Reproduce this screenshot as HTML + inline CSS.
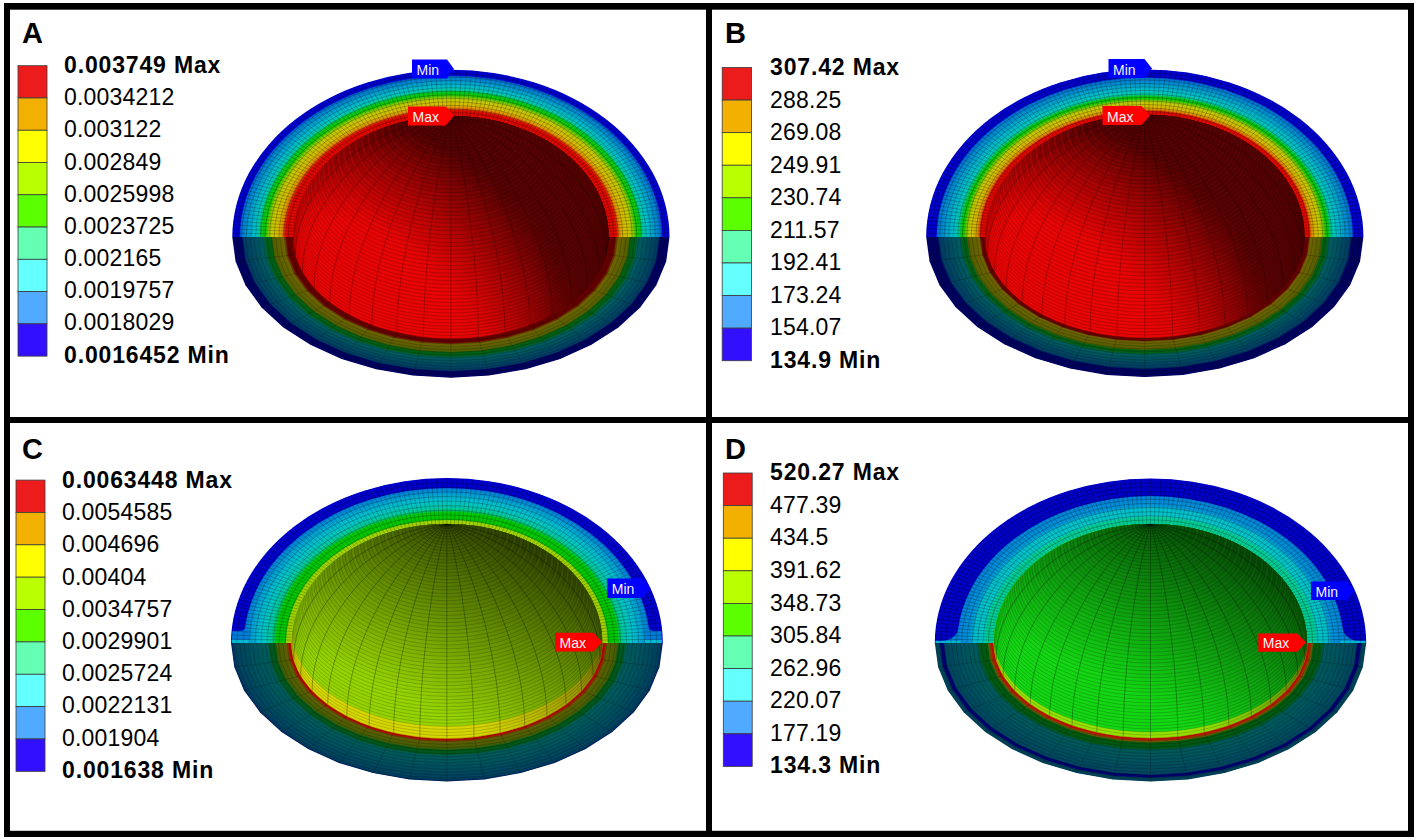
<!DOCTYPE html>
<html><head><meta charset="utf-8"><style>
html,body{margin:0;padding:0;background:#fff;}
svg{display:block;}
text{font-family:"Liberation Sans",sans-serif;fill:#000;}
.let{font-weight:bold;font-size:29px;}
.lb{font-weight:bold;font-size:23px;letter-spacing:0.85px;}
.lr{font-size:23px;letter-spacing:0.2px;}
.tg{font-size:14px;fill:#f4f4f4;}
</style></head><body><svg width="1417" height="840" viewBox="0 0 1417 840">
<rect width="1417" height="840" fill="#fff"/>
<g><path d="M232.30,237.10 A218.60,167.30 0 0 1 669.50,237.10 Z" fill="rgb(0,0,205)"/><path d="M232.97,237.10 A217.93,166.79 0 0 1 668.83,237.10 Z" fill="rgb(0,0,205)"/><path d="M233.65,237.10 A217.25,166.27 0 0 1 668.15,237.10 Z" fill="rgb(0,0,205)"/><path d="M234.32,237.10 A216.58,165.76 0 0 1 667.48,237.10 Z" fill="rgb(0,0,205)"/><path d="M234.99,237.10 A215.91,165.25 0 0 1 666.81,237.10 Z" fill="rgb(0,0,205)"/><path d="M235.67,237.10 A215.23,164.73 0 0 1 666.13,237.10 Z" fill="rgb(0,0,205)"/><path d="M236.34,237.10 A214.56,164.22 0 0 1 665.46,237.10 Z" fill="rgb(0,0,205)"/><path d="M237.01,237.10 A213.89,163.71 0 0 1 664.79,237.10 Z" fill="rgb(0,0,205)"/><path d="M237.69,237.10 A213.21,163.19 0 0 1 664.11,237.10 Z" fill="rgb(0,0,205)"/><path d="M238.36,237.10 A212.54,162.68 0 0 1 663.44,237.10 Z" fill="rgb(0,0,205)"/><path d="M239.03,237.10 A211.87,162.17 0 0 1 662.77,237.10 Z" fill="rgb(0,0,205)"/><path d="M239.71,237.10 A211.19,161.65 0 0 1 662.09,237.10 Z" fill="rgb(0,57,208)"/><path d="M240.38,237.10 A210.52,161.14 0 0 1 661.42,237.10 Z" fill="rgb(0,111,210)"/><path d="M241.05,237.10 A209.85,160.63 0 0 1 660.75,237.10 Z" fill="rgb(0,116,209)"/><path d="M241.73,237.10 A209.17,160.11 0 0 1 660.07,237.10 Z" fill="rgb(0,120,209)"/><path d="M242.40,237.10 A208.50,159.60 0 0 1 659.40,237.10 Z" fill="rgb(0,124,209)"/><path d="M243.07,237.10 A207.83,159.09 0 0 1 658.73,237.10 Z" fill="rgb(0,128,208)"/><path d="M243.75,237.10 A207.15,158.57 0 0 1 658.05,237.10 Z" fill="rgb(0,133,208)"/><path d="M244.42,237.10 A206.48,158.06 0 0 1 657.38,237.10 Z" fill="rgb(0,137,208)"/><path d="M245.09,237.10 A205.81,157.55 0 0 1 656.71,237.10 Z" fill="rgb(0,141,207)"/><path d="M245.77,237.10 A205.13,157.03 0 0 1 656.03,237.10 Z" fill="rgb(0,145,207)"/><path d="M246.44,237.10 A204.46,156.52 0 0 1 655.36,237.10 Z" fill="rgb(0,149,206)"/><path d="M247.11,237.10 A203.79,156.01 0 0 1 654.69,237.10 Z" fill="rgb(0,154,206)"/><path d="M247.79,237.10 A203.11,155.49 0 0 1 654.01,237.10 Z" fill="rgb(0,158,206)"/><path d="M248.46,237.10 A202.44,154.98 0 0 1 653.34,237.10 Z" fill="rgb(0,162,205)"/><path d="M249.13,237.10 A201.77,154.47 0 0 1 652.67,237.10 Z" fill="rgb(0,166,205)"/><path d="M249.81,237.10 A201.09,153.95 0 0 1 651.99,237.10 Z" fill="rgb(0,169,204)"/><path d="M250.48,237.10 A200.42,153.44 0 0 1 651.32,237.10 Z" fill="rgb(0,173,204)"/><path d="M251.15,237.10 A199.75,152.93 0 0 1 650.65,237.10 Z" fill="rgb(0,176,203)"/><path d="M251.83,237.10 A199.07,152.41 0 0 1 649.97,237.10 Z" fill="rgb(0,179,203)"/><path d="M252.50,237.10 A198.40,151.90 0 0 1 649.30,237.10 Z" fill="rgb(0,183,202)"/><path d="M253.17,237.10 A197.73,151.39 0 0 1 648.63,237.10 Z" fill="rgb(0,186,202)"/><path d="M253.85,237.10 A197.05,150.87 0 0 1 647.95,237.10 Z" fill="rgb(0,189,201)"/><path d="M254.52,237.10 A196.38,150.36 0 0 1 647.28,237.10 Z" fill="rgb(0,193,200)"/><path d="M255.19,237.10 A195.71,149.85 0 0 1 646.61,237.10 Z" fill="rgb(0,195,198)"/><path d="M255.87,237.10 A195.03,149.33 0 0 1 645.93,237.10 Z" fill="rgb(0,196,190)"/><path d="M256.54,237.10 A194.36,148.82 0 0 1 645.26,237.10 Z" fill="rgb(0,197,183)"/><path d="M257.21,237.10 A193.69,148.31 0 0 1 644.59,237.10 Z" fill="rgb(0,198,176)"/><path d="M257.89,237.10 A193.01,147.79 0 0 1 643.91,237.10 Z" fill="rgb(0,199,168)"/><path d="M258.56,237.10 A192.34,147.28 0 0 1 643.24,237.10 Z" fill="rgb(0,200,161)"/><path d="M259.23,237.10 A191.67,146.77 0 0 1 642.57,237.10 Z" fill="rgb(0,200,127)"/><path d="M259.91,237.10 A190.99,146.25 0 0 1 641.89,237.10 Z" fill="rgb(0,200,91)"/><path d="M260.58,237.10 A190.32,145.74 0 0 1 641.22,237.10 Z" fill="rgb(0,200,55)"/><path d="M261.25,237.10 A189.65,145.23 0 0 1 640.55,237.10 Z" fill="rgb(1,200,29)"/><path d="M261.93,237.10 A188.97,144.71 0 0 1 639.87,237.10 Z" fill="rgb(6,200,24)"/><path d="M262.60,237.10 A188.30,144.20 0 0 1 639.20,237.10 Z" fill="rgb(11,200,19)"/><path d="M263.27,237.10 A187.63,143.69 0 0 1 638.53,237.10 Z" fill="rgb(16,200,14)"/><path d="M263.95,237.10 A186.95,143.17 0 0 1 637.85,237.10 Z" fill="rgb(20,200,10)"/><path d="M264.62,237.10 A186.28,142.66 0 0 1 637.18,237.10 Z" fill="rgb(25,200,5)"/><path d="M265.29,237.10 A185.61,142.15 0 0 1 636.51,237.10 Z" fill="rgb(30,200,0)"/><path d="M265.97,237.10 A184.93,141.63 0 0 1 635.83,237.10 Z" fill="rgb(57,200,0)"/><path d="M266.64,237.10 A184.26,141.12 0 0 1 635.16,237.10 Z" fill="rgb(83,200,0)"/><path d="M267.31,237.10 A183.59,140.61 0 0 1 634.49,237.10 Z" fill="rgb(110,200,0)"/><path d="M267.99,237.10 A182.91,140.09 0 0 1 633.81,237.10 Z" fill="rgb(137,200,0)"/><path d="M268.66,237.10 A182.24,139.58 0 0 1 633.14,237.10 Z" fill="rgb(155,200,0)"/><path d="M269.33,237.10 A181.57,139.07 0 0 1 632.47,237.10 Z" fill="rgb(164,200,0)"/><path d="M270.01,237.10 A180.89,138.55 0 0 1 631.79,237.10 Z" fill="rgb(173,200,0)"/><path d="M270.68,237.10 A180.22,138.04 0 0 1 631.12,237.10 Z" fill="rgb(182,200,0)"/><path d="M271.35,237.10 A179.55,137.53 0 0 1 630.45,237.10 Z" fill="rgb(192,200,0)"/><path d="M272.03,237.10 A178.87,137.01 0 0 1 629.77,237.10 Z" fill="rgb(200,200,0)"/><path d="M272.70,237.10 A178.20,136.50 0 0 1 629.10,237.10 Z" fill="rgb(202,198,0)"/><path d="M273.37,237.10 A177.53,135.99 0 0 1 628.43,237.10 Z" fill="rgb(204,196,0)"/><path d="M274.05,237.10 A176.85,135.47 0 0 1 627.75,237.10 Z" fill="rgb(205,195,0)"/><path d="M274.72,237.10 A176.18,134.96 0 0 1 627.08,237.10 Z" fill="rgb(207,193,0)"/><path d="M275.39,237.10 A175.51,134.45 0 0 1 626.41,237.10 Z" fill="rgb(208,192,0)"/><path d="M276.07,237.10 A174.83,133.93 0 0 1 625.73,237.10 Z" fill="rgb(210,190,0)"/><path d="M276.74,237.10 A174.16,133.42 0 0 1 625.06,237.10 Z" fill="rgb(212,188,0)"/><path d="M277.41,237.10 A173.49,132.91 0 0 1 624.39,237.10 Z" fill="rgb(214,186,0)"/><path d="M278.09,237.10 A172.81,132.39 0 0 1 623.71,237.10 Z" fill="rgb(215,184,0)"/><path d="M278.76,237.10 A172.14,131.88 0 0 1 623.04,237.10 Z" fill="rgb(216,176,0)"/><path d="M279.43,237.10 A171.47,131.37 0 0 1 622.37,237.10 Z" fill="rgb(217,168,0)"/><path d="M280.11,237.10 A170.79,130.85 0 0 1 621.69,237.10 Z" fill="rgb(218,159,0)"/><path d="M280.78,237.10 A170.12,130.34 0 0 1 621.02,237.10 Z" fill="rgb(219,151,0)"/><path d="M281.45,237.10 A169.45,129.83 0 0 1 620.35,237.10 Z" fill="rgb(220,142,0)"/><path d="M282.13,237.10 A168.77,129.31 0 0 1 619.67,237.10 Z" fill="rgb(220,122,0)"/><path d="M282.80,237.10 A168.10,128.80 0 0 1 619.00,237.10 Z" fill="rgb(220,97,0)"/><path d="M283.47,237.10 A167.43,128.29 0 0 1 618.33,237.10 Z" fill="rgb(220,71,0)"/><path d="M284.15,237.10 A166.75,127.77 0 0 1 617.65,237.10 Z" fill="rgb(221,45,0)"/><path d="M284.82,237.10 A166.08,127.26 0 0 1 616.98,237.10 Z" fill="rgb(222,17,0)"/><path d="M285.49,237.10 A165.41,126.75 0 0 1 616.31,237.10 Z" fill="rgb(222,10,0)"/><path d="M286.17,237.10 A164.73,126.23 0 0 1 615.63,237.10 Z" fill="rgb(222,10,0)"/><path d="M286.84,237.10 A164.06,125.72 0 0 1 614.96,237.10 Z" fill="rgb(222,10,0)"/><path d="M287.51,237.10 A163.39,125.21 0 0 1 614.29,237.10 Z" fill="rgb(222,10,0)"/><path d="M288.19,237.10 A162.71,124.69 0 0 1 613.61,237.10 Z" fill="rgb(222,10,0)"/><path d="M288.86,237.10 A162.04,124.18 0 0 1 612.94,237.10 Z" fill="rgb(222,10,0)"/><path d="M289.53,237.10 A161.37,123.67 0 0 1 612.27,237.10 Z" fill="rgb(222,10,0)"/><path d="M290.21,237.10 A160.69,123.15 0 0 1 611.59,237.10 Z" fill="rgb(222,10,0)"/><path d="M290.88,237.10 A160.02,122.64 0 0 1 610.92,237.10 Z" fill="rgb(222,10,0)"/><path d="M291.55,237.10 A159.35,122.13 0 0 1 610.25,237.10 Z" fill="rgb(222,10,0)"/><path d="M292.23,237.10 A158.67,121.61 0 0 1 609.57,237.10 Z" fill="rgb(222,10,0)"/></g>
<path d="M236.96,237.10 A213.94,163.75 0 0 1 664.84,237.10 M241.62,237.10 A209.28,160.19 0 0 1 660.18,237.10 M246.28,237.10 A204.62,156.64 0 0 1 655.52,237.10 M250.95,237.10 A199.95,153.08 0 0 1 650.85,237.10 M255.61,237.10 A195.29,149.53 0 0 1 646.19,237.10 M260.27,237.10 A190.63,145.98 0 0 1 641.53,237.10 M264.93,237.10 A185.97,142.42 0 0 1 636.87,237.10 M269.59,237.10 A181.31,138.87 0 0 1 632.21,237.10 M274.25,237.10 A176.65,135.32 0 0 1 627.55,237.10 M278.92,237.10 A171.98,131.76 0 0 1 622.88,237.10 M283.58,237.10 A167.32,128.21 0 0 1 618.22,237.10 M288.24,237.10 A162.66,124.65 0 0 1 613.56,237.10 M232.4,233.1 L292.9,234.2 M232.6,229.0 L293.1,231.2 M232.9,225.0 L293.3,228.3 M233.3,221.0 L293.6,225.4 M233.9,216.9 L294.1,222.5 M234.6,212.9 L294.6,219.6 M235.4,208.9 L295.2,216.7 M236.4,205.0 L295.8,213.8 M237.4,201.0 L296.6,211.0 M238.7,197.1 L297.5,208.1 M240.0,193.1 L298.4,205.3 M241.4,189.3 L299.5,202.5 M243.0,185.4 L300.6,199.7 M244.7,181.6 L301.9,196.9 M246.5,177.8 L303.2,194.2 M248.4,174.0 L304.6,191.4 M250.5,170.3 L306.0,188.7 M252.7,166.6 L307.6,186.1 M254.9,163.0 L309.3,183.4 M257.3,159.4 L311.0,180.8 M259.9,155.8 L312.8,178.2 M262.5,152.3 L314.7,175.7 M265.2,148.8 L316.7,173.2 M268.0,145.4 L318.7,170.7 M271.0,142.1 L320.9,168.3 M274.0,138.8 L323.1,165.9 M277.2,135.5 L325.4,163.6 M280.5,132.3 L327.7,161.3 M283.8,129.2 L330.1,159.0 M287.3,126.2 L332.6,156.8 M290.8,123.2 L335.2,154.6 M294.5,120.2 L337.8,152.5 M298.2,117.4 L340.5,150.4 M302.0,114.6 L343.3,148.4 M305.9,111.9 L346.1,146.5 M309.9,109.2 L349.0,144.5 M314.0,106.7 L352.0,142.7 M318.2,104.2 L355.0,140.9 M322.4,101.8 L358.0,139.1 M326.7,99.4 L361.1,137.4 M331.1,97.2 L364.3,135.8 M335.6,95.0 L367.5,134.2 M340.1,92.9 L370.8,132.7 M344.7,90.9 L374.1,131.3 M349.3,89.0 L377.5,129.9 M354.0,87.1 L380.9,128.5 M358.8,85.4 L384.3,127.3 M363.6,83.7 L387.8,126.1 M368.5,82.2 L391.3,124.9 M373.4,80.7 L394.9,123.9 M378.3,79.3 L398.5,122.9 M383.3,78.0 L402.1,121.9 M388.4,76.8 L405.7,121.1 M393.5,75.7 L409.4,120.3 M398.6,74.7 L413.1,119.5 M403.7,73.7 L416.8,118.9 M408.9,72.9 L420.5,118.3 M414.1,72.2 L424.3,117.7 M419.3,71.6 L428.1,117.3 M424.6,71.0 L431.9,116.9 M429.8,70.6 L435.7,116.6 M435.1,70.2 L439.5,116.3 M440.3,70.0 L443.3,116.1 M445.6,69.8 L447.1,116.0 M450.9,69.8 L450.9,116.0 M456.2,69.8 L454.7,116.0 M461.5,70.0 L458.5,116.1 M466.7,70.2 L462.3,116.3 M472.0,70.6 L466.1,116.6 M477.2,71.0 L469.9,116.9 M482.5,71.6 L473.7,117.3 M487.7,72.2 L477.5,117.7 M492.9,72.9 L481.3,118.3 M498.1,73.7 L485.0,118.9 M503.2,74.7 L488.7,119.5 M508.3,75.7 L492.4,120.3 M513.4,76.8 L496.1,121.1 M518.5,78.0 L499.7,121.9 M523.5,79.3 L503.3,122.9 M528.4,80.7 L506.9,123.9 M533.3,82.2 L510.5,124.9 M538.2,83.7 L514.0,126.1 M543.0,85.4 L517.5,127.3 M547.8,87.1 L520.9,128.5 M552.5,89.0 L524.3,129.9 M557.1,90.9 L527.7,131.3 M561.7,92.9 L531.0,132.7 M566.2,95.0 L534.3,134.2 M570.7,97.2 L537.5,135.8 M575.1,99.4 L540.7,137.4 M579.4,101.8 L543.8,139.1 M583.6,104.2 L546.8,140.9 M587.8,106.7 L549.8,142.7 M591.9,109.2 L552.8,144.5 M595.9,111.9 L555.7,146.5 M599.8,114.6 L558.5,148.4 M603.6,117.4 L561.3,150.4 M607.3,120.2 L564.0,152.5 M611.0,123.2 L566.6,154.6 M614.5,126.2 L569.2,156.8 M618.0,129.2 L571.7,159.0 M621.3,132.3 L574.1,161.3 M624.6,135.5 L576.4,163.6 M627.8,138.8 L578.7,165.9 M630.8,142.1 L580.9,168.3 M633.8,145.4 L583.1,170.7 M636.6,148.8 L585.1,173.2 M639.3,152.3 L587.1,175.7 M641.9,155.8 L589.0,178.2 M644.5,159.4 L590.8,180.8 M646.9,163.0 L592.5,183.4 M649.1,166.6 L594.2,186.1 M651.3,170.3 L595.8,188.7 M653.4,174.0 L597.2,191.4 M655.3,177.8 L598.6,194.2 M657.1,181.6 L599.9,196.9 M658.8,185.4 L601.2,199.7 M660.4,189.3 L602.3,202.5 M661.8,193.1 L603.4,205.3 M663.1,197.1 L604.3,208.1 M664.4,201.0 L605.2,211.0 M665.4,205.0 L606.0,213.8 M666.4,208.9 L606.6,216.7 M667.2,212.9 L607.2,219.6 M667.9,216.9 L607.7,222.5 M668.5,221.0 L608.2,225.4 M668.9,225.0 L608.5,228.3 M669.2,229.0 L608.7,231.2 M669.4,233.1 L608.9,234.2" fill="none" stroke="#000" stroke-opacity="0.42" stroke-width="0.55"/>
<g><polygon points="232.3,237.1 235.6,261.5 245.5,285.2 261.6,307.4 283.4,327.5 310.4,344.8 341.6,358.9 376.1,369.2 412.9,375.6 450.9,377.7 488.9,375.6 525.7,369.2 560.2,358.9 591.4,344.8 618.4,327.5 640.2,307.4 656.3,285.2 666.2,261.5 669.5,237.1" fill="rgb(0,0,95)"/><polygon points="233.0,237.1 236.3,261.4 246.1,285.0 262.2,307.2 284.0,327.2 310.8,344.5 341.9,358.5 376.4,368.8 413.1,375.1 450.9,377.3 488.7,375.1 525.4,368.8 559.9,358.5 591.0,344.5 617.8,327.2 639.6,307.2 655.7,285.0 665.5,261.4 668.8,237.1" fill="rgb(0,0,95)"/><polygon points="233.6,237.1 236.9,261.4 246.7,284.9 262.8,307.0 284.5,326.9 311.3,344.1 342.3,358.1 376.6,368.4 413.2,374.7 450.9,376.8 488.6,374.7 525.2,368.4 559.5,358.1 590.5,344.1 617.3,326.9 639.0,307.0 655.1,284.9 664.9,261.4 668.2,237.1" fill="rgb(0,0,95)"/><polygon points="234.3,237.1 237.6,261.3 247.4,284.7 263.3,306.7 285.0,326.6 311.7,343.8 342.6,357.7 376.8,368.0 413.3,374.3 450.9,376.4 488.5,374.3 525.0,368.0 559.2,357.7 590.1,343.8 616.8,326.6 638.5,306.7 654.4,284.7 664.2,261.3 667.5,237.1" fill="rgb(0,0,95)"/><polygon points="235.0,237.1 238.3,261.2 248.0,284.6 263.9,306.5 285.5,326.4 312.1,343.5 342.9,357.4 377.1,367.6 413.4,373.9 450.9,376.0 488.4,373.9 524.7,367.6 558.9,357.4 589.7,343.5 616.3,326.4 637.9,306.5 653.8,284.6 663.5,261.2 666.8,237.1" fill="rgb(0,0,95)"/><polygon points="235.7,237.1 238.9,261.1 248.6,284.4 264.5,306.3 286.0,326.1 312.6,343.1 343.3,357.0 377.3,367.2 413.5,373.4 450.9,375.5 488.3,373.4 524.5,367.2 558.5,357.0 589.2,343.1 615.8,326.1 637.3,306.3 653.2,284.4 662.9,261.1 666.1,237.1" fill="rgb(0,0,95)"/><polygon points="236.3,237.1 239.6,261.1 249.3,284.3 265.1,306.1 286.5,325.8 313.0,342.8 343.6,356.6 377.5,366.8 413.6,373.0 450.9,375.1 488.2,373.0 524.3,366.8 558.2,356.6 588.8,342.8 615.3,325.8 636.7,306.1 652.5,284.3 662.2,261.1 665.5,237.1" fill="rgb(0,0,95)"/><polygon points="237.0,237.1 240.3,261.0 249.9,284.1 265.7,305.9 287.1,325.5 313.4,342.5 344.0,356.2 377.7,366.4 413.8,372.6 450.9,374.7 488.0,372.6 524.1,366.4 557.8,356.2 588.4,342.5 614.7,325.5 636.1,305.9 651.9,284.1 661.5,261.0 664.8,237.1" fill="rgb(0,0,95)"/><polygon points="237.7,237.1 240.9,260.9 250.5,284.0 266.3,305.7 287.6,325.2 313.8,342.1 344.3,355.9 378.0,366.0 413.9,372.1 450.9,374.2 487.9,372.1 523.8,366.0 557.5,355.9 588.0,342.1 614.2,325.2 635.5,305.7 651.3,284.0 660.9,260.9 664.1,237.1" fill="rgb(0,0,95)"/><polygon points="238.4,237.1 241.6,260.8 251.2,283.9 266.8,305.4 288.1,325.0 314.3,341.8 344.6,355.5 378.2,365.5 414.0,371.7 450.9,373.8 487.8,371.7 523.6,365.5 557.2,355.5 587.5,341.8 613.7,325.0 635.0,305.4 650.6,283.9 660.2,260.8 663.4,237.1" fill="rgb(0,0,95)"/><polygon points="239.0,237.1 242.3,260.8 251.8,283.7 267.4,305.2 288.6,324.7 314.7,341.5 345.0,355.1 378.4,365.1 414.1,371.3 450.9,373.4 487.7,371.3 523.4,365.1 556.8,355.1 587.1,341.5 613.2,324.7 634.4,305.2 650.0,283.7 659.5,260.8 662.8,237.1" fill="rgb(0,0,95)"/><polygon points="239.7,237.1 242.9,260.7 252.4,283.6 268.0,305.0 289.1,324.4 315.1,341.1 345.3,354.7 378.7,364.7 414.2,370.9 450.9,372.9 487.6,370.9 523.1,364.7 556.5,354.7 586.7,341.1 612.7,324.4 633.8,305.0 649.4,283.6 658.9,260.7 662.1,237.1" fill="rgb(0,0,95)"/><polygon points="240.4,237.1 243.6,260.6 253.1,283.4 268.6,304.8 289.6,324.1 315.6,340.8 345.6,354.3 378.9,364.3 414.3,370.4 450.9,372.5 487.5,370.4 522.9,364.3 556.2,354.3 586.2,340.8 612.2,324.1 633.2,304.8 648.7,283.4 658.2,260.6 661.4,237.1" fill="rgb(0,0,95)"/><polygon points="241.1,237.1 244.2,260.5 253.7,283.3 269.2,304.6 290.1,323.8 316.0,340.5 346.0,354.0 379.1,363.9 414.5,370.0 450.9,372.1 487.3,370.0 522.7,363.9 555.8,354.0 585.8,340.5 611.7,323.8 632.6,304.6 648.1,283.3 657.6,260.5 660.7,237.1" fill="rgb(0,0,95)"/><polygon points="241.7,237.1 244.9,260.5 254.3,283.1 269.8,304.4 290.7,323.6 316.4,340.1 346.3,353.6 379.4,363.5 414.6,369.6 450.9,371.6 487.2,369.6 522.4,363.5 555.5,353.6 585.4,340.1 611.1,323.6 632.0,304.4 647.5,283.1 656.9,260.5 660.1,237.1" fill="rgb(0,15,96)"/><polygon points="242.4,237.1 245.6,260.4 255.0,283.0 270.3,304.1 291.2,323.3 316.9,339.8 346.6,353.2 379.6,363.1 414.7,369.1 450.9,371.2 487.1,369.1 522.2,363.1 555.1,353.2 584.9,339.8 610.6,323.3 631.5,304.1 646.8,283.0 656.2,260.4 659.4,237.1" fill="rgb(0,41,98)"/><polygon points="243.1,237.1 246.2,260.3 255.6,282.8 270.9,303.9 291.7,323.0 317.3,339.5 347.0,352.8 379.8,362.7 414.8,368.7 450.9,370.7 487.0,368.7 522.0,362.7 554.8,352.8 584.5,339.5 610.1,323.0 630.9,303.9 646.2,282.8 655.6,260.3 658.7,237.1" fill="rgb(0,60,100)"/><polygon points="243.7,237.1 246.9,260.2 256.2,282.7 271.5,303.7 292.2,322.7 317.7,339.1 347.3,352.5 380.0,362.3 414.9,368.3 450.9,370.3 486.9,368.3 521.8,362.3 554.5,352.5 584.1,339.1 609.6,322.7 630.3,303.7 645.6,282.7 654.9,260.2 658.1,237.1" fill="rgb(0,62,100)"/><polygon points="244.4,237.1 247.6,260.2 256.9,282.5 272.1,303.5 292.7,322.4 318.2,338.8 347.7,352.1 380.3,361.9 415.0,367.9 450.9,369.9 486.8,367.9 521.5,361.9 554.1,352.1 583.6,338.8 609.1,322.4 629.7,303.5 644.9,282.5 654.2,260.2 657.4,237.1" fill="rgb(0,63,100)"/><polygon points="245.1,237.1 248.2,260.1 257.5,282.4 272.7,303.3 293.2,322.2 318.6,338.5 348.0,351.7 380.5,361.5 415.2,367.4 450.9,369.4 486.6,367.4 521.3,361.5 553.8,351.7 583.2,338.5 608.6,322.2 629.1,303.3 644.3,282.4 653.6,260.1 656.7,237.1" fill="rgb(0,64,99)"/><polygon points="245.8,237.1 248.9,260.0 258.1,282.2 273.2,303.1 293.8,321.9 319.0,338.1 348.3,351.3 380.7,361.1 415.3,367.0 450.9,369.0 486.5,367.0 521.1,361.1 553.5,351.3 582.8,338.1 608.0,321.9 628.6,303.1 643.7,282.2 652.9,260.0 656.0,237.1" fill="rgb(0,65,99)"/><polygon points="246.4,237.1 249.5,259.9 258.8,282.1 273.8,302.8 294.3,321.6 319.5,337.8 348.7,351.0 381.0,360.6 415.4,366.6 450.9,368.6 486.4,366.6 520.8,360.6 553.1,351.0 582.3,337.8 607.5,321.6 628.0,302.8 643.0,282.1 652.3,259.9 655.4,237.1" fill="rgb(0,66,99)"/><polygon points="247.1,237.1 250.2,259.9 259.4,281.9 274.4,302.6 294.8,321.3 319.9,337.5 349.0,350.6 381.2,360.2 415.5,366.2 450.9,368.1 486.3,366.2 520.6,360.2 552.8,350.6 581.9,337.5 607.0,321.3 627.4,302.6 642.4,281.9 651.6,259.9 654.7,237.1" fill="rgb(0,67,99)"/><polygon points="247.8,237.1 250.9,259.8 260.0,281.8 275.0,302.4 295.3,321.1 320.3,337.2 349.3,350.2 381.4,359.8 415.6,365.7 450.9,367.7 486.2,365.7 520.4,359.8 552.5,350.2 581.5,337.2 606.5,321.1 626.8,302.4 641.8,281.8 650.9,259.8 654.0,237.1" fill="rgb(0,69,99)"/><polygon points="248.5,237.1 251.5,259.7 260.7,281.6 275.6,302.2 295.8,320.8 320.8,336.8 349.7,349.8 381.7,359.4 415.7,365.3 450.9,367.3 486.1,365.3 520.1,359.4 552.1,349.8 581.0,336.8 606.0,320.8 626.2,302.2 641.1,281.6 650.3,259.7 653.3,237.1" fill="rgb(0,70,99)"/><polygon points="249.1,237.1 252.2,259.6 261.3,281.5 276.2,302.0 296.3,320.5 321.2,336.5 350.0,349.5 381.9,359.0 415.9,364.9 450.9,366.8 485.9,364.9 519.9,359.0 551.8,349.5 580.6,336.5 605.5,320.5 625.6,302.0 640.5,281.5 649.6,259.6 652.7,237.1" fill="rgb(0,71,98)"/><polygon points="249.8,237.1 252.9,259.6 261.9,281.3 276.7,301.8 296.9,320.2 321.6,336.2 350.4,349.1 382.1,358.6 416.0,364.4 450.9,366.4 485.8,364.4 519.7,358.6 551.4,349.1 580.2,336.2 604.9,320.2 625.1,301.8 639.9,281.3 648.9,259.6 652.0,237.1" fill="rgb(0,72,98)"/><polygon points="250.5,237.1 253.5,259.5 262.6,281.2 277.3,301.5 297.4,319.9 322.1,335.8 350.7,348.7 382.4,358.2 416.1,364.0 450.9,366.0 485.7,364.0 519.4,358.2 551.1,348.7 579.7,335.8 604.4,319.9 624.5,301.5 639.2,281.2 648.3,259.5 651.3,237.1" fill="rgb(0,73,98)"/><polygon points="251.2,237.1 254.2,259.4 263.2,281.0 277.9,301.3 297.9,319.7 322.5,335.5 351.0,348.3 382.6,357.8 416.2,363.6 450.9,365.5 485.6,363.6 519.2,357.8 550.8,348.3 579.3,335.5 603.9,319.7 623.9,301.3 638.6,281.0 647.6,259.4 650.6,237.1" fill="rgb(0,74,98)"/><polygon points="251.8,237.1 254.9,259.3 263.8,280.9 278.5,301.1 298.4,319.4 322.9,335.2 351.4,348.0 382.8,357.4 416.3,363.2 450.9,365.1 485.5,363.2 519.0,357.4 550.4,348.0 578.9,335.2 603.4,319.4 623.3,301.1 638.0,280.9 646.9,259.3 650.0,237.1" fill="rgb(0,76,98)"/><polygon points="252.5,237.1 255.5,259.3 264.5,280.7 279.1,300.9 298.9,319.1 323.4,334.8 351.7,347.6 383.0,357.0 416.4,362.7 450.9,364.7 485.4,362.7 518.8,357.0 550.1,347.6 578.4,334.8 602.9,319.1 622.7,300.9 637.3,280.7 646.3,259.3 649.3,237.1" fill="rgb(0,77,98)"/><polygon points="253.2,237.1 256.2,259.2 265.1,280.6 279.7,300.7 299.4,318.8 323.8,334.5 352.0,347.2 383.3,356.6 416.6,362.3 450.9,364.2 485.2,362.3 518.5,356.6 549.8,347.2 578.0,334.5 602.4,318.8 622.1,300.7 636.7,280.6 645.6,259.2 648.6,237.1" fill="rgb(0,78,97)"/><polygon points="253.8,237.1 256.8,259.1 265.7,280.4 280.2,300.4 299.9,318.5 324.2,334.2 352.4,346.8 383.5,356.2 416.7,361.9 450.9,363.8 485.1,361.9 518.3,356.2 549.4,346.8 577.6,334.2 601.9,318.5 621.6,300.4 636.1,280.4 645.0,259.1 648.0,237.1" fill="rgb(0,79,97)"/><polygon points="254.5,237.1 257.5,259.0 266.4,280.3 280.8,300.2 300.5,318.3 324.7,333.8 352.7,346.4 383.7,355.7 416.8,361.4 450.9,363.4 485.0,361.4 518.1,355.7 549.1,346.4 577.1,333.8 601.3,318.3 621.0,300.2 635.4,280.3 644.3,259.0 647.3,237.1" fill="rgb(0,80,97)"/><polygon points="255.2,237.1 258.2,258.9 267.0,280.1 281.4,300.0 301.0,318.0 325.1,333.5 353.0,346.1 384.0,355.3 416.9,361.0 450.9,362.9 484.9,361.0 517.8,355.3 548.8,346.1 576.7,333.5 600.8,318.0 620.4,300.0 634.8,280.1 643.6,258.9 646.6,237.1" fill="rgb(0,82,97)"/><polygon points="255.9,237.1 258.8,258.9 267.6,280.0 282.0,299.8 301.5,317.7 325.5,333.2 353.4,345.7 384.2,354.9 417.0,360.6 450.9,362.5 484.8,360.6 517.6,354.9 548.4,345.7 576.3,333.2 600.3,317.7 619.8,299.8 634.2,280.0 643.0,258.9 645.9,237.1" fill="rgb(0,83,97)"/><polygon points="256.5,237.1 259.5,258.8 268.3,279.8 282.6,299.6 302.0,317.4 326.0,332.8 353.7,345.3 384.4,354.5 417.1,360.2 450.9,362.1 484.7,360.2 517.4,354.5 548.1,345.3 575.8,332.8 599.8,317.4 619.2,299.6 633.5,279.8 642.3,258.8 645.3,237.1" fill="rgb(0,84,97)"/><polygon points="257.2,237.1 260.2,258.7 268.9,279.7 283.2,299.4 302.5,317.1 326.4,332.5 354.1,344.9 384.7,354.1 417.3,359.7 450.9,361.6 484.5,359.7 517.1,354.1 547.7,344.9 575.4,332.5 599.3,317.1 618.6,299.4 632.9,279.7 641.6,258.7 644.6,237.1" fill="rgb(0,85,96)"/><polygon points="257.9,237.1 260.8,258.6 269.5,279.5 283.7,299.1 303.0,316.9 326.8,332.2 354.4,344.6 384.9,353.7 417.4,359.3 450.9,361.2 484.4,359.3 516.9,353.7 547.4,344.6 575.0,332.2 598.8,316.9 618.1,299.1 632.3,279.5 641.0,258.6 643.9,237.1" fill="rgb(0,86,96)"/><polygon points="258.6,237.1 261.5,258.6 270.2,279.4 284.3,298.9 303.6,316.6 327.3,331.8 354.7,344.2 385.1,353.3 417.5,358.9 450.9,360.8 484.3,358.9 516.7,353.3 547.1,344.2 574.5,331.8 598.2,316.6 617.5,298.9 631.6,279.4 640.3,258.6 643.2,237.1" fill="rgb(0,87,96)"/><polygon points="259.2,237.1 262.1,258.5 270.8,279.2 284.9,298.7 304.1,316.3 327.7,331.5 355.1,343.8 385.3,352.9 417.6,358.5 450.9,360.3 484.2,358.5 516.5,352.9 546.7,343.8 574.1,331.5 597.7,316.3 616.9,298.7 631.0,279.2 639.7,258.5 642.6,237.1" fill="rgb(0,89,96)"/><polygon points="259.9,237.1 262.8,258.4 271.4,279.1 285.5,298.5 304.6,316.0 328.1,331.2 355.4,343.4 385.6,352.5 417.7,358.0 450.9,359.9 484.1,358.0 516.2,352.5 546.4,343.4 573.7,331.2 597.2,316.0 616.3,298.5 630.4,279.1 639.0,258.4 641.9,237.1" fill="rgb(0,90,96)"/><polygon points="260.6,237.1 263.5,258.3 272.1,278.9 286.1,298.3 305.1,315.7 328.6,330.8 355.7,343.1 385.8,352.1 417.9,357.6 450.9,359.5 483.9,357.6 516.0,352.1 546.1,343.1 573.2,330.8 596.7,315.7 615.7,298.3 629.7,278.9 638.3,258.3 641.2,237.1" fill="rgb(0,91,96)"/><polygon points="261.3,237.1 264.1,258.3 272.7,278.8 286.7,298.1 305.6,315.5 329.0,330.5 356.1,342.7 386.0,351.7 418.0,357.2 450.9,359.0 483.8,357.2 515.8,351.7 545.7,342.7 572.8,330.5 596.2,315.5 615.1,298.1 629.1,278.8 637.7,258.3 640.5,237.1" fill="rgb(0,92,95)"/><polygon points="261.9,237.1 264.8,258.2 273.3,278.7 287.2,297.8 306.1,315.2 329.4,330.2 356.4,342.3 386.3,351.3 418.1,356.7 450.9,358.6 483.7,356.7 515.5,351.3 545.4,342.3 572.4,330.2 595.7,315.2 614.6,297.8 628.5,278.7 637.0,258.2 639.9,237.1" fill="rgb(0,93,95)"/><polygon points="262.6,237.1 265.5,258.1 274.0,278.5 287.8,297.6 306.7,314.9 329.9,329.8 356.7,341.9 386.5,350.8 418.2,356.3 450.9,358.1 483.6,356.3 515.3,350.8 545.0,341.9 571.9,329.8 595.1,314.9 614.0,297.6 627.8,278.5 636.3,258.1 639.2,237.1" fill="rgb(0,95,95)"/><polygon points="263.3,237.1 266.1,258.0 274.6,278.4 288.4,297.4 307.2,314.6 330.3,329.5 357.1,341.6 386.7,350.4 418.3,355.9 450.9,357.7 483.5,355.9 515.1,350.4 544.7,341.6 571.5,329.5 594.6,314.6 613.4,297.4 627.2,278.4 635.7,258.0 638.5,237.1" fill="rgb(0,95,81)"/><polygon points="263.9,237.1 266.8,258.0 275.2,278.2 289.0,297.2 307.7,314.4 330.7,329.2 357.4,341.2 387.0,350.0 418.4,355.5 450.9,357.3 483.4,355.5 514.8,350.0 544.4,341.2 571.1,329.2 594.1,314.4 612.8,297.2 626.6,278.2 635.0,258.0 637.9,237.1" fill="rgb(0,95,56)"/><polygon points="264.6,237.1 267.5,257.9 275.9,278.1 289.6,297.0 308.2,314.1 331.2,328.8 357.8,340.8 387.2,349.6 418.6,355.0 450.9,356.8 483.2,355.0 514.6,349.6 544.0,340.8 570.6,328.8 593.6,314.1 612.2,297.0 625.9,278.1 634.3,257.9 637.2,237.1" fill="rgb(0,95,32)"/><polygon points="265.3,237.1 268.1,257.8 276.5,277.9 290.2,296.8 308.7,313.8 331.6,328.5 358.1,340.4 387.4,349.2 418.7,354.6 450.9,356.4 483.1,354.6 514.4,349.2 543.7,340.4 570.2,328.5 593.1,313.8 611.6,296.8 625.3,277.9 633.7,257.8 636.5,237.1" fill="rgb(0,95,29)"/><polygon points="266.0,237.1 268.8,257.7 277.1,277.8 290.7,296.5 309.2,313.5 332.0,328.2 358.4,340.1 387.6,348.8 418.8,354.2 450.9,356.0 483.0,354.2 514.2,348.8 543.4,340.1 569.8,328.2 592.6,313.5 611.1,296.5 624.7,277.8 633.0,257.7 635.8,237.1" fill="rgb(0,95,28)"/><polygon points="266.6,237.1 269.4,257.7 277.8,277.6 291.3,296.3 309.7,313.2 332.5,327.8 358.8,339.7 387.9,348.4 418.9,353.7 450.9,355.5 482.9,353.7 513.9,348.4 543.0,339.7 569.3,327.8 592.1,313.2 610.5,296.3 624.0,277.6 632.4,257.7 635.2,237.1" fill="rgb(0,95,26)"/><polygon points="267.3,237.1 270.1,257.6 278.4,277.5 291.9,296.1 310.3,313.0 332.9,327.5 359.1,339.3 388.1,348.0 419.0,353.3 450.9,355.1 482.8,353.3 513.7,348.0 542.7,339.3 568.9,327.5 591.5,313.0 609.9,296.1 623.4,277.5 631.7,257.6 634.5,237.1" fill="rgb(0,95,25)"/><polygon points="268.0,237.1 270.8,257.5 279.0,277.3 292.5,295.9 310.8,312.7 333.3,327.2 359.4,338.9 388.3,347.6 419.1,352.9 450.9,354.7 482.7,352.9 513.5,347.6 542.4,338.9 568.5,327.2 591.0,312.7 609.3,295.9 622.8,277.3 631.0,257.5 633.8,237.1" fill="rgb(0,95,24)"/><polygon points="268.7,237.1 271.4,257.4 279.7,277.2 293.1,295.7 311.3,312.4 333.8,326.8 359.8,338.5 388.6,347.2 419.3,352.5 450.9,354.2 482.5,352.5 513.2,347.2 542.0,338.5 568.0,326.8 590.5,312.4 608.7,295.7 622.1,277.2 630.4,257.4 633.1,237.1" fill="rgb(0,95,23)"/><polygon points="269.3,237.1 272.1,257.4 280.3,277.0 293.7,295.5 311.8,312.1 334.2,326.5 360.1,338.2 388.8,346.8 419.4,352.0 450.9,353.8 482.4,352.0 513.0,346.8 541.7,338.2 567.6,326.5 590.0,312.1 608.1,295.5 621.5,277.0 629.7,257.4 632.5,237.1" fill="rgb(0,95,21)"/><polygon points="270.0,237.1 272.8,257.3 280.9,276.9 294.2,295.2 312.3,311.8 334.6,326.2 360.5,337.8 389.0,346.4 419.5,351.6 450.9,353.4 482.3,351.6 512.8,346.4 541.3,337.8 567.2,326.2 589.5,311.8 607.6,295.2 620.9,276.9 629.0,257.3 631.8,237.1" fill="rgb(0,95,20)"/><polygon points="270.7,237.1 273.4,257.2 281.5,276.7 294.8,295.0 312.8,311.6 335.1,325.8 360.8,337.4 389.3,346.0 419.6,351.2 450.9,352.9 482.2,351.2 512.5,346.0 541.0,337.4 566.7,325.8 589.0,311.6 607.0,295.0 620.3,276.7 628.4,257.2 631.1,237.1" fill="rgb(19,95,16)"/><polygon points="271.4,237.1 274.1,257.1 282.2,276.6 295.4,294.8 313.4,311.3 335.5,325.5 361.1,337.0 389.5,345.5 419.7,350.7 450.9,352.5 482.1,350.7 512.3,345.5 540.7,337.0 566.3,325.5 588.4,311.3 606.4,294.8 619.6,276.6 627.7,257.1 630.4,237.1" fill="rgb(42,95,10)"/><polygon points="272.0,237.1 274.7,257.1 282.8,276.4 296.0,294.6 313.9,311.0 335.9,325.2 361.5,336.7 389.7,345.1 419.8,350.3 450.9,352.1 482.0,350.3 512.1,345.1 540.3,336.7 565.9,325.2 587.9,311.0 605.8,294.6 619.0,276.4 627.1,257.1 629.8,237.1" fill="rgb(66,95,4)"/><polygon points="272.7,237.1 275.4,257.0 283.4,276.3 296.6,294.4 314.4,310.7 336.4,324.8 361.8,336.3 390.0,344.7 420.0,349.9 450.9,351.6 481.8,349.9 511.8,344.7 540.0,336.3 565.4,324.8 587.4,310.7 605.2,294.4 618.4,276.3 626.4,257.0 629.1,237.1" fill="rgb(85,95,0)"/><polygon points="273.4,237.1 276.1,256.9 284.1,276.1 297.2,294.1 314.9,310.4 336.8,324.5 362.1,335.9 390.2,344.3 420.1,349.5 450.9,351.2 481.7,349.5 511.6,344.3 539.7,335.9 565.0,324.5 586.9,310.4 604.6,294.1 617.7,276.1 625.7,256.9 628.4,237.1" fill="rgb(87,95,0)"/><polygon points="274.0,237.1 276.7,256.8 284.7,276.0 297.7,293.9 315.4,310.2 337.2,324.2 362.5,335.5 390.4,343.9 420.2,349.0 450.9,350.8 481.6,349.0 511.4,343.9 539.3,335.5 564.6,324.2 586.4,310.2 604.1,293.9 617.1,276.0 625.1,256.8 627.8,237.1" fill="rgb(89,96,0)"/><polygon points="274.7,237.1 277.4,256.8 285.3,275.8 298.3,293.7 315.9,309.9 337.7,323.8 362.8,335.2 390.6,343.5 420.3,348.6 450.9,350.3 481.5,348.6 511.2,343.5 539.0,335.2 564.1,323.8 585.9,309.9 603.5,293.7 616.5,275.8 624.4,256.8 627.1,237.1" fill="rgb(90,96,0)"/><polygon points="275.4,237.1 278.1,256.7 286.0,275.7 298.9,293.5 316.5,309.6 338.1,323.5 363.1,334.8 390.9,343.1 420.4,348.2 450.9,349.9 481.4,348.2 510.9,343.1 538.7,334.8 563.7,323.5 585.3,309.6 602.9,293.5 615.8,275.7 623.7,256.7 626.4,237.1" fill="rgb(92,96,0)"/><polygon points="276.1,237.1 278.7,256.6 286.6,275.5 299.5,293.3 317.0,309.3 338.5,323.2 363.5,334.4 391.1,342.7 420.5,347.8 450.9,349.5 481.3,347.8 510.7,342.7 538.3,334.4 563.3,323.2 584.8,309.3 602.3,293.3 615.2,275.5 623.1,256.6 625.7,237.1" fill="rgb(94,97,0)"/><polygon points="276.7,237.1 279.4,256.5 287.2,275.4 300.1,293.1 317.5,309.0 339.0,322.8 363.8,334.0 391.3,342.3 420.7,347.3 450.9,349.0 481.1,347.3 510.5,342.3 538.0,334.0 562.8,322.8 584.3,309.0 601.7,293.1 614.6,275.4 622.4,256.5 625.1,237.1" fill="rgb(95,97,0)"/><polygon points="277.4,237.1 280.0,256.5 287.9,275.2 300.7,292.8 318.0,308.8 339.4,322.5 364.2,333.7 391.6,341.9 420.8,346.9 450.9,348.6 481.0,346.9 510.2,341.9 537.6,333.7 562.4,322.5 583.8,308.8 601.1,292.8 613.9,275.2 621.8,256.5 624.4,237.1" fill="rgb(97,97,0)"/><polygon points="278.1,237.1 280.7,256.4 288.5,275.1 301.2,292.6 318.5,308.5 339.8,322.2 364.5,333.3 391.8,341.5 420.9,346.5 450.9,348.2 480.9,346.5 510.0,341.5 537.3,333.3 562.0,322.2 583.3,308.5 600.6,292.6 613.3,275.1 621.1,256.4 623.7,237.1" fill="rgb(99,98,0)"/><polygon points="278.8,237.1 281.4,256.3 289.1,274.9 301.8,292.4 319.0,308.2 340.3,321.8 364.8,332.9 392.0,341.1 421.0,346.0 450.9,347.7 480.8,346.0 509.8,341.1 537.0,332.9 561.5,321.8 582.8,308.2 600.0,292.4 612.7,274.9 620.4,256.3 623.0,237.1" fill="rgb(100,98,0)"/><polygon points="279.4,237.1 282.0,256.2 289.8,274.8 302.4,292.2 319.5,307.9 340.7,321.5 365.2,332.5 392.3,340.6 421.1,345.6 450.9,347.3 480.7,345.6 509.5,340.6 536.6,332.5 561.1,321.5 582.3,307.9 599.4,292.2 612.0,274.8 619.8,256.2 622.4,237.1" fill="rgb(102,98,0)"/><polygon points="280.1,237.1 282.7,256.2 290.4,274.6 303.0,292.0 320.1,307.6 341.1,321.2 365.5,332.2 392.5,340.2 421.2,345.2 450.9,346.9 480.6,345.2 509.3,340.2 536.3,332.2 560.7,321.2 581.7,307.6 598.8,292.0 611.4,274.6 619.1,256.2 621.7,237.1" fill="rgb(104,98,0)"/><polygon points="280.8,237.1 283.4,256.1 291.0,274.5 303.6,291.8 320.6,307.4 341.5,320.8 365.8,331.8 392.7,339.8 421.4,344.8 450.9,346.4 480.4,344.8 509.1,339.8 536.0,331.8 560.3,320.8 581.2,307.4 598.2,291.8 610.8,274.5 618.4,256.1 621.0,237.1" fill="rgb(105,99,0)"/><polygon points="281.5,237.1 284.0,256.0 291.7,274.3 304.2,291.5 321.1,307.1 342.0,320.5 366.2,331.4 392.9,339.4 421.5,344.3 450.9,346.0 480.3,344.3 508.9,339.4 535.6,331.4 559.8,320.5 580.7,307.1 597.6,291.5 610.1,274.3 617.8,256.0 620.3,237.1" fill="rgb(107,99,0)"/><polygon points="282.1,237.1 284.7,255.9 292.3,274.2 304.7,291.3 321.6,306.8 342.4,320.2 366.5,331.0 393.2,339.0 421.6,343.9 450.9,345.6 480.2,343.9 508.6,339.0 535.3,331.0 559.4,320.2 580.2,306.8 597.1,291.3 609.5,274.2 617.1,255.9 619.7,237.1" fill="rgb(109,99,0)"/><polygon points="282.8,237.1 285.4,255.9 292.9,274.0 305.3,291.1 322.1,306.5 342.8,319.8 366.8,330.6 393.4,338.6 421.7,343.5 450.9,345.1 480.1,343.5 508.4,338.6 534.9,330.6 559.0,319.8 579.7,306.5 596.5,291.1 608.9,274.0 616.4,255.9 619.0,237.1" fill="rgb(110,100,0)"/><polygon points="283.5,237.1 286.0,255.8 293.6,273.9 305.9,290.9 322.6,306.3 343.3,319.5 367.2,330.3 393.6,338.2 421.8,343.0 450.9,344.7 480.0,343.0 508.2,338.2 534.6,330.3 558.5,319.5 579.2,306.3 595.9,290.9 608.2,273.9 615.8,255.8 618.3,237.1" fill="rgb(112,100,0)"/><polygon points="284.1,237.1 286.7,255.7 294.2,273.7 306.5,290.7 323.2,306.0 343.7,319.2 367.5,329.9 393.9,337.8 421.9,342.6 450.9,344.2 479.9,342.6 507.9,337.8 534.3,329.9 558.1,319.2 578.6,306.0 595.3,290.7 607.6,273.7 615.1,255.7 617.7,237.1" fill="rgb(111,73,0)"/><polygon points="284.8,237.1 287.3,255.6 294.8,273.6 307.1,290.5 323.7,305.7 344.1,318.8 367.9,329.5 394.1,337.4 422.1,342.2 450.9,343.8 479.7,342.2 507.7,337.4 533.9,329.5 557.7,318.8 578.1,305.7 594.7,290.5 607.0,273.6 614.5,255.6 617.0,237.1" fill="rgb(110,47,0)"/><polygon points="285.5,237.1 288.0,255.6 295.5,273.4 307.7,290.2 324.2,305.4 344.6,318.5 368.2,329.1 394.3,337.0 422.2,341.8 450.9,343.4 479.6,341.8 507.5,337.0 533.6,329.1 557.2,318.5 577.6,305.4 594.1,290.2 606.3,273.4 613.8,255.6 616.3,237.1" fill="rgb(104,18,0)"/><polygon points="286.2,237.1 288.7,255.5 296.1,273.3 308.2,290.0 324.7,305.1 345.0,318.2 368.5,328.8 394.6,336.6 422.3,341.3 450.9,342.9 479.5,341.3 507.2,336.6 533.3,328.8 556.8,318.2 577.1,305.1 593.6,290.0 605.7,273.3 613.1,255.5 615.6,237.1" fill="rgb(100,0,0)"/><polygon points="286.8,237.1 289.3,255.4 296.7,273.2 308.8,289.8 325.2,304.9 345.4,317.8 368.9,328.4 394.8,336.2 422.4,340.9 450.9,342.5 479.4,340.9 507.0,336.2 532.9,328.4 556.4,317.8 576.6,304.9 593.0,289.8 605.1,273.2 612.5,255.4 615.0,237.1" fill="rgb(100,0,0)"/><polygon points="287.5,237.1 290.0,255.3 297.4,273.0 309.4,289.6 325.7,304.6 345.9,317.5 369.2,328.0 395.0,335.7 422.5,340.5 450.9,342.1 479.3,340.5 506.8,335.7 532.6,328.0 555.9,317.5 576.1,304.6 592.4,289.6 604.4,273.0 611.8,255.3 614.3,237.1" fill="rgb(100,0,0)"/><polygon points="288.2,237.1 290.7,255.3 298.0,272.9 310.0,289.4 326.3,304.3 346.3,317.2 369.5,327.6 395.2,335.3 422.6,340.1 450.9,341.6 479.2,340.1 506.6,335.3 532.3,327.6 555.5,317.2 575.5,304.3 591.8,289.4 603.8,272.9 611.1,255.3 613.6,237.1" fill="rgb(100,0,0)"/><polygon points="288.9,237.1 291.3,255.2 298.6,272.7 310.6,289.2 326.8,304.0 346.7,316.9 369.9,327.3 395.5,334.9 422.8,339.6 450.9,341.2 479.0,339.6 506.3,334.9 531.9,327.3 555.1,316.9 575.0,304.0 591.2,289.2 603.2,272.7 610.5,255.2 612.9,237.1" fill="rgb(100,0,0)"/><polygon points="289.5,237.1 292.0,255.1 299.3,272.6 311.2,288.9 327.3,303.7 347.2,316.5 370.2,326.9 395.7,334.5 422.9,339.2 450.9,340.8 478.9,339.2 506.1,334.5 531.6,326.9 554.6,316.5 574.5,303.7 590.6,288.9 602.5,272.6 609.8,255.1 612.3,237.1" fill="rgb(100,0,0)"/><polygon points="290.2,237.1 292.6,255.0 299.9,272.4 311.7,288.7 327.8,303.5 347.6,316.2 370.6,326.5 395.9,334.1 423.0,338.8 450.9,340.3 478.8,338.8 505.9,334.1 531.2,326.5 554.2,316.2 574.0,303.5 590.1,288.7 601.9,272.4 609.2,255.0 611.6,237.1" fill="rgb(100,0,0)"/><polygon points="290.9,237.1 293.3,255.0 300.5,272.3 312.3,288.5 328.3,303.2 348.0,315.9 370.9,326.1 396.2,333.7 423.1,338.3 450.9,339.9 478.7,338.3 505.6,333.7 530.9,326.1 553.8,315.9 573.5,303.2 589.5,288.5 601.3,272.3 608.5,255.0 610.9,237.1" fill="rgb(100,0,0)"/><polygon points="291.6,237.1 294.0,254.9 301.2,272.1 312.9,288.3 328.8,302.9 348.5,315.5 371.2,325.8 396.4,333.3 423.2,337.9 450.9,339.5 478.6,337.9 505.4,333.3 530.6,325.8 553.3,315.5 573.0,302.9 588.9,288.3 600.6,272.1 607.8,254.9 610.2,237.1" fill="rgb(100,0,0)"/><polygon points="292.2,237.1 294.6,254.8 301.8,272.0 313.5,288.1 329.3,302.6 348.9,315.2 371.6,325.4 396.6,332.9 423.3,337.5 450.9,339.0 478.5,337.5 505.2,332.9 530.2,325.4 552.9,315.2 572.5,302.6 588.3,288.1 600.0,272.0 607.2,254.8 609.6,237.1" fill="rgb(100,0,0)"/></g>
<path d="M236.6,237.1 L239.9,261.0 L249.6,284.2 L265.3,306.0 L286.8,325.7 L313.2,342.7 L343.8,356.4 L377.6,366.6 L413.7,372.8 L450.9,374.9 L488.1,372.8 L524.2,366.6 L558.0,356.4 L588.6,342.7 L615.0,325.7 L636.5,306.0 L652.2,284.2 L661.9,261.0 L665.2,237.1 M241.0,237.1 L244.1,260.5 L253.6,283.3 L269.1,304.6 L290.1,323.9 L316.0,340.5 L345.9,354.0 L379.1,364.0 L414.4,370.1 L450.9,372.1 L487.4,370.1 L522.7,364.0 L555.9,354.0 L585.8,340.5 L611.7,323.9 L632.7,304.6 L648.2,283.3 L657.7,260.5 L660.8,237.1 M245.3,237.1 L248.4,260.1 L257.7,282.3 L272.8,303.2 L293.4,322.1 L318.7,338.4 L348.1,351.6 L380.6,361.3 L415.2,367.3 L450.9,369.3 L486.6,367.3 L521.2,361.3 L553.7,351.6 L583.1,338.4 L608.4,322.1 L629.0,303.2 L644.1,282.3 L653.4,260.1 L656.5,237.1 M249.6,237.1 L252.7,259.6 L261.8,281.4 L276.6,301.8 L296.7,320.3 L321.5,336.2 L350.3,349.2 L382.1,358.7 L415.9,364.6 L450.9,366.5 L485.9,364.6 L519.7,358.7 L551.5,349.2 L580.3,336.2 L605.1,320.3 L625.2,301.8 L640.0,281.4 L649.1,259.6 L652.2,237.1 M253.9,237.1 L256.9,259.1 L265.8,280.4 L280.3,300.4 L300.0,318.5 L324.3,334.1 L352.4,346.8 L383.5,356.1 L416.7,361.8 L450.9,363.7 L485.1,361.8 L518.3,356.1 L549.4,346.8 L577.5,334.1 L601.8,318.5 L621.5,300.4 L636.0,280.4 L644.9,259.1 L647.9,237.1 M258.3,237.1 L261.2,258.6 L269.9,279.5 L284.1,299.0 L303.3,316.7 L327.1,332.0 L354.6,344.4 L385.0,353.5 L417.5,359.1 L450.9,360.9 L484.3,359.1 L516.8,353.5 L547.2,344.4 L574.7,332.0 L598.5,316.7 L617.7,299.0 L631.9,279.5 L640.6,258.6 L643.5,237.1 M262.6,237.1 L265.5,258.1 L274.0,278.5 L287.8,297.6 L306.7,314.9 L329.9,329.8 L356.7,341.9 L386.5,350.8 L418.2,356.3 L450.9,358.1 L483.6,356.3 L515.3,350.8 L545.0,341.9 L571.9,329.8 L595.1,314.9 L614.0,297.6 L627.8,278.5 L636.3,258.1 L639.2,237.1 M266.9,237.1 L269.7,257.6 L278.0,277.5 L291.6,296.2 L310.0,313.1 L332.6,327.7 L358.9,339.5 L388.0,348.2 L419.0,353.6 L450.9,355.4 L482.8,353.6 L513.8,348.2 L542.9,339.5 L569.2,327.7 L591.8,313.1 L610.2,296.2 L623.8,277.5 L632.1,257.6 L634.9,237.1 M271.3,237.1 L274.0,257.2 L282.1,276.6 L295.3,294.8 L313.3,311.3 L335.4,325.6 L361.1,337.1 L389.5,345.6 L419.7,350.8 L450.9,352.6 L482.1,350.8 L512.3,345.6 L540.7,337.1 L566.4,325.6 L588.5,311.3 L606.5,294.8 L619.7,276.6 L627.8,257.2 L630.5,237.1 M275.6,237.1 L278.2,256.7 L286.2,275.6 L299.1,293.4 L316.6,309.5 L338.2,323.4 L363.2,334.7 L390.9,343.0 L420.5,348.1 L450.9,349.8 L481.3,348.1 L510.9,343.0 L538.6,334.7 L563.6,323.4 L585.2,309.5 L602.7,293.4 L615.6,275.6 L623.6,256.7 L626.2,237.1 M279.9,237.1 L282.5,256.2 L290.2,274.7 L302.8,292.0 L319.9,307.7 L341.0,321.3 L365.4,332.3 L392.4,340.4 L421.2,345.3 L450.9,347.0 L480.6,345.3 L509.4,340.4 L536.4,332.3 L560.8,321.3 L581.9,307.7 L599.0,292.0 L611.6,274.7 L619.3,256.2 L621.9,237.1 M284.2,237.1 L286.8,255.7 L294.3,273.7 L306.6,290.6 L323.2,305.9 L343.8,319.1 L367.6,329.8 L393.9,337.7 L422.0,342.6 L450.9,344.2 L479.8,342.6 L507.9,337.7 L534.2,329.8 L558.0,319.1 L578.6,305.9 L595.2,290.6 L607.5,273.7 L615.0,255.7 L617.6,237.1 M288.6,237.1 L291.0,255.2 L298.4,272.8 L310.3,289.2 L326.5,304.1 L346.6,317.0 L369.7,327.4 L395.4,335.1 L422.7,339.8 L450.9,341.4 L479.1,339.8 L506.4,335.1 L532.1,327.4 L555.2,317.0 L575.3,304.1 L591.5,289.2 L603.4,272.8 L610.8,255.2 L613.2,237.1 M235.6,261.5 L295.3,254.7 M245.5,285.2 L302.4,271.8 M261.6,307.4 L314.1,287.8 M283.4,327.5 L329.9,302.3 M310.4,344.8 L349.3,314.9 M341.6,358.9 L371.9,325.0 M376.1,369.2 L396.9,332.5 M412.9,375.6 L423.5,337.1 M450.9,377.7 L450.9,338.6 M488.9,375.6 L478.3,337.1 M525.7,369.2 L504.9,332.5 M560.2,358.9 L529.9,325.0 M591.4,344.8 L552.5,314.9 M618.4,327.5 L571.9,302.3 M640.2,307.4 L587.7,287.9 M656.3,285.2 L599.4,271.8 M666.2,261.5 L606.5,254.7" fill="none" stroke="#000" stroke-opacity="0.30" stroke-width="0.60"/>
<defs><linearGradient id="d1" gradientUnits="userSpaceOnUse" x1="292.9" y1="0" x2="608.9" y2="0"><stop offset="0.0002" stop-color="rgb(215,5,5)"/><stop offset="0.0098" stop-color="rgb(232,5,5)"/><stop offset="0.0382" stop-color="rgb(232,5,5)"/><stop offset="0.0844" stop-color="rgb(232,5,5)"/><stop offset="0.1466" stop-color="rgb(232,5,5)"/><stop offset="0.2223" stop-color="rgb(232,5,5)"/><stop offset="0.3087" stop-color="rgb(232,5,5)"/><stop offset="0.4025" stop-color="rgb(232,5,5)"/><stop offset="0.5000" stop-color="rgb(232,5,5)"/><stop offset="0.5975" stop-color="rgb(224,5,5)"/><stop offset="0.6913" stop-color="rgb(188,4,4)"/><stop offset="0.7777" stop-color="rgb(147,3,3)"/><stop offset="0.8534" stop-color="rgb(103,2,2)"/><stop offset="0.9156" stop-color="rgb(84,2,2)"/><stop offset="0.9618" stop-color="rgb(84,2,2)"/><stop offset="0.9902" stop-color="rgb(84,2,2)"/><stop offset="0.9998" stop-color="rgb(84,2,2)"/></linearGradient><linearGradient id="d2" gradientUnits="userSpaceOnUse" x1="292.9" y1="0" x2="608.9" y2="0"><stop offset="0.0014" stop-color="rgb(212,5,5)"/><stop offset="0.0109" stop-color="rgb(232,5,5)"/><stop offset="0.0393" stop-color="rgb(232,5,5)"/><stop offset="0.0854" stop-color="rgb(232,5,5)"/><stop offset="0.1474" stop-color="rgb(232,5,5)"/><stop offset="0.2230" stop-color="rgb(232,5,5)"/><stop offset="0.3092" stop-color="rgb(232,5,5)"/><stop offset="0.4027" stop-color="rgb(232,5,5)"/><stop offset="0.5000" stop-color="rgb(232,5,5)"/><stop offset="0.5973" stop-color="rgb(221,5,5)"/><stop offset="0.6908" stop-color="rgb(185,4,4)"/><stop offset="0.7770" stop-color="rgb(144,3,3)"/><stop offset="0.8526" stop-color="rgb(101,2,2)"/><stop offset="0.9146" stop-color="rgb(84,2,2)"/><stop offset="0.9607" stop-color="rgb(84,2,2)"/><stop offset="0.9891" stop-color="rgb(84,2,2)"/><stop offset="0.9986" stop-color="rgb(84,2,2)"/></linearGradient><linearGradient id="d3" gradientUnits="userSpaceOnUse" x1="292.9" y1="0" x2="608.9" y2="0"><stop offset="0.0038" stop-color="rgb(210,5,5)"/><stop offset="0.0133" stop-color="rgb(232,5,5)"/><stop offset="0.0415" stop-color="rgb(232,5,5)"/><stop offset="0.0874" stop-color="rgb(232,5,5)"/><stop offset="0.1491" stop-color="rgb(232,5,5)"/><stop offset="0.2243" stop-color="rgb(232,5,5)"/><stop offset="0.3101" stop-color="rgb(232,5,5)"/><stop offset="0.4032" stop-color="rgb(232,5,5)"/><stop offset="0.5000" stop-color="rgb(232,5,5)"/><stop offset="0.5968" stop-color="rgb(218,5,5)"/><stop offset="0.6899" stop-color="rgb(182,4,4)"/><stop offset="0.7757" stop-color="rgb(142,3,3)"/><stop offset="0.8509" stop-color="rgb(99,2,2)"/><stop offset="0.9126" stop-color="rgb(84,2,2)"/><stop offset="0.9585" stop-color="rgb(84,2,2)"/><stop offset="0.9867" stop-color="rgb(84,2,2)"/><stop offset="0.9962" stop-color="rgb(84,2,2)"/></linearGradient><linearGradient id="d4" gradientUnits="userSpaceOnUse" x1="292.9" y1="0" x2="608.9" y2="0"><stop offset="0.0074" stop-color="rgb(206,4,4)"/><stop offset="0.0168" stop-color="rgb(232,5,5)"/><stop offset="0.0449" stop-color="rgb(232,5,5)"/><stop offset="0.0904" stop-color="rgb(232,5,5)"/><stop offset="0.1517" stop-color="rgb(232,5,5)"/><stop offset="0.2263" stop-color="rgb(232,5,5)"/><stop offset="0.3115" stop-color="rgb(232,5,5)"/><stop offset="0.4039" stop-color="rgb(232,5,5)"/><stop offset="0.5000" stop-color="rgb(232,5,5)"/><stop offset="0.5961" stop-color="rgb(215,5,5)"/><stop offset="0.6885" stop-color="rgb(179,4,4)"/><stop offset="0.7737" stop-color="rgb(139,3,3)"/><stop offset="0.8483" stop-color="rgb(96,2,2)"/><stop offset="0.9096" stop-color="rgb(84,2,2)"/><stop offset="0.9551" stop-color="rgb(84,2,2)"/><stop offset="0.9832" stop-color="rgb(84,2,2)"/><stop offset="0.9926" stop-color="rgb(84,2,2)"/></linearGradient><linearGradient id="d5" gradientUnits="userSpaceOnUse" x1="292.9" y1="0" x2="608.9" y2="0"><stop offset="0.0121" stop-color="rgb(203,4,4)"/><stop offset="0.0215" stop-color="rgb(232,5,5)"/><stop offset="0.0493" stop-color="rgb(232,5,5)"/><stop offset="0.0944" stop-color="rgb(232,5,5)"/><stop offset="0.1550" stop-color="rgb(232,5,5)"/><stop offset="0.2290" stop-color="rgb(232,5,5)"/><stop offset="0.3133" stop-color="rgb(232,5,5)"/><stop offset="0.4048" stop-color="rgb(232,5,5)"/><stop offset="0.5000" stop-color="rgb(232,5,5)"/><stop offset="0.5952" stop-color="rgb(211,5,5)"/><stop offset="0.6867" stop-color="rgb(176,4,4)"/><stop offset="0.7710" stop-color="rgb(136,3,3)"/><stop offset="0.8450" stop-color="rgb(94,2,2)"/><stop offset="0.9056" stop-color="rgb(84,2,2)"/><stop offset="0.9507" stop-color="rgb(84,2,2)"/><stop offset="0.9785" stop-color="rgb(84,2,2)"/><stop offset="0.9879" stop-color="rgb(84,2,2)"/></linearGradient><linearGradient id="d6" gradientUnits="userSpaceOnUse" x1="292.9" y1="0" x2="608.9" y2="0"><stop offset="0.0181" stop-color="rgb(199,4,4)"/><stop offset="0.0274" stop-color="rgb(230,5,5)"/><stop offset="0.0548" stop-color="rgb(232,5,5)"/><stop offset="0.0993" stop-color="rgb(232,5,5)"/><stop offset="0.1593" stop-color="rgb(232,5,5)"/><stop offset="0.2323" stop-color="rgb(232,5,5)"/><stop offset="0.3156" stop-color="rgb(232,5,5)"/><stop offset="0.4060" stop-color="rgb(232,5,5)"/><stop offset="0.5000" stop-color="rgb(232,5,5)"/><stop offset="0.5940" stop-color="rgb(207,4,4)"/><stop offset="0.6844" stop-color="rgb(172,4,4)"/><stop offset="0.7677" stop-color="rgb(133,3,3)"/><stop offset="0.8407" stop-color="rgb(91,2,2)"/><stop offset="0.9007" stop-color="rgb(84,2,2)"/><stop offset="0.9452" stop-color="rgb(84,2,2)"/><stop offset="0.9726" stop-color="rgb(84,2,2)"/><stop offset="0.9819" stop-color="rgb(84,2,2)"/></linearGradient><linearGradient id="d7" gradientUnits="userSpaceOnUse" x1="292.9" y1="0" x2="608.9" y2="0"><stop offset="0.0252" stop-color="rgb(195,4,4)"/><stop offset="0.0344" stop-color="rgb(225,5,5)"/><stop offset="0.0614" stop-color="rgb(232,5,5)"/><stop offset="0.1052" stop-color="rgb(232,5,5)"/><stop offset="0.1643" stop-color="rgb(232,5,5)"/><stop offset="0.2362" stop-color="rgb(232,5,5)"/><stop offset="0.3183" stop-color="rgb(232,5,5)"/><stop offset="0.4074" stop-color="rgb(232,5,5)"/><stop offset="0.5000" stop-color="rgb(232,5,5)"/><stop offset="0.5926" stop-color="rgb(203,4,4)"/><stop offset="0.6817" stop-color="rgb(168,4,4)"/><stop offset="0.7638" stop-color="rgb(130,3,3)"/><stop offset="0.8357" stop-color="rgb(89,2,2)"/><stop offset="0.8948" stop-color="rgb(84,2,2)"/><stop offset="0.9386" stop-color="rgb(84,2,2)"/><stop offset="0.9656" stop-color="rgb(84,2,2)"/><stop offset="0.9748" stop-color="rgb(84,2,2)"/></linearGradient><linearGradient id="d8" gradientUnits="userSpaceOnUse" x1="292.9" y1="0" x2="608.9" y2="0"><stop offset="0.0335" stop-color="rgb(190,4,4)"/><stop offset="0.0425" stop-color="rgb(220,5,5)"/><stop offset="0.0690" stop-color="rgb(232,5,5)"/><stop offset="0.1121" stop-color="rgb(232,5,5)"/><stop offset="0.1701" stop-color="rgb(232,5,5)"/><stop offset="0.2408" stop-color="rgb(232,5,5)"/><stop offset="0.3215" stop-color="rgb(232,5,5)"/><stop offset="0.4090" stop-color="rgb(232,5,5)"/><stop offset="0.5000" stop-color="rgb(227,5,5)"/><stop offset="0.5910" stop-color="rgb(198,4,4)"/><stop offset="0.6785" stop-color="rgb(164,4,4)"/><stop offset="0.7592" stop-color="rgb(126,3,3)"/><stop offset="0.8299" stop-color="rgb(86,2,2)"/><stop offset="0.8879" stop-color="rgb(84,2,2)"/><stop offset="0.9310" stop-color="rgb(84,2,2)"/><stop offset="0.9575" stop-color="rgb(84,2,2)"/><stop offset="0.9665" stop-color="rgb(84,2,2)"/></linearGradient><linearGradient id="d9" gradientUnits="userSpaceOnUse" x1="292.9" y1="0" x2="608.9" y2="0"><stop offset="0.0429" stop-color="rgb(185,4,4)"/><stop offset="0.0517" stop-color="rgb(215,5,5)"/><stop offset="0.0777" stop-color="rgb(232,5,5)"/><stop offset="0.1199" stop-color="rgb(232,5,5)"/><stop offset="0.1768" stop-color="rgb(232,5,5)"/><stop offset="0.2460" stop-color="rgb(232,5,5)"/><stop offset="0.3251" stop-color="rgb(232,5,5)"/><stop offset="0.4108" stop-color="rgb(232,5,5)"/><stop offset="0.5000" stop-color="rgb(222,5,5)"/><stop offset="0.5892" stop-color="rgb(194,4,4)"/><stop offset="0.6749" stop-color="rgb(160,3,3)"/><stop offset="0.7540" stop-color="rgb(123,3,3)"/><stop offset="0.8232" stop-color="rgb(84,2,2)"/><stop offset="0.8801" stop-color="rgb(84,2,2)"/><stop offset="0.9223" stop-color="rgb(84,2,2)"/><stop offset="0.9483" stop-color="rgb(84,2,2)"/><stop offset="0.9571" stop-color="rgb(84,2,2)"/></linearGradient><linearGradient id="d10" gradientUnits="userSpaceOnUse" x1="292.9" y1="0" x2="608.9" y2="0"><stop offset="0.0534" stop-color="rgb(180,4,4)"/><stop offset="0.0620" stop-color="rgb(209,5,5)"/><stop offset="0.0874" stop-color="rgb(232,5,5)"/><stop offset="0.1287" stop-color="rgb(232,5,5)"/><stop offset="0.1842" stop-color="rgb(232,5,5)"/><stop offset="0.2519" stop-color="rgb(232,5,5)"/><stop offset="0.3291" stop-color="rgb(232,5,5)"/><stop offset="0.4129" stop-color="rgb(232,5,5)"/><stop offset="0.5000" stop-color="rgb(216,5,5)"/><stop offset="0.5871" stop-color="rgb(188,4,4)"/><stop offset="0.6709" stop-color="rgb(156,3,3)"/><stop offset="0.7481" stop-color="rgb(119,3,3)"/><stop offset="0.8158" stop-color="rgb(84,2,2)"/><stop offset="0.8713" stop-color="rgb(84,2,2)"/><stop offset="0.9126" stop-color="rgb(84,2,2)"/><stop offset="0.9380" stop-color="rgb(84,2,2)"/><stop offset="0.9466" stop-color="rgb(84,2,2)"/></linearGradient><linearGradient id="d11" gradientUnits="userSpaceOnUse" x1="292.9" y1="0" x2="608.9" y2="0"><stop offset="0.0650" stop-color="rgb(175,4,4)"/><stop offset="0.0733" stop-color="rgb(203,4,4)"/><stop offset="0.0981" stop-color="rgb(226,5,5)"/><stop offset="0.1383" stop-color="rgb(232,5,5)"/><stop offset="0.1924" stop-color="rgb(232,5,5)"/><stop offset="0.2583" stop-color="rgb(232,5,5)"/><stop offset="0.3335" stop-color="rgb(232,5,5)"/><stop offset="0.4151" stop-color="rgb(230,5,5)"/><stop offset="0.5000" stop-color="rgb(210,5,5)"/><stop offset="0.5849" stop-color="rgb(183,4,4)"/><stop offset="0.6665" stop-color="rgb(151,3,3)"/><stop offset="0.7417" stop-color="rgb(116,2,2)"/><stop offset="0.8076" stop-color="rgb(84,2,2)"/><stop offset="0.8617" stop-color="rgb(84,2,2)"/><stop offset="0.9019" stop-color="rgb(84,2,2)"/><stop offset="0.9267" stop-color="rgb(84,2,2)"/><stop offset="0.9350" stop-color="rgb(84,2,2)"/></linearGradient><linearGradient id="d12" gradientUnits="userSpaceOnUse" x1="292.9" y1="0" x2="608.9" y2="0"><stop offset="0.0776" stop-color="rgb(170,4,4)"/><stop offset="0.0857" stop-color="rgb(197,4,4)"/><stop offset="0.1097" stop-color="rgb(219,5,5)"/><stop offset="0.1488" stop-color="rgb(232,5,5)"/><stop offset="0.2013" stop-color="rgb(232,5,5)"/><stop offset="0.2653" stop-color="rgb(232,5,5)"/><stop offset="0.3383" stop-color="rgb(232,5,5)"/><stop offset="0.4176" stop-color="rgb(223,5,5)"/><stop offset="0.5000" stop-color="rgb(203,4,4)"/><stop offset="0.5824" stop-color="rgb(177,4,4)"/><stop offset="0.6617" stop-color="rgb(146,3,3)"/><stop offset="0.7347" stop-color="rgb(112,2,2)"/><stop offset="0.7987" stop-color="rgb(84,2,2)"/><stop offset="0.8512" stop-color="rgb(84,2,2)"/><stop offset="0.8903" stop-color="rgb(84,2,2)"/><stop offset="0.9143" stop-color="rgb(84,2,2)"/><stop offset="0.9224" stop-color="rgb(84,2,2)"/></linearGradient><linearGradient id="d13" gradientUnits="userSpaceOnUse" x1="292.9" y1="0" x2="608.9" y2="0"><stop offset="0.0912" stop-color="rgb(164,4,4)"/><stop offset="0.0991" stop-color="rgb(190,4,4)"/><stop offset="0.1223" stop-color="rgb(211,5,5)"/><stop offset="0.1601" stop-color="rgb(226,5,5)"/><stop offset="0.2109" stop-color="rgb(232,5,5)"/><stop offset="0.2729" stop-color="rgb(232,5,5)"/><stop offset="0.3436" stop-color="rgb(229,5,5)"/><stop offset="0.4202" stop-color="rgb(216,5,5)"/><stop offset="0.5000" stop-color="rgb(196,4,4)"/><stop offset="0.5798" stop-color="rgb(171,4,4)"/><stop offset="0.6564" stop-color="rgb(141,3,3)"/><stop offset="0.7271" stop-color="rgb(108,2,2)"/><stop offset="0.7891" stop-color="rgb(84,2,2)"/><stop offset="0.8399" stop-color="rgb(84,2,2)"/><stop offset="0.8777" stop-color="rgb(84,2,2)"/><stop offset="0.9009" stop-color="rgb(84,2,2)"/><stop offset="0.9088" stop-color="rgb(84,2,2)"/></linearGradient><linearGradient id="d14" gradientUnits="userSpaceOnUse" x1="292.9" y1="0" x2="608.9" y2="0"><stop offset="0.1058" stop-color="rgb(158,3,3)"/><stop offset="0.1134" stop-color="rgb(183,4,4)"/><stop offset="0.1358" stop-color="rgb(204,4,4)"/><stop offset="0.1723" stop-color="rgb(218,5,5)"/><stop offset="0.2213" stop-color="rgb(226,5,5)"/><stop offset="0.2810" stop-color="rgb(227,5,5)"/><stop offset="0.3492" stop-color="rgb(221,5,5)"/><stop offset="0.4231" stop-color="rgb(208,4,4)"/><stop offset="0.5000" stop-color="rgb(189,4,4)"/><stop offset="0.5769" stop-color="rgb(165,4,4)"/><stop offset="0.6508" stop-color="rgb(136,3,3)"/><stop offset="0.7190" stop-color="rgb(104,2,2)"/><stop offset="0.7787" stop-color="rgb(84,2,2)"/><stop offset="0.8277" stop-color="rgb(84,2,2)"/><stop offset="0.8642" stop-color="rgb(84,2,2)"/><stop offset="0.8866" stop-color="rgb(84,2,2)"/><stop offset="0.8942" stop-color="rgb(84,2,2)"/></linearGradient><linearGradient id="d15" gradientUnits="userSpaceOnUse" x1="292.9" y1="0" x2="608.9" y2="0"><stop offset="0.1214" stop-color="rgb(152,3,3)"/><stop offset="0.1287" stop-color="rgb(176,4,4)"/><stop offset="0.1502" stop-color="rgb(196,4,4)"/><stop offset="0.1852" stop-color="rgb(210,5,5)"/><stop offset="0.2323" stop-color="rgb(217,5,5)"/><stop offset="0.2897" stop-color="rgb(218,5,5)"/><stop offset="0.3551" stop-color="rgb(212,5,5)"/><stop offset="0.4261" stop-color="rgb(200,4,4)"/><stop offset="0.5000" stop-color="rgb(182,4,4)"/><stop offset="0.5739" stop-color="rgb(159,3,3)"/><stop offset="0.6449" stop-color="rgb(131,3,3)"/><stop offset="0.7103" stop-color="rgb(100,2,2)"/><stop offset="0.7677" stop-color="rgb(84,2,2)"/><stop offset="0.8148" stop-color="rgb(84,2,2)"/><stop offset="0.8498" stop-color="rgb(84,2,2)"/><stop offset="0.8713" stop-color="rgb(84,2,2)"/><stop offset="0.8786" stop-color="rgb(84,2,2)"/></linearGradient><linearGradient id="d16" gradientUnits="userSpaceOnUse" x1="292.9" y1="0" x2="608.9" y2="0"><stop offset="0.1379" stop-color="rgb(146,3,3)"/><stop offset="0.1448" stop-color="rgb(169,4,4)"/><stop offset="0.1654" stop-color="rgb(188,4,4)"/><stop offset="0.1989" stop-color="rgb(201,4,4)"/><stop offset="0.2439" stop-color="rgb(208,4,4)"/><stop offset="0.2988" stop-color="rgb(209,4,4)"/><stop offset="0.3614" stop-color="rgb(203,4,4)"/><stop offset="0.4294" stop-color="rgb(192,4,4)"/><stop offset="0.5000" stop-color="rgb(174,4,4)"/><stop offset="0.5706" stop-color="rgb(152,3,3)"/><stop offset="0.6386" stop-color="rgb(126,3,3)"/><stop offset="0.7012" stop-color="rgb(96,2,2)"/><stop offset="0.7561" stop-color="rgb(84,2,2)"/><stop offset="0.8011" stop-color="rgb(84,2,2)"/><stop offset="0.8346" stop-color="rgb(84,2,2)"/><stop offset="0.8552" stop-color="rgb(84,2,2)"/><stop offset="0.8621" stop-color="rgb(84,2,2)"/></linearGradient><linearGradient id="d17" gradientUnits="userSpaceOnUse" x1="292.9" y1="0" x2="608.9" y2="0"><stop offset="0.1552" stop-color="rgb(139,3,3)"/><stop offset="0.1619" stop-color="rgb(161,3,3)"/><stop offset="0.1815" stop-color="rgb(179,4,4)"/><stop offset="0.2133" stop-color="rgb(192,4,4)"/><stop offset="0.2562" stop-color="rgb(198,4,4)"/><stop offset="0.3085" stop-color="rgb(199,4,4)"/><stop offset="0.3681" stop-color="rgb(194,4,4)"/><stop offset="0.4327" stop-color="rgb(183,4,4)"/><stop offset="0.5000" stop-color="rgb(166,4,4)"/><stop offset="0.5673" stop-color="rgb(145,3,3)"/><stop offset="0.6319" stop-color="rgb(120,3,3)"/><stop offset="0.6915" stop-color="rgb(92,2,2)"/><stop offset="0.7438" stop-color="rgb(84,2,2)"/><stop offset="0.7867" stop-color="rgb(84,2,2)"/><stop offset="0.8185" stop-color="rgb(84,2,2)"/><stop offset="0.8381" stop-color="rgb(84,2,2)"/><stop offset="0.8448" stop-color="rgb(84,2,2)"/></linearGradient><linearGradient id="d18" gradientUnits="userSpaceOnUse" x1="292.9" y1="0" x2="608.9" y2="0"><stop offset="0.1734" stop-color="rgb(133,3,3)"/><stop offset="0.1797" stop-color="rgb(154,3,3)"/><stop offset="0.1983" stop-color="rgb(170,4,4)"/><stop offset="0.2285" stop-color="rgb(182,4,4)"/><stop offset="0.2691" stop-color="rgb(189,4,4)"/><stop offset="0.3186" stop-color="rgb(189,4,4)"/><stop offset="0.3750" stop-color="rgb(184,4,4)"/><stop offset="0.4363" stop-color="rgb(174,4,4)"/><stop offset="0.5000" stop-color="rgb(158,3,3)"/><stop offset="0.5637" stop-color="rgb(138,3,3)"/><stop offset="0.6250" stop-color="rgb(115,2,2)"/><stop offset="0.6814" stop-color="rgb(88,2,2)"/><stop offset="0.7309" stop-color="rgb(84,2,2)"/><stop offset="0.7715" stop-color="rgb(84,2,2)"/><stop offset="0.8017" stop-color="rgb(84,2,2)"/><stop offset="0.8203" stop-color="rgb(84,2,2)"/><stop offset="0.8266" stop-color="rgb(84,2,2)"/></linearGradient><linearGradient id="d19" gradientUnits="userSpaceOnUse" x1="292.9" y1="0" x2="608.9" y2="0"><stop offset="0.1924" stop-color="rgb(126,3,3)"/><stop offset="0.1983" stop-color="rgb(146,3,3)"/><stop offset="0.2158" stop-color="rgb(161,3,3)"/><stop offset="0.2442" stop-color="rgb(173,4,4)"/><stop offset="0.2825" stop-color="rgb(179,4,4)"/><stop offset="0.3291" stop-color="rgb(179,4,4)"/><stop offset="0.3823" stop-color="rgb(175,4,4)"/><stop offset="0.4400" stop-color="rgb(165,4,4)"/><stop offset="0.5000" stop-color="rgb(150,3,3)"/><stop offset="0.5600" stop-color="rgb(131,3,3)"/><stop offset="0.6177" stop-color="rgb(109,2,2)"/><stop offset="0.6709" stop-color="rgb(84,2,2)"/><stop offset="0.7175" stop-color="rgb(84,2,2)"/><stop offset="0.7558" stop-color="rgb(84,2,2)"/><stop offset="0.7842" stop-color="rgb(84,2,2)"/><stop offset="0.8017" stop-color="rgb(84,2,2)"/><stop offset="0.8076" stop-color="rgb(84,2,2)"/></linearGradient><linearGradient id="d20" gradientUnits="userSpaceOnUse" x1="292.9" y1="0" x2="608.9" y2="0"><stop offset="0.2121" stop-color="rgb(119,3,3)"/><stop offset="0.2176" stop-color="rgb(138,3,3)"/><stop offset="0.2340" stop-color="rgb(152,3,3)"/><stop offset="0.2606" stop-color="rgb(163,4,4)"/><stop offset="0.2964" stop-color="rgb(168,4,4)"/><stop offset="0.3400" stop-color="rgb(169,4,4)"/><stop offset="0.3898" stop-color="rgb(165,4,4)"/><stop offset="0.4438" stop-color="rgb(155,3,3)"/><stop offset="0.5000" stop-color="rgb(142,3,3)"/><stop offset="0.5562" stop-color="rgb(124,3,3)"/><stop offset="0.6102" stop-color="rgb(103,2,2)"/><stop offset="0.6600" stop-color="rgb(84,2,2)"/><stop offset="0.7036" stop-color="rgb(84,2,2)"/><stop offset="0.7394" stop-color="rgb(84,2,2)"/><stop offset="0.7660" stop-color="rgb(84,2,2)"/><stop offset="0.7824" stop-color="rgb(84,2,2)"/><stop offset="0.7879" stop-color="rgb(84,2,2)"/></linearGradient><linearGradient id="d21" gradientUnits="userSpaceOnUse" x1="292.9" y1="0" x2="608.9" y2="0"><stop offset="0.2325" stop-color="rgb(112,2,2)"/><stop offset="0.2376" stop-color="rgb(129,3,3)"/><stop offset="0.2529" stop-color="rgb(143,3,3)"/><stop offset="0.2776" stop-color="rgb(153,3,3)"/><stop offset="0.3108" stop-color="rgb(158,3,3)"/><stop offset="0.3514" stop-color="rgb(158,3,3)"/><stop offset="0.3976" stop-color="rgb(154,3,3)"/><stop offset="0.4478" stop-color="rgb(146,3,3)"/><stop offset="0.5000" stop-color="rgb(133,3,3)"/><stop offset="0.5522" stop-color="rgb(117,3,3)"/><stop offset="0.6024" stop-color="rgb(97,2,2)"/><stop offset="0.6486" stop-color="rgb(84,2,2)"/><stop offset="0.6892" stop-color="rgb(84,2,2)"/><stop offset="0.7224" stop-color="rgb(84,2,2)"/><stop offset="0.7471" stop-color="rgb(84,2,2)"/><stop offset="0.7624" stop-color="rgb(84,2,2)"/><stop offset="0.7675" stop-color="rgb(84,2,2)"/></linearGradient><linearGradient id="d22" gradientUnits="userSpaceOnUse" x1="292.9" y1="0" x2="608.9" y2="0"><stop offset="0.2536" stop-color="rgb(105,2,2)"/><stop offset="0.2583" stop-color="rgb(121,3,3)"/><stop offset="0.2723" stop-color="rgb(133,3,3)"/><stop offset="0.2951" stop-color="rgb(142,3,3)"/><stop offset="0.3257" stop-color="rgb(147,3,3)"/><stop offset="0.3631" stop-color="rgb(148,3,3)"/><stop offset="0.4057" stop-color="rgb(144,3,3)"/><stop offset="0.4519" stop-color="rgb(136,3,3)"/><stop offset="0.5000" stop-color="rgb(124,3,3)"/><stop offset="0.5481" stop-color="rgb(109,2,2)"/><stop offset="0.5943" stop-color="rgb(91,2,2)"/><stop offset="0.6369" stop-color="rgb(84,2,2)"/><stop offset="0.6743" stop-color="rgb(84,2,2)"/><stop offset="0.7049" stop-color="rgb(84,2,2)"/><stop offset="0.7277" stop-color="rgb(84,2,2)"/><stop offset="0.7417" stop-color="rgb(84,2,2)"/><stop offset="0.7464" stop-color="rgb(84,2,2)"/></linearGradient><linearGradient id="d23" gradientUnits="userSpaceOnUse" x1="292.9" y1="0" x2="608.9" y2="0"><stop offset="0.2752" stop-color="rgb(98,2,2)"/><stop offset="0.2795" stop-color="rgb(112,2,2)"/><stop offset="0.2923" stop-color="rgb(124,3,3)"/><stop offset="0.3131" stop-color="rgb(132,3,3)"/><stop offset="0.3410" stop-color="rgb(136,3,3)"/><stop offset="0.3751" stop-color="rgb(137,3,3)"/><stop offset="0.4140" stop-color="rgb(133,3,3)"/><stop offset="0.4561" stop-color="rgb(126,3,3)"/><stop offset="0.5000" stop-color="rgb(116,2,2)"/><stop offset="0.5439" stop-color="rgb(102,2,2)"/><stop offset="0.5860" stop-color="rgb(85,2,2)"/><stop offset="0.6249" stop-color="rgb(84,2,2)"/><stop offset="0.6590" stop-color="rgb(84,2,2)"/><stop offset="0.6869" stop-color="rgb(84,2,2)"/><stop offset="0.7077" stop-color="rgb(84,2,2)"/><stop offset="0.7205" stop-color="rgb(84,2,2)"/><stop offset="0.7248" stop-color="rgb(84,2,2)"/></linearGradient><linearGradient id="d24" gradientUnits="userSpaceOnUse" x1="292.9" y1="0" x2="608.9" y2="0"><stop offset="0.2974" stop-color="rgb(91,2,2)"/><stop offset="0.3013" stop-color="rgb(104,2,2)"/><stop offset="0.3128" stop-color="rgb(114,2,2)"/><stop offset="0.3315" stop-color="rgb(121,3,3)"/><stop offset="0.3567" stop-color="rgb(125,3,3)"/><stop offset="0.3874" stop-color="rgb(126,3,3)"/><stop offset="0.4225" stop-color="rgb(123,3,3)"/><stop offset="0.4605" stop-color="rgb(116,3,3)"/><stop offset="0.5000" stop-color="rgb(107,2,2)"/><stop offset="0.5395" stop-color="rgb(94,2,2)"/><stop offset="0.5775" stop-color="rgb(84,2,2)"/><stop offset="0.6126" stop-color="rgb(84,2,2)"/><stop offset="0.6433" stop-color="rgb(84,2,2)"/><stop offset="0.6685" stop-color="rgb(84,2,2)"/><stop offset="0.6872" stop-color="rgb(84,2,2)"/><stop offset="0.6987" stop-color="rgb(84,2,2)"/><stop offset="0.7026" stop-color="rgb(84,2,2)"/></linearGradient><linearGradient id="d25" gradientUnits="userSpaceOnUse" x1="292.9" y1="0" x2="608.9" y2="0"><stop offset="0.3201" stop-color="rgb(84,2,2)"/><stop offset="0.3235" stop-color="rgb(95,2,2)"/><stop offset="0.3338" stop-color="rgb(104,2,2)"/><stop offset="0.3504" stop-color="rgb(111,2,2)"/><stop offset="0.3728" stop-color="rgb(114,2,2)"/><stop offset="0.4000" stop-color="rgb(115,2,2)"/><stop offset="0.4311" stop-color="rgb(112,2,2)"/><stop offset="0.4649" stop-color="rgb(106,2,2)"/><stop offset="0.5000" stop-color="rgb(98,2,2)"/><stop offset="0.5351" stop-color="rgb(87,2,2)"/><stop offset="0.5689" stop-color="rgb(84,2,2)"/><stop offset="0.6000" stop-color="rgb(84,2,2)"/><stop offset="0.6272" stop-color="rgb(84,2,2)"/><stop offset="0.6496" stop-color="rgb(84,2,2)"/><stop offset="0.6662" stop-color="rgb(84,2,2)"/><stop offset="0.6765" stop-color="rgb(84,2,2)"/><stop offset="0.6799" stop-color="rgb(84,2,2)"/></linearGradient><linearGradient id="d26" gradientUnits="userSpaceOnUse" x1="292.9" y1="0" x2="608.9" y2="0"><stop offset="0.3432" stop-color="rgb(84,2,2)"/><stop offset="0.3462" stop-color="rgb(86,2,2)"/><stop offset="0.3551" stop-color="rgb(94,2,2)"/><stop offset="0.3696" stop-color="rgb(100,2,2)"/><stop offset="0.3891" stop-color="rgb(103,2,2)"/><stop offset="0.4129" stop-color="rgb(103,2,2)"/><stop offset="0.4400" stop-color="rgb(101,2,2)"/><stop offset="0.4694" stop-color="rgb(96,2,2)"/><stop offset="0.5000" stop-color="rgb(89,2,2)"/><stop offset="0.5306" stop-color="rgb(84,2,2)"/><stop offset="0.5600" stop-color="rgb(84,2,2)"/><stop offset="0.5871" stop-color="rgb(84,2,2)"/><stop offset="0.6109" stop-color="rgb(84,2,2)"/><stop offset="0.6304" stop-color="rgb(84,2,2)"/><stop offset="0.6449" stop-color="rgb(84,2,2)"/><stop offset="0.6538" stop-color="rgb(84,2,2)"/><stop offset="0.6568" stop-color="rgb(84,2,2)"/></linearGradient><linearGradient id="d27" gradientUnits="userSpaceOnUse" x1="292.9" y1="0" x2="608.9" y2="0"><stop offset="0.3666" stop-color="rgb(84,2,2)"/><stop offset="0.3692" stop-color="rgb(84,2,2)"/><stop offset="0.3768" stop-color="rgb(84,2,2)"/><stop offset="0.3891" stop-color="rgb(89,2,2)"/><stop offset="0.4057" stop-color="rgb(92,2,2)"/><stop offset="0.4259" stop-color="rgb(92,2,2)"/><stop offset="0.4490" stop-color="rgb(90,2,2)"/><stop offset="0.4740" stop-color="rgb(86,2,2)"/><stop offset="0.5000" stop-color="rgb(84,2,2)"/><stop offset="0.5260" stop-color="rgb(84,2,2)"/><stop offset="0.5510" stop-color="rgb(84,2,2)"/><stop offset="0.5741" stop-color="rgb(84,2,2)"/><stop offset="0.5943" stop-color="rgb(84,2,2)"/><stop offset="0.6109" stop-color="rgb(84,2,2)"/><stop offset="0.6232" stop-color="rgb(84,2,2)"/><stop offset="0.6308" stop-color="rgb(84,2,2)"/><stop offset="0.6334" stop-color="rgb(84,2,2)"/></linearGradient><linearGradient id="d28" gradientUnits="userSpaceOnUse" x1="292.9" y1="0" x2="608.9" y2="0"><stop offset="0.3904" stop-color="rgb(84,2,2)"/><stop offset="0.3926" stop-color="rgb(84,2,2)"/><stop offset="0.3988" stop-color="rgb(84,2,2)"/><stop offset="0.4089" stop-color="rgb(84,2,2)"/><stop offset="0.4225" stop-color="rgb(84,2,2)"/><stop offset="0.4391" stop-color="rgb(84,2,2)"/><stop offset="0.4581" stop-color="rgb(84,2,2)"/><stop offset="0.4786" stop-color="rgb(84,2,2)"/><stop offset="0.5000" stop-color="rgb(84,2,2)"/><stop offset="0.5214" stop-color="rgb(84,2,2)"/><stop offset="0.5419" stop-color="rgb(84,2,2)"/><stop offset="0.5609" stop-color="rgb(84,2,2)"/><stop offset="0.5775" stop-color="rgb(84,2,2)"/><stop offset="0.5911" stop-color="rgb(84,2,2)"/><stop offset="0.6012" stop-color="rgb(84,2,2)"/><stop offset="0.6074" stop-color="rgb(84,2,2)"/><stop offset="0.6096" stop-color="rgb(84,2,2)"/></linearGradient><linearGradient id="d29" gradientUnits="userSpaceOnUse" x1="292.9" y1="0" x2="608.9" y2="0"><stop offset="0.4145" stop-color="rgb(84,2,2)"/><stop offset="0.4162" stop-color="rgb(84,2,2)"/><stop offset="0.4210" stop-color="rgb(84,2,2)"/><stop offset="0.4289" stop-color="rgb(84,2,2)"/><stop offset="0.4396" stop-color="rgb(84,2,2)"/><stop offset="0.4525" stop-color="rgb(84,2,2)"/><stop offset="0.4673" stop-color="rgb(84,2,2)"/><stop offset="0.4833" stop-color="rgb(84,2,2)"/><stop offset="0.5000" stop-color="rgb(84,2,2)"/><stop offset="0.5167" stop-color="rgb(84,2,2)"/><stop offset="0.5327" stop-color="rgb(84,2,2)"/><stop offset="0.5475" stop-color="rgb(84,2,2)"/><stop offset="0.5604" stop-color="rgb(84,2,2)"/><stop offset="0.5711" stop-color="rgb(84,2,2)"/><stop offset="0.5790" stop-color="rgb(84,2,2)"/><stop offset="0.5838" stop-color="rgb(84,2,2)"/><stop offset="0.5855" stop-color="rgb(84,2,2)"/></linearGradient><linearGradient id="d30" gradientUnits="userSpaceOnUse" x1="292.9" y1="0" x2="608.9" y2="0"><stop offset="0.4388" stop-color="rgb(84,2,2)"/><stop offset="0.4400" stop-color="rgb(84,2,2)"/><stop offset="0.4435" stop-color="rgb(84,2,2)"/><stop offset="0.4491" stop-color="rgb(84,2,2)"/><stop offset="0.4567" stop-color="rgb(84,2,2)"/><stop offset="0.4660" stop-color="rgb(84,2,2)"/><stop offset="0.4766" stop-color="rgb(84,2,2)"/><stop offset="0.4881" stop-color="rgb(84,2,2)"/><stop offset="0.5000" stop-color="rgb(84,2,2)"/><stop offset="0.5119" stop-color="rgb(84,2,2)"/><stop offset="0.5234" stop-color="rgb(84,2,2)"/><stop offset="0.5340" stop-color="rgb(84,2,2)"/><stop offset="0.5433" stop-color="rgb(84,2,2)"/><stop offset="0.5509" stop-color="rgb(84,2,2)"/><stop offset="0.5565" stop-color="rgb(84,2,2)"/><stop offset="0.5600" stop-color="rgb(84,2,2)"/><stop offset="0.5612" stop-color="rgb(84,2,2)"/></linearGradient><linearGradient id="d31" gradientUnits="userSpaceOnUse" x1="292.9" y1="0" x2="608.9" y2="0"><stop offset="0.4632" stop-color="rgb(84,2,2)"/><stop offset="0.4639" stop-color="rgb(84,2,2)"/><stop offset="0.4660" stop-color="rgb(84,2,2)"/><stop offset="0.4694" stop-color="rgb(84,2,2)"/><stop offset="0.4740" stop-color="rgb(84,2,2)"/><stop offset="0.4796" stop-color="rgb(84,2,2)"/><stop offset="0.4859" stop-color="rgb(84,2,2)"/><stop offset="0.4928" stop-color="rgb(84,2,2)"/><stop offset="0.5000" stop-color="rgb(84,2,2)"/><stop offset="0.5072" stop-color="rgb(84,2,2)"/><stop offset="0.5141" stop-color="rgb(84,2,2)"/><stop offset="0.5204" stop-color="rgb(84,2,2)"/><stop offset="0.5260" stop-color="rgb(84,2,2)"/><stop offset="0.5306" stop-color="rgb(84,2,2)"/><stop offset="0.5340" stop-color="rgb(84,2,2)"/><stop offset="0.5361" stop-color="rgb(84,2,2)"/><stop offset="0.5368" stop-color="rgb(84,2,2)"/></linearGradient><linearGradient id="d32" gradientUnits="userSpaceOnUse" x1="292.9" y1="0" x2="608.9" y2="0"><stop offset="0.4877" stop-color="rgb(84,2,2)"/><stop offset="0.4880" stop-color="rgb(84,2,2)"/><stop offset="0.4887" stop-color="rgb(84,2,2)"/><stop offset="0.4898" stop-color="rgb(84,2,2)"/><stop offset="0.4913" stop-color="rgb(84,2,2)"/><stop offset="0.4932" stop-color="rgb(84,2,2)"/><stop offset="0.4953" stop-color="rgb(84,2,2)"/><stop offset="0.4976" stop-color="rgb(84,2,2)"/><stop offset="0.5000" stop-color="rgb(84,2,2)"/><stop offset="0.5024" stop-color="rgb(84,2,2)"/><stop offset="0.5047" stop-color="rgb(84,2,2)"/><stop offset="0.5068" stop-color="rgb(84,2,2)"/><stop offset="0.5087" stop-color="rgb(84,2,2)"/><stop offset="0.5102" stop-color="rgb(84,2,2)"/><stop offset="0.5113" stop-color="rgb(84,2,2)"/><stop offset="0.5120" stop-color="rgb(84,2,2)"/><stop offset="0.5123" stop-color="rgb(84,2,2)"/></linearGradient></defs>
<g><path d="M292.90,237.10 A158.00,121.10 0 0 1 608.90,237.10 A158.00,101.50 0 0 1 292.90,237.10 Z" fill="url(#d1)"/><path d="M293.09,231.16 A158.00,121.10 0 0 1 608.71,231.16 A157.81,101.38 0 0 1 293.09,231.16 Z" fill="url(#d2)"/><path d="M293.66,225.23 A158.00,121.10 0 0 1 608.14,225.23 A157.24,101.01 0 0 1 293.66,225.23 Z" fill="url(#d3)"/><path d="M294.61,219.33 A158.00,121.10 0 0 1 607.19,219.33 A156.29,100.40 0 0 1 294.61,219.33 Z" fill="url(#d4)"/><path d="M295.94,213.47 A158.00,121.10 0 0 1 605.86,213.47 A154.96,99.55 0 0 1 295.94,213.47 Z" fill="url(#d5)"/><path d="M297.64,207.68 A158.00,121.10 0 0 1 604.16,207.68 A153.26,98.46 0 0 1 297.64,207.68 Z" fill="url(#d6)"/><path d="M299.70,201.95 A158.00,121.10 0 0 1 602.10,201.95 A151.20,97.13 0 0 1 299.70,201.95 Z" fill="url(#d7)"/><path d="M302.14,196.30 A158.00,121.10 0 0 1 599.66,196.30 A148.76,95.57 0 0 1 302.14,196.30 Z" fill="url(#d8)"/><path d="M304.93,190.76 A158.00,121.10 0 0 1 596.87,190.76 A145.97,93.77 0 0 1 304.93,190.76 Z" fill="url(#d9)"/><path d="M308.07,185.32 A158.00,121.10 0 0 1 593.73,185.32 A142.83,91.75 0 0 1 308.07,185.32 Z" fill="url(#d10)"/><path d="M311.56,180.01 A158.00,121.10 0 0 1 590.24,180.01 A139.34,89.52 0 0 1 311.56,180.01 Z" fill="url(#d11)"/><path d="M315.38,174.84 A158.00,121.10 0 0 1 586.42,174.84 A135.52,87.06 0 0 1 315.38,174.84 Z" fill="url(#d12)"/><path d="M319.53,169.82 A158.00,121.10 0 0 1 582.27,169.82 A131.37,84.39 0 0 1 319.53,169.82 Z" fill="url(#d13)"/><path d="M323.99,164.96 A158.00,121.10 0 0 1 577.81,164.96 A126.91,81.53 0 0 1 323.99,164.96 Z" fill="url(#d14)"/><path d="M328.76,160.27 A158.00,121.10 0 0 1 573.04,160.27 A122.14,78.46 0 0 1 328.76,160.27 Z" fill="url(#d15)"/><path d="M333.83,155.77 A158.00,121.10 0 0 1 567.97,155.77 A117.07,75.21 0 0 1 333.83,155.77 Z" fill="url(#d16)"/><path d="M339.18,151.47 A158.00,121.10 0 0 1 562.62,151.47 A111.72,71.77 0 0 1 339.18,151.47 Z" fill="url(#d17)"/><path d="M344.79,147.37 A158.00,121.10 0 0 1 557.01,147.37 A106.11,68.16 0 0 1 344.79,147.37 Z" fill="url(#d18)"/><path d="M350.67,143.49 A158.00,121.10 0 0 1 551.13,143.49 A100.23,64.39 0 0 1 350.67,143.49 Z" fill="url(#d19)"/><path d="M356.78,139.83 A158.00,121.10 0 0 1 545.02,139.83 A94.12,60.46 0 0 1 356.78,139.83 Z" fill="url(#d20)"/><path d="M363.12,136.41 A158.00,121.10 0 0 1 538.68,136.41 A87.78,56.39 0 0 1 363.12,136.41 Z" fill="url(#d21)"/><path d="M369.67,133.23 A158.00,121.10 0 0 1 532.13,133.23 A81.23,52.18 0 0 1 369.67,133.23 Z" fill="url(#d22)"/><path d="M376.42,130.30 A158.00,121.10 0 0 1 525.38,130.30 A74.48,47.85 0 0 1 376.42,130.30 Z" fill="url(#d23)"/><path d="M383.35,127.63 A158.00,121.10 0 0 1 518.45,127.63 A67.55,43.40 0 0 1 383.35,127.63 Z" fill="url(#d24)"/><path d="M390.44,125.22 A158.00,121.10 0 0 1 511.36,125.22 A60.46,38.84 0 0 1 390.44,125.22 Z" fill="url(#d25)"/><path d="M397.67,123.08 A158.00,121.10 0 0 1 504.13,123.08 A53.23,34.19 0 0 1 397.67,123.08 Z" fill="url(#d26)"/><path d="M405.04,121.21 A158.00,121.10 0 0 1 496.76,121.21 A45.86,29.46 0 0 1 405.04,121.21 Z" fill="url(#d27)"/><path d="M412.51,119.63 A158.00,121.10 0 0 1 489.29,119.63 A38.39,24.66 0 0 1 412.51,119.63 Z" fill="url(#d28)"/><path d="M420.08,118.33 A158.00,121.10 0 0 1 481.72,118.33 A30.82,19.80 0 0 1 420.08,118.33 Z" fill="url(#d29)"/><path d="M427.72,117.31 A158.00,121.10 0 0 1 474.08,117.31 A23.18,14.89 0 0 1 427.72,117.31 Z" fill="url(#d30)"/><path d="M435.41,116.58 A158.00,121.10 0 0 1 466.39,116.58 A15.49,9.95 0 0 1 435.41,116.58 Z" fill="url(#d31)"/><path d="M443.15,116.15 A158.00,121.10 0 0 1 458.65,116.15 A7.75,4.98 0 0 1 443.15,116.15 Z" fill="url(#d32)"/></g>
<clipPath id="c33"><path d="M292.90,237.10 A158.00,121.10 0 0 1 608.90,237.10 A158.00,101.50 0 0 1 292.90,237.10 Z"/></clipPath>
<path clip-path="url(#c33)" d="M447.02,116.04 A3.88,2.49 0 0 0 454.78,116.04 M443.15,116.15 A7.75,4.98 0 0 0 458.65,116.15 M439.28,116.33 A11.62,7.47 0 0 0 462.52,116.33 M435.41,116.58 A15.49,9.95 0 0 0 466.39,116.58 M431.56,116.91 A19.34,12.42 0 0 0 470.24,116.91 M427.72,117.31 A23.18,14.89 0 0 0 474.08,117.31 M423.89,117.78 A27.01,17.35 0 0 0 477.91,117.78 M420.08,118.33 A30.82,19.80 0 0 0 481.72,118.33 M416.28,118.94 A34.62,22.24 0 0 0 485.52,118.94 M412.51,119.63 A38.39,24.66 0 0 0 489.29,119.63 M408.76,120.39 A42.14,27.07 0 0 0 493.04,120.39 M405.04,121.21 A45.86,29.46 0 0 0 496.76,121.21 M401.34,122.11 A49.56,31.84 0 0 0 500.46,122.11 M397.67,123.08 A53.23,34.19 0 0 0 504.13,123.08 M394.04,124.11 A56.86,36.53 0 0 0 507.76,124.11 M390.44,125.22 A60.46,38.84 0 0 0 511.36,125.22 M386.87,126.39 A64.03,41.13 0 0 0 514.93,126.39 M383.35,127.63 A67.55,43.40 0 0 0 518.45,127.63 M379.86,128.93 A71.04,45.64 0 0 0 521.94,128.93 M376.42,130.30 A74.48,47.85 0 0 0 525.38,130.30 M373.02,131.73 A77.88,50.03 0 0 0 528.78,131.73 M369.67,133.23 A81.23,52.18 0 0 0 532.13,133.23 M366.37,134.79 A84.53,54.30 0 0 0 535.43,134.79 M363.12,136.41 A87.78,56.39 0 0 0 538.68,136.41 M359.92,138.09 A90.98,58.44 0 0 0 541.88,138.09 M356.78,139.83 A94.12,60.46 0 0 0 545.02,139.83 M353.69,141.63 A97.21,62.45 0 0 0 548.11,141.63 M350.67,143.49 A100.23,64.39 0 0 0 551.13,143.49 M347.70,145.40 A103.20,66.30 0 0 0 554.10,145.40 M344.79,147.37 A106.11,68.16 0 0 0 557.01,147.37 M341.95,149.39 A108.95,69.99 0 0 0 559.85,149.39 M339.18,151.47 A111.72,71.77 0 0 0 562.62,151.47 M336.47,153.60 A114.43,73.51 0 0 0 565.33,153.60 M333.83,155.77 A117.07,75.21 0 0 0 567.97,155.77 M331.26,158.00 A119.64,76.86 0 0 0 570.54,158.00 M328.76,160.27 A122.14,78.46 0 0 0 573.04,160.27 M326.34,162.60 A124.56,80.02 0 0 0 575.46,162.60 M323.99,164.96 A126.91,81.53 0 0 0 577.81,164.96 M321.72,167.37 A129.18,82.98 0 0 0 580.08,167.37 M319.53,169.82 A131.37,84.39 0 0 0 582.27,169.82 M317.41,172.31 A133.49,85.75 0 0 0 584.39,172.31 M315.38,174.84 A135.52,87.06 0 0 0 586.42,174.84 M313.43,177.41 A137.47,88.31 0 0 0 588.37,177.41 M311.56,180.01 A139.34,89.52 0 0 0 590.24,180.01 M309.77,182.65 A141.13,90.66 0 0 0 592.03,182.65 M308.07,185.32 A142.83,91.75 0 0 0 593.73,185.32 M306.45,188.03 A144.45,92.79 0 0 0 595.35,188.03 M304.93,190.76 A145.97,93.77 0 0 0 596.87,190.76 M303.49,193.52 A147.41,94.70 0 0 0 598.31,193.52 M302.14,196.30 A148.76,95.57 0 0 0 599.66,196.30 M300.87,199.11 A150.03,96.38 0 0 0 600.93,199.11 M299.70,201.95 A151.20,97.13 0 0 0 602.10,201.95 M298.62,204.80 A152.28,97.82 0 0 0 603.18,204.80 M297.64,207.68 A153.26,98.46 0 0 0 604.16,207.68 M296.74,210.57 A154.16,99.03 0 0 0 605.06,210.57 M295.94,213.47 A154.96,99.55 0 0 0 605.86,213.47 M295.23,216.40 A155.67,100.01 0 0 0 606.57,216.40 M294.61,219.33 A156.29,100.40 0 0 0 607.19,219.33 M294.09,222.28 A156.81,100.74 0 0 0 607.71,222.28 M293.66,225.23 A157.24,101.01 0 0 0 608.14,225.23 M293.33,228.19 A157.57,101.22 0 0 0 608.47,228.19 M293.09,231.16 A157.81,101.38 0 0 0 608.71,231.16 M292.95,234.13 A157.95,101.47 0 0 0 608.85,234.13 M292.90,237.10 A158.00,101.50 0 0 0 608.90,237.10" fill="none" stroke="#000" stroke-opacity="0.35" stroke-width="0.50"/>
<path clip-path="url(#c33)" d="M450.9,116.0 L440.7,117.4 L430.6,119.3 L420.5,121.8 L410.6,124.7 L400.9,128.1 L391.4,132.0 L382.1,136.3 L373.1,141.0 L364.5,146.2 L356.2,151.8 L348.3,157.7 L340.9,163.9 L333.9,170.5 L327.5,177.4 L321.5,184.5 L316.1,191.8 L311.3,199.3 L307.1,207.0 L303.6,214.9 L300.6,222.8 L298.3,230.8 L296.6,238.8 L295.6,246.8 L295.3,254.7 M450.9,116.0 L441.2,118.5 L431.5,121.6 L421.9,125.1 L412.5,129.1 L403.2,133.6 L394.1,138.5 L385.2,143.8 L376.7,149.6 L368.4,155.7 L360.5,162.2 L353.0,168.9 L345.9,176.0 L339.3,183.4 L333.1,190.9 L327.5,198.7 L322.3,206.6 L317.7,214.7 L313.7,222.8 L310.3,231.0 L307.5,239.3 L305.3,247.5 L303.7,255.7 L302.7,263.8 L302.4,271.8 M450.9,116.0 L442.0,119.6 L433.0,123.7 L424.2,128.2 L415.5,133.3 L406.9,138.7 L398.5,144.6 L390.4,150.9 L382.5,157.6 L374.9,164.6 L367.6,171.9 L360.7,179.5 L354.1,187.4 L348.0,195.4 L342.3,203.6 L337.1,212.0 L332.4,220.5 L328.2,229.1 L324.5,237.6 L321.3,246.2 L318.7,254.8 L316.7,263.2 L315.2,271.6 L314.4,279.8 L314.1,287.8 M450.9,116.0 L443.0,120.5 L435.1,125.6 L427.3,131.1 L419.6,137.0 L412.0,143.4 L404.6,150.2 L397.4,157.3 L390.4,164.8 L383.7,172.7 L377.2,180.7 L371.1,189.1 L365.3,197.6 L359.9,206.3 L354.9,215.1 L350.3,224.1 L346.1,233.1 L342.3,242.1 L339.1,251.0 L336.3,260.0 L334.0,268.8 L332.2,277.5 L330.9,286.0 L330.1,294.3 L329.9,302.3 M450.9,116.0 L444.3,121.3 L437.6,127.2 L431.1,133.5 L424.6,140.3 L418.3,147.4 L412.0,155.0 L406.0,162.9 L400.1,171.1 L394.5,179.6 L389.1,188.4 L383.9,197.3 L379.1,206.4 L374.5,215.7 L370.3,225.1 L366.5,234.5 L362.9,243.9 L359.8,253.3 L357.1,262.6 L354.7,271.8 L352.8,280.9 L351.3,289.7 L350.2,298.4 L349.6,306.8 L349.3,314.9 M450.9,116.0 L445.7,122.0 L440.6,128.5 L435.5,135.5 L430.5,142.9 L425.5,150.7 L420.7,158.9 L416.0,167.4 L411.4,176.2 L407.0,185.2 L402.8,194.5 L398.8,204.0 L395.0,213.6 L391.5,223.3 L388.2,233.1 L385.2,242.9 L382.5,252.7 L380.0,262.4 L377.9,272.0 L376.1,281.4 L374.6,290.7 L373.4,299.7 L372.6,308.4 L372.1,316.9 L371.9,325.0 M450.9,116.0 L447.4,122.5 L443.8,129.5 L440.4,136.9 L436.9,144.8 L433.5,153.1 L430.2,161.7 L427.0,170.7 L423.9,179.9 L420.9,189.4 L418.0,199.1 L415.3,208.9 L412.7,218.9 L410.3,229.0 L408.0,239.0 L406.0,249.1 L404.1,259.2 L402.4,269.1 L401.0,278.9 L399.7,288.5 L398.7,297.9 L397.9,307.0 L397.3,315.9 L397.0,324.4 L396.9,332.5 M450.9,116.0 L449.1,122.8 L447.3,130.1 L445.5,137.8 L443.8,146.0 L442.1,154.6 L440.4,163.5 L438.8,172.7 L437.2,182.2 L435.7,191.9 L434.2,201.9 L432.8,212.0 L431.5,222.2 L430.3,232.4 L429.1,242.7 L428.1,252.9 L427.1,263.1 L426.3,273.2 L425.6,283.1 L424.9,292.8 L424.4,302.3 L424.0,311.5 L423.7,320.4 L423.5,328.9 L423.5,337.1 M450.9,116.0 L450.9,122.9 L450.9,130.3 L450.9,138.1 L450.9,146.4 L450.9,155.1 L450.9,164.1 L450.9,173.4 L450.9,183.0 L450.9,192.8 L450.9,202.8 L450.9,213.0 L450.9,223.2 L450.9,233.6 L450.9,243.9 L450.9,254.2 L450.9,264.5 L450.9,274.6 L450.9,284.5 L450.9,294.3 L450.9,303.8 L450.9,313.0 L450.9,321.9 L450.9,330.5 L450.9,338.6 M450.9,116.0 L452.7,122.8 L454.5,130.1 L456.3,137.8 L458.0,146.0 L459.7,154.6 L461.4,163.5 L463.0,172.7 L464.6,182.2 L466.1,191.9 L467.6,201.9 L469.0,212.0 L470.3,222.2 L471.5,232.4 L472.7,242.7 L473.7,252.9 L474.7,263.1 L475.5,273.2 L476.2,283.1 L476.9,292.8 L477.4,302.3 L477.8,311.5 L478.1,320.4 L478.3,328.9 L478.3,337.1 M450.9,116.0 L454.4,122.5 L458.0,129.5 L461.4,136.9 L464.9,144.8 L468.3,153.1 L471.6,161.7 L474.8,170.7 L477.9,179.9 L480.9,189.4 L483.8,199.1 L486.5,208.9 L489.1,218.9 L491.5,229.0 L493.8,239.0 L495.8,249.1 L497.7,259.2 L499.4,269.1 L500.8,278.9 L502.1,288.5 L503.1,297.9 L503.9,307.0 L504.5,315.9 L504.8,324.4 L504.9,332.5 M450.9,116.0 L456.1,122.0 L461.2,128.5 L466.3,135.5 L471.3,142.9 L476.3,150.7 L481.1,158.9 L485.8,167.4 L490.4,176.2 L494.8,185.2 L499.0,194.5 L503.0,204.0 L506.8,213.6 L510.3,223.3 L513.6,233.1 L516.6,242.9 L519.3,252.7 L521.8,262.4 L523.9,272.0 L525.7,281.4 L527.2,290.7 L528.4,299.7 L529.2,308.4 L529.7,316.9 L529.9,325.0 M450.9,116.0 L457.5,121.3 L464.2,127.2 L470.7,133.5 L477.2,140.3 L483.5,147.4 L489.8,155.0 L495.8,162.9 L501.7,171.1 L507.3,179.6 L512.7,188.4 L517.9,197.3 L522.7,206.4 L527.3,215.7 L531.5,225.1 L535.3,234.5 L538.9,243.9 L542.0,253.3 L544.7,262.6 L547.1,271.8 L549.0,280.9 L550.5,289.7 L551.6,298.4 L552.2,306.8 L552.5,314.9 M450.9,116.0 L458.8,120.5 L466.7,125.6 L474.5,131.1 L482.2,137.0 L489.8,143.4 L497.2,150.2 L504.4,157.3 L511.4,164.8 L518.1,172.7 L524.6,180.7 L530.7,189.1 L536.5,197.6 L541.9,206.3 L546.9,215.1 L551.5,224.1 L555.7,233.1 L559.5,242.1 L562.7,251.0 L565.5,260.0 L567.8,268.8 L569.6,277.5 L570.9,286.0 L571.7,294.3 L571.9,302.3 M450.9,116.0 L459.8,119.6 L468.8,123.7 L477.6,128.2 L486.3,133.3 L494.9,138.7 L503.3,144.6 L511.4,150.9 L519.3,157.6 L526.9,164.6 L534.2,171.9 L541.1,179.5 L547.7,187.4 L553.8,195.4 L559.5,203.6 L564.7,212.0 L569.4,220.5 L573.6,229.1 L577.3,237.6 L580.5,246.2 L583.1,254.8 L585.1,263.2 L586.6,271.6 L587.4,279.8 L587.7,287.9 M450.9,116.0 L460.6,118.5 L470.3,121.6 L479.9,125.1 L489.3,129.1 L498.6,133.6 L507.7,138.5 L516.6,143.8 L525.1,149.6 L533.4,155.7 L541.3,162.2 L548.8,168.9 L555.9,176.0 L562.5,183.4 L568.7,190.9 L574.3,198.7 L579.5,206.6 L584.1,214.7 L588.1,222.8 L591.5,231.0 L594.3,239.3 L596.5,247.5 L598.1,255.7 L599.1,263.8 L599.4,271.8 M450.9,116.0 L461.1,117.4 L471.2,119.3 L481.3,121.8 L491.2,124.7 L500.9,128.1 L510.4,132.0 L519.7,136.3 L528.7,141.0 L537.3,146.2 L545.6,151.8 L553.5,157.7 L560.9,163.9 L567.9,170.5 L574.3,177.4 L580.3,184.5 L585.7,191.8 L590.5,199.3 L594.7,207.0 L598.2,214.9 L601.2,222.8 L603.5,230.8 L605.2,238.8 L606.2,246.8 L606.5,254.7" fill="none" stroke="#000" stroke-opacity="0.42" stroke-width="0.60"/>
<g><path d="M926.20,237.00 A218.60,167.60 0 0 1 1363.40,237.00 Z" fill="rgb(0,0,205)"/><path d="M926.85,237.00 A217.95,167.10 0 0 1 1362.75,237.00 Z" fill="rgb(0,0,205)"/><path d="M927.50,237.00 A217.30,166.59 0 0 1 1362.10,237.00 Z" fill="rgb(0,0,205)"/><path d="M928.15,237.00 A216.65,166.09 0 0 1 1361.45,237.00 Z" fill="rgb(0,0,205)"/><path d="M928.80,237.00 A216.00,165.58 0 0 1 1360.80,237.00 Z" fill="rgb(0,0,205)"/><path d="M929.46,237.00 A215.34,165.08 0 0 1 1360.14,237.00 Z" fill="rgb(0,0,205)"/><path d="M930.11,237.00 A214.69,164.57 0 0 1 1359.49,237.00 Z" fill="rgb(0,0,205)"/><path d="M930.76,237.00 A214.04,164.07 0 0 1 1358.84,237.00 Z" fill="rgb(0,0,205)"/><path d="M931.41,237.00 A213.39,163.56 0 0 1 1358.19,237.00 Z" fill="rgb(0,0,205)"/><path d="M932.06,237.00 A212.74,163.06 0 0 1 1357.54,237.00 Z" fill="rgb(0,0,205)"/><path d="M932.71,237.00 A212.09,162.56 0 0 1 1356.89,237.00 Z" fill="rgb(0,0,205)"/><path d="M933.36,237.00 A211.44,162.05 0 0 1 1356.24,237.00 Z" fill="rgb(0,0,205)"/><path d="M934.01,237.00 A210.79,161.55 0 0 1 1355.59,237.00 Z" fill="rgb(0,0,205)"/><path d="M934.66,237.00 A210.14,161.04 0 0 1 1354.94,237.00 Z" fill="rgb(0,0,205)"/><path d="M935.32,237.00 A209.48,160.54 0 0 1 1354.28,237.00 Z" fill="rgb(0,0,205)"/><path d="M935.97,237.00 A208.83,160.03 0 0 1 1353.63,237.00 Z" fill="rgb(0,13,206)"/><path d="M936.62,237.00 A208.18,159.53 0 0 1 1352.98,237.00 Z" fill="rgb(0,77,208)"/><path d="M937.27,237.00 A207.53,159.02 0 0 1 1352.33,237.00 Z" fill="rgb(0,116,210)"/><path d="M937.92,237.00 A206.88,158.52 0 0 1 1351.68,237.00 Z" fill="rgb(0,120,210)"/><path d="M938.57,237.00 A206.23,158.02 0 0 1 1351.03,237.00 Z" fill="rgb(0,123,209)"/><path d="M939.22,237.00 A205.58,157.51 0 0 1 1350.38,237.00 Z" fill="rgb(0,126,209)"/><path d="M939.87,237.00 A204.93,157.01 0 0 1 1349.73,237.00 Z" fill="rgb(0,129,209)"/><path d="M940.52,237.00 A204.28,156.50 0 0 1 1349.08,237.00 Z" fill="rgb(0,133,208)"/><path d="M941.18,237.00 A203.62,156.00 0 0 1 1348.42,237.00 Z" fill="rgb(0,136,208)"/><path d="M941.83,237.00 A202.97,155.49 0 0 1 1347.77,237.00 Z" fill="rgb(0,139,208)"/><path d="M942.48,237.00 A202.32,154.99 0 0 1 1347.12,237.00 Z" fill="rgb(0,142,207)"/><path d="M943.13,237.00 A201.67,154.48 0 0 1 1346.47,237.00 Z" fill="rgb(0,146,207)"/><path d="M943.78,237.00 A201.02,153.98 0 0 1 1345.82,237.00 Z" fill="rgb(0,149,207)"/><path d="M944.43,237.00 A200.37,153.48 0 0 1 1345.17,237.00 Z" fill="rgb(0,152,206)"/><path d="M945.08,237.00 A199.72,152.97 0 0 1 1344.52,237.00 Z" fill="rgb(0,156,206)"/><path d="M945.73,237.00 A199.07,152.47 0 0 1 1343.87,237.00 Z" fill="rgb(0,159,206)"/><path d="M946.38,237.00 A198.42,151.96 0 0 1 1343.22,237.00 Z" fill="rgb(0,162,205)"/><path d="M947.04,237.00 A197.76,151.46 0 0 1 1342.56,237.00 Z" fill="rgb(0,165,205)"/><path d="M947.69,237.00 A197.11,150.95 0 0 1 1341.91,237.00 Z" fill="rgb(0,168,204)"/><path d="M948.34,237.00 A196.46,150.45 0 0 1 1341.26,237.00 Z" fill="rgb(0,171,204)"/><path d="M948.99,237.00 A195.81,149.94 0 0 1 1340.61,237.00 Z" fill="rgb(0,174,204)"/><path d="M949.64,237.00 A195.16,149.44 0 0 1 1339.96,237.00 Z" fill="rgb(0,176,203)"/><path d="M950.29,237.00 A194.51,148.94 0 0 1 1339.31,237.00 Z" fill="rgb(0,179,203)"/><path d="M950.94,237.00 A193.86,148.43 0 0 1 1338.66,237.00 Z" fill="rgb(0,182,202)"/><path d="M951.59,237.00 A193.21,147.93 0 0 1 1338.01,237.00 Z" fill="rgb(0,185,202)"/><path d="M952.24,237.00 A192.56,147.42 0 0 1 1337.36,237.00 Z" fill="rgb(0,188,201)"/><path d="M952.90,237.00 A191.90,146.92 0 0 1 1336.70,237.00 Z" fill="rgb(0,190,201)"/><path d="M953.55,237.00 A191.25,146.41 0 0 1 1336.05,237.00 Z" fill="rgb(0,193,200)"/><path d="M954.20,237.00 A190.60,145.91 0 0 1 1335.40,237.00 Z" fill="rgb(0,195,198)"/><path d="M954.85,237.00 A189.95,145.40 0 0 1 1334.75,237.00 Z" fill="rgb(0,196,192)"/><path d="M955.50,237.00 A189.30,144.90 0 0 1 1334.10,237.00 Z" fill="rgb(0,197,185)"/><path d="M956.15,237.00 A188.65,144.40 0 0 1 1333.45,237.00 Z" fill="rgb(0,198,179)"/><path d="M956.80,237.00 A188.00,143.89 0 0 1 1332.80,237.00 Z" fill="rgb(0,198,173)"/><path d="M957.45,237.00 A187.35,143.39 0 0 1 1332.15,237.00 Z" fill="rgb(0,199,166)"/><path d="M958.10,237.00 A186.70,142.88 0 0 1 1331.50,237.00 Z" fill="rgb(0,200,160)"/><path d="M958.76,237.00 A186.04,142.38 0 0 1 1330.84,237.00 Z" fill="rgb(0,200,116)"/><path d="M959.41,237.00 A185.39,141.87 0 0 1 1330.19,237.00 Z" fill="rgb(0,200,71)"/><path d="M960.06,237.00 A184.74,141.37 0 0 1 1329.54,237.00 Z" fill="rgb(1,200,38)"/><path d="M960.71,237.00 A184.09,140.86 0 0 1 1328.89,237.00 Z" fill="rgb(5,200,30)"/><path d="M961.36,237.00 A183.44,140.36 0 0 1 1328.24,237.00 Z" fill="rgb(9,200,23)"/><path d="M962.01,237.00 A182.79,139.86 0 0 1 1327.59,237.00 Z" fill="rgb(12,200,16)"/><path d="M962.66,237.00 A182.14,139.35 0 0 1 1326.94,237.00 Z" fill="rgb(16,200,8)"/><path d="M963.31,237.00 A181.49,138.85 0 0 1 1326.29,237.00 Z" fill="rgb(20,200,1)"/><path d="M963.96,237.00 A180.84,138.34 0 0 1 1325.64,237.00 Z" fill="rgb(46,200,0)"/><path d="M964.62,237.00 A180.18,137.84 0 0 1 1324.98,237.00 Z" fill="rgb(75,200,0)"/><path d="M965.27,237.00 A179.53,137.33 0 0 1 1324.33,237.00 Z" fill="rgb(104,200,0)"/><path d="M965.92,237.00 A178.88,136.83 0 0 1 1323.68,237.00 Z" fill="rgb(133,200,0)"/><path d="M966.57,237.00 A178.23,136.32 0 0 1 1323.03,237.00 Z" fill="rgb(154,200,0)"/><path d="M967.22,237.00 A177.58,135.82 0 0 1 1322.38,237.00 Z" fill="rgb(164,200,0)"/><path d="M967.87,237.00 A176.93,135.32 0 0 1 1321.73,237.00 Z" fill="rgb(174,200,0)"/><path d="M968.52,237.00 A176.28,134.81 0 0 1 1321.08,237.00 Z" fill="rgb(185,200,0)"/><path d="M969.17,237.00 A175.63,134.31 0 0 1 1320.43,237.00 Z" fill="rgb(195,200,0)"/><path d="M969.82,237.00 A174.98,133.80 0 0 1 1319.78,237.00 Z" fill="rgb(205,200,0)"/><path d="M970.48,237.00 A174.32,133.30 0 0 1 1319.12,237.00 Z" fill="rgb(206,197,0)"/><path d="M971.13,237.00 A173.67,132.79 0 0 1 1318.47,237.00 Z" fill="rgb(207,194,0)"/><path d="M971.78,237.00 A173.02,132.29 0 0 1 1317.82,237.00 Z" fill="rgb(209,191,0)"/><path d="M972.43,237.00 A172.37,131.78 0 0 1 1317.17,237.00 Z" fill="rgb(210,188,0)"/><path d="M973.08,237.00 A171.72,131.28 0 0 1 1316.52,237.00 Z" fill="rgb(211,185,0)"/><path d="M973.73,237.00 A171.07,130.78 0 0 1 1315.87,237.00 Z" fill="rgb(212,181,0)"/><path d="M974.38,237.00 A170.42,130.27 0 0 1 1315.22,237.00 Z" fill="rgb(214,178,0)"/><path d="M975.03,237.00 A169.77,129.77 0 0 1 1314.57,237.00 Z" fill="rgb(215,175,0)"/><path d="M975.68,237.00 A169.12,129.26 0 0 1 1313.92,237.00 Z" fill="rgb(216,164,0)"/><path d="M976.34,237.00 A168.46,128.76 0 0 1 1313.26,237.00 Z" fill="rgb(217,152,0)"/><path d="M976.99,237.00 A167.81,128.25 0 0 1 1312.61,237.00 Z" fill="rgb(218,140,0)"/><path d="M977.64,237.00 A167.16,127.75 0 0 1 1311.96,237.00 Z" fill="rgb(219,127,0)"/><path d="M978.29,237.00 A166.51,127.24 0 0 1 1311.31,237.00 Z" fill="rgb(220,104,0)"/><path d="M978.94,237.00 A165.86,126.74 0 0 1 1310.66,237.00 Z" fill="rgb(221,64,0)"/><path d="M979.59,237.00 A165.21,126.24 0 0 1 1310.01,237.00 Z" fill="rgb(222,28,0)"/><path d="M980.24,237.00 A164.56,125.73 0 0 1 1309.36,237.00 Z" fill="rgb(222,13,0)"/><path d="M980.89,237.00 A163.91,125.23 0 0 1 1308.71,237.00 Z" fill="rgb(222,10,0)"/><path d="M981.54,237.00 A163.26,124.72 0 0 1 1308.06,237.00 Z" fill="rgb(222,10,0)"/><path d="M982.20,237.00 A162.60,124.22 0 0 1 1307.40,237.00 Z" fill="rgb(222,10,0)"/><path d="M982.85,237.00 A161.95,123.71 0 0 1 1306.75,237.00 Z" fill="rgb(222,10,0)"/><path d="M983.50,237.00 A161.30,123.21 0 0 1 1306.10,237.00 Z" fill="rgb(222,10,0)"/><path d="M984.15,237.00 A160.65,122.70 0 0 1 1305.45,237.00 Z" fill="rgb(222,10,0)"/></g>
<path d="M930.71,237.00 A214.09,164.11 0 0 1 1358.89,237.00 M935.22,237.00 A209.58,160.62 0 0 1 1354.38,237.00 M939.72,237.00 A205.08,157.12 0 0 1 1349.88,237.00 M944.23,237.00 A200.57,153.63 0 0 1 1345.37,237.00 M948.74,237.00 A196.06,150.14 0 0 1 1340.86,237.00 M953.25,237.00 A191.55,146.65 0 0 1 1336.35,237.00 M957.75,237.00 A187.05,143.15 0 0 1 1331.85,237.00 M962.26,237.00 A182.54,139.66 0 0 1 1327.34,237.00 M966.77,237.00 A178.03,136.17 0 0 1 1322.83,237.00 M971.28,237.00 A173.52,132.68 0 0 1 1318.32,237.00 M975.78,237.00 A169.02,129.18 0 0 1 1313.82,237.00 M980.29,237.00 A164.51,125.69 0 0 1 1309.31,237.00 M926.3,233.0 L984.8,234.0 M926.5,228.9 L985.0,231.1 M926.8,224.9 L985.2,228.1 M927.2,220.8 L985.5,225.2 M927.8,216.8 L986.0,222.3 M928.5,212.8 L986.5,219.3 M929.3,208.8 L987.1,216.4 M930.3,204.8 L987.8,213.5 M931.3,200.8 L988.6,210.6 M932.6,196.9 L989.4,207.8 M933.9,193.0 L990.4,204.9 M935.3,189.1 L991.5,202.1 M936.9,185.2 L992.6,199.2 M938.6,181.4 L993.9,196.4 M940.4,177.6 L995.2,193.7 M942.3,173.8 L996.6,190.9 M944.4,170.1 L998.1,188.2 M946.6,166.4 L999.7,185.5 M948.8,162.7 L1001.4,182.8 M951.2,159.1 L1003.1,180.2 M953.8,155.5 L1005.0,177.6 M956.4,152.0 L1006.9,175.0 M959.1,148.6 L1008.9,172.5 M961.9,145.2 L1011.0,170.0 M964.9,141.8 L1013.1,167.6 M967.9,138.5 L1015.4,165.2 M971.1,135.2 L1017.7,162.8 M974.4,132.1 L1020.1,160.5 M977.7,128.9 L1022.5,158.2 M981.2,125.9 L1025.0,156.0 M984.7,122.9 L1027.6,153.8 M988.4,119.9 L1030.3,151.6 M992.1,117.1 L1033.0,149.6 M995.9,114.3 L1035.8,147.5 M999.8,111.5 L1038.7,145.5 M1003.8,108.9 L1041.6,143.6 M1007.9,106.3 L1044.6,141.7 M1012.1,103.8 L1047.7,139.9 M1016.3,101.4 L1050.8,138.1 M1020.6,99.1 L1053.9,136.4 M1025.0,96.8 L1057.1,134.8 M1029.5,94.6 L1060.4,133.2 M1034.0,92.5 L1063.7,131.7 M1038.6,90.5 L1067.0,130.2 M1043.2,88.6 L1070.4,128.8 M1047.9,86.8 L1073.9,127.5 M1052.7,85.0 L1077.4,126.2 M1057.5,83.3 L1080.9,125.0 M1062.4,81.8 L1084.5,123.8 M1067.3,80.3 L1088.1,122.7 M1072.2,78.9 L1091.7,121.7 M1077.2,77.6 L1095.4,120.8 M1082.3,76.4 L1099.0,119.9 M1087.4,75.3 L1102.8,119.1 M1092.5,74.3 L1106.5,118.4 M1097.6,73.3 L1110.3,117.7 M1102.8,72.5 L1114.1,117.1 M1108.0,71.8 L1117.9,116.5 M1113.2,71.2 L1121.7,116.1 M1118.5,70.6 L1125.5,115.7 M1123.7,70.2 L1129.4,115.4 M1129.0,69.8 L1133.2,115.1 M1134.2,69.6 L1137.1,114.9 M1139.5,69.4 L1140.9,114.8 M1144.8,69.4 L1144.8,114.8 M1150.1,69.4 L1148.7,114.8 M1155.4,69.6 L1152.5,114.9 M1160.6,69.8 L1156.4,115.1 M1165.9,70.2 L1160.2,115.4 M1171.1,70.6 L1164.1,115.7 M1176.4,71.2 L1167.9,116.1 M1181.6,71.8 L1171.7,116.5 M1186.8,72.5 L1175.5,117.1 M1192.0,73.3 L1179.3,117.7 M1197.1,74.3 L1183.1,118.4 M1202.2,75.3 L1186.8,119.1 M1207.3,76.4 L1190.6,119.9 M1212.4,77.6 L1194.2,120.8 M1217.4,78.9 L1197.9,121.7 M1222.3,80.3 L1201.5,122.7 M1227.2,81.8 L1205.1,123.8 M1232.1,83.3 L1208.7,125.0 M1236.9,85.0 L1212.2,126.2 M1241.7,86.8 L1215.7,127.5 M1246.4,88.6 L1219.2,128.8 M1251.0,90.5 L1222.6,130.2 M1255.6,92.5 L1225.9,131.7 M1260.1,94.6 L1229.2,133.2 M1264.6,96.8 L1232.5,134.8 M1269.0,99.1 L1235.7,136.4 M1273.3,101.4 L1238.8,138.1 M1277.5,103.8 L1241.9,139.9 M1281.7,106.3 L1245.0,141.7 M1285.8,108.9 L1248.0,143.6 M1289.8,111.5 L1250.9,145.5 M1293.7,114.3 L1253.8,147.5 M1297.5,117.1 L1256.6,149.6 M1301.2,119.9 L1259.3,151.6 M1304.9,122.9 L1262.0,153.8 M1308.4,125.9 L1264.6,156.0 M1311.9,128.9 L1267.1,158.2 M1315.2,132.1 L1269.5,160.5 M1318.5,135.2 L1271.9,162.8 M1321.7,138.5 L1274.2,165.2 M1324.7,141.8 L1276.5,167.6 M1327.7,145.2 L1278.6,170.0 M1330.5,148.6 L1280.7,172.5 M1333.2,152.0 L1282.7,175.0 M1335.8,155.5 L1284.6,177.6 M1338.4,159.1 L1286.5,180.2 M1340.8,162.7 L1288.2,182.8 M1343.0,166.4 L1289.9,185.5 M1345.2,170.1 L1291.5,188.2 M1347.3,173.8 L1293.0,190.9 M1349.2,177.6 L1294.4,193.7 M1351.0,181.4 L1295.7,196.4 M1352.7,185.2 L1297.0,199.2 M1354.3,189.1 L1298.1,202.1 M1355.7,193.0 L1299.2,204.9 M1357.0,196.9 L1300.2,207.8 M1358.3,200.8 L1301.0,210.6 M1359.3,204.8 L1301.8,213.5 M1360.3,208.8 L1302.5,216.4 M1361.1,212.8 L1303.1,219.3 M1361.8,216.8 L1303.6,222.3 M1362.4,220.8 L1304.1,225.2 M1362.8,224.9 L1304.4,228.1 M1363.1,228.9 L1304.6,231.1 M1363.3,233.0 L1304.8,234.0" fill="none" stroke="#000" stroke-opacity="0.42" stroke-width="0.55"/>
<g><polygon points="926.2,237.0 929.5,261.3 939.4,284.9 955.5,307.0 977.3,327.0 1004.3,344.2 1035.5,358.2 1070.0,368.6 1106.8,374.9 1144.8,377.0 1182.8,374.9 1219.6,368.6 1254.1,358.2 1285.3,344.2 1312.3,327.0 1334.1,307.0 1350.2,284.9 1360.1,261.3 1363.4,237.0" fill="rgb(0,0,95)"/><polygon points="926.9,237.0 930.2,261.2 940.0,284.7 956.1,306.8 977.8,326.7 1004.7,343.9 1035.8,357.9 1070.3,368.1 1107.0,374.4 1144.8,376.6 1182.6,374.4 1219.3,368.1 1253.8,357.9 1284.9,343.9 1311.8,326.7 1333.5,306.8 1349.6,284.7 1359.4,261.2 1362.7,237.0" fill="rgb(0,0,95)"/><polygon points="927.5,237.0 930.8,261.2 940.6,284.6 956.6,306.6 978.3,326.4 1005.1,343.6 1036.2,357.5 1070.5,367.7 1107.1,374.0 1144.8,376.1 1182.5,374.0 1219.1,367.7 1253.4,357.5 1284.5,343.6 1311.3,326.4 1333.0,306.6 1349.0,284.6 1358.8,261.2 1362.1,237.0" fill="rgb(0,0,95)"/><polygon points="928.2,237.0 931.4,261.1 941.2,284.4 957.2,306.3 978.8,326.2 1005.5,343.3 1036.5,357.1 1070.7,367.3 1107.2,373.6 1144.8,375.7 1182.4,373.6 1218.9,367.3 1253.1,357.1 1284.1,343.3 1310.8,326.2 1332.4,306.4 1348.4,284.4 1358.2,261.1 1361.4,237.0" fill="rgb(0,0,95)"/><polygon points="928.8,237.0 932.1,261.0 941.8,284.3 957.7,306.1 979.3,325.9 1006.0,342.9 1036.8,356.7 1070.9,366.9 1107.3,373.2 1144.8,375.3 1182.3,373.2 1218.7,366.9 1252.8,356.7 1283.6,342.9 1310.3,325.9 1331.9,306.1 1347.8,284.3 1357.5,261.0 1360.8,237.0" fill="rgb(0,0,95)"/><polygon points="929.5,237.0 932.7,260.9 942.4,284.1 958.3,305.9 979.8,325.6 1006.4,342.6 1037.1,356.4 1071.1,366.5 1107.4,372.7 1144.8,374.8 1182.2,372.7 1218.5,366.5 1252.5,356.4 1283.2,342.6 1309.8,325.6 1331.3,305.9 1347.2,284.1 1356.9,260.9 1360.1,237.0" fill="rgb(0,0,95)"/><polygon points="930.1,237.0 933.4,260.9 943.1,284.0 958.9,305.7 980.3,325.3 1006.8,342.3 1037.5,356.0 1071.4,366.1 1107.5,372.3 1144.8,374.4 1182.1,372.3 1218.2,366.1 1252.1,356.0 1282.8,342.3 1309.3,325.3 1330.7,305.7 1346.5,284.0 1356.2,260.9 1359.5,237.0" fill="rgb(0,0,95)"/><polygon points="930.8,237.0 934.0,260.8 943.7,283.8 959.4,305.5 980.8,325.0 1007.2,341.9 1037.8,355.6 1071.6,365.7 1107.6,371.9 1144.8,374.0 1182.0,371.9 1218.0,365.7 1251.8,355.6 1282.4,341.9 1308.8,325.0 1330.2,305.5 1345.9,283.8 1355.6,260.8 1358.8,237.0" fill="rgb(0,0,95)"/><polygon points="931.4,237.0 934.7,260.7 944.3,283.7 960.0,305.3 981.3,324.8 1007.6,341.6 1038.1,355.2 1071.8,365.3 1107.7,371.5 1144.8,373.5 1181.9,371.5 1217.8,365.3 1251.5,355.2 1282.0,341.6 1308.3,324.8 1329.6,305.3 1345.3,283.7 1354.9,260.7 1358.2,237.0" fill="rgb(0,0,95)"/><polygon points="932.1,237.0 935.3,260.6 944.9,283.5 960.6,305.0 981.8,324.5 1008.1,341.3 1038.4,354.9 1072.0,364.9 1107.9,371.0 1144.8,373.1 1181.7,371.0 1217.6,364.9 1251.2,354.9 1281.5,341.3 1307.8,324.5 1329.0,305.1 1344.7,283.5 1354.3,260.6 1357.5,237.0" fill="rgb(0,0,95)"/><polygon points="932.7,237.0 935.9,260.6 945.5,283.4 961.1,304.8 982.3,324.2 1008.5,340.9 1038.8,354.5 1072.3,364.5 1108.0,370.6 1144.8,372.7 1181.6,370.6 1217.3,364.5 1250.8,354.5 1281.1,340.9 1307.3,324.2 1328.5,304.8 1344.1,283.4 1353.7,260.6 1356.9,237.0" fill="rgb(0,0,95)"/><polygon points="933.4,237.0 936.6,260.5 946.1,283.3 961.7,304.6 982.8,323.9 1008.9,340.6 1039.1,354.1 1072.5,364.1 1108.1,370.2 1144.8,372.2 1181.5,370.2 1217.1,364.1 1250.5,354.1 1280.7,340.6 1306.8,323.9 1327.9,304.6 1343.5,283.3 1353.0,260.5 1356.2,237.0" fill="rgb(0,0,95)"/><polygon points="934.0,237.0 937.2,260.4 946.7,283.1 962.3,304.4 983.3,323.6 1009.3,340.3 1039.4,353.7 1072.7,363.7 1108.2,369.8 1144.8,371.8 1181.4,369.8 1216.9,363.7 1250.2,353.7 1280.3,340.3 1306.3,323.6 1327.3,304.4 1342.9,283.1 1352.4,260.4 1355.6,237.0" fill="rgb(0,0,95)"/><polygon points="934.7,237.0 937.9,260.3 947.3,283.0 962.8,304.2 983.8,323.4 1009.7,339.9 1039.7,353.4 1072.9,363.3 1108.3,369.3 1144.8,371.4 1181.3,369.3 1216.7,363.3 1249.9,353.4 1279.9,339.9 1305.8,323.4 1326.8,304.2 1342.3,283.0 1351.7,260.3 1354.9,237.0" fill="rgb(0,0,95)"/><polygon points="935.3,237.0 938.5,260.3 947.9,282.8 963.4,304.0 984.3,323.1 1010.1,339.6 1040.1,353.0 1073.2,362.9 1108.4,368.9 1144.8,370.9 1181.2,368.9 1216.4,362.9 1249.5,353.0 1279.5,339.6 1305.3,323.1 1326.2,304.0 1341.7,282.8 1351.1,260.3 1354.3,237.0" fill="rgb(0,0,95)"/><polygon points="936.0,237.0 939.1,260.2 948.6,282.7 963.9,303.8 984.8,322.8 1010.6,339.3 1040.4,352.6 1073.4,362.4 1108.5,368.5 1144.8,370.5 1181.1,368.5 1216.2,362.4 1249.2,352.6 1279.0,339.3 1304.8,322.8 1325.7,303.8 1341.0,282.7 1350.5,260.2 1353.6,237.0" fill="rgb(0,0,95)"/><polygon points="936.6,237.0 939.8,260.1 949.2,282.5 964.5,303.5 985.3,322.5 1011.0,338.9 1040.7,352.2 1073.6,362.0 1108.6,368.0 1144.8,370.1 1181.0,368.0 1216.0,362.0 1248.9,352.2 1278.6,338.9 1304.3,322.5 1325.1,303.5 1340.4,282.5 1349.8,260.1 1353.0,237.0" fill="rgb(0,0,95)"/><polygon points="937.3,237.0 940.4,260.0 949.8,282.4 965.1,303.3 985.8,322.3 1011.4,338.6 1041.0,351.9 1073.8,361.6 1108.8,367.6 1144.8,369.6 1180.8,367.6 1215.8,361.6 1248.6,351.9 1278.2,338.6 1303.8,322.3 1324.5,303.3 1339.8,282.4 1349.2,260.0 1352.3,237.0" fill="rgb(0,0,95)"/><polygon points="937.9,237.0 941.1,260.0 950.4,282.2 965.6,303.1 986.3,322.0 1011.8,338.3 1041.4,351.5 1074.0,361.2 1108.9,367.2 1144.8,369.2 1180.7,367.2 1215.6,361.2 1248.2,351.5 1277.8,338.3 1303.3,322.0 1324.0,303.1 1339.2,282.2 1348.5,260.0 1351.7,237.0" fill="rgb(0,32,98)"/><polygon points="938.6,237.0 941.7,259.9 951.0,282.1 966.2,302.9 986.8,321.7 1012.2,337.9 1041.7,351.1 1074.3,360.8 1109.0,366.8 1144.8,368.8 1180.6,366.8 1215.3,360.8 1247.9,351.1 1277.4,337.9 1302.8,321.7 1323.4,302.9 1338.6,282.1 1347.9,259.9 1351.0,237.0" fill="rgb(0,60,100)"/><polygon points="939.2,237.0 942.3,259.8 951.6,281.9 966.8,302.7 987.3,321.4 1012.7,337.6 1042.0,350.7 1074.5,360.4 1109.1,366.3 1144.8,368.3 1180.5,366.3 1215.1,360.4 1247.6,350.7 1276.9,337.6 1302.3,321.4 1322.8,302.7 1338.0,281.9 1347.3,259.8 1350.4,237.0" fill="rgb(0,61,100)"/><polygon points="939.9,237.0 943.0,259.7 952.2,281.8 967.3,302.4 987.8,321.1 1013.1,337.3 1042.3,350.4 1074.7,360.0 1109.2,365.9 1144.8,367.9 1180.4,365.9 1214.9,360.0 1247.3,350.4 1276.5,337.3 1301.8,321.1 1322.3,302.5 1337.4,281.8 1346.6,259.7 1349.7,237.0" fill="rgb(0,62,100)"/><polygon points="940.5,237.0 943.6,259.7 952.8,281.6 967.9,302.2 988.3,320.9 1013.5,336.9 1042.7,350.0 1074.9,359.6 1109.3,365.5 1144.8,367.5 1180.3,365.5 1214.7,359.6 1246.9,350.0 1276.1,336.9 1301.3,320.9 1321.7,302.2 1336.8,281.6 1346.0,259.7 1349.1,237.0" fill="rgb(0,63,100)"/><polygon points="941.2,237.0 944.3,259.6 953.5,281.5 968.5,302.0 988.8,320.6 1013.9,336.6 1043.0,349.6 1075.2,359.2 1109.4,365.1 1144.8,367.0 1180.2,365.1 1214.4,359.2 1246.6,349.6 1275.7,336.6 1300.8,320.6 1321.1,302.0 1336.1,281.5 1345.3,259.6 1348.4,237.0" fill="rgb(0,64,99)"/><polygon points="941.8,237.0 944.9,259.5 954.1,281.3 969.0,301.8 989.3,320.3 1014.3,336.3 1043.3,349.2 1075.4,358.8 1109.6,364.6 1144.8,366.6 1180.0,364.6 1214.2,358.8 1246.3,349.2 1275.3,336.3 1300.3,320.3 1320.6,301.8 1335.5,281.3 1344.7,259.5 1347.8,237.0" fill="rgb(0,66,99)"/><polygon points="942.5,237.0 945.6,259.4 954.7,281.2 969.6,301.6 989.8,320.0 1014.7,335.9 1043.6,348.9 1075.6,358.4 1109.7,364.2 1144.8,366.2 1179.9,364.2 1214.0,358.4 1246.0,348.9 1274.9,335.9 1299.8,320.0 1320.0,301.6 1334.9,281.2 1344.0,259.4 1347.1,237.0" fill="rgb(0,67,99)"/><polygon points="943.1,237.0 946.2,259.4 955.3,281.0 970.1,301.4 990.3,319.7 1015.2,335.6 1044.0,348.5 1075.8,358.0 1109.8,363.8 1144.8,365.7 1179.8,363.8 1213.8,358.0 1245.6,348.5 1274.4,335.6 1299.3,319.7 1319.5,301.4 1334.3,281.0 1343.4,259.4 1346.5,237.0" fill="rgb(0,68,99)"/><polygon points="943.8,237.0 946.8,259.3 955.9,280.9 970.7,301.1 990.8,319.5 1015.6,335.3 1044.3,348.1 1076.0,357.6 1109.9,363.4 1144.8,365.3 1179.7,363.4 1213.6,357.6 1245.3,348.1 1274.0,335.3 1298.8,319.5 1318.9,301.2 1333.7,280.9 1342.8,259.3 1345.8,237.0" fill="rgb(0,69,99)"/><polygon points="944.4,237.0 947.5,259.2 956.5,280.7 971.3,300.9 991.3,319.2 1016.0,335.0 1044.6,347.7 1076.3,357.2 1110.0,362.9 1144.8,364.9 1179.6,362.9 1213.3,357.2 1245.0,347.7 1273.6,335.0 1298.3,319.2 1318.3,300.9 1333.1,280.7 1342.1,259.2 1345.2,237.0" fill="rgb(0,70,99)"/><polygon points="945.1,237.0 948.1,259.1 957.1,280.6 971.8,300.7 991.8,318.9 1016.4,334.6 1044.9,347.4 1076.5,356.7 1110.1,362.5 1144.8,364.4 1179.5,362.5 1213.1,356.7 1244.7,347.4 1273.2,334.6 1297.8,318.9 1317.8,300.7 1332.5,280.6 1341.5,259.1 1344.5,237.0" fill="rgb(0,71,98)"/><polygon points="945.7,237.0 948.8,259.1 957.7,280.4 972.4,300.5 992.3,318.6 1016.8,334.3 1045.3,347.0 1076.7,356.3 1110.2,362.1 1144.8,364.0 1179.4,362.1 1212.9,356.3 1244.3,347.0 1272.8,334.3 1297.3,318.6 1317.2,300.5 1331.9,280.4 1340.8,259.1 1343.9,237.0" fill="rgb(0,72,98)"/><polygon points="946.4,237.0 949.4,259.0 958.4,280.3 973.0,300.3 992.8,318.4 1017.3,334.0 1045.6,346.6 1076.9,355.9 1110.3,361.6 1144.8,363.6 1179.3,361.6 1212.7,355.9 1244.0,346.6 1272.3,334.0 1296.8,318.4 1316.6,300.3 1331.2,280.3 1340.2,259.0 1343.2,237.0" fill="rgb(0,73,98)"/><polygon points="947.0,237.0 950.0,258.9 959.0,280.1 973.5,300.1 993.3,318.1 1017.7,333.6 1045.9,346.2 1077.2,355.5 1110.5,361.2 1144.8,363.1 1179.1,361.2 1212.4,355.5 1243.7,346.2 1271.9,333.6 1296.3,318.1 1316.1,300.1 1330.6,280.1 1339.6,258.9 1342.6,237.0" fill="rgb(0,74,98)"/><polygon points="947.7,237.0 950.7,258.8 959.6,280.0 974.1,299.9 993.8,317.8 1018.1,333.3 1046.2,345.9 1077.4,355.1 1110.6,360.8 1144.8,362.7 1179.0,360.8 1212.2,355.1 1243.4,345.9 1271.5,333.3 1295.8,317.8 1315.5,299.9 1330.0,280.0 1338.9,258.8 1341.9,237.0" fill="rgb(0,75,98)"/><polygon points="948.3,237.0 951.3,258.8 960.2,279.8 974.7,299.6 994.3,317.5 1018.5,333.0 1046.6,345.5 1077.6,354.7 1110.7,360.4 1144.8,362.3 1178.9,360.4 1212.0,354.7 1243.0,345.5 1271.1,333.0 1295.3,317.5 1314.9,299.6 1329.4,279.8 1338.3,258.8 1341.3,237.0" fill="rgb(0,76,98)"/><polygon points="949.0,237.0 952.0,258.7 960.8,279.7 975.2,299.4 994.8,317.2 1018.9,332.6 1046.9,345.1 1077.8,354.3 1110.8,359.9 1144.8,361.8 1178.8,359.9 1211.8,354.3 1242.7,345.1 1270.7,332.6 1294.8,317.2 1314.4,299.4 1328.8,279.7 1337.6,258.7 1340.6,237.0" fill="rgb(0,77,98)"/><polygon points="949.6,237.0 952.6,258.6 961.4,279.5 975.8,299.2 995.3,317.0 1019.4,332.3 1047.2,344.7 1078.1,353.9 1110.9,359.5 1144.8,361.4 1178.7,359.5 1211.5,353.9 1242.4,344.7 1270.2,332.3 1294.3,317.0 1313.8,299.2 1328.2,279.5 1337.0,258.6 1340.0,237.0" fill="rgb(0,79,97)"/><polygon points="950.3,237.0 953.2,258.5 962.0,279.4 976.4,299.0 995.8,316.7 1019.8,332.0 1047.5,344.4 1078.3,353.5 1111.0,359.1 1144.8,361.0 1178.6,359.1 1211.3,353.5 1242.1,344.4 1269.8,332.0 1293.8,316.7 1313.2,299.0 1327.6,279.4 1336.4,258.5 1339.3,237.0" fill="rgb(0,80,97)"/><polygon points="950.9,237.0 953.9,258.5 962.6,279.3 976.9,298.8 996.3,316.4 1020.2,331.6 1047.9,344.0 1078.5,353.1 1111.1,358.7 1144.8,360.5 1178.5,358.7 1211.1,353.1 1241.7,344.0 1269.4,331.6 1293.3,316.4 1312.7,298.8 1327.0,279.3 1335.7,258.5 1338.7,237.0" fill="rgb(0,81,97)"/><polygon points="951.6,237.0 954.5,258.4 963.2,279.1 977.5,298.6 996.8,316.1 1020.6,331.3 1048.2,343.6 1078.7,352.7 1111.3,358.2 1144.8,360.1 1178.3,358.2 1210.9,352.7 1241.4,343.6 1269.0,331.3 1292.8,316.1 1312.1,298.6 1326.4,279.1 1335.1,258.4 1338.0,237.0" fill="rgb(0,82,97)"/><polygon points="952.2,237.0 955.2,258.3 963.9,279.0 978.0,298.3 997.3,315.8 1021.0,331.0 1048.5,343.2 1078.9,352.3 1111.4,357.8 1144.8,359.7 1178.2,357.8 1210.7,352.3 1241.1,343.2 1268.6,331.0 1292.3,315.8 1311.6,298.3 1325.7,279.0 1334.4,258.3 1337.4,237.0" fill="rgb(0,83,97)"/><polygon points="952.9,237.0 955.8,258.2 964.5,278.8 978.6,298.1 997.8,315.6 1021.4,330.6 1048.8,342.9 1079.2,351.9 1111.5,357.4 1144.8,359.2 1178.1,357.4 1210.4,351.9 1240.8,342.9 1268.2,330.6 1291.8,315.6 1311.0,298.1 1325.1,278.8 1333.8,258.2 1336.7,237.0" fill="rgb(0,84,97)"/><polygon points="953.5,237.0 956.5,258.2 965.1,278.7 979.2,297.9 998.3,315.3 1021.9,330.3 1049.2,342.5 1079.4,351.5 1111.6,356.9 1144.8,358.8 1178.0,356.9 1210.2,351.5 1240.4,342.5 1267.7,330.3 1291.3,315.3 1310.4,297.9 1324.5,278.7 1333.1,258.2 1336.1,237.0" fill="rgb(0,85,96)"/><polygon points="954.2,237.0 957.1,258.1 965.7,278.5 979.7,297.7 998.8,315.0 1022.3,330.0 1049.5,342.1 1079.6,351.0 1111.7,356.5 1144.8,358.4 1177.9,356.5 1210.0,351.0 1240.1,342.1 1267.3,330.0 1290.8,315.0 1309.9,297.7 1323.9,278.5 1332.5,258.1 1335.4,237.0" fill="rgb(0,86,96)"/><polygon points="954.8,237.0 957.7,258.0 966.3,278.4 980.3,297.5 999.3,314.7 1022.7,329.6 1049.8,341.7 1079.8,350.6 1111.8,356.1 1144.8,357.9 1177.8,356.1 1209.8,350.6 1239.8,341.7 1266.9,329.6 1290.3,314.7 1309.3,297.5 1323.3,278.4 1331.9,258.0 1334.8,237.0" fill="rgb(0,87,96)"/><polygon points="955.5,237.0 958.4,257.9 966.9,278.2 980.9,297.2 999.8,314.5 1023.1,329.3 1050.1,341.4 1080.1,350.2 1111.9,355.7 1144.8,357.5 1177.7,355.7 1209.5,350.2 1239.4,341.4 1266.5,329.3 1289.8,314.5 1308.7,297.3 1322.7,278.2 1331.2,257.9 1334.1,237.0" fill="rgb(0,88,96)"/><polygon points="956.2,237.0 959.0,257.8 967.5,278.1 981.4,297.0 1000.3,314.2 1023.5,329.0 1050.5,341.0 1080.3,349.8 1112.0,355.2 1144.8,357.1 1177.6,355.2 1209.3,349.8 1239.1,341.0 1266.1,329.0 1289.3,314.2 1308.2,297.0 1322.1,278.1 1330.6,257.8 1333.4,237.0" fill="rgb(0,89,96)"/><polygon points="956.8,237.0 959.7,257.8 968.1,277.9 982.0,296.8 1000.8,313.9 1024.0,328.6 1050.8,340.6 1080.5,349.4 1112.2,354.8 1144.8,356.6 1177.4,354.8 1209.1,349.4 1238.8,340.6 1265.6,328.6 1288.8,313.9 1307.6,296.8 1321.5,277.9 1329.9,257.8 1332.8,237.0" fill="rgb(0,90,96)"/><polygon points="957.5,237.0 960.3,257.7 968.8,277.8 982.6,296.6 1001.3,313.6 1024.4,328.3 1051.1,340.2 1080.7,349.0 1112.3,354.4 1144.8,356.2 1177.3,354.4 1208.9,349.0 1238.5,340.2 1265.2,328.3 1288.3,313.6 1307.0,296.6 1320.8,277.8 1329.3,257.7 1332.1,237.0" fill="rgb(0,91,96)"/><polygon points="958.1,237.0 960.9,257.6 969.4,277.6 983.1,296.4 1001.8,313.3 1024.8,328.0 1051.5,339.9 1080.9,348.6 1112.4,354.0 1144.8,355.8 1177.2,354.0 1208.7,348.6 1238.1,339.9 1264.8,328.0 1287.8,313.3 1306.5,296.4 1320.2,277.6 1328.7,257.6 1331.5,237.0" fill="rgb(0,93,95)"/><polygon points="958.8,237.0 961.6,257.5 970.0,277.5 983.7,296.2 1002.3,313.1 1025.2,327.6 1051.8,339.5 1081.2,348.2 1112.5,353.5 1144.8,355.3 1177.1,353.5 1208.4,348.2 1237.8,339.5 1264.4,327.6 1287.3,313.1 1305.9,296.2 1319.6,277.5 1328.0,257.5 1330.8,237.0" fill="rgb(0,94,95)"/><polygon points="959.4,237.0 962.2,257.5 970.6,277.3 984.2,295.9 1002.8,312.8 1025.6,327.3 1052.1,339.1 1081.4,347.8 1112.6,353.1 1144.8,354.9 1177.0,353.1 1208.2,347.8 1237.5,339.1 1264.0,327.3 1286.8,312.8 1305.4,296.0 1319.0,277.3 1327.4,257.5 1330.2,237.0" fill="rgb(0,95,95)"/><polygon points="960.1,237.0 962.9,257.4 971.2,277.2 984.8,295.7 1003.3,312.5 1026.0,327.0 1052.4,338.7 1081.6,347.4 1112.7,352.7 1144.8,354.5 1176.9,352.7 1208.0,347.4 1237.2,338.7 1263.6,327.0 1286.3,312.5 1304.8,295.7 1318.4,277.2 1326.7,257.4 1329.5,237.0" fill="rgb(0,95,68)"/><polygon points="960.7,237.0 963.5,257.3 971.8,277.0 985.4,295.5 1003.8,312.2 1026.5,326.7 1052.8,338.4 1081.8,347.0 1112.8,352.3 1144.8,354.0 1176.8,352.3 1207.8,347.0 1236.8,338.4 1263.1,326.7 1285.8,312.2 1304.2,295.5 1317.8,277.0 1326.1,257.3 1328.9,237.0" fill="rgb(0,95,32)"/><polygon points="961.4,237.0 964.1,257.2 972.4,276.9 985.9,295.3 1004.3,311.9 1026.9,326.3 1053.1,338.0 1082.1,346.6 1112.9,351.8 1144.8,353.6 1176.7,351.8 1207.5,346.6 1236.5,338.0 1262.7,326.3 1285.3,311.9 1303.7,295.3 1317.2,276.9 1325.5,257.2 1328.2,237.0" fill="rgb(0,95,29)"/><polygon points="962.0,237.0 964.8,257.2 973.0,276.7 986.5,295.1 1004.8,311.7 1027.3,326.0 1053.4,337.6 1082.3,346.2 1113.1,351.4 1144.8,353.2 1176.5,351.4 1207.3,346.2 1236.2,337.6 1262.3,326.0 1284.8,311.7 1303.1,295.1 1316.6,276.7 1324.8,257.2 1327.6,237.0" fill="rgb(0,95,28)"/><polygon points="962.7,237.0 965.4,257.1 973.6,276.6 987.1,294.9 1005.3,311.4 1027.7,325.7 1053.7,337.2 1082.5,345.8 1113.2,351.0 1144.8,352.7 1176.4,351.0 1207.1,345.8 1235.9,337.2 1261.9,325.7 1284.3,311.4 1302.5,294.9 1316.0,276.6 1324.2,257.1 1326.9,237.0" fill="rgb(0,95,26)"/><polygon points="963.3,237.0 966.1,257.0 974.3,276.4 987.6,294.6 1005.8,311.1 1028.1,325.3 1054.1,336.9 1082.7,345.3 1113.3,350.5 1144.8,352.3 1176.3,350.5 1206.9,345.3 1235.5,336.9 1261.5,325.3 1283.8,311.1 1302.0,294.7 1315.3,276.4 1323.5,257.0 1326.3,237.0" fill="rgb(0,95,25)"/><polygon points="964.0,237.0 966.7,256.9 974.9,276.3 988.2,294.4 1006.3,310.8 1028.6,325.0 1054.4,336.5 1083.0,344.9 1113.4,350.1 1144.8,351.9 1176.2,350.1 1206.6,344.9 1235.2,336.5 1261.0,325.0 1283.3,310.8 1301.4,294.4 1314.7,276.3 1322.9,256.9 1325.6,237.0" fill="rgb(0,95,24)"/><polygon points="964.6,237.0 967.4,256.9 975.5,276.1 988.8,294.2 1006.8,310.6 1029.0,324.7 1054.7,336.1 1083.2,344.5 1113.5,349.7 1144.8,351.4 1176.1,349.7 1206.4,344.5 1234.9,336.1 1260.6,324.7 1282.8,310.6 1300.8,294.2 1314.1,276.1 1322.2,256.9 1325.0,237.0" fill="rgb(0,95,23)"/><polygon points="965.3,237.0 968.0,256.8 976.1,276.0 989.3,294.0 1007.3,310.3 1029.4,324.3 1055.0,335.7 1083.4,344.1 1113.6,349.3 1144.8,351.0 1176.0,349.3 1206.2,344.1 1234.6,335.7 1260.2,324.3 1282.3,310.3 1300.3,294.0 1313.5,276.0 1321.6,256.8 1324.3,237.0" fill="rgb(0,95,21)"/><polygon points="965.9,237.0 968.6,256.7 976.7,275.8 989.9,293.8 1007.8,310.0 1029.8,324.0 1055.4,335.4 1083.6,343.7 1113.7,348.8 1144.8,350.6 1175.9,348.8 1206.0,343.7 1234.2,335.4 1259.8,324.0 1281.8,310.0 1299.7,293.8 1312.9,275.8 1321.0,256.7 1323.7,237.0" fill="rgb(0,95,20)"/><polygon points="966.6,237.0 969.3,256.6 977.3,275.7 990.4,293.6 1008.3,309.7 1030.2,323.7 1055.7,335.0 1083.8,343.3 1113.9,348.4 1144.8,350.1 1175.7,348.4 1205.8,343.3 1233.9,335.0 1259.4,323.7 1281.3,309.7 1299.2,293.6 1312.3,275.7 1320.3,256.6 1323.0,237.0" fill="rgb(40,95,11)"/><polygon points="967.2,237.0 969.9,256.6 977.9,275.5 991.0,293.4 1008.8,309.4 1030.7,323.3 1056.0,334.6 1084.1,342.9 1114.0,348.0 1144.8,349.7 1175.6,348.0 1205.5,342.9 1233.6,334.6 1258.9,323.3 1280.8,309.4 1298.6,293.4 1311.7,275.5 1319.7,256.6 1322.4,237.0" fill="rgb(85,95,0)"/><polygon points="967.9,237.0 970.6,256.5 978.5,275.4 991.6,293.1 1009.3,309.2 1031.1,323.0 1056.3,334.2 1084.3,342.5 1114.1,347.6 1144.8,349.3 1175.5,347.6 1205.3,342.5 1233.3,334.2 1258.5,323.0 1280.3,309.2 1298.0,293.1 1311.1,275.4 1319.0,256.5 1321.7,237.0" fill="rgb(87,95,0)"/><polygon points="968.5,237.0 971.2,256.4 979.2,275.2 992.1,292.9 1009.8,308.9 1031.5,322.7 1056.7,333.9 1084.5,342.1 1114.2,347.1 1144.8,348.8 1175.4,347.1 1205.1,342.1 1232.9,333.9 1258.1,322.7 1279.8,308.9 1297.5,292.9 1310.4,275.2 1318.4,256.4 1321.1,237.0" fill="rgb(88,96,0)"/><polygon points="969.2,237.0 971.8,256.3 979.8,275.1 992.7,292.7 1010.3,308.6 1031.9,322.3 1057.0,333.5 1084.7,341.7 1114.3,346.7 1144.8,348.4 1175.3,346.7 1204.9,341.7 1232.6,333.5 1257.7,322.3 1279.3,308.6 1296.9,292.7 1309.8,275.1 1317.8,256.3 1320.4,237.0" fill="rgb(90,96,0)"/><polygon points="969.8,237.0 972.5,256.3 980.4,275.0 993.3,292.5 1010.8,308.3 1032.3,322.0 1057.3,333.1 1085.0,341.3 1114.4,346.3 1144.8,348.0 1175.2,346.3 1204.6,341.3 1232.3,333.1 1257.3,322.0 1278.8,308.3 1296.3,292.5 1309.2,275.0 1317.1,256.3 1319.8,237.0" fill="rgb(91,96,0)"/><polygon points="970.5,237.0 973.1,256.2 981.0,274.8 993.8,292.3 1011.3,308.0 1032.7,321.7 1057.6,332.7 1085.2,340.9 1114.5,345.9 1144.8,347.5 1175.1,345.9 1204.4,340.9 1232.0,332.7 1256.9,321.7 1278.3,308.0 1295.8,292.3 1308.6,274.8 1316.5,256.2 1319.1,237.0" fill="rgb(93,96,0)"/><polygon points="971.1,237.0 973.8,256.1 981.6,274.7 994.4,292.1 1011.8,307.8 1033.2,321.3 1058.0,332.3 1085.4,340.5 1114.6,345.4 1144.8,347.1 1175.0,345.4 1204.2,340.5 1231.6,332.3 1256.4,321.3 1277.8,307.8 1295.2,292.1 1308.0,274.7 1315.8,256.1 1318.5,237.0" fill="rgb(94,97,0)"/><polygon points="971.8,237.0 974.4,256.0 982.2,274.5 995.0,291.8 1012.3,307.5 1033.6,321.0 1058.3,332.0 1085.6,340.1 1114.8,345.0 1144.8,346.7 1174.8,345.0 1204.0,340.1 1231.3,332.0 1256.0,321.0 1277.3,307.5 1294.6,291.8 1307.4,274.5 1315.2,256.0 1317.8,237.0" fill="rgb(96,97,0)"/><polygon points="972.4,237.0 975.0,256.0 982.8,274.4 995.5,291.6 1012.8,307.2 1034.0,320.7 1058.6,331.6 1085.8,339.6 1114.9,344.6 1144.8,346.2 1174.7,344.6 1203.8,339.6 1231.0,331.6 1255.6,320.7 1276.8,307.2 1294.1,291.6 1306.8,274.4 1314.6,256.0 1317.2,237.0" fill="rgb(97,97,0)"/><polygon points="973.1,237.0 975.7,255.9 983.4,274.2 996.1,291.4 1013.3,306.9 1034.4,320.3 1058.9,331.2 1086.1,339.2 1115.0,344.1 1144.8,345.8 1174.6,344.1 1203.5,339.2 1230.7,331.2 1255.2,320.3 1276.3,306.9 1293.5,291.4 1306.2,274.2 1313.9,255.9 1316.5,237.0" fill="rgb(99,98,0)"/><polygon points="973.7,237.0 976.3,255.8 984.0,274.1 996.6,291.2 1013.8,306.7 1034.8,320.0 1059.3,330.8 1086.3,338.8 1115.1,343.7 1144.8,345.4 1174.5,343.7 1203.3,338.8 1230.3,330.8 1254.8,320.0 1275.8,306.7 1293.0,291.2 1305.6,274.1 1313.3,255.8 1315.9,237.0" fill="rgb(100,98,0)"/><polygon points="974.4,237.0 977.0,255.7 984.7,273.9 997.2,291.0 1014.3,306.4 1035.3,319.7 1059.6,330.5 1086.5,338.4 1115.2,343.3 1144.8,344.9 1174.4,343.3 1203.1,338.4 1230.0,330.5 1254.3,319.7 1275.3,306.4 1292.4,291.0 1304.9,273.9 1312.6,255.7 1315.2,237.0" fill="rgb(102,98,0)"/><polygon points="975.0,237.0 977.6,255.7 985.3,273.8 997.8,290.8 1014.8,306.1 1035.7,319.3 1059.9,330.1 1086.7,338.0 1115.3,342.9 1144.8,344.5 1174.3,342.9 1202.9,338.0 1229.7,330.1 1253.9,319.3 1274.8,306.1 1291.8,290.8 1304.3,273.8 1312.0,255.7 1314.6,237.0" fill="rgb(104,98,0)"/><polygon points="975.7,237.0 978.3,255.6 985.9,273.6 998.3,290.5 1015.2,305.8 1036.1,319.0 1060.2,329.7 1087.0,337.6 1115.4,342.4 1144.8,344.1 1174.2,342.4 1202.6,337.6 1229.4,329.7 1253.5,319.0 1274.4,305.8 1291.3,290.5 1303.7,273.6 1311.3,255.6 1313.9,237.0" fill="rgb(105,99,0)"/><polygon points="976.3,237.0 978.9,255.5 986.5,273.5 998.9,290.3 1015.7,305.5 1036.5,318.7 1060.6,329.3 1087.2,337.2 1115.5,342.0 1144.8,343.6 1174.1,342.0 1202.4,337.2 1229.0,329.3 1253.1,318.7 1273.9,305.5 1290.7,290.3 1303.1,273.5 1310.7,255.5 1313.3,237.0" fill="rgb(107,99,0)"/><polygon points="977.0,237.0 979.5,255.4 987.1,273.3 999.5,290.1 1016.2,305.3 1036.9,318.4 1060.9,329.0 1087.4,336.8 1115.7,341.6 1144.8,343.2 1173.9,341.6 1202.2,336.8 1228.7,329.0 1252.7,318.4 1273.4,305.3 1290.1,290.1 1302.5,273.3 1310.1,255.4 1312.6,237.0" fill="rgb(108,99,0)"/><polygon points="977.6,237.0 980.2,255.4 987.7,273.2 1000.0,289.9 1016.7,305.0 1037.4,318.0 1061.2,328.6 1087.6,336.4 1115.8,341.2 1144.8,342.8 1173.8,341.2 1202.0,336.4 1228.4,328.6 1252.2,318.0 1272.9,305.0 1289.6,289.9 1301.9,273.2 1309.4,255.4 1312.0,237.0" fill="rgb(110,100,0)"/><polygon points="978.3,237.0 980.8,255.3 988.3,273.0 1000.6,289.7 1017.2,304.7 1037.8,317.7 1061.5,328.2 1087.8,336.0 1115.9,340.7 1144.8,342.3 1173.7,340.7 1201.8,336.0 1228.1,328.2 1251.8,317.7 1272.4,304.7 1289.0,289.7 1301.3,273.0 1308.8,255.3 1311.3,237.0" fill="rgb(111,100,0)"/><polygon points="978.9,237.0 981.5,255.2 988.9,272.9 1001.2,289.4 1017.7,304.4 1038.2,317.4 1061.9,327.8 1088.1,335.6 1116.0,340.3 1144.8,341.9 1173.6,340.3 1201.5,335.6 1227.7,327.8 1251.4,317.4 1271.9,304.4 1288.4,289.5 1300.7,272.9 1308.1,255.2 1310.7,237.0" fill="rgb(112,87,0)"/><polygon points="979.6,237.0 982.1,255.1 989.6,272.7 1001.7,289.2 1018.2,304.1 1038.6,317.0 1062.2,327.5 1088.3,335.2 1116.1,339.9 1144.8,341.5 1173.5,339.9 1201.3,335.2 1227.4,327.5 1251.0,317.0 1271.4,304.1 1287.9,289.2 1300.0,272.7 1307.5,255.1 1310.0,237.0" fill="rgb(111,60,0)"/><polygon points="980.2,237.0 982.7,255.1 990.2,272.6 1002.3,289.0 1018.7,303.9 1039.0,316.7 1062.5,327.1 1088.5,334.8 1116.2,339.5 1144.8,341.0 1173.4,339.5 1201.1,334.8 1227.1,327.1 1250.6,316.7 1270.9,303.9 1287.3,289.0 1299.4,272.6 1306.9,255.1 1309.4,237.0" fill="rgb(107,29,0)"/><polygon points="980.9,237.0 983.4,255.0 990.8,272.4 1002.9,288.8 1019.2,303.6 1039.4,316.4 1062.8,326.7 1088.7,334.4 1116.3,339.0 1144.8,340.6 1173.3,339.0 1200.9,334.4 1226.8,326.7 1250.2,316.4 1270.4,303.6 1286.7,288.8 1298.8,272.4 1306.2,255.0 1308.7,237.0" fill="rgb(100,0,0)"/><polygon points="981.5,237.0 984.0,254.9 991.4,272.3 1003.4,288.6 1019.7,303.3 1039.9,316.0 1063.2,326.3 1089.0,333.9 1116.5,338.6 1144.8,340.2 1173.1,338.6 1200.6,333.9 1226.4,326.3 1249.7,316.0 1269.9,303.3 1286.2,288.6 1298.2,272.3 1305.6,254.9 1308.1,237.0" fill="rgb(100,0,0)"/><polygon points="982.2,237.0 984.7,254.8 992.0,272.1 1004.0,288.4 1020.2,303.0 1040.3,315.7 1063.5,326.0 1089.2,333.5 1116.6,338.2 1144.8,339.7 1173.0,338.2 1200.4,333.5 1226.1,326.0 1249.3,315.7 1269.4,303.0 1285.6,288.4 1297.6,272.1 1304.9,254.8 1307.4,237.0" fill="rgb(100,0,0)"/><polygon points="982.8,237.0 985.3,254.8 992.6,272.0 1004.5,288.1 1020.7,302.8 1040.7,315.4 1063.8,325.6 1089.4,333.1 1116.7,337.7 1144.8,339.3 1172.9,337.7 1200.2,333.1 1225.8,325.6 1248.9,315.4 1268.9,302.8 1285.1,288.2 1297.0,272.0 1304.3,254.8 1306.8,237.0" fill="rgb(100,0,0)"/><polygon points="983.5,237.0 985.9,254.7 993.2,271.8 1005.1,287.9 1021.2,302.5 1041.1,315.0 1064.1,325.2 1089.6,332.7 1116.8,337.3 1144.8,338.9 1172.8,337.3 1200.0,332.7 1225.5,325.2 1248.5,315.0 1268.4,302.5 1284.5,287.9 1296.4,271.8 1303.7,254.7 1306.1,237.0" fill="rgb(100,0,0)"/><polygon points="984.1,237.0 986.6,254.6 993.8,271.7 1005.7,287.7 1021.7,302.2 1041.5,314.7 1064.5,324.8 1089.9,332.3 1116.9,336.9 1144.8,338.4 1172.7,336.9 1199.7,332.3 1225.1,324.8 1248.1,314.7 1267.9,302.2 1283.9,287.7 1295.8,271.7 1303.0,254.6 1305.5,237.0" fill="rgb(100,0,0)"/></g>
<path d="M930.4,237.0 L933.6,260.8 L943.3,283.9 L959.1,305.6 L980.5,325.2 L1007.0,342.1 L1037.6,355.8 L1071.5,365.9 L1107.6,372.1 L1144.8,374.2 L1182.0,372.1 L1218.1,365.9 L1252.0,355.8 L1282.6,342.1 L1309.1,325.2 L1330.5,305.6 L1346.3,283.9 L1356.0,260.8 L1359.2,237.0 M934.6,237.0 L937.8,260.3 L947.2,283.0 L962.7,304.2 L983.8,323.4 L1009.7,340.0 L1039.7,353.4 L1072.9,363.3 L1108.3,369.4 L1144.8,371.4 L1181.3,369.4 L1216.7,363.3 L1249.9,353.4 L1279.9,340.0 L1305.8,323.4 L1326.9,304.2 L1342.4,283.0 L1351.8,260.3 L1355.0,237.0 M938.8,237.0 L941.9,259.9 L951.2,282.0 L966.4,302.8 L987.0,321.6 L1012.4,337.8 L1041.8,351.0 L1074.3,360.7 L1109.0,366.6 L1144.8,368.6 L1180.6,366.6 L1215.3,360.7 L1247.8,351.0 L1277.2,337.8 L1302.6,321.6 L1323.2,302.8 L1338.4,282.0 L1347.7,259.9 L1350.8,237.0 M942.9,237.0 L946.0,259.4 L955.1,281.1 L970.0,301.4 L990.2,319.8 L1015.0,335.7 L1043.9,348.6 L1075.8,358.1 L1109.7,363.9 L1144.8,365.9 L1179.9,363.9 L1213.8,358.1 L1245.7,348.6 L1274.6,335.7 L1299.4,319.8 L1319.6,301.4 L1334.5,281.1 L1343.6,259.4 L1346.7,237.0 M947.1,237.0 L950.1,258.9 L959.0,280.1 L973.6,300.0 L993.4,318.0 L1017.7,333.6 L1046.0,346.2 L1077.2,355.5 L1110.5,361.2 L1144.8,363.1 L1179.1,361.2 L1212.4,355.5 L1243.6,346.2 L1271.9,333.6 L1296.2,318.0 L1316.0,300.0 L1330.6,280.1 L1339.5,258.9 L1342.5,237.0 M951.3,237.0 L954.3,258.4 L963.0,279.2 L977.2,298.6 L996.6,316.2 L1020.4,331.4 L1048.1,343.8 L1078.6,352.9 L1111.2,358.4 L1144.8,360.3 L1178.4,358.4 L1211.0,352.9 L1241.5,343.8 L1269.2,331.4 L1293.0,316.2 L1312.4,298.6 L1326.6,279.2 L1335.3,258.4 L1338.3,237.0 M955.5,237.0 L958.4,257.9 L966.9,278.2 L980.9,297.2 L999.8,314.5 L1023.1,329.3 L1050.1,341.4 L1080.1,350.2 L1111.9,355.7 L1144.8,357.5 L1177.7,355.7 L1209.5,350.2 L1239.4,341.4 L1266.5,329.3 L1289.8,314.5 L1308.7,297.3 L1322.7,278.2 L1331.2,257.9 L1334.1,237.0 M959.7,237.0 L962.5,257.4 L970.8,277.3 L984.5,295.9 L1003.0,312.7 L1025.8,327.2 L1052.2,338.9 L1081.5,347.6 L1112.7,352.9 L1144.8,354.7 L1176.9,352.9 L1208.1,347.6 L1237.4,338.9 L1263.8,327.2 L1286.6,312.7 L1305.1,295.9 L1318.8,277.3 L1327.1,257.4 L1329.9,237.0 M963.9,237.0 L966.6,257.0 L974.8,276.3 L988.1,294.5 L1006.2,310.9 L1028.5,325.0 L1054.3,336.5 L1082.9,345.0 L1113.4,350.2 L1144.8,351.9 L1176.2,350.2 L1206.7,345.0 L1235.3,336.5 L1261.1,325.0 L1283.4,310.9 L1301.5,294.5 L1314.8,276.3 L1323.0,257.0 L1325.7,237.0 M968.1,237.0 L970.7,256.5 L978.7,275.4 L991.7,293.1 L1009.4,309.1 L1031.2,322.9 L1056.4,334.1 L1084.4,342.4 L1114.1,347.4 L1144.8,349.1 L1175.5,347.4 L1205.2,342.4 L1233.2,334.1 L1258.4,322.9 L1280.2,309.1 L1297.9,293.1 L1310.9,275.4 L1318.9,256.5 L1321.5,237.0 M972.2,237.0 L974.9,256.0 L982.6,274.4 L995.4,291.7 L1012.6,307.3 L1033.9,320.8 L1058.5,331.7 L1085.8,339.8 L1114.8,344.7 L1144.8,346.4 L1174.8,344.7 L1203.8,339.8 L1231.1,331.7 L1255.7,320.8 L1277.0,307.3 L1294.2,291.7 L1307.0,274.4 L1314.7,256.0 L1317.4,237.0 M976.4,237.0 L979.0,255.5 L986.6,273.4 L999.0,290.3 L1015.8,305.5 L1036.6,318.6 L1060.6,329.3 L1087.2,337.1 L1115.6,342.0 L1144.8,343.6 L1174.0,342.0 L1202.4,337.1 L1229.0,329.3 L1253.0,318.6 L1273.8,305.5 L1290.6,290.3 L1303.0,273.4 L1310.6,255.5 L1313.2,237.0 M980.6,237.0 L983.1,255.0 L990.5,272.5 L1002.6,288.9 L1019.0,303.7 L1039.3,316.5 L1062.7,326.9 L1088.6,334.5 L1116.3,339.2 L1144.8,340.8 L1173.3,339.2 L1201.0,334.5 L1226.9,326.9 L1250.3,316.5 L1270.6,303.7 L1287.0,288.9 L1299.1,272.5 L1306.5,255.0 L1309.0,237.0 M929.5,261.3 L987.2,254.5 M939.4,284.9 L994.4,271.5 M955.5,307.0 L1006.2,287.5 M977.3,327.0 L1022.2,301.9 M1004.3,344.2 L1042.0,314.4 M1035.5,358.2 L1064.8,324.5 M1070.0,368.6 L1090.1,331.9 M1106.8,374.9 L1117.0,336.5 M1144.8,377.0 L1144.8,338.0 M1182.8,374.9 L1172.6,336.5 M1219.6,368.6 L1199.5,331.9 M1254.1,358.2 L1224.8,324.5 M1285.3,344.2 L1247.6,314.4 M1312.3,327.0 L1267.4,301.9 M1334.1,307.0 L1283.4,287.5 M1350.2,284.9 L1295.2,271.5 M1360.1,261.3 L1302.4,254.5" fill="none" stroke="#000" stroke-opacity="0.30" stroke-width="0.60"/>
<defs><linearGradient id="d34" gradientUnits="userSpaceOnUse" x1="984.8" y1="0" x2="1304.8" y2="0"><stop offset="0.0002" stop-color="rgb(215,5,5)"/><stop offset="0.0098" stop-color="rgb(232,5,5)"/><stop offset="0.0382" stop-color="rgb(232,5,5)"/><stop offset="0.0844" stop-color="rgb(232,5,5)"/><stop offset="0.1466" stop-color="rgb(232,5,5)"/><stop offset="0.2223" stop-color="rgb(232,5,5)"/><stop offset="0.3087" stop-color="rgb(232,5,5)"/><stop offset="0.4025" stop-color="rgb(232,5,5)"/><stop offset="0.5000" stop-color="rgb(232,5,5)"/><stop offset="0.5975" stop-color="rgb(224,5,5)"/><stop offset="0.6913" stop-color="rgb(188,4,4)"/><stop offset="0.7777" stop-color="rgb(147,3,3)"/><stop offset="0.8534" stop-color="rgb(103,2,2)"/><stop offset="0.9156" stop-color="rgb(84,2,2)"/><stop offset="0.9618" stop-color="rgb(84,2,2)"/><stop offset="0.9902" stop-color="rgb(84,2,2)"/><stop offset="0.9998" stop-color="rgb(84,2,2)"/></linearGradient><linearGradient id="d35" gradientUnits="userSpaceOnUse" x1="984.8" y1="0" x2="1304.8" y2="0"><stop offset="0.0014" stop-color="rgb(212,5,5)"/><stop offset="0.0109" stop-color="rgb(232,5,5)"/><stop offset="0.0393" stop-color="rgb(232,5,5)"/><stop offset="0.0854" stop-color="rgb(232,5,5)"/><stop offset="0.1474" stop-color="rgb(232,5,5)"/><stop offset="0.2230" stop-color="rgb(232,5,5)"/><stop offset="0.3092" stop-color="rgb(232,5,5)"/><stop offset="0.4027" stop-color="rgb(232,5,5)"/><stop offset="0.5000" stop-color="rgb(232,5,5)"/><stop offset="0.5973" stop-color="rgb(221,5,5)"/><stop offset="0.6908" stop-color="rgb(185,4,4)"/><stop offset="0.7770" stop-color="rgb(144,3,3)"/><stop offset="0.8526" stop-color="rgb(101,2,2)"/><stop offset="0.9146" stop-color="rgb(84,2,2)"/><stop offset="0.9607" stop-color="rgb(84,2,2)"/><stop offset="0.9891" stop-color="rgb(84,2,2)"/><stop offset="0.9986" stop-color="rgb(84,2,2)"/></linearGradient><linearGradient id="d36" gradientUnits="userSpaceOnUse" x1="984.8" y1="0" x2="1304.8" y2="0"><stop offset="0.0038" stop-color="rgb(210,5,5)"/><stop offset="0.0133" stop-color="rgb(232,5,5)"/><stop offset="0.0415" stop-color="rgb(232,5,5)"/><stop offset="0.0874" stop-color="rgb(232,5,5)"/><stop offset="0.1491" stop-color="rgb(232,5,5)"/><stop offset="0.2243" stop-color="rgb(232,5,5)"/><stop offset="0.3101" stop-color="rgb(232,5,5)"/><stop offset="0.4032" stop-color="rgb(232,5,5)"/><stop offset="0.5000" stop-color="rgb(232,5,5)"/><stop offset="0.5968" stop-color="rgb(218,5,5)"/><stop offset="0.6899" stop-color="rgb(182,4,4)"/><stop offset="0.7757" stop-color="rgb(142,3,3)"/><stop offset="0.8509" stop-color="rgb(99,2,2)"/><stop offset="0.9126" stop-color="rgb(84,2,2)"/><stop offset="0.9585" stop-color="rgb(84,2,2)"/><stop offset="0.9867" stop-color="rgb(84,2,2)"/><stop offset="0.9962" stop-color="rgb(84,2,2)"/></linearGradient><linearGradient id="d37" gradientUnits="userSpaceOnUse" x1="984.8" y1="0" x2="1304.8" y2="0"><stop offset="0.0074" stop-color="rgb(206,4,4)"/><stop offset="0.0168" stop-color="rgb(232,5,5)"/><stop offset="0.0449" stop-color="rgb(232,5,5)"/><stop offset="0.0904" stop-color="rgb(232,5,5)"/><stop offset="0.1517" stop-color="rgb(232,5,5)"/><stop offset="0.2263" stop-color="rgb(232,5,5)"/><stop offset="0.3115" stop-color="rgb(232,5,5)"/><stop offset="0.4039" stop-color="rgb(232,5,5)"/><stop offset="0.5000" stop-color="rgb(232,5,5)"/><stop offset="0.5961" stop-color="rgb(215,5,5)"/><stop offset="0.6885" stop-color="rgb(179,4,4)"/><stop offset="0.7737" stop-color="rgb(139,3,3)"/><stop offset="0.8483" stop-color="rgb(96,2,2)"/><stop offset="0.9096" stop-color="rgb(84,2,2)"/><stop offset="0.9551" stop-color="rgb(84,2,2)"/><stop offset="0.9832" stop-color="rgb(84,2,2)"/><stop offset="0.9926" stop-color="rgb(84,2,2)"/></linearGradient><linearGradient id="d38" gradientUnits="userSpaceOnUse" x1="984.8" y1="0" x2="1304.8" y2="0"><stop offset="0.0121" stop-color="rgb(203,4,4)"/><stop offset="0.0215" stop-color="rgb(232,5,5)"/><stop offset="0.0493" stop-color="rgb(232,5,5)"/><stop offset="0.0944" stop-color="rgb(232,5,5)"/><stop offset="0.1550" stop-color="rgb(232,5,5)"/><stop offset="0.2290" stop-color="rgb(232,5,5)"/><stop offset="0.3133" stop-color="rgb(232,5,5)"/><stop offset="0.4048" stop-color="rgb(232,5,5)"/><stop offset="0.5000" stop-color="rgb(232,5,5)"/><stop offset="0.5952" stop-color="rgb(211,5,5)"/><stop offset="0.6867" stop-color="rgb(176,4,4)"/><stop offset="0.7710" stop-color="rgb(136,3,3)"/><stop offset="0.8450" stop-color="rgb(94,2,2)"/><stop offset="0.9056" stop-color="rgb(84,2,2)"/><stop offset="0.9507" stop-color="rgb(84,2,2)"/><stop offset="0.9785" stop-color="rgb(84,2,2)"/><stop offset="0.9879" stop-color="rgb(84,2,2)"/></linearGradient><linearGradient id="d39" gradientUnits="userSpaceOnUse" x1="984.8" y1="0" x2="1304.8" y2="0"><stop offset="0.0181" stop-color="rgb(199,4,4)"/><stop offset="0.0274" stop-color="rgb(230,5,5)"/><stop offset="0.0548" stop-color="rgb(232,5,5)"/><stop offset="0.0993" stop-color="rgb(232,5,5)"/><stop offset="0.1593" stop-color="rgb(232,5,5)"/><stop offset="0.2323" stop-color="rgb(232,5,5)"/><stop offset="0.3156" stop-color="rgb(232,5,5)"/><stop offset="0.4060" stop-color="rgb(232,5,5)"/><stop offset="0.5000" stop-color="rgb(232,5,5)"/><stop offset="0.5940" stop-color="rgb(207,4,4)"/><stop offset="0.6844" stop-color="rgb(172,4,4)"/><stop offset="0.7677" stop-color="rgb(133,3,3)"/><stop offset="0.8407" stop-color="rgb(91,2,2)"/><stop offset="0.9007" stop-color="rgb(84,2,2)"/><stop offset="0.9452" stop-color="rgb(84,2,2)"/><stop offset="0.9726" stop-color="rgb(84,2,2)"/><stop offset="0.9819" stop-color="rgb(84,2,2)"/></linearGradient><linearGradient id="d40" gradientUnits="userSpaceOnUse" x1="984.8" y1="0" x2="1304.8" y2="0"><stop offset="0.0252" stop-color="rgb(195,4,4)"/><stop offset="0.0344" stop-color="rgb(225,5,5)"/><stop offset="0.0614" stop-color="rgb(232,5,5)"/><stop offset="0.1052" stop-color="rgb(232,5,5)"/><stop offset="0.1643" stop-color="rgb(232,5,5)"/><stop offset="0.2362" stop-color="rgb(232,5,5)"/><stop offset="0.3183" stop-color="rgb(232,5,5)"/><stop offset="0.4074" stop-color="rgb(232,5,5)"/><stop offset="0.5000" stop-color="rgb(232,5,5)"/><stop offset="0.5926" stop-color="rgb(203,4,4)"/><stop offset="0.6817" stop-color="rgb(168,4,4)"/><stop offset="0.7638" stop-color="rgb(130,3,3)"/><stop offset="0.8357" stop-color="rgb(89,2,2)"/><stop offset="0.8948" stop-color="rgb(84,2,2)"/><stop offset="0.9386" stop-color="rgb(84,2,2)"/><stop offset="0.9656" stop-color="rgb(84,2,2)"/><stop offset="0.9748" stop-color="rgb(84,2,2)"/></linearGradient><linearGradient id="d41" gradientUnits="userSpaceOnUse" x1="984.8" y1="0" x2="1304.8" y2="0"><stop offset="0.0335" stop-color="rgb(190,4,4)"/><stop offset="0.0425" stop-color="rgb(220,5,5)"/><stop offset="0.0690" stop-color="rgb(232,5,5)"/><stop offset="0.1121" stop-color="rgb(232,5,5)"/><stop offset="0.1701" stop-color="rgb(232,5,5)"/><stop offset="0.2408" stop-color="rgb(232,5,5)"/><stop offset="0.3215" stop-color="rgb(232,5,5)"/><stop offset="0.4090" stop-color="rgb(232,5,5)"/><stop offset="0.5000" stop-color="rgb(227,5,5)"/><stop offset="0.5910" stop-color="rgb(198,4,4)"/><stop offset="0.6785" stop-color="rgb(164,4,4)"/><stop offset="0.7592" stop-color="rgb(126,3,3)"/><stop offset="0.8299" stop-color="rgb(86,2,2)"/><stop offset="0.8879" stop-color="rgb(84,2,2)"/><stop offset="0.9310" stop-color="rgb(84,2,2)"/><stop offset="0.9575" stop-color="rgb(84,2,2)"/><stop offset="0.9665" stop-color="rgb(84,2,2)"/></linearGradient><linearGradient id="d42" gradientUnits="userSpaceOnUse" x1="984.8" y1="0" x2="1304.8" y2="0"><stop offset="0.0429" stop-color="rgb(185,4,4)"/><stop offset="0.0517" stop-color="rgb(215,5,5)"/><stop offset="0.0777" stop-color="rgb(232,5,5)"/><stop offset="0.1199" stop-color="rgb(232,5,5)"/><stop offset="0.1768" stop-color="rgb(232,5,5)"/><stop offset="0.2460" stop-color="rgb(232,5,5)"/><stop offset="0.3251" stop-color="rgb(232,5,5)"/><stop offset="0.4108" stop-color="rgb(232,5,5)"/><stop offset="0.5000" stop-color="rgb(222,5,5)"/><stop offset="0.5892" stop-color="rgb(194,4,4)"/><stop offset="0.6749" stop-color="rgb(160,3,3)"/><stop offset="0.7540" stop-color="rgb(123,3,3)"/><stop offset="0.8232" stop-color="rgb(84,2,2)"/><stop offset="0.8801" stop-color="rgb(84,2,2)"/><stop offset="0.9223" stop-color="rgb(84,2,2)"/><stop offset="0.9483" stop-color="rgb(84,2,2)"/><stop offset="0.9571" stop-color="rgb(84,2,2)"/></linearGradient><linearGradient id="d43" gradientUnits="userSpaceOnUse" x1="984.8" y1="0" x2="1304.8" y2="0"><stop offset="0.0534" stop-color="rgb(180,4,4)"/><stop offset="0.0620" stop-color="rgb(209,5,5)"/><stop offset="0.0874" stop-color="rgb(232,5,5)"/><stop offset="0.1287" stop-color="rgb(232,5,5)"/><stop offset="0.1842" stop-color="rgb(232,5,5)"/><stop offset="0.2519" stop-color="rgb(232,5,5)"/><stop offset="0.3291" stop-color="rgb(232,5,5)"/><stop offset="0.4129" stop-color="rgb(232,5,5)"/><stop offset="0.5000" stop-color="rgb(216,5,5)"/><stop offset="0.5871" stop-color="rgb(188,4,4)"/><stop offset="0.6709" stop-color="rgb(156,3,3)"/><stop offset="0.7481" stop-color="rgb(119,3,3)"/><stop offset="0.8158" stop-color="rgb(84,2,2)"/><stop offset="0.8713" stop-color="rgb(84,2,2)"/><stop offset="0.9126" stop-color="rgb(84,2,2)"/><stop offset="0.9380" stop-color="rgb(84,2,2)"/><stop offset="0.9466" stop-color="rgb(84,2,2)"/></linearGradient><linearGradient id="d44" gradientUnits="userSpaceOnUse" x1="984.8" y1="0" x2="1304.8" y2="0"><stop offset="0.0650" stop-color="rgb(175,4,4)"/><stop offset="0.0733" stop-color="rgb(203,4,4)"/><stop offset="0.0981" stop-color="rgb(226,5,5)"/><stop offset="0.1383" stop-color="rgb(232,5,5)"/><stop offset="0.1924" stop-color="rgb(232,5,5)"/><stop offset="0.2583" stop-color="rgb(232,5,5)"/><stop offset="0.3335" stop-color="rgb(232,5,5)"/><stop offset="0.4151" stop-color="rgb(230,5,5)"/><stop offset="0.5000" stop-color="rgb(210,5,5)"/><stop offset="0.5849" stop-color="rgb(183,4,4)"/><stop offset="0.6665" stop-color="rgb(151,3,3)"/><stop offset="0.7417" stop-color="rgb(116,2,2)"/><stop offset="0.8076" stop-color="rgb(84,2,2)"/><stop offset="0.8617" stop-color="rgb(84,2,2)"/><stop offset="0.9019" stop-color="rgb(84,2,2)"/><stop offset="0.9267" stop-color="rgb(84,2,2)"/><stop offset="0.9350" stop-color="rgb(84,2,2)"/></linearGradient><linearGradient id="d45" gradientUnits="userSpaceOnUse" x1="984.8" y1="0" x2="1304.8" y2="0"><stop offset="0.0776" stop-color="rgb(170,4,4)"/><stop offset="0.0857" stop-color="rgb(197,4,4)"/><stop offset="0.1097" stop-color="rgb(219,5,5)"/><stop offset="0.1488" stop-color="rgb(232,5,5)"/><stop offset="0.2013" stop-color="rgb(232,5,5)"/><stop offset="0.2653" stop-color="rgb(232,5,5)"/><stop offset="0.3383" stop-color="rgb(232,5,5)"/><stop offset="0.4176" stop-color="rgb(223,5,5)"/><stop offset="0.5000" stop-color="rgb(203,4,4)"/><stop offset="0.5824" stop-color="rgb(177,4,4)"/><stop offset="0.6617" stop-color="rgb(146,3,3)"/><stop offset="0.7347" stop-color="rgb(112,2,2)"/><stop offset="0.7987" stop-color="rgb(84,2,2)"/><stop offset="0.8512" stop-color="rgb(84,2,2)"/><stop offset="0.8903" stop-color="rgb(84,2,2)"/><stop offset="0.9143" stop-color="rgb(84,2,2)"/><stop offset="0.9224" stop-color="rgb(84,2,2)"/></linearGradient><linearGradient id="d46" gradientUnits="userSpaceOnUse" x1="984.8" y1="0" x2="1304.8" y2="0"><stop offset="0.0912" stop-color="rgb(164,4,4)"/><stop offset="0.0991" stop-color="rgb(190,4,4)"/><stop offset="0.1223" stop-color="rgb(211,5,5)"/><stop offset="0.1601" stop-color="rgb(226,5,5)"/><stop offset="0.2109" stop-color="rgb(232,5,5)"/><stop offset="0.2729" stop-color="rgb(232,5,5)"/><stop offset="0.3436" stop-color="rgb(229,5,5)"/><stop offset="0.4202" stop-color="rgb(216,5,5)"/><stop offset="0.5000" stop-color="rgb(196,4,4)"/><stop offset="0.5798" stop-color="rgb(171,4,4)"/><stop offset="0.6564" stop-color="rgb(141,3,3)"/><stop offset="0.7271" stop-color="rgb(108,2,2)"/><stop offset="0.7891" stop-color="rgb(84,2,2)"/><stop offset="0.8399" stop-color="rgb(84,2,2)"/><stop offset="0.8777" stop-color="rgb(84,2,2)"/><stop offset="0.9009" stop-color="rgb(84,2,2)"/><stop offset="0.9088" stop-color="rgb(84,2,2)"/></linearGradient><linearGradient id="d47" gradientUnits="userSpaceOnUse" x1="984.8" y1="0" x2="1304.8" y2="0"><stop offset="0.1058" stop-color="rgb(158,3,3)"/><stop offset="0.1134" stop-color="rgb(183,4,4)"/><stop offset="0.1358" stop-color="rgb(204,4,4)"/><stop offset="0.1723" stop-color="rgb(218,5,5)"/><stop offset="0.2213" stop-color="rgb(226,5,5)"/><stop offset="0.2810" stop-color="rgb(227,5,5)"/><stop offset="0.3492" stop-color="rgb(221,5,5)"/><stop offset="0.4231" stop-color="rgb(208,4,4)"/><stop offset="0.5000" stop-color="rgb(189,4,4)"/><stop offset="0.5769" stop-color="rgb(165,4,4)"/><stop offset="0.6508" stop-color="rgb(136,3,3)"/><stop offset="0.7190" stop-color="rgb(104,2,2)"/><stop offset="0.7787" stop-color="rgb(84,2,2)"/><stop offset="0.8277" stop-color="rgb(84,2,2)"/><stop offset="0.8642" stop-color="rgb(84,2,2)"/><stop offset="0.8866" stop-color="rgb(84,2,2)"/><stop offset="0.8942" stop-color="rgb(84,2,2)"/></linearGradient><linearGradient id="d48" gradientUnits="userSpaceOnUse" x1="984.8" y1="0" x2="1304.8" y2="0"><stop offset="0.1214" stop-color="rgb(152,3,3)"/><stop offset="0.1287" stop-color="rgb(176,4,4)"/><stop offset="0.1502" stop-color="rgb(196,4,4)"/><stop offset="0.1852" stop-color="rgb(210,5,5)"/><stop offset="0.2323" stop-color="rgb(217,5,5)"/><stop offset="0.2897" stop-color="rgb(218,5,5)"/><stop offset="0.3551" stop-color="rgb(212,5,5)"/><stop offset="0.4261" stop-color="rgb(200,4,4)"/><stop offset="0.5000" stop-color="rgb(182,4,4)"/><stop offset="0.5739" stop-color="rgb(159,3,3)"/><stop offset="0.6449" stop-color="rgb(131,3,3)"/><stop offset="0.7103" stop-color="rgb(100,2,2)"/><stop offset="0.7677" stop-color="rgb(84,2,2)"/><stop offset="0.8148" stop-color="rgb(84,2,2)"/><stop offset="0.8498" stop-color="rgb(84,2,2)"/><stop offset="0.8713" stop-color="rgb(84,2,2)"/><stop offset="0.8786" stop-color="rgb(84,2,2)"/></linearGradient><linearGradient id="d49" gradientUnits="userSpaceOnUse" x1="984.8" y1="0" x2="1304.8" y2="0"><stop offset="0.1379" stop-color="rgb(146,3,3)"/><stop offset="0.1448" stop-color="rgb(169,4,4)"/><stop offset="0.1654" stop-color="rgb(188,4,4)"/><stop offset="0.1989" stop-color="rgb(201,4,4)"/><stop offset="0.2439" stop-color="rgb(208,4,4)"/><stop offset="0.2988" stop-color="rgb(209,4,4)"/><stop offset="0.3614" stop-color="rgb(203,4,4)"/><stop offset="0.4294" stop-color="rgb(192,4,4)"/><stop offset="0.5000" stop-color="rgb(174,4,4)"/><stop offset="0.5706" stop-color="rgb(152,3,3)"/><stop offset="0.6386" stop-color="rgb(126,3,3)"/><stop offset="0.7012" stop-color="rgb(96,2,2)"/><stop offset="0.7561" stop-color="rgb(84,2,2)"/><stop offset="0.8011" stop-color="rgb(84,2,2)"/><stop offset="0.8346" stop-color="rgb(84,2,2)"/><stop offset="0.8552" stop-color="rgb(84,2,2)"/><stop offset="0.8621" stop-color="rgb(84,2,2)"/></linearGradient><linearGradient id="d50" gradientUnits="userSpaceOnUse" x1="984.8" y1="0" x2="1304.8" y2="0"><stop offset="0.1552" stop-color="rgb(139,3,3)"/><stop offset="0.1619" stop-color="rgb(161,3,3)"/><stop offset="0.1815" stop-color="rgb(179,4,4)"/><stop offset="0.2133" stop-color="rgb(192,4,4)"/><stop offset="0.2562" stop-color="rgb(198,4,4)"/><stop offset="0.3085" stop-color="rgb(199,4,4)"/><stop offset="0.3681" stop-color="rgb(194,4,4)"/><stop offset="0.4327" stop-color="rgb(183,4,4)"/><stop offset="0.5000" stop-color="rgb(166,4,4)"/><stop offset="0.5673" stop-color="rgb(145,3,3)"/><stop offset="0.6319" stop-color="rgb(120,3,3)"/><stop offset="0.6915" stop-color="rgb(92,2,2)"/><stop offset="0.7438" stop-color="rgb(84,2,2)"/><stop offset="0.7867" stop-color="rgb(84,2,2)"/><stop offset="0.8185" stop-color="rgb(84,2,2)"/><stop offset="0.8381" stop-color="rgb(84,2,2)"/><stop offset="0.8448" stop-color="rgb(84,2,2)"/></linearGradient><linearGradient id="d51" gradientUnits="userSpaceOnUse" x1="984.8" y1="0" x2="1304.8" y2="0"><stop offset="0.1734" stop-color="rgb(133,3,3)"/><stop offset="0.1797" stop-color="rgb(154,3,3)"/><stop offset="0.1983" stop-color="rgb(170,4,4)"/><stop offset="0.2285" stop-color="rgb(182,4,4)"/><stop offset="0.2691" stop-color="rgb(189,4,4)"/><stop offset="0.3186" stop-color="rgb(189,4,4)"/><stop offset="0.3750" stop-color="rgb(184,4,4)"/><stop offset="0.4363" stop-color="rgb(174,4,4)"/><stop offset="0.5000" stop-color="rgb(158,3,3)"/><stop offset="0.5637" stop-color="rgb(138,3,3)"/><stop offset="0.6250" stop-color="rgb(115,2,2)"/><stop offset="0.6814" stop-color="rgb(88,2,2)"/><stop offset="0.7309" stop-color="rgb(84,2,2)"/><stop offset="0.7715" stop-color="rgb(84,2,2)"/><stop offset="0.8017" stop-color="rgb(84,2,2)"/><stop offset="0.8203" stop-color="rgb(84,2,2)"/><stop offset="0.8266" stop-color="rgb(84,2,2)"/></linearGradient><linearGradient id="d52" gradientUnits="userSpaceOnUse" x1="984.8" y1="0" x2="1304.8" y2="0"><stop offset="0.1924" stop-color="rgb(126,3,3)"/><stop offset="0.1983" stop-color="rgb(146,3,3)"/><stop offset="0.2158" stop-color="rgb(161,3,3)"/><stop offset="0.2442" stop-color="rgb(173,4,4)"/><stop offset="0.2825" stop-color="rgb(179,4,4)"/><stop offset="0.3291" stop-color="rgb(179,4,4)"/><stop offset="0.3823" stop-color="rgb(175,4,4)"/><stop offset="0.4400" stop-color="rgb(165,4,4)"/><stop offset="0.5000" stop-color="rgb(150,3,3)"/><stop offset="0.5600" stop-color="rgb(131,3,3)"/><stop offset="0.6177" stop-color="rgb(109,2,2)"/><stop offset="0.6709" stop-color="rgb(84,2,2)"/><stop offset="0.7175" stop-color="rgb(84,2,2)"/><stop offset="0.7558" stop-color="rgb(84,2,2)"/><stop offset="0.7842" stop-color="rgb(84,2,2)"/><stop offset="0.8017" stop-color="rgb(84,2,2)"/><stop offset="0.8076" stop-color="rgb(84,2,2)"/></linearGradient><linearGradient id="d53" gradientUnits="userSpaceOnUse" x1="984.8" y1="0" x2="1304.8" y2="0"><stop offset="0.2121" stop-color="rgb(119,3,3)"/><stop offset="0.2176" stop-color="rgb(138,3,3)"/><stop offset="0.2340" stop-color="rgb(152,3,3)"/><stop offset="0.2606" stop-color="rgb(163,4,4)"/><stop offset="0.2964" stop-color="rgb(168,4,4)"/><stop offset="0.3400" stop-color="rgb(169,4,4)"/><stop offset="0.3898" stop-color="rgb(165,4,4)"/><stop offset="0.4438" stop-color="rgb(155,3,3)"/><stop offset="0.5000" stop-color="rgb(142,3,3)"/><stop offset="0.5562" stop-color="rgb(124,3,3)"/><stop offset="0.6102" stop-color="rgb(103,2,2)"/><stop offset="0.6600" stop-color="rgb(84,2,2)"/><stop offset="0.7036" stop-color="rgb(84,2,2)"/><stop offset="0.7394" stop-color="rgb(84,2,2)"/><stop offset="0.7660" stop-color="rgb(84,2,2)"/><stop offset="0.7824" stop-color="rgb(84,2,2)"/><stop offset="0.7879" stop-color="rgb(84,2,2)"/></linearGradient><linearGradient id="d54" gradientUnits="userSpaceOnUse" x1="984.8" y1="0" x2="1304.8" y2="0"><stop offset="0.2325" stop-color="rgb(112,2,2)"/><stop offset="0.2376" stop-color="rgb(129,3,3)"/><stop offset="0.2529" stop-color="rgb(143,3,3)"/><stop offset="0.2776" stop-color="rgb(153,3,3)"/><stop offset="0.3108" stop-color="rgb(158,3,3)"/><stop offset="0.3514" stop-color="rgb(158,3,3)"/><stop offset="0.3976" stop-color="rgb(154,3,3)"/><stop offset="0.4478" stop-color="rgb(146,3,3)"/><stop offset="0.5000" stop-color="rgb(133,3,3)"/><stop offset="0.5522" stop-color="rgb(117,3,3)"/><stop offset="0.6024" stop-color="rgb(97,2,2)"/><stop offset="0.6486" stop-color="rgb(84,2,2)"/><stop offset="0.6892" stop-color="rgb(84,2,2)"/><stop offset="0.7224" stop-color="rgb(84,2,2)"/><stop offset="0.7471" stop-color="rgb(84,2,2)"/><stop offset="0.7624" stop-color="rgb(84,2,2)"/><stop offset="0.7675" stop-color="rgb(84,2,2)"/></linearGradient><linearGradient id="d55" gradientUnits="userSpaceOnUse" x1="984.8" y1="0" x2="1304.8" y2="0"><stop offset="0.2536" stop-color="rgb(105,2,2)"/><stop offset="0.2583" stop-color="rgb(121,3,3)"/><stop offset="0.2723" stop-color="rgb(133,3,3)"/><stop offset="0.2951" stop-color="rgb(142,3,3)"/><stop offset="0.3257" stop-color="rgb(147,3,3)"/><stop offset="0.3631" stop-color="rgb(148,3,3)"/><stop offset="0.4057" stop-color="rgb(144,3,3)"/><stop offset="0.4519" stop-color="rgb(136,3,3)"/><stop offset="0.5000" stop-color="rgb(124,3,3)"/><stop offset="0.5481" stop-color="rgb(109,2,2)"/><stop offset="0.5943" stop-color="rgb(91,2,2)"/><stop offset="0.6369" stop-color="rgb(84,2,2)"/><stop offset="0.6743" stop-color="rgb(84,2,2)"/><stop offset="0.7049" stop-color="rgb(84,2,2)"/><stop offset="0.7277" stop-color="rgb(84,2,2)"/><stop offset="0.7417" stop-color="rgb(84,2,2)"/><stop offset="0.7464" stop-color="rgb(84,2,2)"/></linearGradient><linearGradient id="d56" gradientUnits="userSpaceOnUse" x1="984.8" y1="0" x2="1304.8" y2="0"><stop offset="0.2752" stop-color="rgb(98,2,2)"/><stop offset="0.2795" stop-color="rgb(112,2,2)"/><stop offset="0.2923" stop-color="rgb(124,3,3)"/><stop offset="0.3131" stop-color="rgb(132,3,3)"/><stop offset="0.3410" stop-color="rgb(136,3,3)"/><stop offset="0.3751" stop-color="rgb(137,3,3)"/><stop offset="0.4140" stop-color="rgb(133,3,3)"/><stop offset="0.4561" stop-color="rgb(126,3,3)"/><stop offset="0.5000" stop-color="rgb(116,2,2)"/><stop offset="0.5439" stop-color="rgb(102,2,2)"/><stop offset="0.5860" stop-color="rgb(85,2,2)"/><stop offset="0.6249" stop-color="rgb(84,2,2)"/><stop offset="0.6590" stop-color="rgb(84,2,2)"/><stop offset="0.6869" stop-color="rgb(84,2,2)"/><stop offset="0.7077" stop-color="rgb(84,2,2)"/><stop offset="0.7205" stop-color="rgb(84,2,2)"/><stop offset="0.7248" stop-color="rgb(84,2,2)"/></linearGradient><linearGradient id="d57" gradientUnits="userSpaceOnUse" x1="984.8" y1="0" x2="1304.8" y2="0"><stop offset="0.2974" stop-color="rgb(91,2,2)"/><stop offset="0.3013" stop-color="rgb(104,2,2)"/><stop offset="0.3128" stop-color="rgb(114,2,2)"/><stop offset="0.3315" stop-color="rgb(121,3,3)"/><stop offset="0.3567" stop-color="rgb(125,3,3)"/><stop offset="0.3874" stop-color="rgb(126,3,3)"/><stop offset="0.4225" stop-color="rgb(123,3,3)"/><stop offset="0.4605" stop-color="rgb(116,3,3)"/><stop offset="0.5000" stop-color="rgb(107,2,2)"/><stop offset="0.5395" stop-color="rgb(94,2,2)"/><stop offset="0.5775" stop-color="rgb(84,2,2)"/><stop offset="0.6126" stop-color="rgb(84,2,2)"/><stop offset="0.6433" stop-color="rgb(84,2,2)"/><stop offset="0.6685" stop-color="rgb(84,2,2)"/><stop offset="0.6872" stop-color="rgb(84,2,2)"/><stop offset="0.6987" stop-color="rgb(84,2,2)"/><stop offset="0.7026" stop-color="rgb(84,2,2)"/></linearGradient><linearGradient id="d58" gradientUnits="userSpaceOnUse" x1="984.8" y1="0" x2="1304.8" y2="0"><stop offset="0.3201" stop-color="rgb(84,2,2)"/><stop offset="0.3235" stop-color="rgb(95,2,2)"/><stop offset="0.3338" stop-color="rgb(104,2,2)"/><stop offset="0.3504" stop-color="rgb(111,2,2)"/><stop offset="0.3728" stop-color="rgb(114,2,2)"/><stop offset="0.4000" stop-color="rgb(115,2,2)"/><stop offset="0.4311" stop-color="rgb(112,2,2)"/><stop offset="0.4649" stop-color="rgb(106,2,2)"/><stop offset="0.5000" stop-color="rgb(98,2,2)"/><stop offset="0.5351" stop-color="rgb(87,2,2)"/><stop offset="0.5689" stop-color="rgb(84,2,2)"/><stop offset="0.6000" stop-color="rgb(84,2,2)"/><stop offset="0.6272" stop-color="rgb(84,2,2)"/><stop offset="0.6496" stop-color="rgb(84,2,2)"/><stop offset="0.6662" stop-color="rgb(84,2,2)"/><stop offset="0.6765" stop-color="rgb(84,2,2)"/><stop offset="0.6799" stop-color="rgb(84,2,2)"/></linearGradient><linearGradient id="d59" gradientUnits="userSpaceOnUse" x1="984.8" y1="0" x2="1304.8" y2="0"><stop offset="0.3432" stop-color="rgb(84,2,2)"/><stop offset="0.3462" stop-color="rgb(86,2,2)"/><stop offset="0.3551" stop-color="rgb(94,2,2)"/><stop offset="0.3696" stop-color="rgb(100,2,2)"/><stop offset="0.3891" stop-color="rgb(103,2,2)"/><stop offset="0.4129" stop-color="rgb(103,2,2)"/><stop offset="0.4400" stop-color="rgb(101,2,2)"/><stop offset="0.4694" stop-color="rgb(96,2,2)"/><stop offset="0.5000" stop-color="rgb(89,2,2)"/><stop offset="0.5306" stop-color="rgb(84,2,2)"/><stop offset="0.5600" stop-color="rgb(84,2,2)"/><stop offset="0.5871" stop-color="rgb(84,2,2)"/><stop offset="0.6109" stop-color="rgb(84,2,2)"/><stop offset="0.6304" stop-color="rgb(84,2,2)"/><stop offset="0.6449" stop-color="rgb(84,2,2)"/><stop offset="0.6538" stop-color="rgb(84,2,2)"/><stop offset="0.6568" stop-color="rgb(84,2,2)"/></linearGradient><linearGradient id="d60" gradientUnits="userSpaceOnUse" x1="984.8" y1="0" x2="1304.8" y2="0"><stop offset="0.3666" stop-color="rgb(84,2,2)"/><stop offset="0.3692" stop-color="rgb(84,2,2)"/><stop offset="0.3768" stop-color="rgb(84,2,2)"/><stop offset="0.3891" stop-color="rgb(89,2,2)"/><stop offset="0.4057" stop-color="rgb(92,2,2)"/><stop offset="0.4259" stop-color="rgb(92,2,2)"/><stop offset="0.4490" stop-color="rgb(90,2,2)"/><stop offset="0.4740" stop-color="rgb(86,2,2)"/><stop offset="0.5000" stop-color="rgb(84,2,2)"/><stop offset="0.5260" stop-color="rgb(84,2,2)"/><stop offset="0.5510" stop-color="rgb(84,2,2)"/><stop offset="0.5741" stop-color="rgb(84,2,2)"/><stop offset="0.5943" stop-color="rgb(84,2,2)"/><stop offset="0.6109" stop-color="rgb(84,2,2)"/><stop offset="0.6232" stop-color="rgb(84,2,2)"/><stop offset="0.6308" stop-color="rgb(84,2,2)"/><stop offset="0.6334" stop-color="rgb(84,2,2)"/></linearGradient><linearGradient id="d61" gradientUnits="userSpaceOnUse" x1="984.8" y1="0" x2="1304.8" y2="0"><stop offset="0.3904" stop-color="rgb(84,2,2)"/><stop offset="0.3926" stop-color="rgb(84,2,2)"/><stop offset="0.3988" stop-color="rgb(84,2,2)"/><stop offset="0.4089" stop-color="rgb(84,2,2)"/><stop offset="0.4225" stop-color="rgb(84,2,2)"/><stop offset="0.4391" stop-color="rgb(84,2,2)"/><stop offset="0.4581" stop-color="rgb(84,2,2)"/><stop offset="0.4786" stop-color="rgb(84,2,2)"/><stop offset="0.5000" stop-color="rgb(84,2,2)"/><stop offset="0.5214" stop-color="rgb(84,2,2)"/><stop offset="0.5419" stop-color="rgb(84,2,2)"/><stop offset="0.5609" stop-color="rgb(84,2,2)"/><stop offset="0.5775" stop-color="rgb(84,2,2)"/><stop offset="0.5911" stop-color="rgb(84,2,2)"/><stop offset="0.6012" stop-color="rgb(84,2,2)"/><stop offset="0.6074" stop-color="rgb(84,2,2)"/><stop offset="0.6096" stop-color="rgb(84,2,2)"/></linearGradient><linearGradient id="d62" gradientUnits="userSpaceOnUse" x1="984.8" y1="0" x2="1304.8" y2="0"><stop offset="0.4145" stop-color="rgb(84,2,2)"/><stop offset="0.4162" stop-color="rgb(84,2,2)"/><stop offset="0.4210" stop-color="rgb(84,2,2)"/><stop offset="0.4289" stop-color="rgb(84,2,2)"/><stop offset="0.4396" stop-color="rgb(84,2,2)"/><stop offset="0.4525" stop-color="rgb(84,2,2)"/><stop offset="0.4673" stop-color="rgb(84,2,2)"/><stop offset="0.4833" stop-color="rgb(84,2,2)"/><stop offset="0.5000" stop-color="rgb(84,2,2)"/><stop offset="0.5167" stop-color="rgb(84,2,2)"/><stop offset="0.5327" stop-color="rgb(84,2,2)"/><stop offset="0.5475" stop-color="rgb(84,2,2)"/><stop offset="0.5604" stop-color="rgb(84,2,2)"/><stop offset="0.5711" stop-color="rgb(84,2,2)"/><stop offset="0.5790" stop-color="rgb(84,2,2)"/><stop offset="0.5838" stop-color="rgb(84,2,2)"/><stop offset="0.5855" stop-color="rgb(84,2,2)"/></linearGradient><linearGradient id="d63" gradientUnits="userSpaceOnUse" x1="984.8" y1="0" x2="1304.8" y2="0"><stop offset="0.4388" stop-color="rgb(84,2,2)"/><stop offset="0.4400" stop-color="rgb(84,2,2)"/><stop offset="0.4435" stop-color="rgb(84,2,2)"/><stop offset="0.4491" stop-color="rgb(84,2,2)"/><stop offset="0.4567" stop-color="rgb(84,2,2)"/><stop offset="0.4660" stop-color="rgb(84,2,2)"/><stop offset="0.4766" stop-color="rgb(84,2,2)"/><stop offset="0.4881" stop-color="rgb(84,2,2)"/><stop offset="0.5000" stop-color="rgb(84,2,2)"/><stop offset="0.5119" stop-color="rgb(84,2,2)"/><stop offset="0.5234" stop-color="rgb(84,2,2)"/><stop offset="0.5340" stop-color="rgb(84,2,2)"/><stop offset="0.5433" stop-color="rgb(84,2,2)"/><stop offset="0.5509" stop-color="rgb(84,2,2)"/><stop offset="0.5565" stop-color="rgb(84,2,2)"/><stop offset="0.5600" stop-color="rgb(84,2,2)"/><stop offset="0.5612" stop-color="rgb(84,2,2)"/></linearGradient><linearGradient id="d64" gradientUnits="userSpaceOnUse" x1="984.8" y1="0" x2="1304.8" y2="0"><stop offset="0.4632" stop-color="rgb(84,2,2)"/><stop offset="0.4639" stop-color="rgb(84,2,2)"/><stop offset="0.4660" stop-color="rgb(84,2,2)"/><stop offset="0.4694" stop-color="rgb(84,2,2)"/><stop offset="0.4740" stop-color="rgb(84,2,2)"/><stop offset="0.4796" stop-color="rgb(84,2,2)"/><stop offset="0.4859" stop-color="rgb(84,2,2)"/><stop offset="0.4928" stop-color="rgb(84,2,2)"/><stop offset="0.5000" stop-color="rgb(84,2,2)"/><stop offset="0.5072" stop-color="rgb(84,2,2)"/><stop offset="0.5141" stop-color="rgb(84,2,2)"/><stop offset="0.5204" stop-color="rgb(84,2,2)"/><stop offset="0.5260" stop-color="rgb(84,2,2)"/><stop offset="0.5306" stop-color="rgb(84,2,2)"/><stop offset="0.5340" stop-color="rgb(84,2,2)"/><stop offset="0.5361" stop-color="rgb(84,2,2)"/><stop offset="0.5368" stop-color="rgb(84,2,2)"/></linearGradient><linearGradient id="d65" gradientUnits="userSpaceOnUse" x1="984.8" y1="0" x2="1304.8" y2="0"><stop offset="0.4877" stop-color="rgb(84,2,2)"/><stop offset="0.4880" stop-color="rgb(84,2,2)"/><stop offset="0.4887" stop-color="rgb(84,2,2)"/><stop offset="0.4898" stop-color="rgb(84,2,2)"/><stop offset="0.4913" stop-color="rgb(84,2,2)"/><stop offset="0.4932" stop-color="rgb(84,2,2)"/><stop offset="0.4953" stop-color="rgb(84,2,2)"/><stop offset="0.4976" stop-color="rgb(84,2,2)"/><stop offset="0.5000" stop-color="rgb(84,2,2)"/><stop offset="0.5024" stop-color="rgb(84,2,2)"/><stop offset="0.5047" stop-color="rgb(84,2,2)"/><stop offset="0.5068" stop-color="rgb(84,2,2)"/><stop offset="0.5087" stop-color="rgb(84,2,2)"/><stop offset="0.5102" stop-color="rgb(84,2,2)"/><stop offset="0.5113" stop-color="rgb(84,2,2)"/><stop offset="0.5120" stop-color="rgb(84,2,2)"/><stop offset="0.5123" stop-color="rgb(84,2,2)"/></linearGradient></defs>
<g><path d="M984.80,237.00 A160.00,122.20 0 0 1 1304.80,237.00 A160.00,101.00 0 0 1 984.80,237.00 Z" fill="url(#d34)"/><path d="M984.99,231.00 A160.00,122.20 0 0 1 1304.61,231.00 A159.81,100.88 0 0 1 984.99,231.00 Z" fill="url(#d35)"/><path d="M985.57,225.02 A160.00,122.20 0 0 1 1304.03,225.02 A159.23,100.51 0 0 1 985.57,225.02 Z" fill="url(#d36)"/><path d="M986.53,219.07 A160.00,122.20 0 0 1 1303.07,219.07 A158.27,99.91 0 0 1 986.53,219.07 Z" fill="url(#d37)"/><path d="M987.87,213.16 A160.00,122.20 0 0 1 1301.73,213.16 A156.93,99.06 0 0 1 987.87,213.16 Z" fill="url(#d38)"/><path d="M989.59,207.31 A160.00,122.20 0 0 1 1300.01,207.31 A155.21,97.97 0 0 1 989.59,207.31 Z" fill="url(#d39)"/><path d="M991.69,201.53 A160.00,122.20 0 0 1 1297.91,201.53 A153.11,96.65 0 0 1 991.69,201.53 Z" fill="url(#d40)"/><path d="M994.15,195.83 A160.00,122.20 0 0 1 1295.45,195.83 A150.65,95.10 0 0 1 994.15,195.83 Z" fill="url(#d41)"/><path d="M996.98,190.24 A160.00,122.20 0 0 1 1292.62,190.24 A147.82,93.31 0 0 1 996.98,190.24 Z" fill="url(#d42)"/><path d="M1000.16,184.75 A160.00,122.20 0 0 1 1289.44,184.75 A144.64,91.30 0 0 1 1000.16,184.75 Z" fill="url(#d43)"/><path d="M1003.69,179.40 A160.00,122.20 0 0 1 1285.91,179.40 A141.11,89.07 0 0 1 1003.69,179.40 Z" fill="url(#d44)"/><path d="M1007.56,174.18 A160.00,122.20 0 0 1 1282.04,174.18 A137.24,86.63 0 0 1 1007.56,174.18 Z" fill="url(#d45)"/><path d="M1011.76,169.11 A160.00,122.20 0 0 1 1277.84,169.11 A133.04,83.98 0 0 1 1011.76,169.11 Z" fill="url(#d46)"/><path d="M1016.29,164.21 A160.00,122.20 0 0 1 1273.31,164.21 A128.51,81.12 0 0 1 1016.29,164.21 Z" fill="url(#d47)"/><path d="M1021.12,159.48 A160.00,122.20 0 0 1 1268.48,159.48 A123.68,78.07 0 0 1 1021.12,159.48 Z" fill="url(#d48)"/><path d="M1026.25,154.94 A160.00,122.20 0 0 1 1263.35,154.94 A118.55,74.84 0 0 1 1026.25,154.94 Z" fill="url(#d49)"/><path d="M1031.66,150.59 A160.00,122.20 0 0 1 1257.94,150.59 A113.14,71.42 0 0 1 1031.66,150.59 Z" fill="url(#d50)"/><path d="M1037.35,146.46 A160.00,122.20 0 0 1 1252.25,146.46 A107.45,67.83 0 0 1 1037.35,146.46 Z" fill="url(#d51)"/><path d="M1043.30,142.54 A160.00,122.20 0 0 1 1246.30,142.54 A101.50,64.07 0 0 1 1043.30,142.54 Z" fill="url(#d52)"/><path d="M1049.49,138.85 A160.00,122.20 0 0 1 1240.11,138.85 A95.31,60.17 0 0 1 1049.49,138.85 Z" fill="url(#d53)"/><path d="M1055.91,135.39 A160.00,122.20 0 0 1 1233.69,135.39 A88.89,56.11 0 0 1 1055.91,135.39 Z" fill="url(#d54)"/><path d="M1062.54,132.19 A160.00,122.20 0 0 1 1227.06,132.19 A82.26,51.92 0 0 1 1062.54,132.19 Z" fill="url(#d55)"/><path d="M1069.38,129.23 A160.00,122.20 0 0 1 1220.22,129.23 A75.42,47.61 0 0 1 1069.38,129.23 Z" fill="url(#d56)"/><path d="M1076.39,126.53 A160.00,122.20 0 0 1 1213.21,126.53 A68.41,43.18 0 0 1 1076.39,126.53 Z" fill="url(#d57)"/><path d="M1083.57,124.10 A160.00,122.20 0 0 1 1206.03,124.10 A61.23,38.65 0 0 1 1083.57,124.10 Z" fill="url(#d58)"/><path d="M1090.90,121.94 A160.00,122.20 0 0 1 1198.70,121.94 A53.90,34.03 0 0 1 1090.90,121.94 Z" fill="url(#d59)"/><path d="M1098.35,120.06 A160.00,122.20 0 0 1 1191.25,120.06 A46.45,29.32 0 0 1 1098.35,120.06 Z" fill="url(#d60)"/><path d="M1105.92,118.46 A160.00,122.20 0 0 1 1183.68,118.46 A38.88,24.54 0 0 1 1105.92,118.46 Z" fill="url(#d61)"/><path d="M1113.59,117.15 A160.00,122.20 0 0 1 1176.01,117.15 A31.21,19.70 0 0 1 1113.59,117.15 Z" fill="url(#d62)"/><path d="M1121.32,116.12 A160.00,122.20 0 0 1 1168.28,116.12 A23.48,14.82 0 0 1 1121.32,116.12 Z" fill="url(#d63)"/><path d="M1129.12,115.39 A160.00,122.20 0 0 1 1160.48,115.39 A15.68,9.90 0 0 1 1129.12,115.39 Z" fill="url(#d64)"/><path d="M1136.95,114.95 A160.00,122.20 0 0 1 1152.65,114.95 A7.85,4.96 0 0 1 1136.95,114.95 Z" fill="url(#d65)"/></g>
<clipPath id="c66"><path d="M984.80,237.00 A160.00,122.20 0 0 1 1304.80,237.00 A160.00,101.00 0 0 1 984.80,237.00 Z"/></clipPath>
<path clip-path="url(#c66)" d="M1140.87,114.84 A3.93,2.48 0 0 0 1148.73,114.84 M1136.95,114.95 A7.85,4.96 0 0 0 1152.65,114.95 M1133.03,115.13 A11.77,7.43 0 0 0 1156.57,115.13 M1129.12,115.39 A15.68,9.90 0 0 0 1160.48,115.39 M1125.21,115.72 A19.59,12.36 0 0 0 1164.39,115.72 M1121.32,116.12 A23.48,14.82 0 0 0 1168.28,116.12 M1117.45,116.60 A27.35,17.27 0 0 0 1172.15,116.60 M1113.59,117.15 A31.21,19.70 0 0 0 1176.01,117.15 M1109.74,117.77 A35.06,22.13 0 0 0 1179.86,117.77 M1105.92,118.46 A38.88,24.54 0 0 0 1183.68,118.46 M1102.13,119.23 A42.67,26.94 0 0 0 1187.47,119.23 M1098.35,120.06 A46.45,29.32 0 0 0 1191.25,120.06 M1094.61,120.97 A50.19,31.68 0 0 0 1194.99,120.97 M1090.90,121.94 A53.90,34.03 0 0 0 1198.70,121.94 M1087.22,122.99 A57.58,36.35 0 0 0 1202.38,122.99 M1083.57,124.10 A61.23,38.65 0 0 0 1206.03,124.10 M1079.96,125.28 A64.84,40.93 0 0 0 1209.64,125.28 M1076.39,126.53 A68.41,43.18 0 0 0 1213.21,126.53 M1072.86,127.85 A71.94,45.41 0 0 0 1216.74,127.85 M1069.38,129.23 A75.42,47.61 0 0 0 1220.22,129.23 M1065.94,130.68 A78.86,49.78 0 0 0 1223.66,130.68 M1062.54,132.19 A82.26,51.92 0 0 0 1227.06,132.19 M1059.20,133.76 A85.60,54.03 0 0 0 1230.40,133.76 M1055.91,135.39 A88.89,56.11 0 0 0 1233.69,135.39 M1052.67,137.09 A92.13,58.16 0 0 0 1236.93,137.09 M1049.49,138.85 A95.31,60.17 0 0 0 1240.11,138.85 M1046.36,140.66 A98.44,62.14 0 0 0 1243.24,140.66 M1043.30,142.54 A101.50,64.07 0 0 0 1246.30,142.54 M1040.29,144.47 A104.51,65.97 0 0 0 1249.31,144.47 M1037.35,146.46 A107.45,67.83 0 0 0 1252.25,146.46 M1034.47,148.50 A110.33,69.64 0 0 0 1255.13,148.50 M1031.66,150.59 A113.14,71.42 0 0 0 1257.94,150.59 M1028.92,152.74 A115.88,73.15 0 0 0 1260.68,152.74 M1026.25,154.94 A118.55,74.84 0 0 0 1263.35,154.94 M1023.65,157.18 A121.15,76.48 0 0 0 1265.95,157.18 M1021.12,159.48 A123.68,78.07 0 0 0 1268.48,159.48 M1018.66,161.82 A126.14,79.62 0 0 0 1270.94,161.82 M1016.29,164.21 A128.51,81.12 0 0 0 1273.31,164.21 M1013.99,166.64 A130.81,82.58 0 0 0 1275.61,166.64 M1011.76,169.11 A133.04,83.98 0 0 0 1277.84,169.11 M1009.62,171.62 A135.18,85.33 0 0 0 1279.98,171.62 M1007.56,174.18 A137.24,86.63 0 0 0 1282.04,174.18 M1005.59,176.77 A139.21,87.88 0 0 0 1284.01,176.77 M1003.69,179.40 A141.11,89.07 0 0 0 1285.91,179.40 M1001.88,182.06 A142.92,90.22 0 0 0 1287.72,182.06 M1000.16,184.75 A144.64,91.30 0 0 0 1289.44,184.75 M998.53,187.48 A146.27,92.34 0 0 0 1291.07,187.48 M996.98,190.24 A147.82,93.31 0 0 0 1292.62,190.24 M995.52,193.02 A149.28,94.23 0 0 0 1294.08,193.02 M994.15,195.83 A150.65,95.10 0 0 0 1295.45,195.83 M992.88,198.67 A151.92,95.90 0 0 0 1296.72,198.67 M991.69,201.53 A153.11,96.65 0 0 0 1297.91,201.53 M990.60,204.41 A154.20,97.34 0 0 0 1299.00,204.41 M989.59,207.31 A155.21,97.97 0 0 0 1300.01,207.31 M988.69,210.23 A156.11,98.55 0 0 0 1300.91,210.23 M987.87,213.16 A156.93,99.06 0 0 0 1301.73,213.16 M987.16,216.11 A157.64,99.51 0 0 0 1302.44,216.11 M986.53,219.07 A158.27,99.91 0 0 0 1303.07,219.07 M986.00,222.04 A158.80,100.24 0 0 0 1303.60,222.04 M985.57,225.02 A159.23,100.51 0 0 0 1304.03,225.02 M985.23,228.01 A159.57,100.73 0 0 0 1304.37,228.01 M984.99,231.00 A159.81,100.88 0 0 0 1304.61,231.00 M984.85,234.00 A159.95,100.97 0 0 0 1304.75,234.00 M984.80,237.00 A160.00,101.00 0 0 0 1304.80,237.00" fill="none" stroke="#000" stroke-opacity="0.35" stroke-width="0.50"/>
<path clip-path="url(#c66)" d="M1144.8,114.8 L1134.5,116.2 L1124.2,118.1 L1114.1,120.6 L1104.0,123.5 L1094.2,126.9 L1084.5,130.8 L1075.1,135.2 L1066.0,139.9 L1057.3,145.1 L1048.9,150.7 L1040.9,156.7 L1033.4,163.0 L1026.3,169.6 L1019.8,176.5 L1013.8,183.7 L1008.3,191.1 L1003.5,198.7 L999.2,206.4 L995.6,214.3 L992.6,222.3 L990.3,230.4 L988.6,238.4 L987.6,246.5 L987.2,254.5 M1144.8,114.8 L1135.0,117.3 L1125.2,120.4 L1115.5,123.9 L1105.9,127.9 L1096.5,132.4 L1087.3,137.3 L1078.3,142.7 L1069.6,148.4 L1061.3,154.6 L1053.3,161.1 L1045.7,167.9 L1038.5,175.0 L1031.8,182.4 L1025.5,190.0 L1019.8,197.8 L1014.6,205.8 L1010.0,213.9 L1005.9,222.2 L1002.4,230.4 L999.6,238.7 L997.3,247.0 L995.7,255.3 L994.8,263.5 L994.4,271.5 M1144.8,114.8 L1135.7,118.4 L1126.7,122.4 L1117.8,127.0 L1108.9,132.0 L1100.3,137.5 L1091.8,143.4 L1083.5,149.7 L1075.5,156.4 L1067.8,163.5 L1060.4,170.8 L1053.4,178.4 L1046.8,186.3 L1040.6,194.4 L1034.9,202.7 L1029.6,211.1 L1024.8,219.6 L1020.5,228.2 L1016.8,236.9 L1013.6,245.5 L1011.0,254.2 L1008.9,262.7 L1007.4,271.1 L1006.5,279.4 L1006.2,287.5 M1144.8,114.8 L1136.8,119.3 L1128.8,124.3 L1120.9,129.8 L1113.1,135.8 L1105.4,142.2 L1097.9,148.9 L1090.6,156.1 L1083.5,163.6 L1076.7,171.5 L1070.2,179.6 L1064.0,187.9 L1058.1,196.5 L1052.6,205.2 L1047.6,214.1 L1042.9,223.1 L1038.7,232.1 L1034.9,241.2 L1031.6,250.2 L1028.7,259.2 L1026.4,268.1 L1024.6,276.8 L1023.3,285.4 L1022.5,293.8 L1022.2,301.9 M1144.8,114.8 L1138.1,120.1 L1131.4,125.9 L1124.7,132.2 L1118.2,139.0 L1111.7,146.2 L1105.4,153.7 L1099.3,161.6 L1093.4,169.9 L1087.7,178.4 L1082.2,187.2 L1077.0,196.1 L1072.1,205.3 L1067.5,214.6 L1063.2,224.0 L1059.3,233.4 L1055.7,242.9 L1052.6,252.3 L1049.8,261.7 L1047.4,271.0 L1045.5,280.1 L1043.9,289.0 L1042.8,297.8 L1042.2,306.2 L1042.0,314.4 M1144.8,114.8 L1139.6,120.8 L1134.4,127.3 L1129.2,134.2 L1124.1,141.6 L1119.1,149.4 L1114.2,157.6 L1109.4,166.1 L1104.8,174.9 L1100.4,184.0 L1096.1,193.3 L1092.1,202.8 L1088.2,212.4 L1084.7,222.2 L1081.3,232.0 L1078.3,241.8 L1075.5,251.6 L1073.1,261.4 L1070.9,271.0 L1069.0,280.5 L1067.5,289.9 L1066.3,298.9 L1065.5,307.8 L1065.0,316.3 L1064.8,324.5 M1144.8,114.8 L1141.2,121.3 L1137.7,128.2 L1134.1,135.7 L1130.6,143.5 L1127.2,151.8 L1123.9,160.4 L1120.6,169.4 L1117.4,178.6 L1114.4,188.1 L1111.5,197.8 L1108.7,207.7 L1106.1,217.7 L1103.7,227.8 L1101.4,237.9 L1099.3,248.0 L1097.4,258.1 L1095.7,268.1 L1094.2,277.9 L1093.0,287.6 L1091.9,297.0 L1091.1,306.2 L1090.5,315.1 L1090.2,323.7 L1090.1,331.9 M1144.8,114.8 L1143.0,121.6 L1141.2,128.8 L1139.4,136.6 L1137.6,144.7 L1135.9,153.3 L1134.2,162.2 L1132.5,171.4 L1130.9,180.9 L1129.4,190.7 L1127.9,200.6 L1126.5,210.7 L1125.2,220.9 L1123.9,231.2 L1122.8,241.5 L1121.7,251.8 L1120.7,262.0 L1119.9,272.2 L1119.1,282.1 L1118.5,291.9 L1118.0,301.4 L1117.6,310.7 L1117.3,319.7 L1117.1,328.3 L1117.0,336.5 M1144.8,114.8 L1144.8,121.7 L1144.8,129.0 L1144.8,136.9 L1144.8,145.1 L1144.8,153.8 L1144.8,162.8 L1144.8,172.1 L1144.8,181.7 L1144.8,191.5 L1144.8,201.5 L1144.8,211.7 L1144.8,222.0 L1144.8,232.4 L1144.8,242.7 L1144.8,253.1 L1144.8,263.4 L1144.8,273.5 L1144.8,283.5 L1144.8,293.4 L1144.8,302.9 L1144.8,312.2 L1144.8,321.2 L1144.8,329.8 L1144.8,338.0 M1144.8,114.8 L1146.6,121.6 L1148.4,128.8 L1150.2,136.6 L1152.0,144.7 L1153.7,153.3 L1155.4,162.2 L1157.1,171.4 L1158.7,180.9 L1160.2,190.7 L1161.7,200.6 L1163.1,210.7 L1164.4,220.9 L1165.7,231.2 L1166.8,241.5 L1167.9,251.8 L1168.9,262.0 L1169.7,272.2 L1170.5,282.1 L1171.1,291.9 L1171.6,301.4 L1172.0,310.7 L1172.3,319.7 L1172.5,328.3 L1172.6,336.5 M1144.8,114.8 L1148.4,121.3 L1151.9,128.2 L1155.5,135.7 L1159.0,143.5 L1162.4,151.8 L1165.7,160.4 L1169.0,169.4 L1172.2,178.6 L1175.2,188.1 L1178.1,197.8 L1180.9,207.7 L1183.5,217.7 L1185.9,227.8 L1188.2,237.9 L1190.3,248.0 L1192.2,258.1 L1193.9,268.1 L1195.4,277.9 L1196.6,287.6 L1197.7,297.0 L1198.5,306.2 L1199.1,315.1 L1199.4,323.7 L1199.5,331.9 M1144.8,114.8 L1150.0,120.8 L1155.2,127.3 L1160.4,134.2 L1165.5,141.6 L1170.5,149.4 L1175.4,157.6 L1180.2,166.1 L1184.8,174.9 L1189.2,184.0 L1193.5,193.3 L1197.5,202.8 L1201.4,212.4 L1204.9,222.2 L1208.3,232.0 L1211.3,241.8 L1214.1,251.6 L1216.5,261.4 L1218.7,271.0 L1220.6,280.5 L1222.1,289.9 L1223.3,298.9 L1224.1,307.8 L1224.6,316.3 L1224.8,324.5 M1144.8,114.8 L1151.5,120.1 L1158.2,125.9 L1164.9,132.2 L1171.4,139.0 L1177.9,146.2 L1184.2,153.7 L1190.3,161.6 L1196.2,169.9 L1201.9,178.4 L1207.4,187.2 L1212.6,196.1 L1217.5,205.3 L1222.1,214.6 L1226.4,224.0 L1230.3,233.4 L1233.9,242.9 L1237.0,252.3 L1239.8,261.7 L1242.2,271.0 L1244.1,280.1 L1245.7,289.0 L1246.8,297.8 L1247.4,306.2 L1247.6,314.4 M1144.8,114.8 L1152.8,119.3 L1160.8,124.3 L1168.7,129.8 L1176.5,135.8 L1184.2,142.2 L1191.7,148.9 L1199.0,156.1 L1206.1,163.6 L1212.9,171.5 L1219.4,179.6 L1225.6,187.9 L1231.5,196.5 L1237.0,205.2 L1242.0,214.1 L1246.7,223.1 L1250.9,232.1 L1254.7,241.2 L1258.0,250.2 L1260.9,259.2 L1263.2,268.1 L1265.0,276.8 L1266.3,285.4 L1267.1,293.8 L1267.4,301.9 M1144.8,114.8 L1153.9,118.4 L1162.9,122.4 L1171.8,127.0 L1180.7,132.0 L1189.3,137.5 L1197.8,143.4 L1206.1,149.7 L1214.1,156.4 L1221.8,163.5 L1229.2,170.8 L1236.2,178.4 L1242.8,186.3 L1249.0,194.4 L1254.7,202.7 L1260.0,211.1 L1264.8,219.6 L1269.1,228.2 L1272.8,236.9 L1276.0,245.5 L1278.6,254.2 L1280.7,262.7 L1282.2,271.1 L1283.1,279.4 L1283.4,287.5 M1144.8,114.8 L1154.6,117.3 L1164.4,120.4 L1174.1,123.9 L1183.7,127.9 L1193.1,132.4 L1202.3,137.3 L1211.3,142.7 L1220.0,148.4 L1228.3,154.6 L1236.3,161.1 L1243.9,167.9 L1251.1,175.0 L1257.8,182.4 L1264.1,190.0 L1269.8,197.8 L1275.0,205.8 L1279.6,213.9 L1283.7,222.2 L1287.2,230.4 L1290.0,238.7 L1292.3,247.0 L1293.9,255.3 L1294.8,263.5 L1295.2,271.5 M1144.8,114.8 L1155.1,116.2 L1165.4,118.1 L1175.5,120.6 L1185.6,123.5 L1195.4,126.9 L1205.1,130.8 L1214.5,135.2 L1223.6,139.9 L1232.3,145.1 L1240.7,150.7 L1248.7,156.7 L1256.2,163.0 L1263.3,169.6 L1269.8,176.5 L1275.8,183.7 L1281.3,191.1 L1286.1,198.7 L1290.4,206.4 L1294.0,214.3 L1297.0,222.3 L1299.3,230.4 L1301.0,238.4 L1302.0,246.5 L1302.4,254.5" fill="none" stroke="#000" stroke-opacity="0.42" stroke-width="0.60"/>
<g><path d="M231.00,643.00 A215.90,164.90 0 0 1 662.80,643.00 Z" fill="rgb(0,0,205)"/><path d="M231.67,643.00 A215.23,164.39 0 0 1 662.13,643.00 Z" fill="rgb(0,0,205)"/><path d="M232.34,643.00 A214.56,163.88 0 0 1 661.46,643.00 Z" fill="rgb(0,0,205)"/><path d="M233.01,643.00 A213.89,163.37 0 0 1 660.79,643.00 Z" fill="rgb(0,0,205)"/><path d="M233.68,643.00 A213.22,162.86 0 0 1 660.12,643.00 Z" fill="rgb(0,0,205)"/><path d="M234.35,643.00 A212.55,162.35 0 0 1 659.45,643.00 Z" fill="rgb(0,0,205)"/><path d="M235.02,643.00 A211.88,161.84 0 0 1 658.78,643.00 Z" fill="rgb(0,0,205)"/><path d="M235.69,643.00 A211.21,161.33 0 0 1 658.11,643.00 Z" fill="rgb(0,0,205)"/><path d="M236.36,643.00 A210.54,160.82 0 0 1 657.44,643.00 Z" fill="rgb(0,0,205)"/><path d="M237.03,643.00 A209.87,160.31 0 0 1 656.77,643.00 Z" fill="rgb(0,0,205)"/><path d="M237.70,643.00 A209.20,159.80 0 0 1 656.10,643.00 Z" fill="rgb(0,0,205)"/><path d="M238.37,643.00 A208.53,159.29 0 0 1 655.43,643.00 Z" fill="rgb(0,0,205)"/><path d="M239.04,643.00 A207.86,158.78 0 0 1 654.76,643.00 Z" fill="rgb(0,0,205)"/><path d="M239.71,643.00 A207.19,158.27 0 0 1 654.09,643.00 Z" fill="rgb(0,0,205)"/><path d="M240.38,643.00 A206.52,157.76 0 0 1 653.42,643.00 Z" fill="rgb(0,0,205)"/><path d="M241.05,643.00 A205.85,157.25 0 0 1 652.75,643.00 Z" fill="rgb(0,0,205)"/><path d="M241.72,643.00 A205.18,156.74 0 0 1 652.08,643.00 Z" fill="rgb(0,0,205)"/><path d="M242.39,643.00 A204.51,156.23 0 0 1 651.41,643.00 Z" fill="rgb(0,0,205)"/><path d="M243.06,643.00 A203.84,155.72 0 0 1 650.74,643.00 Z" fill="rgb(0,3,205)"/><path d="M243.73,643.00 A203.17,155.21 0 0 1 650.07,643.00 Z" fill="rgb(0,73,211)"/><path d="M244.40,643.00 A202.50,154.70 0 0 1 649.40,643.00 Z" fill="rgb(0,126,215)"/><path d="M245.07,643.00 A201.83,154.19 0 0 1 648.73,643.00 Z" fill="rgb(0,129,214)"/><path d="M245.74,643.00 A201.16,153.68 0 0 1 648.06,643.00 Z" fill="rgb(0,132,214)"/><path d="M246.41,643.00 A200.49,153.17 0 0 1 647.39,643.00 Z" fill="rgb(0,136,214)"/><path d="M247.08,643.00 A199.82,152.66 0 0 1 646.72,643.00 Z" fill="rgb(0,139,213)"/><path d="M247.75,643.00 A199.15,152.15 0 0 1 646.05,643.00 Z" fill="rgb(0,142,213)"/><path d="M248.42,643.00 A198.48,151.64 0 0 1 645.38,643.00 Z" fill="rgb(0,146,212)"/><path d="M249.09,643.00 A197.81,151.13 0 0 1 644.71,643.00 Z" fill="rgb(0,149,212)"/><path d="M249.76,643.00 A197.14,150.62 0 0 1 644.04,643.00 Z" fill="rgb(0,152,212)"/><path d="M250.43,643.00 A196.47,150.11 0 0 1 643.37,643.00 Z" fill="rgb(0,155,211)"/><path d="M251.10,643.00 A195.80,149.60 0 0 1 642.70,643.00 Z" fill="rgb(0,159,211)"/><path d="M251.77,643.00 A195.13,149.09 0 0 1 642.03,643.00 Z" fill="rgb(0,162,210)"/><path d="M252.44,643.00 A194.46,148.58 0 0 1 641.36,643.00 Z" fill="rgb(0,165,210)"/><path d="M253.11,643.00 A193.79,148.07 0 0 1 640.69,643.00 Z" fill="rgb(0,168,210)"/><path d="M253.78,643.00 A193.12,147.56 0 0 1 640.02,643.00 Z" fill="rgb(0,170,209)"/><path d="M254.45,643.00 A192.45,147.05 0 0 1 639.35,643.00 Z" fill="rgb(0,172,209)"/><path d="M255.12,643.00 A191.78,146.54 0 0 1 638.68,643.00 Z" fill="rgb(0,175,208)"/><path d="M255.79,643.00 A191.11,146.03 0 0 1 638.01,643.00 Z" fill="rgb(0,177,208)"/><path d="M256.46,643.00 A190.44,145.52 0 0 1 637.34,643.00 Z" fill="rgb(0,180,208)"/><path d="M257.13,643.00 A189.77,145.01 0 0 1 636.67,643.00 Z" fill="rgb(0,182,207)"/><path d="M257.80,643.00 A189.10,144.50 0 0 1 636.00,643.00 Z" fill="rgb(0,184,207)"/><path d="M258.47,643.00 A188.43,143.99 0 0 1 635.33,643.00 Z" fill="rgb(0,187,206)"/><path d="M259.14,643.00 A187.76,143.48 0 0 1 634.66,643.00 Z" fill="rgb(0,189,206)"/><path d="M259.81,643.00 A187.09,142.97 0 0 1 633.99,643.00 Z" fill="rgb(0,191,206)"/><path d="M260.48,643.00 A186.42,142.46 0 0 1 633.32,643.00 Z" fill="rgb(0,194,205)"/><path d="M261.15,643.00 A185.75,141.95 0 0 1 632.65,643.00 Z" fill="rgb(0,195,204)"/><path d="M261.82,643.00 A185.08,141.44 0 0 1 631.98,643.00 Z" fill="rgb(0,196,201)"/><path d="M262.49,643.00 A184.41,140.93 0 0 1 631.31,643.00 Z" fill="rgb(0,196,198)"/><path d="M263.16,643.00 A183.74,140.42 0 0 1 630.64,643.00 Z" fill="rgb(0,196,195)"/><path d="M263.83,643.00 A183.07,139.91 0 0 1 629.97,643.00 Z" fill="rgb(0,197,192)"/><path d="M264.50,643.00 A182.40,139.40 0 0 1 629.30,643.00 Z" fill="rgb(0,197,190)"/><path d="M265.17,643.00 A181.73,138.89 0 0 1 628.63,643.00 Z" fill="rgb(0,198,187)"/><path d="M265.84,643.00 A181.06,138.38 0 0 1 627.96,643.00 Z" fill="rgb(0,198,184)"/><path d="M266.51,643.00 A180.39,137.87 0 0 1 627.29,643.00 Z" fill="rgb(0,198,181)"/><path d="M267.18,643.00 A179.72,137.36 0 0 1 626.62,643.00 Z" fill="rgb(0,199,179)"/><path d="M267.85,643.00 A179.05,136.85 0 0 1 625.95,643.00 Z" fill="rgb(0,199,176)"/><path d="M268.52,643.00 A178.38,136.34 0 0 1 625.28,643.00 Z" fill="rgb(0,200,173)"/><path d="M269.19,643.00 A177.71,135.83 0 0 1 624.61,643.00 Z" fill="rgb(0,200,170)"/><path d="M269.86,643.00 A177.04,135.32 0 0 1 623.94,643.00 Z" fill="rgb(0,200,161)"/><path d="M270.53,643.00 A176.37,134.81 0 0 1 623.27,643.00 Z" fill="rgb(0,200,152)"/><path d="M271.20,643.00 A175.70,134.30 0 0 1 622.60,643.00 Z" fill="rgb(0,200,142)"/><path d="M271.87,643.00 A175.03,133.79 0 0 1 621.93,643.00 Z" fill="rgb(0,200,133)"/><path d="M272.54,643.00 A174.36,133.28 0 0 1 621.26,643.00 Z" fill="rgb(0,200,123)"/><path d="M273.21,643.00 A173.69,132.77 0 0 1 620.59,643.00 Z" fill="rgb(0,200,114)"/><path d="M273.88,643.00 A173.02,132.26 0 0 1 619.92,643.00 Z" fill="rgb(0,200,88)"/><path d="M274.55,643.00 A172.35,131.75 0 0 1 619.25,643.00 Z" fill="rgb(0,200,51)"/><path d="M275.22,643.00 A171.68,131.24 0 0 1 618.58,643.00 Z" fill="rgb(0,200,14)"/><path d="M275.89,643.00 A171.01,130.73 0 0 1 617.91,643.00 Z" fill="rgb(0,200,9)"/><path d="M276.56,643.00 A170.34,130.22 0 0 1 617.24,643.00 Z" fill="rgb(0,200,9)"/><path d="M277.23,643.00 A169.67,129.71 0 0 1 616.57,643.00 Z" fill="rgb(0,200,8)"/><path d="M277.90,643.00 A169.00,129.20 0 0 1 615.90,643.00 Z" fill="rgb(0,200,7)"/><path d="M278.57,643.00 A168.33,128.69 0 0 1 615.23,643.00 Z" fill="rgb(0,200,7)"/><path d="M279.24,643.00 A167.66,128.18 0 0 1 614.56,643.00 Z" fill="rgb(0,200,6)"/><path d="M279.91,643.00 A166.99,127.67 0 0 1 613.89,643.00 Z" fill="rgb(0,200,5)"/><path d="M280.58,643.00 A166.32,127.16 0 0 1 613.22,643.00 Z" fill="rgb(0,200,5)"/><path d="M281.25,643.00 A165.65,126.65 0 0 1 612.55,643.00 Z" fill="rgb(0,200,4)"/><path d="M281.92,643.00 A164.98,126.14 0 0 1 611.88,643.00 Z" fill="rgb(0,200,3)"/><path d="M282.59,643.00 A164.31,125.63 0 0 1 611.21,643.00 Z" fill="rgb(0,200,2)"/><path d="M283.26,643.00 A163.64,125.12 0 0 1 610.54,643.00 Z" fill="rgb(0,200,2)"/><path d="M283.93,643.00 A162.97,124.61 0 0 1 609.87,643.00 Z" fill="rgb(0,200,1)"/><path d="M284.60,643.00 A162.30,124.10 0 0 1 609.20,643.00 Z" fill="rgb(0,200,0)"/><path d="M285.27,643.00 A161.63,123.59 0 0 1 608.53,643.00 Z" fill="rgb(44,203,0)"/><path d="M285.94,643.00 A160.96,123.08 0 0 1 607.86,643.00 Z" fill="rgb(133,208,0)"/><path d="M286.61,643.00 A160.29,122.57 0 0 1 607.19,643.00 Z" fill="rgb(160,210,0)"/><path d="M287.28,643.00 A159.62,122.06 0 0 1 606.52,643.00 Z" fill="rgb(160,210,0)"/><path d="M287.95,643.00 A158.95,121.55 0 0 1 605.85,643.00 Z" fill="rgb(160,210,0)"/><path d="M288.62,643.00 A158.28,121.04 0 0 1 605.18,643.00 Z" fill="rgb(160,210,0)"/><path d="M289.29,643.00 A157.61,120.53 0 0 1 604.51,643.00 Z" fill="rgb(160,210,0)"/><path d="M289.96,643.00 A156.94,120.02 0 0 1 603.84,643.00 Z" fill="rgb(160,210,0)"/><path d="M290.63,643.00 A156.27,119.51 0 0 1 603.17,643.00 Z" fill="rgb(160,210,0)"/></g>
<path d="M247.3,619.0 C247.3,628.2 243.7,631.0 239.3,631.0 L232.4,631.0 L231.8,643.0 L249.3,643.0 Z" fill="rgb(0,125,215)"/>
<path d="M231.8,640.0 L249.3,640.0 L249.3,643.0 L231.8,643.0 Z" fill="rgb(0,185,210)"/>
<path d="M646.5,619.0 C646.5,628.2 650.1,631.0 654.5,631.0 L661.4,631.0 L662.0,643.0 L644.5,643.0 Z" fill="rgb(0,125,215)"/>
<path d="M662.0,640.0 L644.5,640.0 L644.5,643.0 L662.0,643.0 Z" fill="rgb(0,185,210)"/>
<path d="M237.03,643.00 A209.87,160.31 0 0 1 656.77,643.00 M243.06,643.00 A203.84,155.72 0 0 1 650.74,643.00 M249.09,643.00 A197.81,151.13 0 0 1 644.71,643.00 M255.12,643.00 A191.78,146.54 0 0 1 638.68,643.00 M261.15,643.00 A185.75,141.95 0 0 1 632.65,643.00 M267.18,643.00 A179.72,137.36 0 0 1 626.62,643.00 M273.21,643.00 A173.69,132.77 0 0 1 620.59,643.00 M279.24,643.00 A167.66,128.18 0 0 1 614.56,643.00 M285.27,643.00 A161.63,123.59 0 0 1 608.53,643.00 M231.1,639.0 L291.3,640.1 M231.3,635.0 L291.5,637.3 M231.6,631.1 L291.7,634.4 M232.0,627.1 L292.0,631.5 M232.6,623.1 L292.4,628.7 M233.3,619.2 L292.9,625.8 M234.1,615.2 L293.5,623.0 M235.0,611.3 L294.2,620.1 M236.1,607.4 L295.0,617.3 M237.3,603.5 L295.8,614.5 M238.6,599.7 L296.8,611.7 M240.0,595.8 L297.8,609.0 M241.6,592.0 L298.9,606.2 M243.2,588.3 L300.1,603.5 M245.0,584.5 L301.4,600.8 M246.9,580.8 L302.8,598.1 M249.0,577.1 L304.2,595.5 M251.1,573.5 L305.8,592.9 M253.4,569.9 L307.4,590.3 M255.7,566.4 L309.1,587.7 M258.2,562.9 L310.9,585.2 M260.8,559.4 L312.8,582.7 M263.5,556.0 L314.7,580.2 M266.3,552.6 L316.7,577.8 M269.2,549.3 L318.8,575.4 M272.2,546.1 L321.0,573.1 M275.4,542.9 L323.3,570.7 M278.6,539.7 L325.6,568.5 M281.9,536.7 L328.0,566.3 M285.3,533.7 L330.4,564.1 M288.8,530.7 L333.0,562.0 M292.4,527.8 L335.6,559.9 M296.1,525.0 L338.2,557.8 M299.9,522.2 L340.9,555.9 M303.7,519.6 L343.7,553.9 M307.7,517.0 L346.6,552.0 M311.7,514.4 L349.5,550.2 M315.8,512.0 L352.4,548.4 M320.0,509.6 L355.4,546.7 M324.3,507.3 L358.5,545.1 M328.6,505.1 L361.6,543.5 M333.0,502.9 L364.8,541.9 M337.4,500.9 L368.0,540.4 M342.0,498.9 L371.3,539.0 M346.6,497.0 L374.6,537.6 M351.2,495.2 L377.9,536.3 M355.9,493.5 L381.3,535.1 M360.7,491.8 L384.8,533.9 M365.5,490.3 L388.2,532.8 M370.3,488.8 L391.7,531.7 M375.2,487.4 L395.3,530.7 M380.2,486.2 L398.8,529.8 M385.2,485.0 L402.4,529.0 M390.2,483.9 L406.0,528.2 M395.2,482.9 L409.7,527.5 M400.3,482.0 L413.3,526.8 M405.4,481.2 L417.0,526.2 M410.6,480.5 L420.7,525.7 M415.7,479.8 L424.4,525.2 M420.9,479.3 L428.1,524.9 M426.1,478.9 L431.9,524.6 M431.3,478.5 L435.6,524.3 M436.5,478.3 L439.4,524.1 M441.7,478.1 L443.1,524.0 M446.9,478.1 L446.9,524.0 M452.1,478.1 L450.7,524.0 M457.3,478.3 L454.4,524.1 M462.5,478.5 L458.2,524.3 M467.7,478.9 L461.9,524.6 M472.9,479.3 L465.7,524.9 M478.1,479.8 L469.4,525.2 M483.2,480.5 L473.1,525.7 M488.4,481.2 L476.8,526.2 M493.5,482.0 L480.5,526.8 M498.6,482.9 L484.1,527.5 M503.6,483.9 L487.8,528.2 M508.6,485.0 L491.4,529.0 M513.6,486.2 L495.0,529.8 M518.6,487.4 L498.5,530.7 M523.5,488.8 L502.1,531.7 M528.3,490.3 L505.6,532.8 M533.1,491.8 L509.0,533.9 M537.9,493.5 L512.5,535.1 M542.6,495.2 L515.9,536.3 M547.2,497.0 L519.2,537.6 M551.8,498.9 L522.5,539.0 M556.4,500.9 L525.8,540.4 M560.8,502.9 L529.0,541.9 M565.2,505.1 L532.2,543.5 M569.5,507.3 L535.3,545.1 M573.8,509.6 L538.4,546.7 M578.0,512.0 L541.4,548.4 M582.1,514.4 L544.3,550.2 M586.1,517.0 L547.2,552.0 M590.1,519.6 L550.1,553.9 M593.9,522.2 L552.9,555.9 M597.7,525.0 L555.6,557.8 M601.4,527.8 L558.2,559.9 M605.0,530.7 L560.8,562.0 M608.5,533.7 L563.4,564.1 M611.9,536.7 L565.8,566.3 M615.2,539.7 L568.2,568.5 M618.4,542.9 L570.5,570.7 M621.6,546.1 L572.8,573.1 M624.6,549.3 L575.0,575.4 M627.5,552.6 L577.1,577.8 M630.3,556.0 L579.1,580.2 M633.0,559.4 L581.0,582.7 M635.6,562.9 L582.9,585.2 M638.1,566.4 L584.7,587.7 M640.4,569.9 L586.4,590.3 M642.7,573.5 L588.0,592.9 M644.8,577.1 L589.6,595.5 M646.9,580.8 L591.0,598.1 M648.8,584.5 L592.4,600.8 M650.6,588.3 L593.7,603.5 M652.2,592.0 L594.9,606.2 M653.8,595.8 L596.0,609.0 M655.2,599.7 L597.0,611.7 M656.5,603.5 L598.0,614.5 M657.7,607.4 L598.8,617.3 M658.8,611.3 L599.6,620.1 M659.7,615.2 L600.3,623.0 M660.5,619.2 L600.9,625.8 M661.2,623.1 L601.4,628.7 M661.8,627.1 L601.8,631.5 M662.2,631.1 L602.1,634.4 M662.5,635.0 L602.3,637.3 M662.7,639.0 L602.5,640.1" fill="none" stroke="#000" stroke-opacity="0.42" stroke-width="0.55"/>
<g><polygon points="231.0,643.0 234.3,667.1 244.0,690.4 259.9,712.2 281.5,732.0 308.1,749.1 338.9,762.9 373.1,773.1 409.4,779.4 446.9,781.5 484.4,779.4 520.7,773.1 554.8,762.9 585.7,749.1 612.3,732.0 633.9,712.2 649.8,690.4 659.5,667.1 662.8,643.0" fill="rgb(0,34,91)"/><polygon points="231.7,643.0 234.9,667.0 244.6,690.2 260.5,712.0 282.0,731.7 308.6,748.7 339.3,762.5 373.3,772.7 409.5,778.9 446.9,781.0 484.3,778.9 520.5,772.7 554.5,762.5 585.2,748.7 611.8,731.7 633.3,712.0 649.2,690.2 658.9,667.0 662.1,643.0" fill="rgb(0,42,92)"/><polygon points="232.3,643.0 235.6,666.9 245.3,690.0 261.1,711.8 282.5,731.4 309.0,748.4 339.6,762.1 373.5,772.2 409.6,778.5 446.9,780.5 484.2,778.5 520.3,772.2 554.2,762.1 584.8,748.4 611.3,731.4 632.7,711.8 648.5,690.0 658.2,666.9 661.5,643.0" fill="rgb(0,49,93)"/><polygon points="233.0,643.0 236.3,666.8 245.9,689.9 261.7,711.5 283.1,731.1 309.4,748.0 340.0,761.7 373.7,771.8 409.8,778.0 446.9,780.1 484.0,778.0 520.1,771.8 553.8,761.7 584.4,748.0 610.7,731.1 632.1,711.5 647.9,689.9 657.5,666.8 660.8,643.0" fill="rgb(0,57,94)"/><polygon points="233.7,643.0 236.9,666.7 246.5,689.7 262.2,711.3 283.6,730.8 309.8,747.6 340.3,761.3 374.0,771.4 409.9,777.5 446.9,779.6 483.9,777.5 519.8,771.4 553.5,761.3 584.0,747.6 610.2,730.8 631.6,711.3 647.3,689.7 656.9,666.7 660.1,643.0" fill="rgb(0,65,95)"/><polygon points="234.3,643.0 237.6,666.6 247.2,689.6 262.8,711.1 284.1,730.5 310.3,747.3 340.6,760.9 374.2,770.9 410.0,777.0 446.9,779.1 483.8,777.0 519.6,770.9 553.2,760.9 583.5,747.3 609.7,730.5 631.0,711.1 646.6,689.6 656.2,666.6 659.5,643.0" fill="rgb(0,66,95)"/><polygon points="235.0,643.0 238.2,666.6 247.8,689.4 263.4,710.8 284.6,730.2 310.7,746.9 341.0,760.5 374.4,770.5 410.1,776.6 446.9,778.6 483.7,776.6 519.4,770.5 552.8,760.5 583.1,746.9 609.2,730.2 630.4,710.8 646.0,689.4 655.6,666.6 658.8,643.0" fill="rgb(0,66,95)"/><polygon points="235.7,643.0 238.9,666.5 248.4,689.2 264.0,710.6 285.1,729.9 311.1,746.5 341.3,760.0 374.7,770.0 410.2,776.1 446.9,778.2 483.6,776.1 519.1,770.0 552.5,760.0 582.7,746.5 608.7,729.9 629.8,710.6 645.4,689.2 654.9,666.5 658.1,643.0" fill="rgb(0,67,95)"/><polygon points="236.4,643.0 239.6,666.4 249.1,689.1 264.6,710.3 285.6,729.6 311.6,746.2 341.6,759.6 374.9,769.6 410.3,775.6 446.9,777.7 483.5,775.6 518.9,769.6 552.2,759.6 582.2,746.2 608.2,729.6 629.2,710.3 644.7,689.1 654.2,666.4 657.4,643.0" fill="rgb(0,68,95)"/><polygon points="237.0,643.0 240.2,666.3 249.7,688.9 265.1,710.1 286.1,729.3 312.0,745.8 342.0,759.2 375.1,769.1 410.5,775.2 446.9,777.2 483.3,775.2 518.7,769.1 551.8,759.2 581.8,745.8 607.7,729.3 628.7,710.1 644.1,688.9 653.6,666.3 656.8,643.0" fill="rgb(0,68,95)"/><polygon points="237.7,643.0 240.9,666.2 250.3,688.7 265.7,709.9 286.6,729.0 312.4,745.4 342.3,758.8 375.3,768.7 410.6,774.7 446.9,776.7 483.2,774.7 518.5,768.7 551.5,758.8 581.4,745.4 607.2,729.0 628.1,709.9 643.5,688.7 652.9,666.2 656.1,643.0" fill="rgb(0,69,95)"/><polygon points="238.4,643.0 241.5,666.1 250.9,688.6 266.3,709.6 287.2,728.6 312.9,745.1 342.6,758.4 375.6,768.2 410.7,774.2 446.9,776.2 483.1,774.2 518.2,768.2 551.2,758.4 580.9,745.1 606.6,728.6 627.5,709.6 642.9,688.6 652.3,666.1 655.4,643.0" fill="rgb(0,69,95)"/><polygon points="239.0,643.0 242.2,666.1 251.6,688.4 266.9,709.4 287.7,728.3 313.3,744.7 343.0,758.0 375.8,767.8 410.8,773.7 446.9,775.8 483.0,773.7 518.0,767.8 550.8,758.0 580.5,744.7 606.1,728.3 626.9,709.4 642.2,688.4 651.6,666.1 654.8,643.0" fill="rgb(0,70,95)"/><polygon points="239.7,643.0 242.9,666.0 252.2,688.2 267.5,709.1 288.2,728.0 313.7,744.3 343.3,757.6 376.0,767.3 410.9,773.3 446.9,775.3 482.9,773.3 517.8,767.3 550.5,757.6 580.1,744.3 605.6,728.0 626.3,709.1 641.6,688.2 650.9,666.0 654.1,643.0" fill="rgb(0,71,95)"/><polygon points="240.4,643.0 243.5,665.9 252.8,688.1 268.0,708.9 288.7,727.7 314.2,744.0 343.6,757.2 376.3,766.9 411.0,772.8 446.9,774.8 482.8,772.8 517.5,766.9 550.2,757.2 579.6,744.0 605.1,727.7 625.8,708.9 641.0,688.1 650.3,665.9 653.4,643.0" fill="rgb(0,71,95)"/><polygon points="241.0,643.0 244.2,665.8 253.5,687.9 268.6,708.7 289.2,727.4 314.6,743.6 344.0,756.7 376.5,766.4 411.2,772.3 446.9,774.3 482.6,772.3 517.3,766.4 549.8,756.7 579.2,743.6 604.6,727.4 625.2,708.7 640.3,687.9 649.6,665.8 652.8,643.0" fill="rgb(0,72,95)"/><polygon points="241.7,643.0 244.8,665.7 254.1,687.8 269.2,708.4 289.7,727.1 315.0,743.2 344.3,756.3 376.7,766.0 411.3,771.9 446.9,773.9 482.5,771.9 517.1,766.0 549.5,756.3 578.8,743.2 604.1,727.1 624.6,708.4 639.7,687.8 649.0,665.7 652.1,643.0" fill="rgb(0,73,95)"/><polygon points="242.4,643.0 245.5,665.6 254.7,687.6 269.8,708.2 290.2,726.8 315.4,742.9 344.6,755.9 377.0,765.5 411.4,771.4 446.9,773.4 482.4,771.4 516.8,765.5 549.2,755.9 578.4,742.9 603.6,726.8 624.0,708.2 639.1,687.6 648.3,665.6 651.4,643.0" fill="rgb(0,73,95)"/><polygon points="243.1,643.0 246.2,665.6 255.4,687.4 270.4,708.0 290.7,726.5 315.9,742.5 345.0,755.5 377.2,765.1 411.5,770.9 446.9,772.9 482.3,770.9 516.6,765.1 548.8,755.5 577.9,742.5 603.1,726.5 623.4,708.0 638.4,687.4 647.6,665.6 650.7,643.0" fill="rgb(0,74,95)"/><polygon points="243.7,643.0 246.8,665.5 256.0,687.3 270.9,707.7 291.3,726.2 316.3,742.1 345.3,755.1 377.4,764.6 411.6,770.5 446.9,772.4 482.2,770.5 516.4,764.6 548.5,755.1 577.5,742.1 602.5,726.2 622.9,707.7 637.8,687.3 647.0,665.5 650.1,643.0" fill="rgb(0,75,95)"/><polygon points="244.4,643.0 247.5,665.4 256.6,687.1 271.5,707.5 291.8,725.9 316.7,741.8 345.6,754.7 377.6,764.2 411.7,770.0 446.9,771.9 482.1,770.0 516.2,764.2 548.1,754.7 577.1,741.8 602.0,725.9 622.3,707.5 637.2,687.1 646.3,665.4 649.4,643.0" fill="rgb(0,75,95)"/><polygon points="245.1,643.0 248.1,665.3 257.2,686.9 272.1,707.2 292.3,725.6 317.2,741.4 346.0,754.3 377.9,763.7 411.9,769.5 446.9,771.5 481.9,769.5 515.9,763.7 547.8,754.3 576.6,741.4 601.5,725.6 621.7,707.2 636.6,686.9 645.7,665.3 648.7,643.0" fill="rgb(0,76,95)"/><polygon points="245.7,643.0 248.8,665.2 257.9,686.8 272.7,707.0 292.8,725.3 317.6,741.0 346.3,753.8 378.1,763.3 412.0,769.0 446.9,771.0 481.8,769.0 515.7,763.3 547.5,753.8 576.2,741.0 601.0,725.3 621.1,707.0 635.9,686.8 645.0,665.2 648.1,643.0" fill="rgb(0,76,95)"/><polygon points="246.4,643.0 249.5,665.1 258.5,686.6 273.3,706.8 293.3,725.0 318.0,740.7 346.7,753.4 378.3,762.8 412.1,768.6 446.9,770.5 481.7,768.6 515.5,762.8 547.1,753.4 575.8,740.7 600.5,725.0 620.5,706.8 635.3,686.6 644.3,665.1 647.4,643.0" fill="rgb(0,77,95)"/><polygon points="247.1,643.0 250.1,665.1 259.1,686.4 273.9,706.5 293.8,724.7 318.5,740.3 347.0,753.0 378.6,762.4 412.2,768.1 446.9,770.0 481.6,768.1 515.2,762.4 546.8,753.0 575.3,740.3 600.0,724.7 619.9,706.5 634.7,686.4 643.7,665.1 646.7,643.0" fill="rgb(0,78,95)"/><polygon points="247.7,643.0 250.8,665.0 259.8,686.3 274.4,706.3 294.3,724.3 318.9,739.9 347.3,752.6 378.8,761.9 412.3,767.6 446.9,769.6 481.5,767.6 515.0,761.9 546.5,752.6 574.9,739.9 599.5,724.3 619.4,706.3 634.0,686.3 643.0,665.0 646.0,643.0" fill="rgb(0,78,95)"/><polygon points="248.4,643.0 251.4,664.9 260.4,686.1 275.0,706.0 294.9,724.0 319.3,739.6 347.7,752.2 379.0,761.5 412.4,767.2 446.9,769.1 481.4,767.2 514.8,761.5 546.1,752.2 574.5,739.6 598.9,724.0 618.8,706.0 633.4,686.1 642.4,664.9 645.4,643.0" fill="rgb(0,79,95)"/><polygon points="249.1,643.0 252.1,664.8 261.0,686.0 275.6,705.8 295.4,723.7 319.8,739.2 348.0,751.8 379.2,761.0 412.6,766.7 446.9,768.6 481.2,766.7 514.6,761.0 545.8,751.8 574.0,739.2 598.4,723.7 618.2,705.8 632.8,686.0 641.7,664.8 644.7,643.0" fill="rgb(0,80,95)"/><polygon points="249.8,643.0 252.8,664.7 261.6,685.8 276.2,705.6 295.9,723.4 320.2,738.8 348.3,751.4 379.5,760.6 412.7,766.2 446.9,768.1 481.1,766.2 514.3,760.6 545.5,751.4 573.6,738.8 597.9,723.4 617.6,705.6 632.2,685.8 641.0,664.7 644.0,643.0" fill="rgb(0,80,95)"/><polygon points="250.4,643.0 253.4,664.6 262.3,685.6 276.8,705.3 296.4,723.1 320.6,738.5 348.7,750.9 379.7,760.1 412.8,765.8 446.9,767.6 481.0,765.8 514.1,760.1 545.1,750.9 573.2,738.5 597.4,723.1 617.0,705.3 631.5,685.6 640.4,664.6 643.4,643.0" fill="rgb(0,81,95)"/><polygon points="251.1,643.0 254.1,664.6 262.9,685.5 277.3,705.1 296.9,722.8 321.0,738.1 349.0,750.5 379.9,759.7 412.9,765.3 446.9,767.2 480.9,765.3 513.9,759.7 544.8,750.5 572.8,738.1 596.9,722.8 616.5,705.1 630.9,685.5 639.7,664.6 642.7,643.0" fill="rgb(0,82,95)"/><polygon points="251.8,643.0 254.7,664.5 263.5,685.3 277.9,704.8 297.4,722.5 321.5,737.8 349.3,750.1 380.2,759.2 413.0,764.8 446.9,766.7 480.8,764.8 513.6,759.2 544.5,750.1 572.3,737.8 596.4,722.5 615.9,704.8 630.3,685.3 639.1,664.5 642.0,643.0" fill="rgb(0,82,95)"/><polygon points="252.4,643.0 255.4,664.4 264.2,685.1 278.5,704.6 297.9,722.2 321.9,737.4 349.7,749.7 380.4,758.8 413.1,764.3 446.9,766.2 480.7,764.3 513.4,758.8 544.1,749.7 571.9,737.4 595.9,722.2 615.3,704.6 629.6,685.1 638.4,664.4 641.4,643.0" fill="rgb(0,83,95)"/><polygon points="253.1,643.0 256.1,664.3 264.8,685.0 279.1,704.4 298.4,721.9 322.3,737.0 350.0,749.3 380.6,758.3 413.2,763.9 446.9,765.7 480.6,763.9 513.2,758.3 543.8,749.3 571.5,737.0 595.4,721.9 614.7,704.4 629.0,685.0 637.7,664.3 640.7,643.0" fill="rgb(0,83,95)"/><polygon points="253.8,643.0 256.7,664.2 265.4,684.8 279.7,704.1 299.0,721.6 322.8,736.7 350.3,748.9 380.8,757.9 413.4,763.4 446.9,765.3 480.4,763.4 513.0,757.9 543.5,748.9 571.0,736.7 594.8,721.6 614.1,704.1 628.4,684.8 637.1,664.2 640.0,643.0" fill="rgb(0,84,95)"/><polygon points="254.4,643.0 257.4,664.1 266.1,684.7 280.2,703.9 299.5,721.3 323.2,736.3 350.7,748.5 381.1,757.4 413.5,762.9 446.9,764.8 480.3,762.9 512.7,757.4 543.1,748.5 570.6,736.3 594.3,721.3 613.6,703.9 627.7,684.7 636.4,664.1 639.3,643.0" fill="rgb(0,85,95)"/><polygon points="255.1,643.0 258.0,664.1 266.7,684.5 280.8,703.6 300.0,721.0 323.6,735.9 351.0,748.0 381.3,757.0 413.6,762.5 446.9,764.3 480.2,762.5 512.5,757.0 542.8,748.0 570.2,735.9 593.8,721.0 613.0,703.7 627.1,684.5 635.8,664.1 638.7,643.0" fill="rgb(0,85,95)"/><polygon points="255.8,643.0 258.7,664.0 267.3,684.3 281.4,703.4 300.5,720.7 324.1,735.6 351.3,747.6 381.5,756.5 413.7,762.0 446.9,763.8 480.1,762.0 512.3,756.5 542.5,747.6 569.7,735.6 593.3,720.7 612.4,703.4 626.5,684.3 635.1,664.0 638.0,643.0" fill="rgb(0,86,95)"/><polygon points="256.5,643.0 259.4,663.9 267.9,684.2 282.0,703.2 301.0,720.4 324.5,735.2 351.7,747.2 381.8,756.1 413.8,761.5 446.9,763.3 480.0,761.5 512.0,756.1 542.1,747.2 569.3,735.2 592.8,720.4 611.8,703.2 625.9,684.2 634.4,663.9 637.3,643.0" fill="rgb(0,86,94)"/><polygon points="257.1,643.0 260.0,663.8 268.6,684.0 282.6,702.9 301.5,720.0 324.9,734.8 352.0,746.8 382.0,755.6 413.9,761.0 446.9,762.9 479.9,761.0 511.8,755.6 541.8,746.8 568.9,734.8 592.3,720.0 611.2,702.9 625.2,684.0 633.8,663.8 636.7,643.0" fill="rgb(0,86,94)"/><polygon points="257.8,643.0 260.7,663.7 269.2,683.8 283.1,702.7 302.0,719.7 325.3,734.5 352.3,746.4 382.2,755.2 414.1,760.6 446.9,762.4 479.7,760.6 511.6,755.2 541.4,746.4 568.5,734.5 591.8,719.7 610.7,702.7 624.6,683.8 633.1,663.7 636.0,643.0" fill="rgb(0,87,94)"/><polygon points="258.5,643.0 261.3,663.6 269.8,683.7 283.7,702.5 302.6,719.4 325.8,734.1 352.7,746.0 382.5,754.7 414.2,760.1 446.9,761.9 479.6,760.1 511.3,754.7 541.1,746.0 568.0,734.1 591.2,719.4 610.1,702.5 624.0,683.7 632.5,663.6 635.3,643.0" fill="rgb(0,87,93)"/><polygon points="259.1,643.0 262.0,663.6 270.5,683.5 284.3,702.2 303.1,719.1 326.2,733.7 353.0,745.6 382.7,754.3 414.3,759.6 446.9,761.4 479.5,759.6 511.1,754.3 540.8,745.6 567.6,733.7 590.7,719.1 609.5,702.2 623.3,683.5 631.8,663.6 634.7,643.0" fill="rgb(0,88,93)"/><polygon points="259.8,643.0 262.7,663.5 271.1,683.3 284.9,702.0 303.6,718.8 326.6,733.4 353.4,745.2 382.9,753.8 414.4,759.2 446.9,761.0 479.4,759.2 510.9,753.8 540.4,745.2 567.2,733.4 590.2,718.8 608.9,702.0 622.7,683.3 631.1,663.5 634.0,643.0" fill="rgb(0,88,93)"/><polygon points="260.5,643.0 263.3,663.4 271.7,683.2 285.5,701.7 304.1,718.5 327.1,733.0 353.7,744.7 383.1,753.4 414.5,758.7 446.9,760.5 479.3,758.7 510.7,753.4 540.1,744.7 566.7,733.0 589.7,718.5 608.3,701.7 622.1,683.2 630.5,663.4 633.3,643.0" fill="rgb(0,88,93)"/><polygon points="261.1,643.0 264.0,663.3 272.4,683.0 286.0,701.5 304.6,718.2 327.5,732.6 354.0,744.3 383.4,752.9 414.6,758.2 446.9,760.0 479.2,758.2 510.4,752.9 539.8,744.3 566.3,732.6 589.2,718.2 607.8,701.5 621.4,683.0 629.8,663.3 632.6,643.0" fill="rgb(0,89,92)"/><polygon points="261.8,643.0 264.6,663.2 273.0,682.9 286.6,701.3 305.1,717.9 327.9,732.3 354.4,743.9 383.6,752.5 414.8,757.8 446.9,759.5 479.0,757.8 510.2,752.5 539.4,743.9 565.9,732.3 588.7,717.9 607.2,701.3 620.8,682.9 629.2,663.2 632.0,643.0" fill="rgb(0,89,92)"/><polygon points="262.5,643.0 265.3,663.2 273.6,682.7 287.2,701.0 305.6,717.6 328.4,731.9 354.7,743.5 383.8,752.0 414.9,757.3 446.9,759.0 478.9,757.3 510.0,752.0 539.1,743.5 565.4,731.9 588.2,717.6 606.6,701.0 620.2,682.7 628.5,663.2 631.3,643.0" fill="rgb(0,89,92)"/><polygon points="263.2,643.0 266.0,663.1 274.2,682.5 287.8,700.8 306.1,717.3 328.8,731.5 355.0,743.1 384.1,751.6 415.0,756.8 446.9,758.6 478.8,756.8 509.7,751.6 538.8,743.1 565.0,731.5 587.7,717.3 606.0,700.8 619.6,682.5 627.8,663.1 630.6,643.0" fill="rgb(0,90,92)"/><polygon points="263.8,643.0 266.6,663.0 274.9,682.4 288.4,700.5 306.7,717.0 329.2,731.2 355.4,742.7 384.3,751.1 415.1,756.3 446.9,758.1 478.7,756.3 509.5,751.1 538.4,742.7 564.6,731.2 587.1,717.0 605.4,700.5 618.9,682.4 627.2,663.0 630.0,643.0" fill="rgb(0,90,91)"/><polygon points="264.5,643.0 267.3,662.9 275.5,682.2 288.9,700.3 307.2,716.7 329.7,730.8 355.7,742.3 384.5,750.7 415.2,755.9 446.9,757.6 478.6,755.9 509.3,750.7 538.1,742.3 564.1,730.8 586.6,716.7 604.9,700.3 618.3,682.2 626.5,662.9 629.3,643.0" fill="rgb(0,91,91)"/><polygon points="265.2,643.0 267.9,662.8 276.1,682.0 289.5,700.1 307.7,716.4 330.1,730.4 356.0,741.8 384.7,750.3 415.3,755.4 446.9,757.1 478.5,755.4 509.1,750.3 537.8,741.8 563.7,730.4 586.1,716.4 604.3,700.1 617.7,682.0 625.9,662.8 628.6,643.0" fill="rgb(0,91,91)"/><polygon points="265.8,643.0 268.6,662.7 276.8,681.9 290.1,699.8 308.2,716.1 330.5,730.1 356.4,741.4 385.0,749.8 415.5,754.9 446.9,756.7 478.3,754.9 508.8,749.8 537.4,741.4 563.3,730.1 585.6,716.1 603.7,699.8 617.0,681.9 625.2,662.7 628.0,643.0" fill="rgb(0,91,90)"/><polygon points="266.5,643.0 269.3,662.7 277.4,681.7 290.7,699.6 308.7,715.7 330.9,729.7 356.7,741.0 385.2,749.4 415.6,754.5 446.9,756.2 478.2,754.5 508.6,749.4 537.1,741.0 562.9,729.7 585.1,715.7 603.1,699.6 616.4,681.7 624.5,662.7 627.3,643.0" fill="rgb(0,92,90)"/><polygon points="267.2,643.0 269.9,662.6 278.0,681.5 291.3,699.4 309.2,715.4 331.4,729.3 357.0,740.6 385.4,748.9 415.7,754.0 446.9,755.7 478.1,754.0 508.4,748.9 536.8,740.6 562.4,729.3 584.6,715.4 602.5,699.4 615.8,681.5 623.9,662.6 626.6,643.0" fill="rgb(0,91,80)"/><polygon points="267.8,643.0 270.6,662.5 278.6,681.4 291.8,699.1 309.7,715.1 331.8,729.0 357.4,740.2 385.7,748.5 415.8,753.5 446.9,755.2 478.0,753.5 508.1,748.5 536.4,740.2 562.0,729.0 584.1,715.1 602.0,699.1 615.2,681.4 623.2,662.5 626.0,643.0" fill="rgb(0,90,59)"/><polygon points="268.5,643.0 271.2,662.4 279.3,681.2 292.4,698.9 310.3,714.8 332.2,728.6 357.7,739.8 385.9,748.0 415.9,753.0 446.9,754.7 477.9,753.0 507.9,748.0 536.1,739.8 561.6,728.6 583.5,714.8 601.4,698.9 614.5,681.2 622.6,662.4 625.3,643.0" fill="rgb(0,88,39)"/><polygon points="269.2,643.0 271.9,662.3 279.9,681.1 293.0,698.6 310.8,714.5 332.7,728.2 358.0,739.4 386.1,747.6 416.0,752.6 446.9,754.3 477.8,752.6 507.7,747.6 535.8,739.4 561.1,728.2 583.0,714.5 600.8,698.6 613.9,681.1 621.9,662.3 624.6,643.0" fill="rgb(0,88,34)"/><polygon points="269.9,643.0 272.5,662.2 280.5,680.9 293.6,698.4 311.3,714.2 333.1,727.9 358.4,738.9 386.3,747.1 416.2,752.1 446.9,753.8 477.6,752.1 507.5,747.1 535.4,738.9 560.7,727.9 582.5,714.2 600.2,698.4 613.3,680.9 621.3,662.2 623.9,643.0" fill="rgb(0,88,33)"/><polygon points="270.5,643.0 273.2,662.2 281.2,680.7 294.2,698.2 311.8,713.9 333.5,727.5 358.7,738.5 386.6,746.7 416.3,751.6 446.9,753.3 477.5,751.6 507.2,746.7 535.1,738.5 560.3,727.5 582.0,713.9 599.6,698.2 612.6,680.7 620.6,662.2 623.3,643.0" fill="rgb(0,88,32)"/><polygon points="271.2,643.0 273.9,662.1 281.8,680.6 294.7,697.9 312.3,713.6 334.0,727.1 359.0,738.1 386.8,746.2 416.4,751.2 446.9,752.8 477.4,751.2 507.0,746.2 534.7,738.1 559.8,727.1 581.5,713.6 599.1,697.9 612.0,680.6 619.9,662.1 622.6,643.0" fill="rgb(0,88,30)"/><polygon points="271.9,643.0 274.5,662.0 282.4,680.4 295.3,697.7 312.8,713.3 334.4,726.8 359.4,737.7 387.0,745.8 416.5,750.7 446.9,752.4 477.3,750.7 506.8,745.8 534.4,737.7 559.4,726.8 581.0,713.3 598.5,697.7 611.4,680.4 619.3,662.0 621.9,643.0" fill="rgb(0,88,29)"/><polygon points="272.5,643.0 275.2,661.9 283.1,680.2 295.9,697.4 313.3,713.0 334.8,726.4 359.7,737.3 387.3,745.3 416.6,750.2 446.9,751.9 477.2,750.2 506.5,745.3 534.1,737.3 559.0,726.4 580.5,713.0 597.9,697.4 610.7,680.2 618.6,661.9 621.3,643.0" fill="rgb(0,88,28)"/><polygon points="273.2,643.0 275.8,661.8 283.7,680.1 296.5,697.2 313.8,712.7 335.3,726.0 360.1,736.9 387.5,744.9 416.7,749.8 446.9,751.4 477.1,749.8 506.3,744.9 533.7,736.9 558.5,726.0 580.0,712.7 597.3,697.2 610.1,680.1 618.0,661.8 620.6,643.0" fill="rgb(0,88,27)"/><polygon points="273.9,643.0 276.5,661.7 284.3,679.9 297.1,697.0 314.4,712.4 335.7,725.7 360.4,736.5 387.7,744.4 416.9,749.3 446.9,750.9 476.9,749.3 506.1,744.4 533.4,736.5 558.1,725.7 579.4,712.4 596.7,697.0 609.5,679.9 617.3,661.7 619.9,643.0" fill="rgb(0,88,25)"/><polygon points="274.5,643.0 277.2,661.7 284.9,679.7 297.6,696.7 314.9,712.1 336.1,725.3 360.7,736.0 388.0,744.0 417.0,748.8 446.9,750.4 476.8,748.8 505.8,744.0 533.1,736.0 557.7,725.3 578.9,712.1 596.2,696.7 608.9,679.7 616.6,661.7 619.2,643.0" fill="rgb(14,89,21)"/><polygon points="275.2,643.0 277.8,661.6 285.6,679.6 298.2,696.5 315.4,711.8 336.5,724.9 361.1,735.6 388.2,743.5 417.1,748.3 446.9,750.0 476.7,748.3 505.6,743.5 532.7,735.6 557.3,724.9 578.4,711.8 595.6,696.5 608.2,679.6 616.0,661.6 618.6,643.0" fill="rgb(33,91,16)"/><polygon points="275.9,643.0 278.5,661.5 286.2,679.4 298.8,696.2 315.9,711.4 337.0,724.6 361.4,735.2 388.4,743.1 417.2,747.9 446.9,749.5 476.6,747.9 505.4,743.1 532.4,735.2 556.8,724.6 577.9,711.4 595.0,696.2 607.6,679.4 615.3,661.5 617.9,643.0" fill="rgb(52,93,10)"/><polygon points="276.6,643.0 279.1,661.4 286.8,679.3 299.4,696.0 316.4,711.1 337.4,724.2 361.7,734.8 388.6,742.6 417.3,747.4 446.9,749.0 476.5,747.4 505.2,742.6 532.1,734.8 556.4,724.2 577.4,711.1 594.4,696.0 607.0,679.3 614.7,661.4 617.2,643.0" fill="rgb(70,95,5)"/><polygon points="277.2,643.0 279.8,661.3 287.5,679.1 300.0,695.8 316.9,710.8 337.8,723.8 362.1,734.4 388.9,742.2 417.4,746.9 446.9,748.5 476.4,746.9 504.9,742.2 531.7,734.4 556.0,723.8 576.9,710.8 593.8,695.8 606.3,679.1 614.0,661.3 616.6,643.0" fill="rgb(72,95,5)"/><polygon points="277.9,643.0 280.5,661.2 288.1,678.9 300.5,695.5 317.4,710.5 338.3,723.5 362.4,734.0 389.1,741.7 417.6,746.5 446.9,748.1 476.2,746.5 504.7,741.7 531.4,734.0 555.5,723.5 576.4,710.5 593.3,695.5 605.7,678.9 613.3,661.2 615.9,643.0" fill="rgb(74,95,4)"/><polygon points="278.6,643.0 281.1,661.2 288.7,678.8 301.1,695.3 318.0,710.2 338.7,723.1 362.7,733.6 389.3,741.3 417.7,746.0 446.9,747.6 476.1,746.0 504.5,741.3 531.1,733.6 555.1,723.1 575.8,710.2 592.7,695.3 605.1,678.8 612.7,661.2 615.2,643.0" fill="rgb(75,95,4)"/><polygon points="279.2,643.0 281.8,661.1 289.4,678.6 301.7,695.0 318.5,709.9 339.1,722.7 363.1,733.2 389.6,740.8 417.8,745.5 446.9,747.1 476.0,745.5 504.2,740.8 530.7,733.2 554.7,722.7 575.3,709.9 592.1,695.1 604.4,678.6 612.0,661.1 614.6,643.0" fill="rgb(77,95,4)"/><polygon points="279.9,643.0 282.4,661.0 290.0,678.4 302.3,694.8 319.0,709.6 339.6,722.4 363.4,732.7 389.8,740.4 417.9,745.0 446.9,746.6 475.9,745.0 504.0,740.4 530.4,732.7 554.2,722.4 574.8,709.6 591.5,694.8 603.8,678.4 611.4,661.0 613.9,643.0" fill="rgb(79,95,3)"/><polygon points="280.6,643.0 283.1,660.9 290.6,678.3 302.9,694.6 319.5,709.3 340.0,722.0 363.7,732.3 390.0,739.9 418.0,744.6 446.9,746.1 475.8,744.6 503.8,739.9 530.1,732.3 553.8,722.0 574.3,709.3 590.9,694.6 603.2,678.3 610.7,660.9 613.2,643.0" fill="rgb(81,95,3)"/><polygon points="281.2,643.0 283.8,660.8 291.2,678.1 303.4,694.3 320.0,709.0 340.4,721.6 364.1,731.9 390.2,739.5 418.1,744.1 446.9,745.7 475.7,744.1 503.6,739.5 529.7,731.9 553.4,721.6 573.8,709.0 590.4,694.3 602.6,678.1 610.0,660.8 612.5,643.0" fill="rgb(82,95,3)"/><polygon points="281.9,643.0 284.4,660.7 291.9,678.0 304.0,694.1 320.5,708.7 340.9,721.3 364.4,731.5 390.5,739.0 418.3,743.6 446.9,745.2 475.5,743.6 503.3,739.0 529.4,731.5 552.9,721.3 573.3,708.7 589.8,694.1 601.9,678.0 609.4,660.7 611.9,643.0" fill="rgb(84,95,2)"/><polygon points="282.6,643.0 285.1,660.7 292.5,677.8 304.6,693.9 321.0,708.4 341.3,720.9 364.7,731.1 390.7,738.6 418.4,743.2 446.9,744.7 475.4,743.2 503.1,738.6 529.1,731.1 552.5,720.9 572.8,708.4 589.2,693.9 601.3,677.8 608.7,660.7 611.2,643.0" fill="rgb(86,95,2)"/><polygon points="283.3,643.0 285.7,660.6 293.1,677.6 305.2,693.6 321.5,708.1 341.7,720.5 365.1,730.7 390.9,738.1 418.5,742.7 446.9,744.2 475.3,742.7 502.9,738.1 528.7,730.7 552.1,720.5 572.3,708.1 588.6,693.6 600.7,677.6 608.1,660.6 610.5,643.0" fill="rgb(88,95,1)"/><polygon points="283.9,643.0 286.4,660.5 293.8,677.5 305.8,693.4 322.1,707.8 342.1,720.2 365.4,730.3 391.2,737.7 418.6,742.2 446.9,743.8 475.2,742.2 502.6,737.7 528.4,730.3 551.7,720.2 571.7,707.8 588.0,693.4 600.0,677.5 607.4,660.5 609.9,643.0" fill="rgb(89,95,1)"/><polygon points="284.6,643.0 287.1,660.4 294.4,677.3 306.3,693.1 322.6,707.5 342.6,719.8 365.7,729.8 391.4,737.2 418.7,741.8 446.9,743.3 475.1,741.8 502.4,737.2 528.0,729.8 551.2,719.8 571.2,707.5 587.5,693.1 599.4,677.3 606.7,660.4 609.2,643.0" fill="rgb(91,95,1)"/><polygon points="285.3,643.0 287.7,660.3 295.0,677.1 306.9,692.9 323.1,707.2 343.0,719.5 366.1,729.4 391.6,736.8 418.8,741.3 446.9,742.8 475.0,741.3 502.2,736.8 527.7,729.4 550.8,719.5 570.7,707.2 586.9,692.9 598.8,677.1 606.1,660.3 608.5,643.0" fill="rgb(93,95,0)"/><polygon points="285.9,643.0 288.4,660.2 295.6,677.0 307.5,692.7 323.6,706.8 343.4,719.1 366.4,729.0 391.8,736.3 418.9,740.8 446.9,742.3 474.9,740.8 502.0,736.3 527.4,729.0 550.4,719.1 570.2,706.8 586.3,692.7 598.2,677.0 605.4,660.2 607.9,643.0" fill="rgb(94,95,0)"/><polygon points="286.6,643.0 289.0,660.2 296.3,676.8 308.1,692.4 324.1,706.5 343.9,718.7 366.8,728.6 392.1,735.9 419.1,740.3 446.9,741.8 474.7,740.3 501.7,735.9 527.0,728.6 549.9,718.7 569.7,706.5 585.7,692.4 597.5,676.8 604.8,660.2 607.2,643.0" fill="rgb(113,81,0)"/><polygon points="287.3,643.0 289.7,660.1 296.9,676.6 308.7,692.2 324.6,706.2 344.3,718.4 367.1,728.2 392.3,735.4 419.2,739.9 446.9,741.4 474.6,739.9 501.5,735.4 526.7,728.2 549.5,718.4 569.2,706.2 585.1,692.2 596.9,676.6 604.1,660.1 606.5,643.0" fill="rgb(138,62,0)"/><polygon points="287.9,643.0 290.4,660.0 297.5,676.5 309.2,691.9 325.1,705.9 344.7,718.0 367.4,727.8 392.5,735.0 419.3,739.4 446.9,740.9 474.5,739.4 501.3,735.0 526.4,727.8 549.1,718.0 568.7,705.9 584.6,691.9 596.3,676.5 603.4,660.0 605.8,643.0" fill="rgb(157,27,0)"/><polygon points="288.6,643.0 291.0,659.9 298.2,676.3 309.8,691.7 325.7,705.6 345.2,717.6 367.8,727.4 392.8,734.5 419.4,738.9 446.9,740.4 474.4,738.9 501.0,734.5 526.0,727.4 548.6,717.6 568.1,705.6 584.0,691.7 595.6,676.3 602.8,659.9 605.2,643.0" fill="rgb(165,10,0)"/><polygon points="289.3,643.0 291.7,659.8 298.8,676.2 310.4,691.5 326.2,705.3 345.6,717.3 368.1,726.9 393.0,734.1 419.5,738.5 446.9,739.9 474.3,738.5 500.8,734.1 525.7,726.9 548.2,717.3 567.6,705.3 583.4,691.5 595.0,676.2 602.1,659.8 604.5,643.0" fill="rgb(165,10,0)"/><polygon points="290.0,643.0 292.3,659.7 299.4,676.0 311.0,691.2 326.7,705.0 346.0,716.9 368.4,726.5 393.2,733.6 419.6,738.0 446.9,739.5 474.2,738.0 500.6,733.6 525.4,726.5 547.8,716.9 567.1,705.0 582.8,691.2 594.4,676.0 601.5,659.7 603.8,643.0" fill="rgb(165,10,0)"/><polygon points="290.6,643.0 293.0,659.7 300.1,675.8 311.6,691.0 327.2,704.7 346.5,716.5 368.8,726.1 393.5,733.2 419.8,737.5 446.9,739.0 474.0,737.5 500.3,733.2 525.0,726.1 547.3,716.5 566.6,704.7 582.2,691.0 593.7,675.8 600.8,659.7 603.2,643.0" fill="rgb(187,79,0)"/></g>
<path d="M235.3,643.0 L238.5,666.5 L248.1,689.3 L263.7,710.7 L284.8,730.1 L310.9,746.7 L341.1,760.3 L374.5,770.3 L410.2,776.4 L446.9,778.4 L483.6,776.4 L519.3,770.3 L552.7,760.3 L582.9,746.7 L609.0,730.1 L630.1,710.7 L645.7,689.3 L655.3,666.5 L658.5,643.0 M239.6,643.0 L242.8,666.0 L252.1,688.3 L267.4,709.2 L288.1,728.1 L313.7,744.4 L343.3,757.6 L376.0,767.4 L410.9,773.3 L446.9,775.4 L482.9,773.3 L517.8,767.4 L550.5,757.6 L580.1,744.4 L605.7,728.1 L626.4,709.2 L641.7,688.3 L651.0,666.0 L654.2,643.0 M243.9,643.0 L247.0,665.5 L256.2,687.2 L271.1,707.6 L291.4,726.1 L316.4,742.0 L345.4,755.0 L377.5,764.5 L411.7,770.3 L446.9,772.3 L482.1,770.3 L516.3,764.5 L548.4,755.0 L577.4,742.0 L602.4,726.1 L622.7,707.6 L637.6,687.2 L646.8,665.5 L649.9,643.0 M248.2,643.0 L251.2,664.9 L260.2,686.2 L274.8,706.1 L294.7,724.1 L319.2,739.7 L347.6,752.3 L379.0,761.6 L412.4,767.3 L446.9,769.2 L481.4,767.3 L514.8,761.6 L546.2,752.3 L574.6,739.7 L599.1,724.1 L619.0,706.1 L633.6,686.2 L642.6,664.9 L645.6,643.0 M252.5,643.0 L255.5,664.4 L264.3,685.1 L278.6,704.6 L298.0,722.2 L322.0,737.3 L349.7,749.6 L380.4,758.7 L413.1,764.3 L446.9,766.1 L480.7,764.3 L513.4,758.7 L544.1,749.6 L571.8,737.3 L595.8,722.2 L615.2,704.6 L629.5,685.1 L638.3,664.4 L641.3,643.0 M256.8,643.0 L259.7,663.9 L268.3,684.1 L282.3,703.0 L301.3,720.2 L324.7,735.0 L351.9,747.0 L381.9,755.8 L413.9,761.2 L446.9,763.1 L479.9,761.2 L511.9,755.8 L541.9,747.0 L569.1,735.0 L592.5,720.2 L611.5,703.0 L625.5,684.1 L634.1,663.9 L637.0,643.0 M261.1,643.0 L264.0,663.3 L272.4,683.0 L286.0,701.5 L304.6,718.2 L327.5,732.6 L354.0,744.3 L383.4,752.9 L414.6,758.2 L446.9,760.0 L479.2,758.2 L510.4,752.9 L539.8,744.3 L566.3,732.6 L589.2,718.2 L607.8,701.5 L621.4,683.0 L629.8,663.3 L632.6,643.0 M265.5,643.0 L268.2,662.8 L276.4,682.0 L289.8,700.0 L307.9,716.2 L330.3,730.3 L356.2,741.7 L384.8,750.1 L415.4,755.2 L446.9,756.9 L478.4,755.2 L509.0,750.1 L537.6,741.7 L563.5,730.3 L585.9,716.2 L604.0,700.0 L617.4,682.0 L625.6,662.8 L628.3,643.0 M269.8,643.0 L272.5,662.3 L280.4,680.9 L293.5,698.4 L311.2,714.3 L333.0,727.9 L358.3,739.0 L386.3,747.2 L416.1,752.2 L446.9,753.9 L477.7,752.2 L507.5,747.2 L535.5,739.0 L560.8,727.9 L582.6,714.3 L600.3,698.4 L613.4,680.9 L621.3,662.3 L624.0,643.0 M274.1,643.0 L276.7,661.7 L284.5,679.9 L297.2,696.9 L314.5,712.3 L335.8,725.6 L360.5,736.3 L387.8,744.3 L416.9,749.1 L446.9,750.8 L476.9,749.1 L506.0,744.3 L533.3,736.3 L558.0,725.6 L579.3,712.3 L596.6,696.9 L609.3,679.9 L617.1,661.7 L619.7,643.0 M278.4,643.0 L280.9,661.2 L288.5,678.8 L301.0,695.4 L317.8,710.3 L338.6,723.2 L362.6,733.7 L389.3,741.4 L417.6,746.1 L446.9,747.7 L476.2,746.1 L504.5,741.4 L531.2,733.7 L555.2,723.2 L576.0,710.3 L592.8,695.4 L605.3,678.8 L612.9,661.2 L615.4,643.0 M282.7,643.0 L285.2,660.7 L292.6,677.8 L304.7,693.8 L321.1,708.3 L341.3,720.9 L364.8,731.0 L390.7,738.5 L418.4,743.1 L446.9,744.6 L475.4,743.1 L503.1,738.5 L529.0,731.0 L552.5,720.9 L572.7,708.3 L589.1,693.8 L601.2,677.8 L608.6,660.7 L611.1,643.0 M287.0,643.0 L289.4,660.1 L296.6,676.7 L308.4,692.3 L324.4,706.4 L344.1,718.5 L366.9,728.4 L392.2,735.6 L419.1,740.1 L446.9,741.6 L474.7,740.1 L501.6,735.6 L526.9,728.4 L549.7,718.5 L569.4,706.4 L585.4,692.3 L597.2,676.7 L604.4,660.1 L606.8,643.0 M234.3,667.1 L293.7,659.6 M244.0,690.4 L300.7,675.7 M259.9,712.2 L312.1,690.8 M281.5,732.0 L327.7,704.4 M308.1,749.1 L346.9,716.2 M338.9,762.9 L369.1,725.7 M373.1,773.1 L393.7,732.7 M409.4,779.4 L419.9,737.0 M446.9,781.5 L446.9,738.5 M484.4,779.4 L473.9,737.0 M520.7,773.1 L500.1,732.7 M554.8,762.9 L524.7,725.7 M585.7,749.1 L546.9,716.2 M612.3,732.0 L566.1,704.4 M633.9,712.2 L581.7,690.8 M649.8,690.4 L593.1,675.7 M659.5,667.1 L600.1,659.6" fill="none" stroke="#000" stroke-opacity="0.30" stroke-width="0.60"/>
<defs><linearGradient id="d67" gradientUnits="userSpaceOnUse" x1="291.3" y1="0" x2="602.5" y2="0"><stop offset="0.0002" stop-color="rgb(206,206,0)"/><stop offset="0.0098" stop-color="rgb(215,215,0)"/><stop offset="0.0382" stop-color="rgb(215,215,0)"/><stop offset="0.0844" stop-color="rgb(215,215,0)"/><stop offset="0.1466" stop-color="rgb(215,215,0)"/><stop offset="0.2223" stop-color="rgb(215,215,0)"/><stop offset="0.3087" stop-color="rgb(215,215,0)"/><stop offset="0.4025" stop-color="rgb(215,215,0)"/><stop offset="0.5000" stop-color="rgb(215,215,0)"/><stop offset="0.5975" stop-color="rgb(215,215,0)"/><stop offset="0.6913" stop-color="rgb(203,203,0)"/><stop offset="0.7777" stop-color="rgb(188,188,0)"/><stop offset="0.8534" stop-color="rgb(171,171,0)"/><stop offset="0.9156" stop-color="rgb(153,153,0)"/><stop offset="0.9618" stop-color="rgb(136,136,0)"/><stop offset="0.9902" stop-color="rgb(120,120,0)"/><stop offset="0.9998" stop-color="rgb(104,104,0)"/></linearGradient><linearGradient id="d68" gradientUnits="userSpaceOnUse" x1="291.3" y1="0" x2="602.5" y2="0"><stop offset="0.0014" stop-color="rgb(202,202,0)"/><stop offset="0.0109" stop-color="rgb(215,215,0)"/><stop offset="0.0393" stop-color="rgb(215,215,0)"/><stop offset="0.0854" stop-color="rgb(215,215,0)"/><stop offset="0.1474" stop-color="rgb(215,215,0)"/><stop offset="0.2230" stop-color="rgb(215,215,0)"/><stop offset="0.3092" stop-color="rgb(215,215,0)"/><stop offset="0.4027" stop-color="rgb(215,215,0)"/><stop offset="0.5000" stop-color="rgb(215,215,0)"/><stop offset="0.5973" stop-color="rgb(213,213,0)"/><stop offset="0.6908" stop-color="rgb(199,199,0)"/><stop offset="0.7770" stop-color="rgb(184,184,0)"/><stop offset="0.8526" stop-color="rgb(167,167,0)"/><stop offset="0.9146" stop-color="rgb(150,150,0)"/><stop offset="0.9607" stop-color="rgb(132,132,0)"/><stop offset="0.9891" stop-color="rgb(116,116,0)"/><stop offset="0.9986" stop-color="rgb(101,101,0)"/></linearGradient><linearGradient id="d69" gradientUnits="userSpaceOnUse" x1="291.3" y1="0" x2="602.5" y2="0"><stop offset="0.0038" stop-color="rgb(138,195,0)"/><stop offset="0.0133" stop-color="rgb(147,208,0)"/><stop offset="0.0415" stop-color="rgb(150,212,0)"/><stop offset="0.0874" stop-color="rgb(150,212,0)"/><stop offset="0.1491" stop-color="rgb(150,212,0)"/><stop offset="0.2243" stop-color="rgb(150,212,0)"/><stop offset="0.3101" stop-color="rgb(150,212,0)"/><stop offset="0.4032" stop-color="rgb(150,212,0)"/><stop offset="0.5000" stop-color="rgb(150,212,0)"/><stop offset="0.5968" stop-color="rgb(146,206,0)"/><stop offset="0.6899" stop-color="rgb(136,192,0)"/><stop offset="0.7757" stop-color="rgb(125,177,0)"/><stop offset="0.8509" stop-color="rgb(114,161,0)"/><stop offset="0.9126" stop-color="rgb(102,144,0)"/><stop offset="0.9585" stop-color="rgb(90,127,0)"/><stop offset="0.9867" stop-color="rgb(78,111,0)"/><stop offset="0.9962" stop-color="rgb(68,96,0)"/></linearGradient><linearGradient id="d70" gradientUnits="userSpaceOnUse" x1="291.3" y1="0" x2="602.5" y2="0"><stop offset="0.0074" stop-color="rgb(135,191,0)"/><stop offset="0.0168" stop-color="rgb(144,204,0)"/><stop offset="0.0449" stop-color="rgb(150,212,0)"/><stop offset="0.0904" stop-color="rgb(150,212,0)"/><stop offset="0.1517" stop-color="rgb(150,212,0)"/><stop offset="0.2263" stop-color="rgb(150,212,0)"/><stop offset="0.3115" stop-color="rgb(150,212,0)"/><stop offset="0.4039" stop-color="rgb(150,212,0)"/><stop offset="0.5000" stop-color="rgb(150,212,0)"/><stop offset="0.5961" stop-color="rgb(143,202,0)"/><stop offset="0.6885" stop-color="rgb(133,188,0)"/><stop offset="0.7737" stop-color="rgb(123,173,0)"/><stop offset="0.8483" stop-color="rgb(111,157,0)"/><stop offset="0.9096" stop-color="rgb(99,140,0)"/><stop offset="0.9551" stop-color="rgb(87,123,0)"/><stop offset="0.9832" stop-color="rgb(76,107,0)"/><stop offset="0.9926" stop-color="rgb(65,92,0)"/></linearGradient><linearGradient id="d71" gradientUnits="userSpaceOnUse" x1="291.3" y1="0" x2="602.5" y2="0"><stop offset="0.0121" stop-color="rgb(132,187,0)"/><stop offset="0.0215" stop-color="rgb(141,200,0)"/><stop offset="0.0493" stop-color="rgb(149,210,0)"/><stop offset="0.0944" stop-color="rgb(150,212,0)"/><stop offset="0.1550" stop-color="rgb(150,212,0)"/><stop offset="0.2290" stop-color="rgb(150,212,0)"/><stop offset="0.3133" stop-color="rgb(150,212,0)"/><stop offset="0.4048" stop-color="rgb(150,212,0)"/><stop offset="0.5000" stop-color="rgb(147,208,0)"/><stop offset="0.5952" stop-color="rgb(140,197,0)"/><stop offset="0.6867" stop-color="rgb(130,184,0)"/><stop offset="0.7710" stop-color="rgb(120,169,0)"/><stop offset="0.8450" stop-color="rgb(108,153,0)"/><stop offset="0.9056" stop-color="rgb(97,136,0)"/><stop offset="0.9507" stop-color="rgb(85,120,0)"/><stop offset="0.9785" stop-color="rgb(73,104,0)"/><stop offset="0.9879" stop-color="rgb(63,89,0)"/></linearGradient><linearGradient id="d72" gradientUnits="userSpaceOnUse" x1="291.3" y1="0" x2="602.5" y2="0"><stop offset="0.0181" stop-color="rgb(129,182,0)"/><stop offset="0.0274" stop-color="rgb(138,195,0)"/><stop offset="0.0548" stop-color="rgb(145,205,0)"/><stop offset="0.0993" stop-color="rgb(150,212,0)"/><stop offset="0.1593" stop-color="rgb(150,212,0)"/><stop offset="0.2323" stop-color="rgb(150,212,0)"/><stop offset="0.3156" stop-color="rgb(150,212,0)"/><stop offset="0.4060" stop-color="rgb(150,212,0)"/><stop offset="0.5000" stop-color="rgb(144,204,0)"/><stop offset="0.5940" stop-color="rgb(137,193,0)"/><stop offset="0.6844" stop-color="rgb(127,180,0)"/><stop offset="0.7677" stop-color="rgb(117,165,0)"/><stop offset="0.8407" stop-color="rgb(106,149,0)"/><stop offset="0.9007" stop-color="rgb(94,133,0)"/><stop offset="0.9452" stop-color="rgb(82,116,0)"/><stop offset="0.9726" stop-color="rgb(71,101,0)"/><stop offset="0.9819" stop-color="rgb(61,86,0)"/></linearGradient><linearGradient id="d73" gradientUnits="userSpaceOnUse" x1="291.3" y1="0" x2="602.5" y2="0"><stop offset="0.0252" stop-color="rgb(126,178,0)"/><stop offset="0.0344" stop-color="rgb(135,191,0)"/><stop offset="0.0614" stop-color="rgb(142,201,0)"/><stop offset="0.1052" stop-color="rgb(147,208,0)"/><stop offset="0.1643" stop-color="rgb(150,212,0)"/><stop offset="0.2362" stop-color="rgb(150,212,0)"/><stop offset="0.3183" stop-color="rgb(150,212,0)"/><stop offset="0.4074" stop-color="rgb(147,207,0)"/><stop offset="0.5000" stop-color="rgb(141,199,0)"/><stop offset="0.5926" stop-color="rgb(133,189,0)"/><stop offset="0.6817" stop-color="rgb(124,176,0)"/><stop offset="0.7638" stop-color="rgb(114,161,0)"/><stop offset="0.8357" stop-color="rgb(103,146,0)"/><stop offset="0.8948" stop-color="rgb(91,129,0)"/><stop offset="0.9386" stop-color="rgb(80,113,0)"/><stop offset="0.9656" stop-color="rgb(69,97,0)"/><stop offset="0.9748" stop-color="rgb(59,83,0)"/></linearGradient><linearGradient id="d74" gradientUnits="userSpaceOnUse" x1="291.3" y1="0" x2="602.5" y2="0"><stop offset="0.0335" stop-color="rgb(123,174,0)"/><stop offset="0.0425" stop-color="rgb(132,186,0)"/><stop offset="0.0690" stop-color="rgb(139,196,0)"/><stop offset="0.1121" stop-color="rgb(144,203,0)"/><stop offset="0.1701" stop-color="rgb(147,208,0)"/><stop offset="0.2408" stop-color="rgb(148,209,0)"/><stop offset="0.3215" stop-color="rgb(147,207,0)"/><stop offset="0.4090" stop-color="rgb(143,202,0)"/><stop offset="0.5000" stop-color="rgb(138,194,0)"/><stop offset="0.5910" stop-color="rgb(130,184,0)"/><stop offset="0.6785" stop-color="rgb(121,171,0)"/><stop offset="0.7592" stop-color="rgb(111,157,0)"/><stop offset="0.8299" stop-color="rgb(100,142,0)"/><stop offset="0.8879" stop-color="rgb(89,126,0)"/><stop offset="0.9310" stop-color="rgb(78,110,0)"/><stop offset="0.9575" stop-color="rgb(67,94,0)"/><stop offset="0.9665" stop-color="rgb(57,80,0)"/></linearGradient><linearGradient id="d75" gradientUnits="userSpaceOnUse" x1="291.3" y1="0" x2="602.5" y2="0"><stop offset="0.0429" stop-color="rgb(120,169,0)"/><stop offset="0.0517" stop-color="rgb(128,181,0)"/><stop offset="0.0777" stop-color="rgb(135,191,0)"/><stop offset="0.1199" stop-color="rgb(140,198,0)"/><stop offset="0.1768" stop-color="rgb(143,203,0)"/><stop offset="0.2460" stop-color="rgb(144,204,0)"/><stop offset="0.3251" stop-color="rgb(143,202,0)"/><stop offset="0.4108" stop-color="rgb(140,197,0)"/><stop offset="0.5000" stop-color="rgb(134,190,0)"/><stop offset="0.5892" stop-color="rgb(127,179,0)"/><stop offset="0.6749" stop-color="rgb(118,167,0)"/><stop offset="0.7540" stop-color="rgb(108,153,0)"/><stop offset="0.8232" stop-color="rgb(98,138,0)"/><stop offset="0.8801" stop-color="rgb(87,122,0)"/><stop offset="0.9223" stop-color="rgb(75,107,0)"/><stop offset="0.9483" stop-color="rgb(65,92,0)"/><stop offset="0.9571" stop-color="rgb(55,78,0)"/></linearGradient><linearGradient id="d76" gradientUnits="userSpaceOnUse" x1="291.3" y1="0" x2="602.5" y2="0"><stop offset="0.0534" stop-color="rgb(117,165,0)"/><stop offset="0.0620" stop-color="rgb(125,177,0)"/><stop offset="0.0874" stop-color="rgb(132,186,0)"/><stop offset="0.1287" stop-color="rgb(137,193,0)"/><stop offset="0.1842" stop-color="rgb(140,197,0)"/><stop offset="0.2519" stop-color="rgb(141,199,0)"/><stop offset="0.3291" stop-color="rgb(139,197,0)"/><stop offset="0.4129" stop-color="rgb(136,192,0)"/><stop offset="0.5000" stop-color="rgb(131,185,0)"/><stop offset="0.5871" stop-color="rgb(124,175,0)"/><stop offset="0.6709" stop-color="rgb(115,163,0)"/><stop offset="0.7481" stop-color="rgb(105,149,0)"/><stop offset="0.8158" stop-color="rgb(95,134,0)"/><stop offset="0.8713" stop-color="rgb(84,119,0)"/><stop offset="0.9126" stop-color="rgb(73,104,0)"/><stop offset="0.9380" stop-color="rgb(63,89,0)"/><stop offset="0.9466" stop-color="rgb(53,76,0)"/></linearGradient><linearGradient id="d77" gradientUnits="userSpaceOnUse" x1="291.3" y1="0" x2="602.5" y2="0"><stop offset="0.0650" stop-color="rgb(114,160,0)"/><stop offset="0.0733" stop-color="rgb(122,172,0)"/><stop offset="0.0981" stop-color="rgb(128,181,0)"/><stop offset="0.1383" stop-color="rgb(133,188,0)"/><stop offset="0.1924" stop-color="rgb(136,192,0)"/><stop offset="0.2583" stop-color="rgb(137,193,0)"/><stop offset="0.3335" stop-color="rgb(136,192,0)"/><stop offset="0.4151" stop-color="rgb(132,187,0)"/><stop offset="0.5000" stop-color="rgb(127,180,0)"/><stop offset="0.5849" stop-color="rgb(120,170,0)"/><stop offset="0.6665" stop-color="rgb(112,158,0)"/><stop offset="0.7417" stop-color="rgb(103,145,0)"/><stop offset="0.8076" stop-color="rgb(92,131,0)"/><stop offset="0.8617" stop-color="rgb(82,116,0)"/><stop offset="0.9019" stop-color="rgb(71,101,0)"/><stop offset="0.9267" stop-color="rgb(61,86,0)"/><stop offset="0.9350" stop-color="rgb(52,73,0)"/></linearGradient><linearGradient id="d78" gradientUnits="userSpaceOnUse" x1="291.3" y1="0" x2="602.5" y2="0"><stop offset="0.0776" stop-color="rgb(110,156,0)"/><stop offset="0.0857" stop-color="rgb(118,167,0)"/><stop offset="0.1097" stop-color="rgb(125,176,0)"/><stop offset="0.1488" stop-color="rgb(129,183,0)"/><stop offset="0.2013" stop-color="rgb(132,187,0)"/><stop offset="0.2653" stop-color="rgb(133,188,0)"/><stop offset="0.3383" stop-color="rgb(132,186,0)"/><stop offset="0.4176" stop-color="rgb(129,182,0)"/><stop offset="0.5000" stop-color="rgb(124,175,0)"/><stop offset="0.5824" stop-color="rgb(117,165,0)"/><stop offset="0.6617" stop-color="rgb(109,154,0)"/><stop offset="0.7347" stop-color="rgb(100,141,0)"/><stop offset="0.7987" stop-color="rgb(90,127,0)"/><stop offset="0.8512" stop-color="rgb(80,112,0)"/><stop offset="0.8903" stop-color="rgb(69,98,0)"/><stop offset="0.9143" stop-color="rgb(60,84,0)"/><stop offset="0.9224" stop-color="rgb(51,71,0)"/></linearGradient><linearGradient id="d79" gradientUnits="userSpaceOnUse" x1="291.3" y1="0" x2="602.5" y2="0"><stop offset="0.0912" stop-color="rgb(107,151,0)"/><stop offset="0.0991" stop-color="rgb(115,162,0)"/><stop offset="0.1223" stop-color="rgb(121,171,0)"/><stop offset="0.1601" stop-color="rgb(125,177,0)"/><stop offset="0.2109" stop-color="rgb(128,181,0)"/><stop offset="0.2729" stop-color="rgb(129,182,0)"/><stop offset="0.3436" stop-color="rgb(128,181,0)"/><stop offset="0.4202" stop-color="rgb(125,176,0)"/><stop offset="0.5000" stop-color="rgb(120,170,0)"/><stop offset="0.5798" stop-color="rgb(113,160,0)"/><stop offset="0.6564" stop-color="rgb(106,149,0)"/><stop offset="0.7271" stop-color="rgb(97,137,0)"/><stop offset="0.7891" stop-color="rgb(87,123,0)"/><stop offset="0.8399" stop-color="rgb(77,109,0)"/><stop offset="0.8777" stop-color="rgb(67,95,0)"/><stop offset="0.9009" stop-color="rgb(58,82,0)"/><stop offset="0.9088" stop-color="rgb(49,70,0)"/></linearGradient><linearGradient id="d80" gradientUnits="userSpaceOnUse" x1="291.3" y1="0" x2="602.5" y2="0"><stop offset="0.1058" stop-color="rgb(104,147,0)"/><stop offset="0.1134" stop-color="rgb(111,157,0)"/><stop offset="0.1358" stop-color="rgb(117,166,0)"/><stop offset="0.1723" stop-color="rgb(122,172,0)"/><stop offset="0.2213" stop-color="rgb(124,176,0)"/><stop offset="0.2810" stop-color="rgb(125,177,0)"/><stop offset="0.3492" stop-color="rgb(124,175,0)"/><stop offset="0.4231" stop-color="rgb(121,171,0)"/><stop offset="0.5000" stop-color="rgb(116,164,0)"/><stop offset="0.5769" stop-color="rgb(110,156,0)"/><stop offset="0.6508" stop-color="rgb(103,145,0)"/><stop offset="0.7190" stop-color="rgb(94,133,0)"/><stop offset="0.7787" stop-color="rgb(85,120,0)"/><stop offset="0.8277" stop-color="rgb(75,106,0)"/><stop offset="0.8642" stop-color="rgb(66,93,0)"/><stop offset="0.8866" stop-color="rgb(57,80,0)"/><stop offset="0.8942" stop-color="rgb(48,68,0)"/></linearGradient><linearGradient id="d81" gradientUnits="userSpaceOnUse" x1="291.3" y1="0" x2="602.5" y2="0"><stop offset="0.1214" stop-color="rgb(101,142,0)"/><stop offset="0.1287" stop-color="rgb(108,152,0)"/><stop offset="0.1502" stop-color="rgb(114,161,0)"/><stop offset="0.1852" stop-color="rgb(118,166,0)"/><stop offset="0.2323" stop-color="rgb(120,170,0)"/><stop offset="0.2897" stop-color="rgb(121,171,0)"/><stop offset="0.3551" stop-color="rgb(120,170,0)"/><stop offset="0.4261" stop-color="rgb(117,166,0)"/><stop offset="0.5000" stop-color="rgb(113,159,0)"/><stop offset="0.5739" stop-color="rgb(107,151,0)"/><stop offset="0.6449" stop-color="rgb(99,141,0)"/><stop offset="0.7103" stop-color="rgb(91,129,0)"/><stop offset="0.7677" stop-color="rgb(82,116,0)"/><stop offset="0.8148" stop-color="rgb(73,103,0)"/><stop offset="0.8498" stop-color="rgb(64,91,0)"/><stop offset="0.8713" stop-color="rgb(55,78,0)"/><stop offset="0.8786" stop-color="rgb(47,67,0)"/></linearGradient><linearGradient id="d82" gradientUnits="userSpaceOnUse" x1="291.3" y1="0" x2="602.5" y2="0"><stop offset="0.1379" stop-color="rgb(98,138,0)"/><stop offset="0.1448" stop-color="rgb(104,148,0)"/><stop offset="0.1654" stop-color="rgb(110,155,0)"/><stop offset="0.1989" stop-color="rgb(114,161,0)"/><stop offset="0.2439" stop-color="rgb(116,164,0)"/><stop offset="0.2988" stop-color="rgb(117,165,0)"/><stop offset="0.3614" stop-color="rgb(116,164,0)"/><stop offset="0.4294" stop-color="rgb(113,160,0)"/><stop offset="0.5000" stop-color="rgb(109,154,0)"/><stop offset="0.5706" stop-color="rgb(103,146,0)"/><stop offset="0.6386" stop-color="rgb(96,136,0)"/><stop offset="0.7012" stop-color="rgb(89,125,0)"/><stop offset="0.7561" stop-color="rgb(80,113,0)"/><stop offset="0.8011" stop-color="rgb(71,101,0)"/><stop offset="0.8346" stop-color="rgb(63,88,0)"/><stop offset="0.8552" stop-color="rgb(54,76,0)"/><stop offset="0.8621" stop-color="rgb(46,66,0)"/></linearGradient><linearGradient id="d83" gradientUnits="userSpaceOnUse" x1="291.3" y1="0" x2="602.5" y2="0"><stop offset="0.1552" stop-color="rgb(95,134,0)"/><stop offset="0.1619" stop-color="rgb(101,143,0)"/><stop offset="0.1815" stop-color="rgb(106,150,0)"/><stop offset="0.2133" stop-color="rgb(110,155,0)"/><stop offset="0.2562" stop-color="rgb(112,159,0)"/><stop offset="0.3085" stop-color="rgb(113,160,0)"/><stop offset="0.3681" stop-color="rgb(112,158,0)"/><stop offset="0.4327" stop-color="rgb(109,155,0)"/><stop offset="0.5000" stop-color="rgb(105,149,0)"/><stop offset="0.5673" stop-color="rgb(100,141,0)"/><stop offset="0.6319" stop-color="rgb(93,132,0)"/><stop offset="0.6915" stop-color="rgb(86,121,0)"/><stop offset="0.7438" stop-color="rgb(78,110,0)"/><stop offset="0.7867" stop-color="rgb(69,98,0)"/><stop offset="0.8185" stop-color="rgb(61,86,0)"/><stop offset="0.8381" stop-color="rgb(53,75,0)"/><stop offset="0.8448" stop-color="rgb(46,65,0)"/></linearGradient><linearGradient id="d84" gradientUnits="userSpaceOnUse" x1="291.3" y1="0" x2="602.5" y2="0"><stop offset="0.1734" stop-color="rgb(91,129,0)"/><stop offset="0.1797" stop-color="rgb(98,138,0)"/><stop offset="0.1983" stop-color="rgb(102,145,0)"/><stop offset="0.2285" stop-color="rgb(106,150,0)"/><stop offset="0.2691" stop-color="rgb(108,153,0)"/><stop offset="0.3186" stop-color="rgb(109,154,0)"/><stop offset="0.3750" stop-color="rgb(108,153,0)"/><stop offset="0.4363" stop-color="rgb(106,149,0)"/><stop offset="0.5000" stop-color="rgb(102,144,0)"/><stop offset="0.5637" stop-color="rgb(97,136,0)"/><stop offset="0.6250" stop-color="rgb(90,128,0)"/><stop offset="0.6814" stop-color="rgb(83,118,0)"/><stop offset="0.7309" stop-color="rgb(76,107,0)"/><stop offset="0.7715" stop-color="rgb(68,96,0)"/><stop offset="0.8017" stop-color="rgb(60,84,0)"/><stop offset="0.8203" stop-color="rgb(52,74,0)"/><stop offset="0.8266" stop-color="rgb(45,64,0)"/></linearGradient><linearGradient id="d85" gradientUnits="userSpaceOnUse" x1="291.3" y1="0" x2="602.5" y2="0"><stop offset="0.1924" stop-color="rgb(88,125,0)"/><stop offset="0.1983" stop-color="rgb(94,133,0)"/><stop offset="0.2158" stop-color="rgb(99,140,0)"/><stop offset="0.2442" stop-color="rgb(102,144,0)"/><stop offset="0.2825" stop-color="rgb(104,147,0)"/><stop offset="0.3291" stop-color="rgb(105,148,0)"/><stop offset="0.3823" stop-color="rgb(104,147,0)"/><stop offset="0.4400" stop-color="rgb(102,144,0)"/><stop offset="0.5000" stop-color="rgb(98,139,0)"/><stop offset="0.5600" stop-color="rgb(93,132,0)"/><stop offset="0.6177" stop-color="rgb(87,123,0)"/><stop offset="0.6709" stop-color="rgb(81,114,0)"/><stop offset="0.7175" stop-color="rgb(73,104,0)"/><stop offset="0.7558" stop-color="rgb(66,93,0)"/><stop offset="0.7842" stop-color="rgb(59,83,0)"/><stop offset="0.8017" stop-color="rgb(51,73,0)"/><stop offset="0.8076" stop-color="rgb(45,64,0)"/></linearGradient><linearGradient id="d86" gradientUnits="userSpaceOnUse" x1="291.3" y1="0" x2="602.5" y2="0"><stop offset="0.2121" stop-color="rgb(85,121,0)"/><stop offset="0.2176" stop-color="rgb(91,128,0)"/><stop offset="0.2340" stop-color="rgb(95,134,0)"/><stop offset="0.2606" stop-color="rgb(98,139,0)"/><stop offset="0.2964" stop-color="rgb(100,142,0)"/><stop offset="0.3400" stop-color="rgb(101,143,0)"/><stop offset="0.3898" stop-color="rgb(100,141,0)"/><stop offset="0.4438" stop-color="rgb(98,138,0)"/><stop offset="0.5000" stop-color="rgb(94,134,0)"/><stop offset="0.5562" stop-color="rgb(90,127,0)"/><stop offset="0.6102" stop-color="rgb(84,119,0)"/><stop offset="0.6600" stop-color="rgb(78,111,0)"/><stop offset="0.7036" stop-color="rgb(71,101,0)"/><stop offset="0.7394" stop-color="rgb(64,91,0)"/><stop offset="0.7660" stop-color="rgb(58,81,0)"/><stop offset="0.7824" stop-color="rgb(51,72,0)"/><stop offset="0.7879" stop-color="rgb(45,64,0)"/></linearGradient><linearGradient id="d87" gradientUnits="userSpaceOnUse" x1="291.3" y1="0" x2="602.5" y2="0"><stop offset="0.2325" stop-color="rgb(83,117,0)"/><stop offset="0.2376" stop-color="rgb(88,124,0)"/><stop offset="0.2529" stop-color="rgb(92,129,0)"/><stop offset="0.2776" stop-color="rgb(95,134,0)"/><stop offset="0.3108" stop-color="rgb(96,136,0)"/><stop offset="0.3514" stop-color="rgb(97,137,0)"/><stop offset="0.3976" stop-color="rgb(96,136,0)"/><stop offset="0.4478" stop-color="rgb(94,133,0)"/><stop offset="0.5000" stop-color="rgb(91,128,0)"/><stop offset="0.5522" stop-color="rgb(87,123,0)"/><stop offset="0.6024" stop-color="rgb(82,115,0)"/><stop offset="0.6486" stop-color="rgb(76,107,0)"/><stop offset="0.6892" stop-color="rgb(70,98,0)"/><stop offset="0.7224" stop-color="rgb(63,89,0)"/><stop offset="0.7471" stop-color="rgb(57,80,0)"/><stop offset="0.7624" stop-color="rgb(50,71,0)"/><stop offset="0.7675" stop-color="rgb(45,64,0)"/></linearGradient><linearGradient id="d88" gradientUnits="userSpaceOnUse" x1="291.3" y1="0" x2="602.5" y2="0"><stop offset="0.2536" stop-color="rgb(80,113,0)"/><stop offset="0.2583" stop-color="rgb(84,119,0)"/><stop offset="0.2723" stop-color="rgb(88,124,0)"/><stop offset="0.2951" stop-color="rgb(91,128,0)"/><stop offset="0.3257" stop-color="rgb(92,131,0)"/><stop offset="0.3631" stop-color="rgb(93,131,0)"/><stop offset="0.4057" stop-color="rgb(92,130,0)"/><stop offset="0.4519" stop-color="rgb(90,128,0)"/><stop offset="0.5000" stop-color="rgb(87,124,0)"/><stop offset="0.5481" stop-color="rgb(84,118,0)"/><stop offset="0.5943" stop-color="rgb(79,111,0)"/><stop offset="0.6369" stop-color="rgb(73,104,0)"/><stop offset="0.6743" stop-color="rgb(68,96,0)"/><stop offset="0.7049" stop-color="rgb(62,87,0)"/><stop offset="0.7277" stop-color="rgb(56,79,0)"/><stop offset="0.7417" stop-color="rgb(50,71,0)"/><stop offset="0.7464" stop-color="rgb(45,64,0)"/></linearGradient><linearGradient id="d89" gradientUnits="userSpaceOnUse" x1="291.3" y1="0" x2="602.5" y2="0"><stop offset="0.2752" stop-color="rgb(77,109,0)"/><stop offset="0.2795" stop-color="rgb(81,115,0)"/><stop offset="0.2923" stop-color="rgb(84,119,0)"/><stop offset="0.3131" stop-color="rgb(87,123,0)"/><stop offset="0.3410" stop-color="rgb(88,125,0)"/><stop offset="0.3751" stop-color="rgb(89,126,0)"/><stop offset="0.4140" stop-color="rgb(88,125,0)"/><stop offset="0.4561" stop-color="rgb(87,122,0)"/><stop offset="0.5000" stop-color="rgb(84,119,0)"/><stop offset="0.5439" stop-color="rgb(80,114,0)"/><stop offset="0.5860" stop-color="rgb(76,108,0)"/><stop offset="0.6249" stop-color="rgb(71,101,0)"/><stop offset="0.6590" stop-color="rgb(66,93,0)"/><stop offset="0.6869" stop-color="rgb(60,86,0)"/><stop offset="0.7077" stop-color="rgb(55,78,0)"/><stop offset="0.7205" stop-color="rgb(50,70,0)"/><stop offset="0.7248" stop-color="rgb(45,64,0)"/></linearGradient><linearGradient id="d90" gradientUnits="userSpaceOnUse" x1="291.3" y1="0" x2="602.5" y2="0"><stop offset="0.2974" stop-color="rgb(74,105,0)"/><stop offset="0.3013" stop-color="rgb(78,110,0)"/><stop offset="0.3128" stop-color="rgb(81,114,0)"/><stop offset="0.3315" stop-color="rgb(83,118,0)"/><stop offset="0.3567" stop-color="rgb(85,120,0)"/><stop offset="0.3874" stop-color="rgb(85,120,0)"/><stop offset="0.4225" stop-color="rgb(84,119,0)"/><stop offset="0.4605" stop-color="rgb(83,117,0)"/><stop offset="0.5000" stop-color="rgb(81,114,0)"/><stop offset="0.5395" stop-color="rgb(77,109,0)"/><stop offset="0.5775" stop-color="rgb(73,104,0)"/><stop offset="0.6126" stop-color="rgb(69,98,0)"/><stop offset="0.6433" stop-color="rgb(64,91,0)"/><stop offset="0.6685" stop-color="rgb(59,84,0)"/><stop offset="0.6872" stop-color="rgb(55,77,0)"/><stop offset="0.6987" stop-color="rgb(50,70,0)"/><stop offset="0.7026" stop-color="rgb(46,64,0)"/></linearGradient><linearGradient id="d91" gradientUnits="userSpaceOnUse" x1="291.3" y1="0" x2="602.5" y2="0"><stop offset="0.3201" stop-color="rgb(72,101,0)"/><stop offset="0.3235" stop-color="rgb(75,106,0)"/><stop offset="0.3338" stop-color="rgb(78,110,0)"/><stop offset="0.3504" stop-color="rgb(80,113,0)"/><stop offset="0.3728" stop-color="rgb(81,114,0)"/><stop offset="0.4000" stop-color="rgb(81,115,0)"/><stop offset="0.4311" stop-color="rgb(81,114,0)"/><stop offset="0.4649" stop-color="rgb(79,112,0)"/><stop offset="0.5000" stop-color="rgb(77,109,0)"/><stop offset="0.5351" stop-color="rgb(74,105,0)"/><stop offset="0.5689" stop-color="rgb(71,100,0)"/><stop offset="0.6000" stop-color="rgb(67,95,0)"/><stop offset="0.6272" stop-color="rgb(63,89,0)"/><stop offset="0.6496" stop-color="rgb(58,83,0)"/><stop offset="0.6662" stop-color="rgb(54,76,0)"/><stop offset="0.6765" stop-color="rgb(50,71,0)"/><stop offset="0.6799" stop-color="rgb(46,65,0)"/></linearGradient><linearGradient id="d92" gradientUnits="userSpaceOnUse" x1="291.3" y1="0" x2="602.5" y2="0"><stop offset="0.3432" stop-color="rgb(69,98,0)"/><stop offset="0.3462" stop-color="rgb(72,102,0)"/><stop offset="0.3551" stop-color="rgb(74,105,0)"/><stop offset="0.3696" stop-color="rgb(76,107,0)"/><stop offset="0.3891" stop-color="rgb(77,109,0)"/><stop offset="0.4129" stop-color="rgb(77,109,0)"/><stop offset="0.4400" stop-color="rgb(77,109,0)"/><stop offset="0.4694" stop-color="rgb(76,107,0)"/><stop offset="0.5000" stop-color="rgb(74,104,0)"/><stop offset="0.5306" stop-color="rgb(71,101,0)"/><stop offset="0.5600" stop-color="rgb(68,97,0)"/><stop offset="0.5871" stop-color="rgb(65,92,0)"/><stop offset="0.6109" stop-color="rgb(61,87,0)"/><stop offset="0.6304" stop-color="rgb(58,81,0)"/><stop offset="0.6449" stop-color="rgb(54,76,0)"/><stop offset="0.6538" stop-color="rgb(50,71,0)"/><stop offset="0.6568" stop-color="rgb(47,66,0)"/></linearGradient><linearGradient id="d93" gradientUnits="userSpaceOnUse" x1="291.3" y1="0" x2="602.5" y2="0"><stop offset="0.3666" stop-color="rgb(67,94,0)"/><stop offset="0.3692" stop-color="rgb(69,98,0)"/><stop offset="0.3768" stop-color="rgb(71,100,0)"/><stop offset="0.3891" stop-color="rgb(73,103,0)"/><stop offset="0.4057" stop-color="rgb(73,104,0)"/><stop offset="0.4259" stop-color="rgb(74,104,0)"/><stop offset="0.4490" stop-color="rgb(73,104,0)"/><stop offset="0.4740" stop-color="rgb(72,102,0)"/><stop offset="0.5000" stop-color="rgb(71,100,0)"/><stop offset="0.5260" stop-color="rgb(69,97,0)"/><stop offset="0.5510" stop-color="rgb(66,93,0)"/><stop offset="0.5741" stop-color="rgb(63,89,0)"/><stop offset="0.5943" stop-color="rgb(60,85,0)"/><stop offset="0.6109" stop-color="rgb(57,80,0)"/><stop offset="0.6232" stop-color="rgb(54,76,0)"/><stop offset="0.6308" stop-color="rgb(51,71,0)"/><stop offset="0.6334" stop-color="rgb(48,67,0)"/></linearGradient><linearGradient id="d94" gradientUnits="userSpaceOnUse" x1="291.3" y1="0" x2="602.5" y2="0"><stop offset="0.3904" stop-color="rgb(64,91,0)"/><stop offset="0.3926" stop-color="rgb(66,94,0)"/><stop offset="0.3988" stop-color="rgb(68,96,0)"/><stop offset="0.4089" stop-color="rgb(69,98,0)"/><stop offset="0.4225" stop-color="rgb(70,99,0)"/><stop offset="0.4391" stop-color="rgb(70,99,0)"/><stop offset="0.4581" stop-color="rgb(70,99,0)"/><stop offset="0.4786" stop-color="rgb(69,97,0)"/><stop offset="0.5000" stop-color="rgb(68,96,0)"/><stop offset="0.5214" stop-color="rgb(66,93,0)"/><stop offset="0.5419" stop-color="rgb(64,90,0)"/><stop offset="0.5609" stop-color="rgb(61,87,0)"/><stop offset="0.5775" stop-color="rgb(59,83,0)"/><stop offset="0.5911" stop-color="rgb(56,80,0)"/><stop offset="0.6012" stop-color="rgb(54,76,0)"/><stop offset="0.6074" stop-color="rgb(51,72,0)"/><stop offset="0.6096" stop-color="rgb(49,69,0)"/></linearGradient><linearGradient id="d95" gradientUnits="userSpaceOnUse" x1="291.3" y1="0" x2="602.5" y2="0"><stop offset="0.4145" stop-color="rgb(62,88,0)"/><stop offset="0.4162" stop-color="rgb(64,90,0)"/><stop offset="0.4210" stop-color="rgb(65,92,0)"/><stop offset="0.4289" stop-color="rgb(66,93,0)"/><stop offset="0.4396" stop-color="rgb(66,94,0)"/><stop offset="0.4525" stop-color="rgb(67,94,0)"/><stop offset="0.4673" stop-color="rgb(66,94,0)"/><stop offset="0.4833" stop-color="rgb(66,93,0)"/><stop offset="0.5000" stop-color="rgb(65,91,0)"/><stop offset="0.5167" stop-color="rgb(63,90,0)"/><stop offset="0.5327" stop-color="rgb(62,87,0)"/><stop offset="0.5475" stop-color="rgb(60,85,0)"/><stop offset="0.5604" stop-color="rgb(58,82,0)"/><stop offset="0.5711" stop-color="rgb(56,79,0)"/><stop offset="0.5790" stop-color="rgb(54,76,0)"/><stop offset="0.5838" stop-color="rgb(52,73,0)"/><stop offset="0.5855" stop-color="rgb(50,71,0)"/></linearGradient><linearGradient id="d96" gradientUnits="userSpaceOnUse" x1="291.3" y1="0" x2="602.5" y2="0"><stop offset="0.4388" stop-color="rgb(60,85,0)"/><stop offset="0.4400" stop-color="rgb(61,86,0)"/><stop offset="0.4435" stop-color="rgb(62,88,0)"/><stop offset="0.4491" stop-color="rgb(63,89,0)"/><stop offset="0.4567" stop-color="rgb(63,89,0)"/><stop offset="0.4660" stop-color="rgb(63,89,0)"/><stop offset="0.4766" stop-color="rgb(63,89,0)"/><stop offset="0.4881" stop-color="rgb(63,88,0)"/><stop offset="0.5000" stop-color="rgb(62,87,0)"/><stop offset="0.5119" stop-color="rgb(61,86,0)"/><stop offset="0.5234" stop-color="rgb(60,84,0)"/><stop offset="0.5340" stop-color="rgb(58,83,0)"/><stop offset="0.5433" stop-color="rgb(57,80,0)"/><stop offset="0.5509" stop-color="rgb(55,78,0)"/><stop offset="0.5565" stop-color="rgb(54,76,0)"/><stop offset="0.5600" stop-color="rgb(53,74,0)"/><stop offset="0.5612" stop-color="rgb(51,72,0)"/></linearGradient><linearGradient id="d97" gradientUnits="userSpaceOnUse" x1="291.3" y1="0" x2="602.5" y2="0"><stop offset="0.4632" stop-color="rgb(58,82,0)"/><stop offset="0.4639" stop-color="rgb(59,83,0)"/><stop offset="0.4660" stop-color="rgb(59,84,0)"/><stop offset="0.4694" stop-color="rgb(60,84,0)"/><stop offset="0.4740" stop-color="rgb(60,85,0)"/><stop offset="0.4796" stop-color="rgb(60,85,0)"/><stop offset="0.4859" stop-color="rgb(60,85,0)"/><stop offset="0.4928" stop-color="rgb(60,84,0)"/><stop offset="0.5000" stop-color="rgb(59,84,0)"/><stop offset="0.5072" stop-color="rgb(59,83,0)"/><stop offset="0.5141" stop-color="rgb(58,82,0)"/><stop offset="0.5204" stop-color="rgb(57,81,0)"/><stop offset="0.5260" stop-color="rgb(56,79,0)"/><stop offset="0.5306" stop-color="rgb(55,78,0)"/><stop offset="0.5340" stop-color="rgb(54,77,0)"/><stop offset="0.5361" stop-color="rgb(54,76,0)"/><stop offset="0.5368" stop-color="rgb(53,75,0)"/></linearGradient><linearGradient id="d98" gradientUnits="userSpaceOnUse" x1="291.3" y1="0" x2="602.5" y2="0"><stop offset="0.4877" stop-color="rgb(56,79,0)"/><stop offset="0.4880" stop-color="rgb(56,80,0)"/><stop offset="0.4887" stop-color="rgb(56,80,0)"/><stop offset="0.4898" stop-color="rgb(57,80,0)"/><stop offset="0.4913" stop-color="rgb(57,80,0)"/><stop offset="0.4932" stop-color="rgb(57,80,0)"/><stop offset="0.4953" stop-color="rgb(57,80,0)"/><stop offset="0.4976" stop-color="rgb(57,80,0)"/><stop offset="0.5000" stop-color="rgb(56,80,0)"/><stop offset="0.5024" stop-color="rgb(56,80,0)"/><stop offset="0.5047" stop-color="rgb(56,79,0)"/><stop offset="0.5068" stop-color="rgb(56,79,0)"/><stop offset="0.5087" stop-color="rgb(55,78,0)"/><stop offset="0.5102" stop-color="rgb(55,78,0)"/><stop offset="0.5113" stop-color="rgb(55,78,0)"/><stop offset="0.5120" stop-color="rgb(55,77,0)"/><stop offset="0.5123" stop-color="rgb(54,77,0)"/></linearGradient></defs>
<g><path d="M291.30,643.00 A155.60,119.00 0 0 1 602.50,643.00 A155.60,95.50 0 0 1 291.30,643.00 Z" fill="url(#d67)"/><path d="M291.49,637.16 A155.60,119.00 0 0 1 602.31,637.16 A155.41,95.38 0 0 1 291.49,637.16 Z" fill="url(#d68)"/><path d="M292.05,631.34 A155.60,119.00 0 0 1 601.75,631.34 A154.85,95.04 0 0 1 292.05,631.34 Z" fill="url(#d69)"/><path d="M292.98,625.54 A155.60,119.00 0 0 1 600.82,625.54 A153.92,94.47 0 0 1 292.98,625.54 Z" fill="url(#d70)"/><path d="M294.29,619.78 A155.60,119.00 0 0 1 599.51,619.78 A152.61,93.66 0 0 1 294.29,619.78 Z" fill="url(#d71)"/><path d="M295.96,614.09 A155.60,119.00 0 0 1 597.84,614.09 A150.94,92.64 0 0 1 295.96,614.09 Z" fill="url(#d72)"/><path d="M298.00,608.46 A155.60,119.00 0 0 1 595.80,608.46 A148.90,91.39 0 0 1 298.00,608.46 Z" fill="url(#d73)"/><path d="M300.40,602.91 A155.60,119.00 0 0 1 593.40,602.91 A146.50,89.92 0 0 1 300.40,602.91 Z" fill="url(#d74)"/><path d="M303.14,597.46 A155.60,119.00 0 0 1 590.66,597.46 A143.76,88.23 0 0 1 303.14,597.46 Z" fill="url(#d75)"/><path d="M306.24,592.12 A155.60,119.00 0 0 1 587.56,592.12 A140.66,86.33 0 0 1 306.24,592.12 Z" fill="url(#d76)"/><path d="M309.67,586.90 A155.60,119.00 0 0 1 584.13,586.90 A137.23,84.22 0 0 1 309.67,586.90 Z" fill="url(#d77)"/><path d="M313.44,581.82 A155.60,119.00 0 0 1 580.36,581.82 A133.46,81.91 0 0 1 313.44,581.82 Z" fill="url(#d78)"/><path d="M317.52,576.89 A155.60,119.00 0 0 1 576.28,576.89 A129.38,79.41 0 0 1 317.52,576.89 Z" fill="url(#d79)"/><path d="M321.92,572.11 A155.60,119.00 0 0 1 571.88,572.11 A124.98,76.71 0 0 1 321.92,572.11 Z" fill="url(#d80)"/><path d="M326.62,567.51 A155.60,119.00 0 0 1 567.18,567.51 A120.28,73.82 0 0 1 326.62,567.51 Z" fill="url(#d81)"/><path d="M331.61,563.08 A155.60,119.00 0 0 1 562.19,563.08 A115.29,70.76 0 0 1 331.61,563.08 Z" fill="url(#d82)"/><path d="M336.87,558.85 A155.60,119.00 0 0 1 556.93,558.85 A110.03,67.53 0 0 1 336.87,558.85 Z" fill="url(#d83)"/><path d="M342.41,554.83 A155.60,119.00 0 0 1 551.39,554.83 A104.49,64.13 0 0 1 342.41,554.83 Z" fill="url(#d84)"/><path d="M348.19,551.01 A155.60,119.00 0 0 1 545.61,551.01 A98.71,60.58 0 0 1 348.19,551.01 Z" fill="url(#d85)"/><path d="M354.21,547.42 A155.60,119.00 0 0 1 539.59,547.42 A92.69,56.89 0 0 1 354.21,547.42 Z" fill="url(#d86)"/><path d="M360.45,544.06 A155.60,119.00 0 0 1 533.35,544.06 A86.45,53.06 0 0 1 360.45,544.06 Z" fill="url(#d87)"/><path d="M366.91,540.93 A155.60,119.00 0 0 1 526.89,540.93 A79.99,49.10 0 0 1 366.91,540.93 Z" fill="url(#d88)"/><path d="M373.55,538.05 A155.60,119.00 0 0 1 520.25,538.05 A73.35,45.02 0 0 1 373.55,538.05 Z" fill="url(#d89)"/><path d="M380.37,535.43 A155.60,119.00 0 0 1 513.43,535.43 A66.53,40.83 0 0 1 380.37,535.43 Z" fill="url(#d90)"/><path d="M387.35,533.06 A155.60,119.00 0 0 1 506.45,533.06 A59.55,36.55 0 0 1 387.35,533.06 Z" fill="url(#d91)"/><path d="M394.48,530.96 A155.60,119.00 0 0 1 499.32,530.96 A52.42,32.17 0 0 1 394.48,530.96 Z" fill="url(#d92)"/><path d="M401.73,529.12 A155.60,119.00 0 0 1 492.07,529.12 A45.17,27.72 0 0 1 401.73,529.12 Z" fill="url(#d93)"/><path d="M409.09,527.57 A155.60,119.00 0 0 1 484.71,527.57 A37.81,23.20 0 0 1 409.09,527.57 Z" fill="url(#d94)"/><path d="M416.54,526.29 A155.60,119.00 0 0 1 477.26,526.29 A30.36,18.63 0 0 1 416.54,526.29 Z" fill="url(#d95)"/><path d="M424.07,525.29 A155.60,119.00 0 0 1 469.73,525.29 A22.83,14.01 0 0 1 424.07,525.29 Z" fill="url(#d96)"/><path d="M431.65,524.57 A155.60,119.00 0 0 1 462.15,524.57 A15.25,9.36 0 0 1 431.65,524.57 Z" fill="url(#d97)"/><path d="M439.27,524.14 A155.60,119.00 0 0 1 454.53,524.14 A7.63,4.69 0 0 1 439.27,524.14 Z" fill="url(#d98)"/></g>
<clipPath id="c99"><path d="M291.30,643.00 A155.60,119.00 0 0 1 602.50,643.00 A155.60,95.50 0 0 1 291.30,643.00 Z"/></clipPath>
<path clip-path="url(#c99)" d="M443.08,524.04 A3.82,2.34 0 0 0 450.72,524.04 M439.27,524.14 A7.63,4.69 0 0 0 454.53,524.14 M435.45,524.32 A11.45,7.03 0 0 0 458.35,524.32 M431.65,524.57 A15.25,9.36 0 0 0 462.15,524.57 M427.85,524.89 A19.05,11.69 0 0 0 465.95,524.89 M424.07,525.29 A22.83,14.01 0 0 0 469.73,525.29 M420.30,525.75 A26.60,16.33 0 0 0 473.50,525.75 M416.54,526.29 A30.36,18.63 0 0 0 477.26,526.29 M412.81,526.89 A34.09,20.92 0 0 0 480.99,526.89 M409.09,527.57 A37.81,23.20 0 0 0 484.71,527.57 M405.40,528.31 A41.50,25.47 0 0 0 488.40,528.31 M401.73,529.12 A45.17,27.72 0 0 0 492.07,529.12 M398.09,530.01 A48.81,29.96 0 0 0 495.71,530.01 M394.48,530.96 A52.42,32.17 0 0 0 499.32,530.96 M390.90,531.97 A56.00,34.37 0 0 0 502.90,531.97 M387.35,533.06 A59.55,36.55 0 0 0 506.45,533.06 M383.84,534.21 A63.06,38.70 0 0 0 509.96,534.21 M380.37,535.43 A66.53,40.83 0 0 0 513.43,535.43 M376.94,536.71 A69.96,42.94 0 0 0 516.86,536.71 M373.55,538.05 A73.35,45.02 0 0 0 520.25,538.05 M370.21,539.46 A76.69,47.07 0 0 0 523.59,539.46 M366.91,540.93 A79.99,49.10 0 0 0 526.89,540.93 M363.65,542.46 A83.25,51.09 0 0 0 530.15,542.46 M360.45,544.06 A86.45,53.06 0 0 0 533.35,544.06 M357.30,545.71 A89.60,54.99 0 0 0 536.50,545.71 M354.21,547.42 A92.69,56.89 0 0 0 539.59,547.42 M351.17,549.19 A95.73,58.75 0 0 0 542.63,549.19 M348.19,551.01 A98.71,60.58 0 0 0 545.61,551.01 M345.27,552.89 A101.63,62.38 0 0 0 548.53,552.89 M342.41,554.83 A104.49,64.13 0 0 0 551.39,554.83 M339.61,556.81 A107.29,65.85 0 0 0 554.19,556.81 M336.87,558.85 A110.03,67.53 0 0 0 556.93,558.85 M334.21,560.94 A112.69,69.17 0 0 0 559.59,560.94 M331.61,563.08 A115.29,70.76 0 0 0 562.19,563.08 M329.08,565.27 A117.82,72.31 0 0 0 564.72,565.27 M326.62,567.51 A120.28,73.82 0 0 0 567.18,567.51 M324.23,569.79 A122.67,75.29 0 0 0 569.57,569.79 M321.92,572.11 A124.98,76.71 0 0 0 571.88,572.11 M319.68,574.48 A127.22,78.08 0 0 0 574.12,574.48 M317.52,576.89 A129.38,79.41 0 0 0 576.28,576.89 M315.44,579.34 A131.46,80.68 0 0 0 578.36,579.34 M313.44,581.82 A133.46,81.91 0 0 0 580.36,581.82 M311.51,584.35 A135.39,83.09 0 0 0 582.29,584.35 M309.67,586.90 A137.23,84.22 0 0 0 584.13,586.90 M307.91,589.50 A138.99,85.30 0 0 0 585.89,589.50 M306.24,592.12 A140.66,86.33 0 0 0 587.56,592.12 M304.65,594.78 A142.25,87.31 0 0 0 589.15,594.78 M303.14,597.46 A143.76,88.23 0 0 0 590.66,597.46 M301.73,600.17 A145.17,89.10 0 0 0 592.07,600.17 M300.40,602.91 A146.50,89.92 0 0 0 593.40,602.91 M299.15,605.67 A147.75,90.68 0 0 0 594.65,605.67 M298.00,608.46 A148.90,91.39 0 0 0 595.80,608.46 M296.94,611.26 A149.96,92.04 0 0 0 596.86,611.26 M295.96,614.09 A150.94,92.64 0 0 0 597.84,614.09 M295.08,616.93 A151.82,93.18 0 0 0 598.72,616.93 M294.29,619.78 A152.61,93.66 0 0 0 599.51,619.78 M293.59,622.66 A153.31,94.09 0 0 0 600.21,622.66 M292.98,625.54 A153.92,94.47 0 0 0 600.82,625.54 M292.47,628.43 A154.43,94.78 0 0 0 601.33,628.43 M292.05,631.34 A154.85,95.04 0 0 0 601.75,631.34 M291.72,634.25 A155.18,95.24 0 0 0 602.08,634.25 M291.49,637.16 A155.41,95.38 0 0 0 602.31,637.16 M291.35,640.08 A155.55,95.47 0 0 0 602.45,640.08 M291.30,643.00 A155.60,95.50 0 0 0 602.50,643.00" fill="none" stroke="#000" stroke-opacity="0.35" stroke-width="0.50"/>
<path clip-path="url(#c99)" d="M446.9,524.0 L436.9,525.3 L426.9,527.2 L417.0,529.5 L407.2,532.3 L397.6,535.6 L388.3,539.4 L379.1,543.6 L370.3,548.2 L361.8,553.3 L353.6,558.7 L345.9,564.5 L338.5,570.6 L331.7,577.0 L325.3,583.7 L319.5,590.7 L314.2,597.9 L309.5,605.2 L305.3,612.8 L301.8,620.5 L298.9,628.2 L296.6,636.0 L295.0,643.9 L294.0,651.8 L293.7,659.6 M446.9,524.0 L437.3,526.4 L427.8,529.3 L418.4,532.7 L409.1,536.5 L399.9,540.8 L390.9,545.6 L382.2,550.7 L373.8,556.3 L365.7,562.2 L357.9,568.5 L350.5,575.1 L343.5,582.0 L337.0,589.1 L330.9,596.5 L325.3,604.0 L320.3,611.8 L315.8,619.7 L311.8,627.6 L308.4,635.7 L305.7,643.8 L303.5,651.8 L301.9,659.9 L301.0,667.8 L300.7,675.7 M446.9,524.0 L438.1,527.4 L429.3,531.3 L420.6,535.6 L412.0,540.4 L403.6,545.7 L395.3,551.3 L387.3,557.4 L379.5,563.8 L372.0,570.6 L364.9,577.7 L358.1,585.0 L351.6,592.6 L345.6,600.4 L340.0,608.4 L334.9,616.6 L330.2,624.9 L326.0,633.2 L322.4,641.6 L319.3,650.0 L316.7,658.3 L314.7,666.6 L313.3,674.8 L312.4,682.9 L312.1,690.8 M446.9,524.0 L439.1,528.3 L431.3,533.0 L423.6,538.3 L416.0,543.9 L408.6,550.0 L401.3,556.5 L394.2,563.4 L387.3,570.6 L380.7,578.2 L374.3,586.0 L368.3,594.0 L362.6,602.3 L357.3,610.7 L352.3,619.3 L347.8,627.9 L343.7,636.7 L340.0,645.4 L336.8,654.2 L334.0,662.9 L331.8,671.5 L330.0,680.0 L328.7,688.3 L328.0,696.5 L327.7,704.4 M446.9,524.0 L440.4,529.0 L433.8,534.6 L427.4,540.6 L421.0,547.0 L414.8,553.8 L408.6,561.1 L402.7,568.6 L396.9,576.5 L391.3,584.7 L386.0,593.1 L381.0,601.8 L376.2,610.6 L371.7,619.5 L367.6,628.6 L363.7,637.7 L360.3,646.9 L357.2,656.0 L354.5,665.0 L352.2,674.0 L350.3,682.9 L348.8,691.5 L347.7,700.0 L347.1,708.2 L346.9,716.2 M446.9,524.0 L441.8,529.7 L436.7,535.8 L431.7,542.4 L426.8,549.5 L421.9,556.9 L417.1,564.7 L412.5,572.9 L408.0,581.3 L403.7,590.0 L399.5,598.9 L395.6,608.1 L391.9,617.3 L388.4,626.7 L385.2,636.2 L382.2,645.7 L379.5,655.1 L377.1,664.5 L375.0,673.9 L373.2,683.1 L371.8,692.1 L370.6,700.9 L369.8,709.5 L369.3,717.7 L369.1,725.7 M446.9,524.0 L443.4,530.1 L440.0,536.7 L436.5,543.8 L433.1,551.3 L429.8,559.2 L426.5,567.4 L423.4,576.0 L420.3,584.8 L417.3,593.9 L414.5,603.2 L411.8,612.7 L409.3,622.3 L406.9,632.0 L404.7,641.8 L402.7,651.5 L400.8,661.2 L399.2,670.9 L397.7,680.4 L396.5,689.7 L395.5,698.9 L394.7,707.8 L394.1,716.4 L393.8,724.8 L393.7,732.7 M446.9,524.0 L445.1,530.4 L443.4,537.3 L441.6,544.6 L439.9,552.4 L438.2,560.5 L436.6,569.0 L434.9,577.9 L433.4,587.0 L431.9,596.3 L430.5,605.8 L429.1,615.5 L427.8,625.4 L426.6,635.2 L425.5,645.2 L424.4,655.1 L423.5,664.9 L422.7,674.7 L421.9,684.4 L421.3,693.8 L420.8,703.0 L420.4,712.0 L420.1,720.7 L419.9,729.1 L419.9,737.0 M446.9,524.0 L446.9,530.5 L446.9,537.5 L446.9,544.9 L446.9,552.8 L446.9,561.0 L446.9,569.6 L446.9,578.5 L446.9,587.7 L446.9,597.1 L446.9,606.7 L446.9,616.5 L446.9,626.4 L446.9,636.3 L446.9,646.3 L446.9,656.3 L446.9,666.2 L446.9,676.0 L446.9,685.7 L446.9,695.2 L446.9,704.4 L446.9,713.4 L446.9,722.2 L446.9,730.5 L446.9,738.5 M446.9,524.0 L448.7,530.4 L450.4,537.3 L452.2,544.6 L453.9,552.4 L455.6,560.5 L457.2,569.0 L458.9,577.9 L460.4,587.0 L461.9,596.3 L463.3,605.8 L464.7,615.5 L466.0,625.4 L467.2,635.2 L468.3,645.2 L469.4,655.1 L470.3,664.9 L471.1,674.7 L471.9,684.4 L472.5,693.8 L473.0,703.0 L473.4,712.0 L473.7,720.7 L473.9,729.1 L473.9,737.0 M446.9,524.0 L450.4,530.1 L453.8,536.7 L457.3,543.8 L460.7,551.3 L464.0,559.2 L467.3,567.4 L470.4,576.0 L473.5,584.8 L476.5,593.9 L479.3,603.2 L482.0,612.7 L484.5,622.3 L486.9,632.0 L489.1,641.8 L491.1,651.5 L493.0,661.2 L494.6,670.9 L496.1,680.4 L497.3,689.7 L498.3,698.9 L499.1,707.8 L499.7,716.4 L500.0,724.8 L500.1,732.7 M446.9,524.0 L452.0,529.7 L457.1,535.8 L462.1,542.4 L467.0,549.5 L471.9,556.9 L476.7,564.7 L481.3,572.9 L485.8,581.3 L490.1,590.0 L494.3,598.9 L498.2,608.1 L501.9,617.3 L505.4,626.7 L508.6,636.2 L511.6,645.7 L514.3,655.1 L516.7,664.5 L518.8,673.9 L520.6,683.1 L522.0,692.1 L523.2,700.9 L524.0,709.5 L524.5,717.7 L524.7,725.7 M446.9,524.0 L453.4,529.0 L460.0,534.6 L466.4,540.6 L472.8,547.0 L479.0,553.8 L485.2,561.1 L491.1,568.6 L496.9,576.5 L502.5,584.7 L507.8,593.1 L512.8,601.8 L517.6,610.6 L522.1,619.5 L526.2,628.6 L530.1,637.7 L533.5,646.9 L536.6,656.0 L539.3,665.0 L541.6,674.0 L543.5,682.9 L545.0,691.5 L546.1,700.0 L546.7,708.2 L546.9,716.2 M446.9,524.0 L454.7,528.3 L462.5,533.0 L470.2,538.3 L477.8,543.9 L485.2,550.0 L492.5,556.5 L499.6,563.4 L506.5,570.6 L513.1,578.2 L519.5,586.0 L525.5,594.0 L531.2,602.3 L536.5,610.7 L541.5,619.3 L546.0,627.9 L550.1,636.7 L553.8,645.4 L557.0,654.2 L559.8,662.9 L562.0,671.5 L563.8,680.0 L565.1,688.3 L565.8,696.5 L566.1,704.4 M446.9,524.0 L455.7,527.4 L464.5,531.3 L473.2,535.6 L481.8,540.4 L490.2,545.7 L498.5,551.3 L506.5,557.4 L514.3,563.8 L521.8,570.6 L528.9,577.7 L535.7,585.0 L542.2,592.6 L548.2,600.4 L553.8,608.4 L558.9,616.6 L563.6,624.9 L567.8,633.2 L571.4,641.6 L574.5,650.0 L577.1,658.3 L579.1,666.6 L580.5,674.8 L581.4,682.9 L581.7,690.8 M446.9,524.0 L456.5,526.4 L466.0,529.3 L475.4,532.7 L484.7,536.5 L493.9,540.8 L502.9,545.6 L511.6,550.7 L520.0,556.3 L528.1,562.2 L535.9,568.5 L543.3,575.1 L550.3,582.0 L556.8,589.1 L562.9,596.5 L568.5,604.0 L573.5,611.8 L578.0,619.7 L582.0,627.6 L585.4,635.7 L588.1,643.8 L590.3,651.8 L591.9,659.9 L592.8,667.8 L593.1,675.7 M446.9,524.0 L456.9,525.3 L466.9,527.2 L476.8,529.5 L486.6,532.3 L496.2,535.6 L505.5,539.4 L514.7,543.6 L523.5,548.2 L532.0,553.3 L540.2,558.7 L547.9,564.5 L555.3,570.6 L562.1,577.0 L568.5,583.7 L574.3,590.7 L579.6,597.9 L584.3,605.2 L588.5,612.8 L592.0,620.5 L594.9,628.2 L597.2,636.0 L598.8,643.9 L599.8,651.8 L600.1,659.6" fill="none" stroke="#000" stroke-opacity="0.50" stroke-width="0.60"/>
<g><path d="M934.80,643.00 A215.70,164.40 0 0 1 1366.20,643.00 Z" fill="rgb(0,0,200)"/><path d="M935.45,643.00 A215.05,163.90 0 0 1 1365.55,643.00 Z" fill="rgb(0,0,200)"/><path d="M936.11,643.00 A214.39,163.39 0 0 1 1364.89,643.00 Z" fill="rgb(0,0,200)"/><path d="M936.76,643.00 A213.74,162.89 0 0 1 1364.24,643.00 Z" fill="rgb(0,0,200)"/><path d="M937.42,643.00 A213.08,162.38 0 0 1 1363.58,643.00 Z" fill="rgb(0,0,200)"/><path d="M938.07,643.00 A212.43,161.88 0 0 1 1362.93,643.00 Z" fill="rgb(0,0,200)"/><path d="M938.73,643.00 A211.77,161.37 0 0 1 1362.27,643.00 Z" fill="rgb(0,0,200)"/><path d="M939.38,643.00 A211.12,160.87 0 0 1 1361.62,643.00 Z" fill="rgb(0,0,200)"/><path d="M940.04,643.00 A210.46,160.36 0 0 1 1360.96,643.00 Z" fill="rgb(0,0,200)"/><path d="M940.69,643.00 A209.81,159.86 0 0 1 1360.31,643.00 Z" fill="rgb(0,0,200)"/><path d="M941.34,643.00 A209.16,159.36 0 0 1 1359.66,643.00 Z" fill="rgb(0,0,200)"/><path d="M942.00,643.00 A208.50,158.85 0 0 1 1359.00,643.00 Z" fill="rgb(0,0,200)"/><path d="M942.65,643.00 A207.85,158.35 0 0 1 1358.35,643.00 Z" fill="rgb(0,0,200)"/><path d="M943.31,643.00 A207.19,157.84 0 0 1 1357.69,643.00 Z" fill="rgb(0,0,200)"/><path d="M943.96,643.00 A206.54,157.34 0 0 1 1357.04,643.00 Z" fill="rgb(0,0,200)"/><path d="M944.62,643.00 A205.88,156.83 0 0 1 1356.38,643.00 Z" fill="rgb(0,0,200)"/><path d="M945.27,643.00 A205.23,156.33 0 0 1 1355.73,643.00 Z" fill="rgb(0,0,200)"/><path d="M945.93,643.00 A204.57,155.82 0 0 1 1355.07,643.00 Z" fill="rgb(0,0,200)"/><path d="M946.58,643.00 A203.92,155.32 0 0 1 1354.42,643.00 Z" fill="rgb(0,0,200)"/><path d="M947.23,643.00 A203.27,154.82 0 0 1 1353.77,643.00 Z" fill="rgb(0,0,200)"/><path d="M947.89,643.00 A202.61,154.31 0 0 1 1353.11,643.00 Z" fill="rgb(0,0,200)"/><path d="M948.54,643.00 A201.96,153.81 0 0 1 1352.46,643.00 Z" fill="rgb(0,0,200)"/><path d="M949.20,643.00 A201.30,153.30 0 0 1 1351.80,643.00 Z" fill="rgb(0,0,200)"/><path d="M949.85,643.00 A200.65,152.80 0 0 1 1351.15,643.00 Z" fill="rgb(0,0,200)"/><path d="M950.51,643.00 A199.99,152.29 0 0 1 1350.49,643.00 Z" fill="rgb(0,0,200)"/><path d="M951.16,643.00 A199.34,151.79 0 0 1 1349.84,643.00 Z" fill="rgb(0,0,200)"/><path d="M951.82,643.00 A198.68,151.28 0 0 1 1349.18,643.00 Z" fill="rgb(0,0,200)"/><path d="M952.47,643.00 A198.03,150.78 0 0 1 1348.53,643.00 Z" fill="rgb(0,0,200)"/><path d="M953.12,643.00 A197.38,150.28 0 0 1 1347.88,643.00 Z" fill="rgb(0,0,200)"/><path d="M953.78,643.00 A196.72,149.77 0 0 1 1347.22,643.00 Z" fill="rgb(0,0,200)"/><path d="M954.43,643.00 A196.07,149.27 0 0 1 1346.57,643.00 Z" fill="rgb(0,0,200)"/><path d="M955.09,643.00 A195.41,148.76 0 0 1 1345.91,643.00 Z" fill="rgb(0,0,200)"/><path d="M955.74,643.00 A194.76,148.26 0 0 1 1345.26,643.00 Z" fill="rgb(0,0,200)"/><path d="M956.40,643.00 A194.10,147.75 0 0 1 1344.60,643.00 Z" fill="rgb(0,0,200)"/><path d="M957.05,643.00 A193.45,147.25 0 0 1 1343.95,643.00 Z" fill="rgb(0,72,208)"/><path d="M957.71,643.00 A192.79,146.74 0 0 1 1343.29,643.00 Z" fill="rgb(0,130,215)"/><path d="M958.36,643.00 A192.14,146.24 0 0 1 1342.64,643.00 Z" fill="rgb(0,131,215)"/><path d="M959.01,643.00 A191.49,145.74 0 0 1 1341.99,643.00 Z" fill="rgb(0,133,215)"/><path d="M959.67,643.00 A190.83,145.23 0 0 1 1341.33,643.00 Z" fill="rgb(0,134,215)"/><path d="M960.32,643.00 A190.18,144.73 0 0 1 1340.68,643.00 Z" fill="rgb(0,135,215)"/><path d="M960.98,643.00 A189.52,144.22 0 0 1 1340.02,643.00 Z" fill="rgb(0,136,215)"/><path d="M961.63,643.00 A188.87,143.72 0 0 1 1339.37,643.00 Z" fill="rgb(0,137,215)"/><path d="M962.29,643.00 A188.21,143.21 0 0 1 1338.71,643.00 Z" fill="rgb(0,138,215)"/><path d="M962.94,643.00 A187.56,142.71 0 0 1 1338.06,643.00 Z" fill="rgb(0,139,215)"/><path d="M963.60,643.00 A186.90,142.20 0 0 1 1337.40,643.00 Z" fill="rgb(0,140,215)"/><path d="M964.25,643.00 A186.25,141.70 0 0 1 1336.75,643.00 Z" fill="rgb(0,141,215)"/><path d="M964.90,643.00 A185.60,141.20 0 0 1 1336.10,643.00 Z" fill="rgb(0,142,215)"/><path d="M965.56,643.00 A184.94,140.69 0 0 1 1335.44,643.00 Z" fill="rgb(0,143,215)"/><path d="M966.21,643.00 A184.29,140.19 0 0 1 1334.79,643.00 Z" fill="rgb(0,144,215)"/><path d="M966.87,643.00 A183.63,139.68 0 0 1 1334.13,643.00 Z" fill="rgb(0,145,215)"/><path d="M967.52,643.00 A182.98,139.18 0 0 1 1333.48,643.00 Z" fill="rgb(0,146,215)"/><path d="M968.18,643.00 A182.32,138.67 0 0 1 1332.82,643.00 Z" fill="rgb(0,147,215)"/><path d="M968.83,643.00 A181.67,138.17 0 0 1 1332.17,643.00 Z" fill="rgb(0,148,215)"/><path d="M969.49,643.00 A181.01,137.66 0 0 1 1331.51,643.00 Z" fill="rgb(0,149,215)"/><path d="M970.14,643.00 A180.36,137.16 0 0 1 1330.86,643.00 Z" fill="rgb(0,154,214)"/><path d="M970.79,643.00 A179.71,136.66 0 0 1 1330.21,643.00 Z" fill="rgb(0,161,212)"/><path d="M971.45,643.00 A179.05,136.15 0 0 1 1329.55,643.00 Z" fill="rgb(0,169,210)"/><path d="M972.10,643.00 A178.40,135.65 0 0 1 1328.90,643.00 Z" fill="rgb(0,176,209)"/><path d="M972.76,643.00 A177.74,135.14 0 0 1 1328.24,643.00 Z" fill="rgb(0,183,207)"/><path d="M973.41,643.00 A177.09,134.64 0 0 1 1327.59,643.00 Z" fill="rgb(0,190,205)"/><path d="M974.07,643.00 A176.43,134.13 0 0 1 1326.93,643.00 Z" fill="rgb(0,191,205)"/><path d="M974.72,643.00 A175.78,133.63 0 0 1 1326.28,643.00 Z" fill="rgb(0,191,204)"/><path d="M975.38,643.00 A175.12,133.12 0 0 1 1325.62,643.00 Z" fill="rgb(0,192,204)"/><path d="M976.03,643.00 A174.47,132.62 0 0 1 1324.97,643.00 Z" fill="rgb(0,193,204)"/><path d="M976.68,643.00 A173.82,132.12 0 0 1 1324.32,643.00 Z" fill="rgb(0,194,203)"/><path d="M977.34,643.00 A173.16,131.61 0 0 1 1323.66,643.00 Z" fill="rgb(0,194,203)"/><path d="M977.99,643.00 A172.51,131.11 0 0 1 1323.01,643.00 Z" fill="rgb(0,195,203)"/><path d="M978.65,643.00 A171.85,130.60 0 0 1 1322.35,643.00 Z" fill="rgb(0,196,202)"/><path d="M979.30,643.00 A171.20,130.10 0 0 1 1321.70,643.00 Z" fill="rgb(0,196,202)"/><path d="M979.96,643.00 A170.54,129.59 0 0 1 1321.04,643.00 Z" fill="rgb(0,197,201)"/><path d="M980.61,643.00 A169.89,129.09 0 0 1 1320.39,643.00 Z" fill="rgb(0,198,201)"/><path d="M981.27,643.00 A169.23,128.58 0 0 1 1319.73,643.00 Z" fill="rgb(0,198,201)"/><path d="M981.92,643.00 A168.58,128.08 0 0 1 1319.08,643.00 Z" fill="rgb(0,199,200)"/><path d="M982.57,643.00 A167.93,127.58 0 0 1 1318.43,643.00 Z" fill="rgb(0,200,200)"/><path d="M983.23,643.00 A167.27,127.07 0 0 1 1317.77,643.00 Z" fill="rgb(0,201,190)"/><path d="M983.88,643.00 A166.62,126.57 0 0 1 1317.12,643.00 Z" fill="rgb(0,202,176)"/><path d="M984.54,643.00 A165.96,126.06 0 0 1 1316.46,643.00 Z" fill="rgb(0,204,162)"/><path d="M985.19,643.00 A165.31,125.56 0 0 1 1315.81,643.00 Z" fill="rgb(0,205,150)"/><path d="M985.85,643.00 A164.65,125.05 0 0 1 1315.15,643.00 Z" fill="rgb(0,205,150)"/><path d="M986.50,643.00 A164.00,124.55 0 0 1 1314.50,643.00 Z" fill="rgb(0,205,150)"/><path d="M987.16,643.00 A163.34,124.04 0 0 1 1313.84,643.00 Z" fill="rgb(0,205,150)"/><path d="M987.81,643.00 A162.69,123.54 0 0 1 1313.19,643.00 Z" fill="rgb(0,205,150)"/><path d="M988.46,643.00 A162.04,123.04 0 0 1 1312.54,643.00 Z" fill="rgb(0,205,150)"/><path d="M989.12,643.00 A161.38,122.53 0 0 1 1311.88,643.00 Z" fill="rgb(0,205,150)"/><path d="M989.77,643.00 A160.73,122.03 0 0 1 1311.23,643.00 Z" fill="rgb(0,205,150)"/><path d="M990.43,643.00 A160.07,121.52 0 0 1 1310.57,643.00 Z" fill="rgb(0,205,150)"/><path d="M991.08,643.00 A159.42,121.02 0 0 1 1309.92,643.00 Z" fill="rgb(0,205,150)"/><path d="M991.74,643.00 A158.76,120.51 0 0 1 1309.26,643.00 Z" fill="rgb(0,205,150)"/><path d="M992.39,643.00 A158.11,120.01 0 0 1 1308.61,643.00 Z" fill="rgb(0,205,150)"/><path d="M993.05,643.00 A157.45,119.50 0 0 1 1307.95,643.00 Z" fill="rgb(0,205,150)"/></g>
<path d="M958.8,626.0 C958.8,634.7 950.7,641.0 940.8,641.0 L935.6,641.0 L935.6,643.0 L960.8,643.0 Z" fill="rgb(0,130,215)"/>
<path d="M935.6,640.8 L960.8,640.8 L960.8,643.0 L935.6,643.0 Z" fill="rgb(0,185,210)"/>
<path d="M1342.2,626.0 C1342.2,634.7 1350.3,641.0 1360.2,641.0 L1365.4,641.0 L1365.4,643.0 L1340.2,643.0 Z" fill="rgb(0,130,215)"/>
<path d="M1365.4,640.8 L1340.2,640.8 L1340.2,643.0 L1365.4,643.0 Z" fill="rgb(0,185,210)"/>
<path d="M940.15,643.00 A210.35,160.27 0 0 1 1360.85,643.00 M945.51,643.00 A204.99,156.15 0 0 1 1355.49,643.00 M950.86,643.00 A199.64,152.02 0 0 1 1350.14,643.00 M956.22,643.00 A194.28,147.89 0 0 1 1344.78,643.00 M961.57,643.00 A188.93,143.76 0 0 1 1339.43,643.00 M966.93,643.00 A183.57,139.64 0 0 1 1334.07,643.00 M972.28,643.00 A178.22,135.51 0 0 1 1328.72,643.00 M977.64,643.00 A172.86,131.38 0 0 1 1323.36,643.00 M982.99,643.00 A167.51,127.25 0 0 1 1318.01,643.00 M988.35,643.00 A162.15,123.13 0 0 1 1312.65,643.00 M934.9,639.0 L993.7,640.1 M935.1,635.1 L993.9,637.3 M935.4,631.1 L994.1,634.4 M935.8,627.1 L994.4,631.5 M936.4,623.2 L994.8,628.7 M937.1,619.2 L995.3,625.8 M937.9,615.3 L995.9,623.0 M938.8,611.4 L996.6,620.1 M939.9,607.5 L997.4,617.3 M941.1,603.7 L998.3,614.5 M942.4,599.8 L999.2,611.7 M943.8,596.0 L1000.2,609.0 M945.4,592.2 L1001.4,606.2 M947.0,588.4 L1002.6,603.5 M948.8,584.7 L1003.9,600.8 M950.7,581.0 L1005.3,598.1 M952.7,577.3 L1006.7,595.5 M954.9,573.7 L1008.3,592.9 M957.1,570.1 L1009.9,590.3 M959.5,566.6 L1011.7,587.7 M962.0,563.1 L1013.5,585.2 M964.6,559.7 L1015.3,582.7 M967.3,556.3 L1017.3,580.2 M970.1,552.9 L1019.3,577.8 M973.0,549.6 L1021.5,575.4 M976.0,546.4 L1023.6,573.1 M979.1,543.2 L1025.9,570.7 M982.3,540.1 L1028.2,568.5 M985.6,537.0 L1030.7,566.3 M989.0,534.0 L1033.1,564.1 M992.5,531.0 L1035.7,562.0 M996.1,528.2 L1038.3,559.9 M999.8,525.4 L1041.0,557.8 M1003.6,522.6 L1043.7,555.9 M1007.5,519.9 L1046.5,553.9 M1011.4,517.3 L1049.4,552.0 M1015.4,514.8 L1052.3,550.2 M1019.5,512.4 L1055.3,548.4 M1023.7,510.0 L1058.3,546.7 M1028.0,507.7 L1061.4,545.1 M1032.3,505.5 L1064.6,543.5 M1036.7,503.3 L1067.8,541.9 M1041.1,501.3 L1071.0,540.4 M1045.7,499.3 L1074.3,539.0 M1050.3,497.4 L1077.6,537.6 M1054.9,495.6 L1081.0,536.3 M1059.6,493.9 L1084.4,535.1 M1064.4,492.3 L1087.9,533.9 M1069.2,490.7 L1091.4,532.8 M1074.0,489.3 L1094.9,531.7 M1078.9,487.9 L1098.5,530.7 M1083.8,486.6 L1102.0,529.8 M1088.8,485.5 L1105.7,529.0 M1093.8,484.4 L1109.3,528.2 M1098.9,483.4 L1113.0,527.5 M1104.0,482.5 L1116.7,526.8 M1109.1,481.7 L1120.4,526.2 M1114.2,480.9 L1124.1,525.7 M1119.3,480.3 L1127.8,525.2 M1124.5,479.8 L1131.6,524.9 M1129.7,479.4 L1135.4,524.6 M1134.9,479.0 L1139.1,524.3 M1140.1,478.8 L1142.9,524.1 M1145.3,478.6 L1146.7,524.0 M1150.5,478.6 L1150.5,524.0 M1155.7,478.6 L1154.3,524.0 M1160.9,478.8 L1158.1,524.1 M1166.1,479.0 L1161.9,524.3 M1171.3,479.4 L1165.6,524.6 M1176.5,479.8 L1169.4,524.9 M1181.7,480.3 L1173.2,525.2 M1186.8,480.9 L1176.9,525.7 M1191.9,481.7 L1180.6,526.2 M1197.0,482.5 L1184.3,526.8 M1202.1,483.4 L1188.0,527.5 M1207.2,484.4 L1191.7,528.2 M1212.2,485.5 L1195.3,529.0 M1217.2,486.6 L1199.0,529.8 M1222.1,487.9 L1202.5,530.7 M1227.0,489.3 L1206.1,531.7 M1231.8,490.7 L1209.6,532.8 M1236.6,492.3 L1213.1,533.9 M1241.4,493.9 L1216.6,535.1 M1246.1,495.6 L1220.0,536.3 M1250.7,497.4 L1223.4,537.6 M1255.3,499.3 L1226.7,539.0 M1259.9,501.3 L1230.0,540.4 M1264.3,503.3 L1233.2,541.9 M1268.7,505.5 L1236.4,543.5 M1273.0,507.7 L1239.6,545.1 M1277.3,510.0 L1242.7,546.7 M1281.5,512.4 L1245.7,548.4 M1285.6,514.8 L1248.7,550.2 M1289.6,517.3 L1251.6,552.0 M1293.5,519.9 L1254.5,553.9 M1297.4,522.6 L1257.3,555.9 M1301.2,525.4 L1260.0,557.8 M1304.9,528.2 L1262.7,559.9 M1308.5,531.0 L1265.3,562.0 M1312.0,534.0 L1267.9,564.1 M1315.4,537.0 L1270.3,566.3 M1318.7,540.1 L1272.8,568.5 M1321.9,543.2 L1275.1,570.7 M1325.0,546.4 L1277.4,573.1 M1328.0,549.6 L1279.5,575.4 M1330.9,552.9 L1281.7,577.8 M1333.7,556.3 L1283.7,580.2 M1336.4,559.7 L1285.7,582.7 M1339.0,563.1 L1287.5,585.2 M1341.5,566.6 L1289.3,587.7 M1343.9,570.1 L1291.1,590.3 M1346.1,573.7 L1292.7,592.9 M1348.3,577.3 L1294.3,595.5 M1350.3,581.0 L1295.7,598.1 M1352.2,584.7 L1297.1,600.8 M1354.0,588.4 L1298.4,603.5 M1355.6,592.2 L1299.6,606.2 M1357.2,596.0 L1300.8,609.0 M1358.6,599.8 L1301.8,611.7 M1359.9,603.7 L1302.7,614.5 M1361.1,607.5 L1303.6,617.3 M1362.2,611.4 L1304.4,620.1 M1363.1,615.3 L1305.1,623.0 M1363.9,619.2 L1305.7,625.8 M1364.6,623.2 L1306.2,628.7 M1365.2,627.1 L1306.6,631.5 M1365.6,631.1 L1306.9,634.4 M1365.9,635.1 L1307.1,637.3 M1366.1,639.0 L1307.3,640.1" fill="none" stroke="#000" stroke-opacity="0.42" stroke-width="0.55"/>
<g><polygon points="934.8,643.0 938.1,667.1 947.8,690.4 963.7,712.2 985.3,732.0 1011.9,749.1 1042.7,762.9 1076.7,773.1 1113.0,779.4 1150.5,781.5 1188.0,779.4 1224.3,773.1 1258.3,762.9 1289.1,749.1 1315.7,732.0 1337.3,712.2 1353.2,690.4 1362.9,667.1 1366.2,643.0" fill="rgb(0,65,85)"/><polygon points="935.5,643.0 938.7,667.0 948.4,690.2 964.3,712.0 985.8,731.7 1012.3,748.7 1043.0,762.5 1077.0,772.7 1113.2,778.9 1150.5,781.0 1187.8,778.9 1224.0,772.7 1258.0,762.5 1288.7,748.7 1315.2,731.7 1336.7,712.0 1352.6,690.2 1362.3,667.0 1365.5,643.0" fill="rgb(0,65,86)"/><polygon points="936.1,643.0 939.4,666.9 949.0,690.0 964.8,711.8 986.3,731.4 1012.7,748.4 1043.3,762.1 1077.2,772.2 1113.3,778.4 1150.5,780.5 1187.7,778.4 1223.8,772.2 1257.7,762.1 1288.3,748.4 1314.7,731.4 1336.2,711.8 1352.0,690.0 1361.6,666.9 1364.9,643.0" fill="rgb(0,65,87)"/><polygon points="936.8,643.0 940.0,666.8 949.7,689.9 965.4,711.5 986.8,731.1 1013.1,748.0 1043.6,761.7 1077.4,771.8 1113.4,778.0 1150.5,780.0 1187.6,778.0 1223.6,771.8 1257.4,761.7 1287.9,748.0 1314.2,731.1 1335.6,711.5 1351.3,689.9 1361.0,666.8 1364.2,643.0" fill="rgb(0,65,88)"/><polygon points="937.4,643.0 940.7,666.7 950.3,689.7 966.0,711.3 987.3,730.8 1013.5,747.6 1044.0,761.3 1077.6,771.3 1113.5,777.5 1150.5,779.6 1187.5,777.5 1223.4,771.3 1257.0,761.3 1287.5,747.6 1313.7,730.8 1335.0,711.3 1350.7,689.7 1360.3,666.7 1363.6,643.0" fill="rgb(0,65,88)"/><polygon points="938.1,643.0 941.3,666.6 950.9,689.5 966.5,711.0 987.8,730.5 1014.0,747.2 1044.3,760.9 1077.8,770.9 1113.6,777.0 1150.5,779.1 1187.4,777.0 1223.2,770.9 1256.7,760.9 1287.0,747.2 1313.2,730.5 1334.5,711.0 1350.1,689.5 1359.7,666.6 1362.9,643.0" fill="rgb(0,65,89)"/><polygon points="938.7,643.0 941.9,666.5 951.5,689.4 967.1,710.8 988.3,730.2 1014.4,746.9 1044.6,760.4 1078.1,770.4 1113.7,776.5 1150.5,778.6 1187.3,776.5 1222.9,770.4 1256.4,760.4 1286.6,746.9 1312.7,730.2 1333.9,710.8 1349.5,689.4 1359.1,666.5 1362.3,643.0" fill="rgb(0,65,90)"/><polygon points="939.4,643.0 942.6,666.5 952.1,689.2 967.7,710.6 988.8,729.9 1014.8,746.5 1044.9,760.0 1078.3,770.0 1113.8,776.1 1150.5,778.1 1187.2,776.1 1222.7,770.0 1256.1,760.0 1286.2,746.5 1312.2,729.9 1333.3,710.6 1348.9,689.2 1358.4,666.5 1361.6,643.0" fill="rgb(0,38,98)"/><polygon points="940.0,643.0 943.2,666.4 952.7,689.0 968.2,710.3 989.3,729.5 1015.2,746.1 1045.3,759.6 1078.5,769.5 1114.0,775.6 1150.5,777.6 1187.0,775.6 1222.5,769.5 1255.7,759.6 1285.8,746.1 1311.7,729.5 1332.8,710.3 1348.3,689.0 1357.8,666.4 1361.0,643.0" fill="rgb(0,2,109)"/><polygon points="940.7,643.0 943.9,666.3 953.3,688.9 968.8,710.1 989.8,729.2 1015.6,745.8 1045.6,759.2 1078.7,769.1 1114.1,775.1 1150.5,777.1 1186.9,775.1 1222.3,769.1 1255.4,759.2 1285.4,745.8 1311.2,729.2 1332.2,710.1 1347.7,688.9 1357.1,666.3 1360.3,643.0" fill="rgb(0,0,110)"/><polygon points="941.3,643.0 944.5,666.2 954.0,688.7 969.4,709.8 990.3,728.9 1016.1,745.4 1045.9,758.8 1079.0,768.6 1114.2,774.6 1150.5,776.7 1186.8,774.6 1222.0,768.6 1255.1,758.8 1284.9,745.4 1310.7,728.9 1331.6,709.8 1347.0,688.7 1356.5,666.2 1359.7,643.0" fill="rgb(0,0,110)"/><polygon points="942.0,643.0 945.2,666.1 954.6,688.6 969.9,709.6 990.8,728.6 1016.5,745.0 1046.2,758.3 1079.2,768.2 1114.3,774.2 1150.5,776.2 1186.7,774.2 1221.8,768.2 1254.8,758.3 1284.5,745.0 1310.2,728.6 1331.1,709.6 1346.4,688.6 1355.8,666.1 1359.0,643.0" fill="rgb(0,0,110)"/><polygon points="942.7,643.0 945.8,666.0 955.2,688.4 970.5,709.4 991.3,728.3 1016.9,744.7 1046.6,757.9 1079.4,767.7 1114.4,773.7 1150.5,775.7 1186.6,773.7 1221.6,767.7 1254.4,757.9 1284.1,744.7 1309.7,728.3 1330.5,709.4 1345.8,688.4 1355.2,666.0 1358.3,643.0" fill="rgb(0,0,110)"/><polygon points="943.3,643.0 946.5,666.0 955.8,688.2 971.1,709.1 991.8,728.0 1017.3,744.3 1046.9,757.5 1079.6,767.2 1114.5,773.2 1150.5,775.2 1186.5,773.2 1221.4,767.2 1254.1,757.5 1283.7,744.3 1309.2,728.0 1329.9,709.1 1345.2,688.2 1354.5,666.0 1357.7,643.0" fill="rgb(0,28,104)"/><polygon points="944.0,643.0 947.1,665.9 956.4,688.1 971.6,708.9 992.3,727.7 1017.7,743.9 1047.2,757.1 1079.9,766.8 1114.6,772.7 1150.5,774.7 1186.4,772.7 1221.1,766.8 1253.8,757.1 1283.3,743.9 1308.7,727.7 1329.4,708.9 1344.6,688.1 1353.9,665.9 1357.0,643.0" fill="rgb(0,59,97)"/><polygon points="944.6,643.0 947.7,665.8 957.0,687.9 972.2,708.6 992.8,727.4 1018.2,743.5 1047.6,756.7 1080.1,766.3 1114.7,772.3 1150.5,774.2 1186.3,772.3 1220.9,766.3 1253.4,756.7 1282.8,743.5 1308.2,727.4 1328.8,708.6 1344.0,687.9 1353.3,665.8 1356.4,643.0" fill="rgb(0,70,95)"/><polygon points="945.3,643.0 948.4,665.7 957.6,687.7 972.8,708.4 993.3,727.1 1018.6,743.2 1047.9,756.2 1080.3,765.9 1114.9,771.8 1150.5,773.8 1186.1,771.8 1220.7,765.9 1253.1,756.2 1282.4,743.2 1307.7,727.1 1328.2,708.4 1343.4,687.7 1352.6,665.7 1355.7,643.0" fill="rgb(0,71,95)"/><polygon points="945.9,643.0 949.0,665.6 958.3,687.6 973.3,708.1 993.8,726.7 1019.0,742.8 1048.2,755.8 1080.5,765.4 1115.0,771.3 1150.5,773.3 1186.0,771.3 1220.5,765.4 1252.8,755.8 1282.0,742.8 1307.2,726.7 1327.7,708.1 1342.7,687.6 1352.0,665.6 1355.1,643.0" fill="rgb(0,71,95)"/><polygon points="946.6,643.0 949.7,665.5 958.9,687.4 973.9,707.9 994.3,726.4 1019.4,742.4 1048.5,755.4 1080.8,765.0 1115.1,770.8 1150.5,772.8 1185.9,770.8 1220.2,765.0 1252.5,755.4 1281.6,742.4 1306.7,726.4 1327.1,707.9 1342.1,687.4 1351.3,665.5 1354.4,643.0" fill="rgb(0,72,95)"/><polygon points="947.2,643.0 950.3,665.5 959.5,687.2 974.5,707.7 994.8,726.1 1019.8,742.1 1048.9,755.0 1081.0,764.5 1115.2,770.4 1150.5,772.3 1185.8,770.4 1220.0,764.5 1252.1,755.0 1281.2,742.1 1306.2,726.1 1326.5,707.7 1341.5,687.2 1350.7,665.5 1353.8,643.0" fill="rgb(0,72,95)"/><polygon points="947.9,643.0 951.0,665.4 960.1,687.1 975.0,707.4 995.3,725.8 1020.3,741.7 1049.2,754.6 1081.2,764.1 1115.3,769.9 1150.5,771.8 1185.7,769.9 1219.8,764.1 1251.8,754.6 1280.7,741.7 1305.7,725.8 1326.0,707.4 1340.9,687.1 1350.0,665.4 1353.1,643.0" fill="rgb(0,73,95)"/><polygon points="948.5,643.0 951.6,665.3 960.7,686.9 975.6,707.2 995.8,725.5 1020.7,741.3 1049.5,754.2 1081.4,763.6 1115.4,769.4 1150.5,771.4 1185.6,769.4 1219.6,763.6 1251.5,754.2 1280.3,741.3 1305.2,725.5 1325.4,707.2 1340.3,686.9 1349.4,665.3 1352.5,643.0" fill="rgb(0,73,95)"/><polygon points="949.2,643.0 952.3,665.2 961.3,686.7 976.2,706.9 996.3,725.2 1021.1,741.0 1049.8,753.7 1081.7,763.2 1115.5,768.9 1150.5,770.9 1185.5,768.9 1219.3,763.2 1251.2,753.7 1279.9,741.0 1304.7,725.2 1324.8,706.9 1339.7,686.7 1348.7,665.2 1351.8,643.0" fill="rgb(0,74,95)"/><polygon points="949.9,643.0 952.9,665.1 962.0,686.6 976.7,706.7 996.8,724.9 1021.5,740.6 1050.2,753.3 1081.9,762.7 1115.7,768.4 1150.5,770.4 1185.3,768.4 1219.1,762.7 1250.8,753.3 1279.5,740.6 1304.2,724.9 1324.3,706.7 1339.0,686.6 1348.1,665.1 1351.1,643.0" fill="rgb(0,74,95)"/><polygon points="950.5,643.0 953.5,665.0 962.6,686.4 977.3,706.5 997.3,724.6 1021.9,740.2 1050.5,752.9 1082.1,762.2 1115.8,768.0 1150.5,769.9 1185.2,768.0 1218.9,762.2 1250.5,752.9 1279.1,740.2 1303.7,724.6 1323.7,706.5 1338.4,686.4 1347.5,665.0 1350.5,643.0" fill="rgb(0,75,95)"/><polygon points="951.2,643.0 954.2,665.0 963.2,686.2 977.9,706.2 997.8,724.3 1022.4,739.8 1050.8,752.5 1082.3,761.8 1115.9,767.5 1150.5,769.4 1185.1,767.5 1218.7,761.8 1250.2,752.5 1278.6,739.8 1303.2,724.3 1323.1,706.2 1337.8,686.2 1346.8,665.0 1349.8,643.0" fill="rgb(0,75,95)"/><polygon points="951.8,643.0 954.8,664.9 963.8,686.1 978.4,706.0 998.3,723.9 1022.8,739.5 1051.2,752.1 1082.5,761.3 1116.0,767.0 1150.5,768.9 1185.0,767.0 1218.5,761.3 1249.8,752.1 1278.2,739.5 1302.7,723.9 1322.6,706.0 1337.2,686.1 1346.2,664.9 1349.2,643.0" fill="rgb(0,76,95)"/><polygon points="952.5,643.0 955.5,664.8 964.4,685.9 979.0,705.7 998.8,723.6 1023.2,739.1 1051.5,751.6 1082.8,760.9 1116.1,766.5 1150.5,768.5 1184.9,766.5 1218.2,760.9 1249.5,751.6 1277.8,739.1 1302.2,723.6 1322.0,705.7 1336.6,685.9 1345.5,664.8 1348.5,643.0" fill="rgb(0,76,95)"/><polygon points="953.1,643.0 956.1,664.7 965.0,685.7 979.6,705.5 999.3,723.3 1023.6,738.7 1051.8,751.2 1083.0,760.4 1116.2,766.1 1150.5,768.0 1184.8,766.1 1218.0,760.4 1249.2,751.2 1277.4,738.7 1301.7,723.3 1321.4,705.5 1336.0,685.7 1344.9,664.7 1347.9,643.0" fill="rgb(0,77,95)"/><polygon points="953.8,643.0 956.8,664.6 965.6,685.6 980.1,705.2 999.8,723.0 1024.1,738.4 1052.1,750.8 1083.2,760.0 1116.3,765.6 1150.5,767.5 1184.7,765.6 1217.8,760.0 1248.9,750.8 1276.9,738.4 1301.2,723.0 1320.9,705.2 1335.4,685.6 1344.2,664.6 1347.2,643.0" fill="rgb(0,77,95)"/><polygon points="954.4,643.0 957.4,664.5 966.3,685.4 980.7,705.0 1000.3,722.7 1024.5,738.0 1052.5,750.4 1083.4,759.5 1116.5,765.1 1150.5,767.0 1184.5,765.1 1217.6,759.5 1248.5,750.4 1276.5,738.0 1300.7,722.7 1320.3,705.0 1334.7,685.4 1343.6,664.5 1346.6,643.0" fill="rgb(0,78,95)"/><polygon points="955.1,643.0 958.1,664.4 966.9,685.2 981.3,704.8 1000.8,722.4 1024.9,737.6 1052.8,750.0 1083.7,759.1 1116.6,764.6 1150.5,766.5 1184.4,764.6 1217.3,759.1 1248.2,750.0 1276.1,737.6 1300.2,722.4 1319.7,704.8 1334.1,685.2 1342.9,664.4 1345.9,643.0" fill="rgb(0,78,95)"/><polygon points="955.7,643.0 958.7,664.4 967.5,685.1 981.8,704.5 1001.3,722.1 1025.3,737.2 1053.1,749.5 1083.9,758.6 1116.7,764.2 1150.5,766.0 1184.3,764.2 1217.1,758.6 1247.9,749.5 1275.7,737.2 1299.7,722.1 1319.2,704.5 1333.5,685.1 1342.3,664.4 1345.3,643.0" fill="rgb(0,79,95)"/><polygon points="956.4,643.0 959.3,664.3 968.1,684.9 982.4,704.3 1001.8,721.8 1025.7,736.9 1053.4,749.1 1084.1,758.2 1116.8,763.7 1150.5,765.5 1184.2,763.7 1216.9,758.2 1247.6,749.1 1275.3,736.9 1299.2,721.8 1318.6,704.3 1332.9,684.9 1341.7,664.3 1344.6,643.0" fill="rgb(0,79,95)"/><polygon points="957.1,643.0 960.0,664.2 968.7,684.7 983.0,704.0 1002.3,721.5 1026.2,736.5 1053.8,748.7 1084.3,757.7 1116.9,763.2 1150.5,765.1 1184.1,763.2 1216.7,757.7 1247.2,748.7 1274.8,736.5 1298.7,721.5 1318.0,704.0 1332.3,684.7 1341.0,664.2 1343.9,643.0" fill="rgb(0,80,95)"/><polygon points="957.7,643.0 960.6,664.1 969.3,684.6 983.5,703.8 1002.8,721.2 1026.6,736.1 1054.1,748.3 1084.6,757.3 1117.0,762.7 1150.5,764.6 1184.0,762.7 1216.4,757.3 1246.9,748.3 1274.4,736.1 1298.2,721.2 1317.5,703.8 1331.7,684.6 1340.4,664.1 1343.3,643.0" fill="rgb(0,80,95)"/><polygon points="958.4,643.0 961.3,664.0 969.9,684.4 984.1,703.5 1003.3,720.8 1027.0,735.8 1054.4,747.9 1084.8,756.8 1117.1,762.3 1150.5,764.1 1183.9,762.3 1216.2,756.8 1246.6,747.9 1274.0,735.8 1297.7,720.8 1316.9,703.6 1331.1,684.4 1339.7,664.0 1342.6,643.0" fill="rgb(0,81,95)"/><polygon points="959.0,643.0 961.9,663.9 970.6,684.3 984.7,703.3 1003.8,720.5 1027.4,735.4 1054.8,747.5 1085.0,756.3 1117.2,761.8 1150.5,763.6 1183.8,761.8 1216.0,756.3 1246.2,747.5 1273.6,735.4 1297.2,720.5 1316.3,703.3 1330.4,684.3 1339.1,663.9 1342.0,643.0" fill="rgb(0,81,95)"/><polygon points="959.7,643.0 962.6,663.9 971.2,684.1 985.2,703.1 1004.3,720.2 1027.8,735.0 1055.1,747.0 1085.2,755.9 1117.4,761.3 1150.5,763.1 1183.6,761.3 1215.8,755.9 1245.9,747.0 1273.2,735.0 1296.7,720.2 1315.8,703.1 1329.8,684.1 1338.4,663.9 1341.3,643.0" fill="rgb(0,82,95)"/><polygon points="960.3,643.0 963.2,663.8 971.8,683.9 985.8,702.8 1004.8,719.9 1028.3,734.7 1055.4,746.6 1085.5,755.4 1117.5,760.8 1150.5,762.6 1183.5,760.8 1215.5,755.4 1245.6,746.6 1272.7,734.7 1296.2,719.9 1315.2,702.8 1329.2,683.9 1337.8,663.8 1340.7,643.0" fill="rgb(0,82,95)"/><polygon points="961.0,643.0 963.9,663.7 972.4,683.8 986.4,702.6 1005.3,719.6 1028.7,734.3 1055.7,746.2 1085.7,755.0 1117.6,760.4 1150.5,762.2 1183.4,760.4 1215.3,755.0 1245.3,746.2 1272.3,734.3 1295.7,719.6 1314.6,702.6 1328.6,683.8 1337.1,663.7 1340.0,643.0" fill="rgb(0,83,95)"/><polygon points="961.6,643.0 964.5,663.6 973.0,683.6 986.9,702.3 1005.8,719.3 1029.1,733.9 1056.1,745.8 1085.9,754.5 1117.7,759.9 1150.5,761.7 1183.3,759.9 1215.1,754.5 1244.9,745.8 1271.9,733.9 1295.2,719.3 1314.1,702.3 1328.0,683.6 1336.5,663.6 1339.4,643.0" fill="rgb(0,83,95)"/><polygon points="962.3,643.0 965.1,663.5 973.6,683.4 987.5,702.1 1006.3,719.0 1029.5,733.5 1056.4,745.4 1086.1,754.1 1117.8,759.4 1150.5,761.2 1183.2,759.4 1214.9,754.1 1244.6,745.4 1271.5,733.5 1294.7,719.0 1313.5,702.1 1327.4,683.4 1335.9,663.5 1338.7,643.0" fill="rgb(0,84,95)"/><polygon points="962.9,643.0 965.8,663.4 974.3,683.3 988.1,701.9 1006.8,718.7 1029.9,733.2 1056.7,744.9 1086.4,753.6 1117.9,758.9 1150.5,760.7 1183.1,758.9 1214.6,753.6 1244.3,744.9 1271.1,733.2 1294.2,718.7 1312.9,701.9 1326.7,683.3 1335.2,663.4 1338.1,643.0" fill="rgb(0,84,95)"/><polygon points="963.6,643.0 966.4,663.4 974.9,683.1 988.6,701.6 1007.3,718.4 1030.4,732.8 1057.0,744.5 1086.6,753.2 1118.0,758.5 1150.5,760.2 1183.0,758.5 1214.4,753.2 1244.0,744.5 1270.6,732.8 1293.7,718.4 1312.4,701.6 1326.1,683.1 1334.6,663.4 1337.4,643.0" fill="rgb(0,85,95)"/><polygon points="964.2,643.0 967.1,663.3 975.5,682.9 989.2,701.4 1007.8,718.0 1030.8,732.4 1057.4,744.1 1086.8,752.7 1118.2,758.0 1150.5,759.8 1182.8,758.0 1214.2,752.7 1243.6,744.1 1270.2,732.4 1293.2,718.0 1311.8,701.4 1325.5,682.9 1333.9,663.3 1336.8,643.0" fill="rgb(0,85,95)"/><polygon points="964.9,643.0 967.7,663.2 976.1,682.8 989.8,701.1 1008.3,717.7 1031.2,732.1 1057.7,743.7 1087.0,752.3 1118.3,757.5 1150.5,759.3 1182.7,757.5 1214.0,752.3 1243.3,743.7 1269.8,732.1 1292.7,717.7 1311.2,701.1 1324.9,682.8 1333.3,663.2 1336.1,643.0" fill="rgb(0,85,95)"/><polygon points="965.6,643.0 968.4,663.1 976.7,682.6 990.3,700.9 1008.8,717.4 1031.6,731.7 1058.0,743.3 1087.2,751.8 1118.4,757.0 1150.5,758.8 1182.6,757.0 1213.8,751.8 1243.0,743.3 1269.4,731.7 1292.2,717.4 1310.7,700.9 1324.3,682.6 1332.6,663.1 1335.4,643.0" fill="rgb(0,86,94)"/><polygon points="966.2,643.0 969.0,663.0 977.3,682.4 990.9,700.6 1009.3,717.1 1032.0,731.3 1058.4,742.9 1087.5,751.3 1118.5,756.5 1150.5,758.3 1182.5,756.5 1213.5,751.3 1242.6,742.9 1269.0,731.3 1291.7,717.1 1310.1,700.7 1323.7,682.4 1332.0,663.0 1334.8,643.0" fill="rgb(0,86,94)"/><polygon points="966.9,643.0 969.7,662.9 977.9,682.3 991.5,700.4 1009.8,716.8 1032.5,731.0 1058.7,742.4 1087.7,750.9 1118.6,756.1 1150.5,757.8 1182.4,756.1 1213.3,750.9 1242.3,742.4 1268.5,731.0 1291.2,716.8 1309.5,700.4 1323.1,682.3 1331.3,662.9 1334.1,643.0" fill="rgb(0,86,94)"/><polygon points="967.5,643.0 970.3,662.9 978.6,682.1 992.0,700.2 1010.3,716.5 1032.9,730.6 1059.0,742.0 1087.9,750.4 1118.7,755.6 1150.5,757.3 1182.3,755.6 1213.1,750.4 1242.0,742.0 1268.1,730.6 1290.7,716.5 1309.0,700.2 1322.4,682.1 1330.7,662.9 1333.5,643.0" fill="rgb(0,86,94)"/><polygon points="968.2,643.0 970.9,662.8 979.2,681.9 992.6,699.9 1010.8,716.2 1033.3,730.2 1059.3,741.6 1088.1,750.0 1118.8,755.1 1150.5,756.9 1182.2,755.1 1212.9,750.0 1241.7,741.6 1267.7,730.2 1290.2,716.2 1308.4,699.9 1321.8,681.9 1330.1,662.8 1332.8,643.0" fill="rgb(0,87,93)"/><polygon points="968.8,643.0 971.6,662.7 979.8,681.8 993.2,699.7 1011.3,715.9 1033.7,729.8 1059.7,741.2 1088.4,749.5 1119.0,754.6 1150.5,756.4 1182.0,754.6 1212.6,749.5 1241.3,741.2 1267.3,729.8 1289.7,715.9 1307.8,699.7 1321.2,681.8 1329.4,662.7 1332.2,643.0" fill="rgb(0,87,93)"/><polygon points="969.5,643.0 972.2,662.6 980.4,681.6 993.7,699.4 1011.8,715.6 1034.1,729.5 1060.0,740.8 1088.6,749.1 1119.1,754.2 1150.5,755.9 1181.9,754.2 1212.4,749.1 1241.0,740.8 1266.9,729.5 1289.2,715.6 1307.3,699.4 1320.6,681.6 1328.8,662.6 1331.5,643.0" fill="rgb(0,87,93)"/><polygon points="970.1,643.0 972.9,662.5 981.0,681.4 994.3,699.2 1012.3,715.2 1034.6,729.1 1060.3,740.3 1088.8,748.6 1119.2,753.7 1150.5,755.4 1181.8,753.7 1212.2,748.6 1240.7,740.3 1266.4,729.1 1288.7,715.2 1306.7,699.2 1320.0,681.4 1328.1,662.5 1330.9,643.0" fill="rgb(0,87,93)"/><polygon points="970.8,643.0 973.5,662.4 981.6,681.3 994.9,699.0 1012.8,714.9 1035.0,728.7 1060.6,739.9 1089.0,748.2 1119.3,753.2 1150.5,754.9 1181.7,753.2 1212.0,748.2 1240.4,739.9 1266.0,728.7 1288.2,714.9 1306.1,699.0 1319.4,681.3 1327.5,662.4 1330.2,643.0" fill="rgb(0,88,92)"/><polygon points="971.4,643.0 974.2,662.4 982.2,681.1 995.4,698.7 1013.3,714.6 1035.4,728.4 1061.0,739.5 1089.3,747.7 1119.4,752.7 1150.5,754.4 1181.6,752.7 1211.7,747.7 1240.0,739.5 1265.6,728.4 1287.7,714.6 1305.6,698.7 1318.8,681.1 1326.8,662.4 1329.6,643.0" fill="rgb(0,88,92)"/><polygon points="972.1,643.0 974.8,662.3 982.9,680.9 996.0,698.5 1013.8,714.3 1035.8,728.0 1061.3,739.1 1089.5,747.3 1119.5,752.3 1150.5,754.0 1181.5,752.3 1211.5,747.3 1239.7,739.1 1265.2,728.0 1287.2,714.3 1305.0,698.5 1318.1,680.9 1326.2,662.3 1328.9,643.0" fill="rgb(0,88,92)"/><polygon points="972.8,643.0 975.5,662.2 983.5,680.8 996.6,698.2 1014.3,714.0 1036.2,727.6 1061.6,738.7 1089.7,746.8 1119.6,751.8 1150.5,753.5 1181.4,751.8 1211.3,746.8 1239.4,738.7 1264.8,727.6 1286.7,714.0 1304.4,698.2 1317.5,680.8 1325.5,662.2 1328.2,643.0" fill="rgb(0,88,92)"/><polygon points="973.4,643.0 976.1,662.1 984.1,680.6 997.1,698.0 1014.8,713.7 1036.7,727.3 1062.0,738.2 1089.9,746.4 1119.7,751.3 1150.5,753.0 1181.3,751.3 1211.1,746.4 1239.0,738.2 1264.3,727.3 1286.2,713.7 1303.9,698.0 1316.9,680.6 1324.9,662.1 1327.6,643.0" fill="rgb(0,89,91)"/><polygon points="974.1,643.0 976.7,662.0 984.7,680.5 997.7,697.8 1015.3,713.4 1037.1,726.9 1062.3,737.8 1090.2,745.9 1119.9,750.8 1150.5,752.5 1181.1,750.8 1210.8,745.9 1238.7,737.8 1263.9,726.9 1285.7,713.4 1303.3,697.8 1316.3,680.5 1324.3,662.0 1326.9,643.0" fill="rgb(0,89,91)"/><polygon points="974.7,643.0 977.4,661.9 985.3,680.3 998.3,697.5 1015.8,713.1 1037.5,726.5 1062.6,737.4 1090.4,745.4 1120.0,750.4 1150.5,752.0 1181.0,750.4 1210.6,745.4 1238.4,737.4 1263.5,726.5 1285.2,713.1 1302.7,697.5 1315.7,680.3 1323.6,661.9 1326.3,643.0" fill="rgb(0,89,91)"/><polygon points="975.4,643.0 978.0,661.8 985.9,680.1 998.8,697.3 1016.3,712.8 1037.9,726.1 1062.9,737.0 1090.6,745.0 1120.1,749.9 1150.5,751.5 1180.9,749.9 1210.4,745.0 1238.1,737.0 1263.1,726.1 1284.7,712.8 1302.2,697.3 1315.1,680.1 1323.0,661.8 1325.6,643.0" fill="rgb(0,89,91)"/><polygon points="976.0,643.0 978.7,661.8 986.6,680.0 999.4,697.0 1016.8,712.5 1038.4,725.8 1063.3,736.6 1090.8,744.5 1120.2,749.4 1150.5,751.0 1180.8,749.4 1210.2,744.5 1237.7,736.6 1262.6,725.8 1284.2,712.5 1301.6,697.0 1314.4,680.0 1322.3,661.8 1325.0,643.0" fill="rgb(0,90,90)"/><polygon points="976.7,643.0 979.3,661.7 987.2,679.8 1000.0,696.8 1017.3,712.1 1038.8,725.4 1063.6,736.2 1091.1,744.1 1120.3,748.9 1150.5,750.6 1180.7,748.9 1209.9,744.1 1237.4,736.2 1262.2,725.4 1283.7,712.1 1301.0,696.8 1313.8,679.8 1321.7,661.7 1324.3,643.0" fill="rgb(0,90,90)"/><polygon points="977.3,643.0 980.0,661.6 987.8,679.6 1000.5,696.5 1017.9,711.8 1039.2,725.0 1063.9,735.7 1091.3,743.6 1120.4,748.5 1150.5,750.1 1180.6,748.5 1209.7,743.6 1237.1,735.7 1261.8,725.0 1283.1,711.8 1300.5,696.5 1313.2,679.6 1321.0,661.6 1323.7,643.0" fill="rgb(0,89,65)"/><polygon points="978.0,643.0 980.6,661.5 988.4,679.5 1001.1,696.3 1018.4,711.5 1039.6,724.7 1064.2,735.3 1091.5,743.2 1120.5,748.0 1150.5,749.6 1180.5,748.0 1209.5,743.2 1236.8,735.3 1261.4,724.7 1282.6,711.5 1299.9,696.3 1312.6,679.5 1320.4,661.5 1323.0,643.0" fill="rgb(0,88,29)"/><polygon points="978.6,643.0 981.3,661.4 989.0,679.3 1001.7,696.1 1018.9,711.2 1040.0,724.3 1064.6,734.9 1091.7,742.7 1120.7,747.5 1150.5,749.1 1180.3,747.5 1209.3,742.7 1236.4,734.9 1261.0,724.3 1282.1,711.2 1299.3,696.1 1312.0,679.3 1319.7,661.4 1322.4,643.0" fill="rgb(0,88,24)"/><polygon points="979.3,643.0 981.9,661.3 989.6,679.1 1002.2,695.8 1019.4,710.9 1040.5,723.9 1064.9,734.5 1091.9,742.3 1120.8,747.0 1150.5,748.6 1180.2,747.0 1209.1,742.3 1236.1,734.5 1260.5,723.9 1281.6,710.9 1298.8,695.8 1311.4,679.1 1319.1,661.3 1321.7,643.0" fill="rgb(0,88,24)"/><polygon points="980.0,643.0 982.5,661.3 990.2,679.0 1002.8,695.6 1019.9,710.6 1040.9,723.5 1065.2,734.1 1092.2,741.8 1120.9,746.6 1150.5,748.1 1180.1,746.6 1208.8,741.8 1235.8,734.1 1260.1,723.5 1281.1,710.6 1298.2,695.6 1310.8,679.0 1318.5,661.3 1321.0,643.0" fill="rgb(0,88,23)"/><polygon points="980.6,643.0 983.2,661.2 990.9,678.8 1003.4,695.3 1020.4,710.3 1041.3,723.2 1065.6,733.6 1092.4,741.4 1121.0,746.1 1150.5,747.7 1180.0,746.1 1208.6,741.4 1235.4,733.6 1259.7,723.2 1280.6,710.3 1297.6,695.3 1310.1,678.8 1317.8,661.2 1320.4,643.0" fill="rgb(0,89,22)"/><polygon points="981.3,643.0 983.8,661.1 991.5,678.6 1003.9,695.1 1020.9,710.0 1041.7,722.8 1065.9,733.2 1092.6,740.9 1121.1,745.6 1150.5,747.2 1179.9,745.6 1208.4,740.9 1235.1,733.2 1259.3,722.8 1280.1,710.0 1297.1,695.1 1309.5,678.6 1317.2,661.1 1319.7,643.0" fill="rgb(0,89,21)"/><polygon points="981.9,643.0 984.5,661.0 992.1,678.5 1004.5,694.9 1021.4,709.7 1042.1,722.4 1066.2,732.8 1092.8,740.4 1121.2,745.1 1150.5,746.7 1179.8,745.1 1208.2,740.4 1234.8,732.8 1258.9,722.4 1279.6,709.7 1296.5,694.9 1308.9,678.5 1316.5,661.0 1319.1,643.0" fill="rgb(0,89,21)"/><polygon points="982.6,643.0 985.1,660.9 992.7,678.3 1005.1,694.6 1021.9,709.3 1042.6,722.1 1066.5,732.4 1093.1,740.0 1121.3,744.6 1150.5,746.2 1179.7,744.6 1207.9,740.0 1234.5,732.4 1258.4,722.1 1279.1,709.3 1295.9,694.6 1308.3,678.3 1315.9,660.9 1318.4,643.0" fill="rgb(0,89,20)"/><polygon points="983.2,643.0 985.8,660.8 993.3,678.1 1005.6,694.4 1022.4,709.0 1043.0,721.7 1066.9,732.0 1093.3,739.5 1121.5,744.2 1150.5,745.7 1179.5,744.2 1207.7,739.5 1234.1,732.0 1258.0,721.7 1278.6,709.0 1295.4,694.4 1307.7,678.1 1315.2,660.8 1317.8,643.0" fill="rgb(0,89,19)"/><polygon points="983.9,643.0 986.4,660.8 993.9,678.0 1006.2,694.1 1022.9,708.7 1043.4,721.3 1067.2,731.6 1093.5,739.1 1121.6,743.7 1150.5,745.2 1179.4,743.7 1207.5,739.1 1233.8,731.6 1257.6,721.3 1278.1,708.7 1294.8,694.1 1307.1,678.0 1314.6,660.8 1317.1,643.0" fill="rgb(0,89,18)"/><polygon points="984.5,643.0 987.1,660.7 994.5,677.8 1006.8,693.9 1023.4,708.4 1043.8,721.0 1067.5,731.1 1093.7,738.6 1121.7,743.2 1150.5,744.8 1179.3,743.2 1207.3,738.6 1233.5,731.1 1257.2,721.0 1277.6,708.4 1294.2,693.9 1306.5,677.8 1313.9,660.7 1316.5,643.0" fill="rgb(0,89,18)"/><polygon points="985.2,643.0 987.7,660.6 995.2,677.6 1007.3,693.6 1023.9,708.1 1044.2,720.6 1067.8,730.7 1094.0,738.2 1121.8,742.7 1150.5,744.3 1179.2,742.7 1207.0,738.2 1233.2,730.7 1256.8,720.6 1277.1,708.1 1293.7,693.6 1305.8,677.6 1313.3,660.6 1315.8,643.0" fill="rgb(0,90,17)"/><polygon points="985.8,643.0 988.3,660.5 995.8,677.5 1007.9,693.4 1024.4,707.8 1044.7,720.2 1068.2,730.3 1094.2,737.7 1121.9,742.3 1150.5,743.8 1179.1,742.3 1206.8,737.7 1232.8,730.3 1256.3,720.2 1276.6,707.8 1293.1,693.4 1305.2,677.5 1312.7,660.5 1315.2,643.0" fill="rgb(0,90,16)"/><polygon points="986.5,643.0 989.0,660.4 996.4,677.3 1008.5,693.2 1024.9,707.5 1045.1,719.8 1068.5,729.9 1094.4,737.3 1122.0,741.8 1150.5,743.3 1179.0,741.8 1206.6,737.3 1232.5,729.9 1255.9,719.8 1276.1,707.5 1292.5,693.2 1304.6,677.3 1312.0,660.4 1314.5,643.0" fill="rgb(0,90,15)"/><polygon points="987.2,643.0 989.6,660.3 997.0,677.1 1009.0,692.9 1025.4,707.2 1045.5,719.5 1068.8,729.5 1094.6,736.8 1122.1,741.3 1150.5,742.8 1178.9,741.3 1206.4,736.8 1232.2,729.5 1255.5,719.5 1275.6,707.2 1292.0,692.9 1304.0,677.1 1311.4,660.3 1313.8,643.0" fill="rgb(24,91,12)"/><polygon points="987.8,643.0 990.3,660.3 997.6,677.0 1009.6,692.7 1025.9,706.9 1045.9,719.1 1069.2,729.0 1094.9,736.4 1122.2,740.8 1150.5,742.4 1178.8,740.8 1206.1,736.4 1231.8,729.0 1255.1,719.1 1275.1,706.9 1291.4,692.7 1303.4,677.0 1310.7,660.3 1313.2,643.0" fill="rgb(86,94,3)"/><polygon points="988.5,643.0 990.9,660.2 998.2,676.8 1010.2,692.4 1026.4,706.6 1046.3,718.7 1069.5,728.6 1095.1,735.9 1122.4,740.4 1150.5,741.9 1178.6,740.4 1205.9,735.9 1231.5,728.6 1254.7,718.7 1274.6,706.6 1290.8,692.4 1302.8,676.8 1310.1,660.2 1312.5,643.0" fill="rgb(121,87,0)"/><polygon points="989.1,643.0 991.6,660.1 998.9,676.6 1010.7,692.2 1026.9,706.2 1046.8,718.4 1069.8,728.2 1095.3,735.5 1122.5,739.9 1150.5,741.4 1178.5,739.9 1205.7,735.5 1231.2,728.2 1254.2,718.4 1274.1,706.2 1290.3,692.2 1302.1,676.6 1309.4,660.1 1311.9,643.0" fill="rgb(140,74,0)"/><polygon points="989.8,643.0 992.2,660.0 999.5,676.5 1011.3,692.0 1027.4,705.9 1047.2,718.0 1070.1,727.8 1095.5,735.0 1122.6,739.4 1150.5,740.9 1178.4,739.4 1205.5,735.0 1230.9,727.8 1253.8,718.0 1273.6,705.9 1289.7,692.0 1301.5,676.5 1308.8,660.0 1311.2,643.0" fill="rgb(158,61,0)"/><polygon points="990.4,643.0 992.9,659.9 1000.1,676.3 1011.9,691.7 1027.9,705.6 1047.6,717.6 1070.5,727.4 1095.8,734.5 1122.7,738.9 1150.5,740.4 1178.3,738.9 1205.2,734.5 1230.5,727.4 1253.4,717.6 1273.1,705.6 1289.1,691.7 1300.9,676.3 1308.1,659.9 1310.6,643.0" fill="rgb(173,30,0)"/><polygon points="991.1,643.0 993.5,659.8 1000.7,676.2 1012.4,691.5 1028.4,705.3 1048.0,717.3 1070.8,726.9 1096.0,734.1 1122.8,738.5 1150.5,739.9 1178.2,738.5 1205.0,734.1 1230.2,726.9 1253.0,717.3 1272.6,705.3 1288.6,691.5 1300.3,676.2 1307.5,659.8 1309.9,643.0" fill="rgb(180,15,0)"/><polygon points="991.7,643.0 994.1,659.7 1001.3,676.0 1013.0,691.2 1028.9,705.0 1048.4,716.9 1071.1,726.5 1096.2,733.6 1122.9,738.0 1150.5,739.5 1178.1,738.0 1204.8,733.6 1229.9,726.5 1252.6,716.9 1272.1,705.0 1288.0,691.2 1299.7,676.0 1306.9,659.7 1309.3,643.0" fill="rgb(180,15,0)"/><polygon points="992.4,643.0 994.8,659.7 1001.9,675.8 1013.6,691.0 1029.4,704.7 1048.9,716.5 1071.4,726.1 1096.4,733.2 1123.0,737.5 1150.5,739.0 1178.0,737.5 1204.6,733.2 1229.6,726.1 1252.1,716.5 1271.6,704.7 1287.4,691.0 1299.1,675.8 1306.2,659.7 1308.6,643.0" fill="rgb(180,15,0)"/><polygon points="993.0,643.0 995.4,659.6 1002.5,675.7 1014.1,690.7 1029.9,704.4 1049.3,716.1 1071.8,725.7 1096.6,732.7 1123.2,737.0 1150.5,738.5 1177.8,737.0 1204.4,732.7 1229.2,725.7 1251.7,716.1 1271.1,704.4 1286.9,690.7 1298.5,675.7 1305.6,659.6 1308.0,643.0" fill="rgb(193,94,0)"/></g>
<path d="M939.0,643.0 L942.2,666.5 L951.8,689.3 L967.3,710.7 L988.5,730.0 L1014.6,746.7 L1044.8,760.3 L1078.2,770.2 L1113.8,776.3 L1150.5,778.4 L1187.2,776.3 L1222.8,770.2 L1256.2,760.3 L1286.4,746.7 L1312.5,730.0 L1333.7,710.7 L1349.2,689.3 L1358.8,666.5 L1362.0,643.0 M943.2,643.0 L946.4,666.0 L955.7,688.2 L971.0,709.1 L991.7,728.0 L1017.3,744.3 L1046.9,757.6 L1079.6,767.3 L1114.5,773.3 L1150.5,775.3 L1186.5,773.3 L1221.4,767.3 L1254.1,757.6 L1283.7,744.3 L1309.3,728.0 L1330.0,709.1 L1345.3,688.2 L1354.6,666.0 L1357.8,643.0 M947.4,643.0 L950.5,665.4 L959.7,687.2 L974.6,707.6 L994.9,726.0 L1020.0,742.0 L1049.0,754.9 L1081.0,764.4 L1115.2,770.2 L1150.5,772.2 L1185.8,770.2 L1220.0,764.4 L1252.0,754.9 L1281.0,742.0 L1306.1,726.0 L1326.4,707.6 L1341.3,687.2 L1350.5,665.4 L1353.6,643.0 M951.6,643.0 L954.6,664.9 L963.6,686.1 L978.3,706.0 L998.2,724.0 L1022.7,739.6 L1051.1,752.2 L1082.5,761.5 L1116.0,767.2 L1150.5,769.1 L1185.0,767.2 L1218.5,761.5 L1249.9,752.2 L1278.3,739.6 L1302.8,724.0 L1322.7,706.0 L1337.4,686.1 L1346.4,664.9 L1349.4,643.0 M955.8,643.0 L958.8,664.4 L967.6,685.1 L981.9,704.5 L1001.4,722.0 L1025.4,737.2 L1053.2,749.5 L1083.9,758.5 L1116.7,764.1 L1150.5,766.0 L1184.3,764.1 L1217.1,758.5 L1247.8,749.5 L1275.6,737.2 L1299.6,722.0 L1319.1,704.5 L1333.4,685.1 L1342.2,664.4 L1345.2,643.0 M960.0,643.0 L962.9,663.8 L971.5,684.0 L985.6,702.9 L1004.6,720.0 L1028.1,734.8 L1055.3,746.8 L1085.4,755.6 L1117.4,761.0 L1150.5,762.9 L1183.6,761.0 L1215.6,755.6 L1245.7,746.8 L1272.9,734.8 L1296.4,720.0 L1315.4,702.9 L1329.5,684.0 L1338.1,663.8 L1341.0,643.0 M964.2,643.0 L967.1,663.3 L975.5,682.9 L989.2,701.4 L1007.8,718.0 L1030.8,732.4 L1057.4,744.1 L1086.8,752.7 L1118.2,758.0 L1150.5,759.8 L1182.8,758.0 L1214.2,752.7 L1243.6,744.1 L1270.2,732.4 L1293.2,718.0 L1311.8,701.4 L1325.5,682.9 L1333.9,663.3 L1336.8,643.0 M968.5,643.0 L971.2,662.7 L979.4,681.9 L992.8,699.8 L1011.0,716.0 L1033.5,730.1 L1059.5,741.4 L1088.2,749.8 L1118.9,754.9 L1150.5,756.6 L1182.1,754.9 L1212.8,749.8 L1241.5,741.4 L1267.5,730.1 L1290.0,716.0 L1308.2,699.8 L1321.6,681.9 L1329.8,662.7 L1332.5,643.0 M972.7,643.0 L975.4,662.2 L983.4,680.8 L996.5,698.3 L1014.3,714.1 L1036.2,727.7 L1061.6,738.7 L1089.7,746.9 L1119.6,751.9 L1150.5,753.5 L1181.4,751.9 L1211.3,746.9 L1239.4,738.7 L1264.8,727.7 L1286.7,714.1 L1304.5,698.3 L1317.6,680.8 L1325.6,662.2 L1328.3,643.0 M976.9,643.0 L979.5,661.7 L987.3,679.7 L1000.1,696.7 L1017.5,712.1 L1038.9,725.3 L1063.7,736.0 L1091.1,743.9 L1120.3,748.8 L1150.5,750.4 L1180.7,748.8 L1209.9,743.9 L1237.3,736.0 L1262.1,725.3 L1283.5,712.1 L1300.9,696.7 L1313.7,679.7 L1321.5,661.7 L1324.1,643.0 M981.1,643.0 L983.7,661.1 L991.3,678.7 L1003.8,695.2 L1020.7,710.1 L1041.6,722.9 L1065.8,733.3 L1092.6,741.0 L1121.1,745.7 L1150.5,747.3 L1179.9,745.7 L1208.4,741.0 L1235.2,733.3 L1259.4,722.9 L1280.3,710.1 L1297.2,695.2 L1309.7,678.7 L1317.3,661.1 L1319.9,643.0 M985.3,643.0 L987.8,660.6 L995.2,677.6 L1007.4,693.6 L1023.9,708.1 L1044.3,720.5 L1067.9,730.7 L1094.0,738.1 L1121.8,742.7 L1150.5,744.2 L1179.2,742.7 L1207.0,738.1 L1233.1,730.7 L1256.7,720.5 L1277.1,708.1 L1293.6,693.6 L1305.8,677.6 L1313.2,660.6 L1315.7,643.0 M989.5,643.0 L991.9,660.0 L999.2,676.6 L1011.1,692.1 L1027.2,706.1 L1047.0,718.2 L1070.0,728.0 L1095.4,735.2 L1122.5,739.6 L1150.5,741.1 L1178.5,739.6 L1205.6,735.2 L1231.0,728.0 L1254.0,718.2 L1273.8,706.1 L1289.9,692.1 L1301.8,676.6 L1309.1,660.0 L1311.5,643.0 M938.1,667.1 L996.1,659.5 M947.8,690.4 L1003.2,675.5 M963.7,712.2 L1014.7,690.5 M985.3,732.0 L1030.4,704.1 M1011.9,749.1 L1049.7,715.8 M1042.7,762.9 L1072.1,725.3 M1076.7,773.1 L1096.9,732.3 M1113.0,779.4 L1123.3,736.6 M1150.5,781.5 L1150.5,738.0 M1188.0,779.4 L1177.7,736.6 M1224.3,773.1 L1204.1,732.3 M1258.3,762.9 L1228.9,725.3 M1289.1,749.1 L1251.3,715.8 M1315.7,732.0 L1270.6,704.1 M1337.3,712.2 L1286.3,690.5 M1353.2,690.4 L1297.8,675.5 M1362.9,667.1 L1304.9,659.5" fill="none" stroke="#000" stroke-opacity="0.30" stroke-width="0.60"/>
<defs><linearGradient id="d100" gradientUnits="userSpaceOnUse" x1="993.7" y1="0" x2="1307.3" y2="0"><stop offset="0.0002" stop-color="rgb(148,223,0)"/><stop offset="0.0098" stop-color="rgb(150,225,0)"/><stop offset="0.0382" stop-color="rgb(150,225,0)"/><stop offset="0.0844" stop-color="rgb(150,225,0)"/><stop offset="0.1466" stop-color="rgb(150,225,0)"/><stop offset="0.2223" stop-color="rgb(150,225,0)"/><stop offset="0.3087" stop-color="rgb(150,225,0)"/><stop offset="0.4025" stop-color="rgb(150,225,0)"/><stop offset="0.5000" stop-color="rgb(150,225,0)"/><stop offset="0.5975" stop-color="rgb(150,225,0)"/><stop offset="0.6913" stop-color="rgb(146,219,0)"/><stop offset="0.7777" stop-color="rgb(135,202,0)"/><stop offset="0.8534" stop-color="rgb(122,184,0)"/><stop offset="0.9156" stop-color="rgb(110,165,0)"/><stop offset="0.9618" stop-color="rgb(97,146,0)"/><stop offset="0.9902" stop-color="rgb(85,128,0)"/><stop offset="0.9998" stop-color="rgb(74,111,0)"/></linearGradient><linearGradient id="d101" gradientUnits="userSpaceOnUse" x1="993.7" y1="0" x2="1307.3" y2="0"><stop offset="0.0014" stop-color="rgb(19,209,19)"/><stop offset="0.0109" stop-color="rgb(20,215,20)"/><stop offset="0.0393" stop-color="rgb(20,215,20)"/><stop offset="0.0854" stop-color="rgb(20,215,20)"/><stop offset="0.1474" stop-color="rgb(20,215,20)"/><stop offset="0.2230" stop-color="rgb(20,215,20)"/><stop offset="0.3092" stop-color="rgb(20,215,20)"/><stop offset="0.4027" stop-color="rgb(20,215,20)"/><stop offset="0.5000" stop-color="rgb(20,215,20)"/><stop offset="0.5973" stop-color="rgb(20,215,20)"/><stop offset="0.6908" stop-color="rgb(19,205,19)"/><stop offset="0.7770" stop-color="rgb(18,189,18)"/><stop offset="0.8526" stop-color="rgb(16,172,16)"/><stop offset="0.9146" stop-color="rgb(14,154,14)"/><stop offset="0.9607" stop-color="rgb(13,136,13)"/><stop offset="0.9891" stop-color="rgb(11,118,11)"/><stop offset="0.9986" stop-color="rgb(10,103,10)"/></linearGradient><linearGradient id="d102" gradientUnits="userSpaceOnUse" x1="993.7" y1="0" x2="1307.3" y2="0"><stop offset="0.0038" stop-color="rgb(19,205,19)"/><stop offset="0.0133" stop-color="rgb(20,215,20)"/><stop offset="0.0415" stop-color="rgb(20,215,20)"/><stop offset="0.0874" stop-color="rgb(20,215,20)"/><stop offset="0.1491" stop-color="rgb(20,215,20)"/><stop offset="0.2243" stop-color="rgb(20,215,20)"/><stop offset="0.3101" stop-color="rgb(20,215,20)"/><stop offset="0.4032" stop-color="rgb(20,215,20)"/><stop offset="0.5000" stop-color="rgb(20,215,20)"/><stop offset="0.5968" stop-color="rgb(20,215,20)"/><stop offset="0.6899" stop-color="rgb(19,202,19)"/><stop offset="0.7757" stop-color="rgb(17,185,17)"/><stop offset="0.8509" stop-color="rgb(16,168,16)"/><stop offset="0.9126" stop-color="rgb(14,150,14)"/><stop offset="0.9585" stop-color="rgb(12,132,12)"/><stop offset="0.9867" stop-color="rgb(11,115,11)"/><stop offset="0.9962" stop-color="rgb(9,99,9)"/></linearGradient><linearGradient id="d103" gradientUnits="userSpaceOnUse" x1="993.7" y1="0" x2="1307.3" y2="0"><stop offset="0.0074" stop-color="rgb(19,201,19)"/><stop offset="0.0168" stop-color="rgb(20,215,20)"/><stop offset="0.0449" stop-color="rgb(20,215,20)"/><stop offset="0.0904" stop-color="rgb(20,215,20)"/><stop offset="0.1517" stop-color="rgb(20,215,20)"/><stop offset="0.2263" stop-color="rgb(20,215,20)"/><stop offset="0.3115" stop-color="rgb(20,215,20)"/><stop offset="0.4039" stop-color="rgb(20,215,20)"/><stop offset="0.5000" stop-color="rgb(20,215,20)"/><stop offset="0.5961" stop-color="rgb(20,212,20)"/><stop offset="0.6885" stop-color="rgb(18,198,18)"/><stop offset="0.7737" stop-color="rgb(17,182,17)"/><stop offset="0.8483" stop-color="rgb(15,164,15)"/><stop offset="0.9096" stop-color="rgb(14,147,14)"/><stop offset="0.9551" stop-color="rgb(12,129,12)"/><stop offset="0.9832" stop-color="rgb(10,112,10)"/><stop offset="0.9926" stop-color="rgb(9,96,9)"/></linearGradient><linearGradient id="d104" gradientUnits="userSpaceOnUse" x1="993.7" y1="0" x2="1307.3" y2="0"><stop offset="0.0121" stop-color="rgb(18,197,18)"/><stop offset="0.0215" stop-color="rgb(20,211,20)"/><stop offset="0.0493" stop-color="rgb(20,215,20)"/><stop offset="0.0944" stop-color="rgb(20,215,20)"/><stop offset="0.1550" stop-color="rgb(20,215,20)"/><stop offset="0.2290" stop-color="rgb(20,215,20)"/><stop offset="0.3133" stop-color="rgb(20,215,20)"/><stop offset="0.4048" stop-color="rgb(20,215,20)"/><stop offset="0.5000" stop-color="rgb(20,215,20)"/><stop offset="0.5952" stop-color="rgb(19,208,19)"/><stop offset="0.6867" stop-color="rgb(18,194,18)"/><stop offset="0.7710" stop-color="rgb(17,178,17)"/><stop offset="0.8450" stop-color="rgb(15,161,15)"/><stop offset="0.9056" stop-color="rgb(13,143,13)"/><stop offset="0.9507" stop-color="rgb(12,125,12)"/><stop offset="0.9785" stop-color="rgb(10,109,10)"/><stop offset="0.9879" stop-color="rgb(9,93,9)"/></linearGradient><linearGradient id="d105" gradientUnits="userSpaceOnUse" x1="993.7" y1="0" x2="1307.3" y2="0"><stop offset="0.0181" stop-color="rgb(18,193,18)"/><stop offset="0.0274" stop-color="rgb(19,206,19)"/><stop offset="0.0548" stop-color="rgb(20,215,20)"/><stop offset="0.0993" stop-color="rgb(20,215,20)"/><stop offset="0.1593" stop-color="rgb(20,215,20)"/><stop offset="0.2323" stop-color="rgb(20,215,20)"/><stop offset="0.3156" stop-color="rgb(20,215,20)"/><stop offset="0.4060" stop-color="rgb(20,215,20)"/><stop offset="0.5000" stop-color="rgb(20,215,20)"/><stop offset="0.5940" stop-color="rgb(19,203,19)"/><stop offset="0.6844" stop-color="rgb(18,190,18)"/><stop offset="0.7677" stop-color="rgb(16,174,16)"/><stop offset="0.8407" stop-color="rgb(15,157,15)"/><stop offset="0.9007" stop-color="rgb(13,140,13)"/><stop offset="0.9452" stop-color="rgb(11,122,11)"/><stop offset="0.9726" stop-color="rgb(10,106,10)"/><stop offset="0.9819" stop-color="rgb(8,90,8)"/></linearGradient><linearGradient id="d106" gradientUnits="userSpaceOnUse" x1="993.7" y1="0" x2="1307.3" y2="0"><stop offset="0.0252" stop-color="rgb(18,189,18)"/><stop offset="0.0344" stop-color="rgb(19,202,19)"/><stop offset="0.0614" stop-color="rgb(20,213,20)"/><stop offset="0.1052" stop-color="rgb(20,215,20)"/><stop offset="0.1643" stop-color="rgb(20,215,20)"/><stop offset="0.2362" stop-color="rgb(20,215,20)"/><stop offset="0.3183" stop-color="rgb(20,215,20)"/><stop offset="0.4074" stop-color="rgb(20,215,20)"/><stop offset="0.5000" stop-color="rgb(20,210,20)"/><stop offset="0.5926" stop-color="rgb(19,199,19)"/><stop offset="0.6817" stop-color="rgb(17,185,17)"/><stop offset="0.7638" stop-color="rgb(16,170,16)"/><stop offset="0.8357" stop-color="rgb(14,153,14)"/><stop offset="0.8948" stop-color="rgb(13,136,13)"/><stop offset="0.9386" stop-color="rgb(11,119,11)"/><stop offset="0.9656" stop-color="rgb(10,103,10)"/><stop offset="0.9748" stop-color="rgb(8,88,8)"/></linearGradient><linearGradient id="d107" gradientUnits="userSpaceOnUse" x1="993.7" y1="0" x2="1307.3" y2="0"><stop offset="0.0335" stop-color="rgb(17,185,17)"/><stop offset="0.0425" stop-color="rgb(18,197,18)"/><stop offset="0.0690" stop-color="rgb(19,208,19)"/><stop offset="0.1121" stop-color="rgb(20,215,20)"/><stop offset="0.1701" stop-color="rgb(20,215,20)"/><stop offset="0.2408" stop-color="rgb(20,215,20)"/><stop offset="0.3215" stop-color="rgb(20,215,20)"/><stop offset="0.4090" stop-color="rgb(20,214,20)"/><stop offset="0.5000" stop-color="rgb(19,206,19)"/><stop offset="0.5910" stop-color="rgb(18,194,18)"/><stop offset="0.6785" stop-color="rgb(17,181,17)"/><stop offset="0.7592" stop-color="rgb(15,166,15)"/><stop offset="0.8299" stop-color="rgb(14,150,14)"/><stop offset="0.8879" stop-color="rgb(12,133,12)"/><stop offset="0.9310" stop-color="rgb(11,116,11)"/><stop offset="0.9575" stop-color="rgb(9,100,9)"/><stop offset="0.9665" stop-color="rgb(8,85,8)"/></linearGradient><linearGradient id="d108" gradientUnits="userSpaceOnUse" x1="993.7" y1="0" x2="1307.3" y2="0"><stop offset="0.0429" stop-color="rgb(17,180,17)"/><stop offset="0.0517" stop-color="rgb(18,193,18)"/><stop offset="0.0777" stop-color="rgb(19,203,19)"/><stop offset="0.1199" stop-color="rgb(20,211,20)"/><stop offset="0.1768" stop-color="rgb(20,215,20)"/><stop offset="0.2460" stop-color="rgb(20,215,20)"/><stop offset="0.3251" stop-color="rgb(20,214,20)"/><stop offset="0.4108" stop-color="rgb(19,209,19)"/><stop offset="0.5000" stop-color="rgb(19,201,19)"/><stop offset="0.5892" stop-color="rgb(18,190,18)"/><stop offset="0.6749" stop-color="rgb(16,177,16)"/><stop offset="0.7540" stop-color="rgb(15,162,15)"/><stop offset="0.8232" stop-color="rgb(14,146,14)"/><stop offset="0.8801" stop-color="rgb(12,129,12)"/><stop offset="0.9223" stop-color="rgb(11,113,11)"/><stop offset="0.9483" stop-color="rgb(9,97,9)"/><stop offset="0.9571" stop-color="rgb(8,83,8)"/></linearGradient><linearGradient id="d109" gradientUnits="userSpaceOnUse" x1="993.7" y1="0" x2="1307.3" y2="0"><stop offset="0.0534" stop-color="rgb(16,176,16)"/><stop offset="0.0620" stop-color="rgb(18,188,18)"/><stop offset="0.0874" stop-color="rgb(18,198,18)"/><stop offset="0.1287" stop-color="rgb(19,205,19)"/><stop offset="0.1842" stop-color="rgb(20,210,20)"/><stop offset="0.2519" stop-color="rgb(20,211,20)"/><stop offset="0.3291" stop-color="rgb(19,209,19)"/><stop offset="0.4129" stop-color="rgb(19,204,19)"/><stop offset="0.5000" stop-color="rgb(18,196,18)"/><stop offset="0.5871" stop-color="rgb(17,185,17)"/><stop offset="0.6709" stop-color="rgb(16,173,16)"/><stop offset="0.7481" stop-color="rgb(15,158,15)"/><stop offset="0.8158" stop-color="rgb(13,142,13)"/><stop offset="0.8713" stop-color="rgb(12,126,12)"/><stop offset="0.9126" stop-color="rgb(10,110,10)"/><stop offset="0.9380" stop-color="rgb(9,95,9)"/><stop offset="0.9466" stop-color="rgb(7,81,7)"/></linearGradient><linearGradient id="d110" gradientUnits="userSpaceOnUse" x1="993.7" y1="0" x2="1307.3" y2="0"><stop offset="0.0650" stop-color="rgb(16,171,16)"/><stop offset="0.0733" stop-color="rgb(17,183,17)"/><stop offset="0.0981" stop-color="rgb(18,193,18)"/><stop offset="0.1383" stop-color="rgb(19,200,19)"/><stop offset="0.1924" stop-color="rgb(19,204,19)"/><stop offset="0.2583" stop-color="rgb(19,206,19)"/><stop offset="0.3335" stop-color="rgb(19,204,19)"/><stop offset="0.4151" stop-color="rgb(18,199,18)"/><stop offset="0.5000" stop-color="rgb(18,191,18)"/><stop offset="0.5849" stop-color="rgb(17,181,17)"/><stop offset="0.6665" stop-color="rgb(16,168,16)"/><stop offset="0.7417" stop-color="rgb(14,154,14)"/><stop offset="0.8076" stop-color="rgb(13,139,13)"/><stop offset="0.8617" stop-color="rgb(11,123,11)"/><stop offset="0.9019" stop-color="rgb(10,107,10)"/><stop offset="0.9267" stop-color="rgb(9,92,9)"/><stop offset="0.9350" stop-color="rgb(7,79,7)"/></linearGradient><linearGradient id="d111" gradientUnits="userSpaceOnUse" x1="993.7" y1="0" x2="1307.3" y2="0"><stop offset="0.0776" stop-color="rgb(16,167,16)"/><stop offset="0.0857" stop-color="rgb(17,179,17)"/><stop offset="0.1097" stop-color="rgb(17,188,17)"/><stop offset="0.1488" stop-color="rgb(18,195,18)"/><stop offset="0.2013" stop-color="rgb(19,199,19)"/><stop offset="0.2653" stop-color="rgb(19,200,19)"/><stop offset="0.3383" stop-color="rgb(18,198,18)"/><stop offset="0.4176" stop-color="rgb(18,194,18)"/><stop offset="0.5000" stop-color="rgb(17,186,17)"/><stop offset="0.5824" stop-color="rgb(16,176,16)"/><stop offset="0.6617" stop-color="rgb(15,164,15)"/><stop offset="0.7347" stop-color="rgb(14,150,14)"/><stop offset="0.7987" stop-color="rgb(13,135,13)"/><stop offset="0.8512" stop-color="rgb(11,120,11)"/><stop offset="0.8903" stop-color="rgb(10,105,10)"/><stop offset="0.9143" stop-color="rgb(8,90,8)"/><stop offset="0.9224" stop-color="rgb(7,77,7)"/></linearGradient><linearGradient id="d112" gradientUnits="userSpaceOnUse" x1="993.7" y1="0" x2="1307.3" y2="0"><stop offset="0.0912" stop-color="rgb(15,163,15)"/><stop offset="0.0991" stop-color="rgb(16,174,16)"/><stop offset="0.1223" stop-color="rgb(17,183,17)"/><stop offset="0.1601" stop-color="rgb(18,190,18)"/><stop offset="0.2109" stop-color="rgb(18,194,18)"/><stop offset="0.2729" stop-color="rgb(18,195,18)"/><stop offset="0.3436" stop-color="rgb(18,193,18)"/><stop offset="0.4202" stop-color="rgb(18,188,18)"/><stop offset="0.5000" stop-color="rgb(17,181,17)"/><stop offset="0.5798" stop-color="rgb(16,171,16)"/><stop offset="0.6564" stop-color="rgb(15,160,15)"/><stop offset="0.7271" stop-color="rgb(14,146,14)"/><stop offset="0.7891" stop-color="rgb(12,132,12)"/><stop offset="0.8399" stop-color="rgb(11,117,11)"/><stop offset="0.8777" stop-color="rgb(10,102,10)"/><stop offset="0.9009" stop-color="rgb(8,88,8)"/><stop offset="0.9088" stop-color="rgb(7,75,7)"/></linearGradient><linearGradient id="d113" gradientUnits="userSpaceOnUse" x1="993.7" y1="0" x2="1307.3" y2="0"><stop offset="0.1058" stop-color="rgb(15,158,15)"/><stop offset="0.1134" stop-color="rgb(16,169,16)"/><stop offset="0.1358" stop-color="rgb(17,178,17)"/><stop offset="0.1723" stop-color="rgb(17,184,17)"/><stop offset="0.2213" stop-color="rgb(17,188,17)"/><stop offset="0.2810" stop-color="rgb(18,189,18)"/><stop offset="0.3492" stop-color="rgb(17,187,17)"/><stop offset="0.4231" stop-color="rgb(17,183,17)"/><stop offset="0.5000" stop-color="rgb(16,176,16)"/><stop offset="0.5769" stop-color="rgb(15,166,15)"/><stop offset="0.6508" stop-color="rgb(14,155,14)"/><stop offset="0.7190" stop-color="rgb(13,142,13)"/><stop offset="0.7787" stop-color="rgb(12,129,12)"/><stop offset="0.8277" stop-color="rgb(11,114,11)"/><stop offset="0.8642" stop-color="rgb(9,100,9)"/><stop offset="0.8866" stop-color="rgb(8,87,8)"/><stop offset="0.8942" stop-color="rgb(7,74,7)"/></linearGradient><linearGradient id="d114" gradientUnits="userSpaceOnUse" x1="993.7" y1="0" x2="1307.3" y2="0"><stop offset="0.1214" stop-color="rgb(14,154,14)"/><stop offset="0.1287" stop-color="rgb(15,164,15)"/><stop offset="0.1502" stop-color="rgb(16,173,16)"/><stop offset="0.1852" stop-color="rgb(17,179,17)"/><stop offset="0.2323" stop-color="rgb(17,182,17)"/><stop offset="0.2897" stop-color="rgb(17,183,17)"/><stop offset="0.3551" stop-color="rgb(17,182,17)"/><stop offset="0.4261" stop-color="rgb(17,177,17)"/><stop offset="0.5000" stop-color="rgb(16,171,16)"/><stop offset="0.5739" stop-color="rgb(15,162,15)"/><stop offset="0.6449" stop-color="rgb(14,151,14)"/><stop offset="0.7103" stop-color="rgb(13,139,13)"/><stop offset="0.7677" stop-color="rgb(12,125,12)"/><stop offset="0.8148" stop-color="rgb(10,112,10)"/><stop offset="0.8498" stop-color="rgb(9,98,9)"/><stop offset="0.8713" stop-color="rgb(8,85,8)"/><stop offset="0.8786" stop-color="rgb(7,73,7)"/></linearGradient><linearGradient id="d115" gradientUnits="userSpaceOnUse" x1="993.7" y1="0" x2="1307.3" y2="0"><stop offset="0.1379" stop-color="rgb(14,149,14)"/><stop offset="0.1448" stop-color="rgb(15,159,15)"/><stop offset="0.1654" stop-color="rgb(16,167,16)"/><stop offset="0.1989" stop-color="rgb(16,173,16)"/><stop offset="0.2439" stop-color="rgb(16,177,16)"/><stop offset="0.2988" stop-color="rgb(17,178,17)"/><stop offset="0.3614" stop-color="rgb(16,176,16)"/><stop offset="0.4294" stop-color="rgb(16,172,16)"/><stop offset="0.5000" stop-color="rgb(15,166,15)"/><stop offset="0.5706" stop-color="rgb(15,157,15)"/><stop offset="0.6386" stop-color="rgb(14,147,14)"/><stop offset="0.7012" stop-color="rgb(13,135,13)"/><stop offset="0.7561" stop-color="rgb(11,122,11)"/><stop offset="0.8011" stop-color="rgb(10,109,10)"/><stop offset="0.8346" stop-color="rgb(9,96,9)"/><stop offset="0.8552" stop-color="rgb(8,83,8)"/><stop offset="0.8621" stop-color="rgb(7,72,7)"/></linearGradient><linearGradient id="d116" gradientUnits="userSpaceOnUse" x1="993.7" y1="0" x2="1307.3" y2="0"><stop offset="0.1552" stop-color="rgb(13,145,13)"/><stop offset="0.1619" stop-color="rgb(14,154,14)"/><stop offset="0.1815" stop-color="rgb(15,162,15)"/><stop offset="0.2133" stop-color="rgb(16,168,16)"/><stop offset="0.2562" stop-color="rgb(16,171,16)"/><stop offset="0.3085" stop-color="rgb(16,172,16)"/><stop offset="0.3681" stop-color="rgb(16,170,16)"/><stop offset="0.4327" stop-color="rgb(15,167,15)"/><stop offset="0.5000" stop-color="rgb(15,160,15)"/><stop offset="0.5673" stop-color="rgb(14,152,14)"/><stop offset="0.6319" stop-color="rgb(13,142,13)"/><stop offset="0.6915" stop-color="rgb(12,131,12)"/><stop offset="0.7438" stop-color="rgb(11,119,11)"/><stop offset="0.7867" stop-color="rgb(10,107,10)"/><stop offset="0.8185" stop-color="rgb(9,94,9)"/><stop offset="0.8381" stop-color="rgb(8,82,8)"/><stop offset="0.8448" stop-color="rgb(7,71,7)"/></linearGradient><linearGradient id="d117" gradientUnits="userSpaceOnUse" x1="993.7" y1="0" x2="1307.3" y2="0"><stop offset="0.1734" stop-color="rgb(13,140,13)"/><stop offset="0.1797" stop-color="rgb(14,149,14)"/><stop offset="0.1983" stop-color="rgb(15,157,15)"/><stop offset="0.2285" stop-color="rgb(15,162,15)"/><stop offset="0.2691" stop-color="rgb(15,165,15)"/><stop offset="0.3186" stop-color="rgb(15,166,15)"/><stop offset="0.3750" stop-color="rgb(15,165,15)"/><stop offset="0.4363" stop-color="rgb(15,161,15)"/><stop offset="0.5000" stop-color="rgb(14,155,14)"/><stop offset="0.5637" stop-color="rgb(14,147,14)"/><stop offset="0.6250" stop-color="rgb(13,138,13)"/><stop offset="0.6814" stop-color="rgb(12,127,12)"/><stop offset="0.7309" stop-color="rgb(11,116,11)"/><stop offset="0.7715" stop-color="rgb(10,104,10)"/><stop offset="0.8017" stop-color="rgb(9,92,9)"/><stop offset="0.8203" stop-color="rgb(8,81,8)"/><stop offset="0.8266" stop-color="rgb(7,71,7)"/></linearGradient><linearGradient id="d118" gradientUnits="userSpaceOnUse" x1="993.7" y1="0" x2="1307.3" y2="0"><stop offset="0.1924" stop-color="rgb(13,136,13)"/><stop offset="0.1983" stop-color="rgb(13,145,13)"/><stop offset="0.2158" stop-color="rgb(14,151,14)"/><stop offset="0.2442" stop-color="rgb(15,157,15)"/><stop offset="0.2825" stop-color="rgb(15,160,15)"/><stop offset="0.3291" stop-color="rgb(15,160,15)"/><stop offset="0.3823" stop-color="rgb(15,159,15)"/><stop offset="0.4400" stop-color="rgb(14,155,14)"/><stop offset="0.5000" stop-color="rgb(14,150,14)"/><stop offset="0.5600" stop-color="rgb(13,143,13)"/><stop offset="0.6177" stop-color="rgb(12,134,12)"/><stop offset="0.6709" stop-color="rgb(12,124,12)"/><stop offset="0.7175" stop-color="rgb(11,113,11)"/><stop offset="0.7558" stop-color="rgb(9,102,9)"/><stop offset="0.7842" stop-color="rgb(8,91,8)"/><stop offset="0.8017" stop-color="rgb(7,80,7)"/><stop offset="0.8076" stop-color="rgb(7,71,7)"/></linearGradient><linearGradient id="d119" gradientUnits="userSpaceOnUse" x1="993.7" y1="0" x2="1307.3" y2="0"><stop offset="0.2121" stop-color="rgb(12,132,12)"/><stop offset="0.2176" stop-color="rgb(13,140,13)"/><stop offset="0.2340" stop-color="rgb(14,146,14)"/><stop offset="0.2606" stop-color="rgb(14,151,14)"/><stop offset="0.2964" stop-color="rgb(14,154,14)"/><stop offset="0.3400" stop-color="rgb(14,155,14)"/><stop offset="0.3898" stop-color="rgb(14,153,14)"/><stop offset="0.4438" stop-color="rgb(14,150,14)"/><stop offset="0.5000" stop-color="rgb(13,145,13)"/><stop offset="0.5562" stop-color="rgb(13,138,13)"/><stop offset="0.6102" stop-color="rgb(12,130,12)"/><stop offset="0.6600" stop-color="rgb(11,120,11)"/><stop offset="0.7036" stop-color="rgb(10,110,10)"/><stop offset="0.7394" stop-color="rgb(9,100,9)"/><stop offset="0.7660" stop-color="rgb(8,90,8)"/><stop offset="0.7824" stop-color="rgb(7,80,7)"/><stop offset="0.7879" stop-color="rgb(7,71,7)"/></linearGradient><linearGradient id="d120" gradientUnits="userSpaceOnUse" x1="993.7" y1="0" x2="1307.3" y2="0"><stop offset="0.2325" stop-color="rgb(12,128,12)"/><stop offset="0.2376" stop-color="rgb(13,135,13)"/><stop offset="0.2529" stop-color="rgb(13,141,13)"/><stop offset="0.2776" stop-color="rgb(14,145,14)"/><stop offset="0.3108" stop-color="rgb(14,148,14)"/><stop offset="0.3514" stop-color="rgb(14,149,14)"/><stop offset="0.3976" stop-color="rgb(14,148,14)"/><stop offset="0.4478" stop-color="rgb(13,145,13)"/><stop offset="0.5000" stop-color="rgb(13,140,13)"/><stop offset="0.5522" stop-color="rgb(12,133,12)"/><stop offset="0.6024" stop-color="rgb(12,126,12)"/><stop offset="0.6486" stop-color="rgb(11,117,11)"/><stop offset="0.6892" stop-color="rgb(10,108,10)"/><stop offset="0.7224" stop-color="rgb(9,98,9)"/><stop offset="0.7471" stop-color="rgb(8,88,8)"/><stop offset="0.7624" stop-color="rgb(7,79,7)"/><stop offset="0.7675" stop-color="rgb(7,71,7)"/></linearGradient><linearGradient id="d121" gradientUnits="userSpaceOnUse" x1="993.7" y1="0" x2="1307.3" y2="0"><stop offset="0.2536" stop-color="rgb(11,124,11)"/><stop offset="0.2583" stop-color="rgb(12,130,12)"/><stop offset="0.2723" stop-color="rgb(13,136,13)"/><stop offset="0.2951" stop-color="rgb(13,140,13)"/><stop offset="0.3257" stop-color="rgb(13,142,13)"/><stop offset="0.3631" stop-color="rgb(13,143,13)"/><stop offset="0.4057" stop-color="rgb(13,142,13)"/><stop offset="0.4519" stop-color="rgb(13,139,13)"/><stop offset="0.5000" stop-color="rgb(13,135,13)"/><stop offset="0.5481" stop-color="rgb(12,129,12)"/><stop offset="0.5943" stop-color="rgb(11,122,11)"/><stop offset="0.6369" stop-color="rgb(11,114,11)"/><stop offset="0.6743" stop-color="rgb(10,105,10)"/><stop offset="0.7049" stop-color="rgb(9,96,9)"/><stop offset="0.7277" stop-color="rgb(8,87,8)"/><stop offset="0.7417" stop-color="rgb(7,79,7)"/><stop offset="0.7464" stop-color="rgb(7,71,7)"/></linearGradient><linearGradient id="d122" gradientUnits="userSpaceOnUse" x1="993.7" y1="0" x2="1307.3" y2="0"><stop offset="0.2752" stop-color="rgb(11,120,11)"/><stop offset="0.2795" stop-color="rgb(12,126,12)"/><stop offset="0.2923" stop-color="rgb(12,131,12)"/><stop offset="0.3131" stop-color="rgb(13,135,13)"/><stop offset="0.3410" stop-color="rgb(13,137,13)"/><stop offset="0.3751" stop-color="rgb(13,137,13)"/><stop offset="0.4140" stop-color="rgb(13,136,13)"/><stop offset="0.4561" stop-color="rgb(12,134,12)"/><stop offset="0.5000" stop-color="rgb(12,130,12)"/><stop offset="0.5439" stop-color="rgb(12,124,12)"/><stop offset="0.5860" stop-color="rgb(11,118,11)"/><stop offset="0.6249" stop-color="rgb(10,111,10)"/><stop offset="0.6590" stop-color="rgb(10,103,10)"/><stop offset="0.6869" stop-color="rgb(9,95,9)"/><stop offset="0.7077" stop-color="rgb(8,87,8)"/><stop offset="0.7205" stop-color="rgb(7,79,7)"/><stop offset="0.7248" stop-color="rgb(7,72,7)"/></linearGradient><linearGradient id="d123" gradientUnits="userSpaceOnUse" x1="993.7" y1="0" x2="1307.3" y2="0"><stop offset="0.2974" stop-color="rgb(11,116,11)"/><stop offset="0.3013" stop-color="rgb(11,121,11)"/><stop offset="0.3128" stop-color="rgb(12,126,12)"/><stop offset="0.3315" stop-color="rgb(12,129,12)"/><stop offset="0.3567" stop-color="rgb(12,131,12)"/><stop offset="0.3874" stop-color="rgb(12,132,12)"/><stop offset="0.4225" stop-color="rgb(12,131,12)"/><stop offset="0.4605" stop-color="rgb(12,128,12)"/><stop offset="0.5000" stop-color="rgb(12,125,12)"/><stop offset="0.5395" stop-color="rgb(11,120,11)"/><stop offset="0.5775" stop-color="rgb(11,114,11)"/><stop offset="0.6126" stop-color="rgb(10,108,10)"/><stop offset="0.6433" stop-color="rgb(9,101,9)"/><stop offset="0.6685" stop-color="rgb(9,93,9)"/><stop offset="0.6872" stop-color="rgb(8,86,8)"/><stop offset="0.6987" stop-color="rgb(7,79,7)"/><stop offset="0.7026" stop-color="rgb(7,73,7)"/></linearGradient><linearGradient id="d124" gradientUnits="userSpaceOnUse" x1="993.7" y1="0" x2="1307.3" y2="0"><stop offset="0.3201" stop-color="rgb(10,112,10)"/><stop offset="0.3235" stop-color="rgb(11,117,11)"/><stop offset="0.3338" stop-color="rgb(11,121,11)"/><stop offset="0.3504" stop-color="rgb(12,124,12)"/><stop offset="0.3728" stop-color="rgb(12,126,12)"/><stop offset="0.4000" stop-color="rgb(12,126,12)"/><stop offset="0.4311" stop-color="rgb(12,125,12)"/><stop offset="0.4649" stop-color="rgb(11,123,11)"/><stop offset="0.5000" stop-color="rgb(11,120,11)"/><stop offset="0.5351" stop-color="rgb(11,116,11)"/><stop offset="0.5689" stop-color="rgb(10,111,10)"/><stop offset="0.6000" stop-color="rgb(10,105,10)"/><stop offset="0.6272" stop-color="rgb(9,98,9)"/><stop offset="0.6496" stop-color="rgb(9,92,9)"/><stop offset="0.6662" stop-color="rgb(8,85,8)"/><stop offset="0.6765" stop-color="rgb(7,79,7)"/><stop offset="0.6799" stop-color="rgb(7,74,7)"/></linearGradient><linearGradient id="d125" gradientUnits="userSpaceOnUse" x1="993.7" y1="0" x2="1307.3" y2="0"><stop offset="0.3432" stop-color="rgb(10,108,10)"/><stop offset="0.3462" stop-color="rgb(10,113,10)"/><stop offset="0.3551" stop-color="rgb(11,116,11)"/><stop offset="0.3696" stop-color="rgb(11,119,11)"/><stop offset="0.3891" stop-color="rgb(11,120,11)"/><stop offset="0.4129" stop-color="rgb(11,121,11)"/><stop offset="0.4400" stop-color="rgb(11,120,11)"/><stop offset="0.4694" stop-color="rgb(11,118,11)"/><stop offset="0.5000" stop-color="rgb(11,115,11)"/><stop offset="0.5306" stop-color="rgb(10,112,10)"/><stop offset="0.5600" stop-color="rgb(10,107,10)"/><stop offset="0.5871" stop-color="rgb(9,102,9)"/><stop offset="0.6109" stop-color="rgb(9,97,9)"/><stop offset="0.6304" stop-color="rgb(8,91,8)"/><stop offset="0.6449" stop-color="rgb(8,85,8)"/><stop offset="0.6538" stop-color="rgb(7,80,7)"/><stop offset="0.6568" stop-color="rgb(7,75,7)"/></linearGradient><linearGradient id="d126" gradientUnits="userSpaceOnUse" x1="993.7" y1="0" x2="1307.3" y2="0"><stop offset="0.3666" stop-color="rgb(10,105,10)"/><stop offset="0.3692" stop-color="rgb(10,108,10)"/><stop offset="0.3768" stop-color="rgb(10,111,10)"/><stop offset="0.3891" stop-color="rgb(11,114,11)"/><stop offset="0.4057" stop-color="rgb(11,115,11)"/><stop offset="0.4259" stop-color="rgb(11,115,11)"/><stop offset="0.4490" stop-color="rgb(11,115,11)"/><stop offset="0.4740" stop-color="rgb(11,113,11)"/><stop offset="0.5000" stop-color="rgb(10,111,10)"/><stop offset="0.5260" stop-color="rgb(10,108,10)"/><stop offset="0.5510" stop-color="rgb(10,104,10)"/><stop offset="0.5741" stop-color="rgb(9,99,9)"/><stop offset="0.5943" stop-color="rgb(9,95,9)"/><stop offset="0.6109" stop-color="rgb(8,90,8)"/><stop offset="0.6232" stop-color="rgb(8,85,8)"/><stop offset="0.6308" stop-color="rgb(7,80,7)"/><stop offset="0.6334" stop-color="rgb(7,76,7)"/></linearGradient><linearGradient id="d127" gradientUnits="userSpaceOnUse" x1="993.7" y1="0" x2="1307.3" y2="0"><stop offset="0.3904" stop-color="rgb(9,101,9)"/><stop offset="0.3926" stop-color="rgb(10,104,10)"/><stop offset="0.3988" stop-color="rgb(10,107,10)"/><stop offset="0.4089" stop-color="rgb(10,109,10)"/><stop offset="0.4225" stop-color="rgb(10,110,10)"/><stop offset="0.4391" stop-color="rgb(10,110,10)"/><stop offset="0.4581" stop-color="rgb(10,109,10)"/><stop offset="0.4786" stop-color="rgb(10,108,10)"/><stop offset="0.5000" stop-color="rgb(10,106,10)"/><stop offset="0.5214" stop-color="rgb(10,104,10)"/><stop offset="0.5419" stop-color="rgb(9,100,9)"/><stop offset="0.5609" stop-color="rgb(9,97,9)"/><stop offset="0.5775" stop-color="rgb(9,93,9)"/><stop offset="0.5911" stop-color="rgb(8,89,8)"/><stop offset="0.6012" stop-color="rgb(8,85,8)"/><stop offset="0.6074" stop-color="rgb(8,81,8)"/><stop offset="0.6096" stop-color="rgb(7,78,7)"/></linearGradient><linearGradient id="d128" gradientUnits="userSpaceOnUse" x1="993.7" y1="0" x2="1307.3" y2="0"><stop offset="0.4145" stop-color="rgb(9,98,9)"/><stop offset="0.4162" stop-color="rgb(9,100,9)"/><stop offset="0.4210" stop-color="rgb(10,102,10)"/><stop offset="0.4289" stop-color="rgb(10,104,10)"/><stop offset="0.4396" stop-color="rgb(10,104,10)"/><stop offset="0.4525" stop-color="rgb(10,105,10)"/><stop offset="0.4673" stop-color="rgb(10,104,10)"/><stop offset="0.4833" stop-color="rgb(10,103,10)"/><stop offset="0.5000" stop-color="rgb(9,102,9)"/><stop offset="0.5167" stop-color="rgb(9,100,9)"/><stop offset="0.5327" stop-color="rgb(9,97,9)"/><stop offset="0.5475" stop-color="rgb(9,95,9)"/><stop offset="0.5604" stop-color="rgb(9,92,9)"/><stop offset="0.5711" stop-color="rgb(8,89,8)"/><stop offset="0.5790" stop-color="rgb(8,85,8)"/><stop offset="0.5838" stop-color="rgb(8,82,8)"/><stop offset="0.5855" stop-color="rgb(7,80,7)"/></linearGradient><linearGradient id="d129" gradientUnits="userSpaceOnUse" x1="993.7" y1="0" x2="1307.3" y2="0"><stop offset="0.4388" stop-color="rgb(9,95,9)"/><stop offset="0.4400" stop-color="rgb(9,97,9)"/><stop offset="0.4435" stop-color="rgb(9,98,9)"/><stop offset="0.4491" stop-color="rgb(9,99,9)"/><stop offset="0.4567" stop-color="rgb(9,100,9)"/><stop offset="0.4660" stop-color="rgb(9,100,9)"/><stop offset="0.4766" stop-color="rgb(9,99,9)"/><stop offset="0.4881" stop-color="rgb(9,99,9)"/><stop offset="0.5000" stop-color="rgb(9,98,9)"/><stop offset="0.5119" stop-color="rgb(9,96,9)"/><stop offset="0.5234" stop-color="rgb(9,94,9)"/><stop offset="0.5340" stop-color="rgb(9,92,9)"/><stop offset="0.5433" stop-color="rgb(8,90,8)"/><stop offset="0.5509" stop-color="rgb(8,88,8)"/><stop offset="0.5565" stop-color="rgb(8,86,8)"/><stop offset="0.5600" stop-color="rgb(8,84,8)"/><stop offset="0.5612" stop-color="rgb(8,82,8)"/></linearGradient><linearGradient id="d130" gradientUnits="userSpaceOnUse" x1="993.7" y1="0" x2="1307.3" y2="0"><stop offset="0.4632" stop-color="rgb(9,92,9)"/><stop offset="0.4639" stop-color="rgb(9,93,9)"/><stop offset="0.4660" stop-color="rgb(9,94,9)"/><stop offset="0.4694" stop-color="rgb(9,94,9)"/><stop offset="0.4740" stop-color="rgb(9,95,9)"/><stop offset="0.4796" stop-color="rgb(9,95,9)"/><stop offset="0.4859" stop-color="rgb(9,95,9)"/><stop offset="0.4928" stop-color="rgb(9,94,9)"/><stop offset="0.5000" stop-color="rgb(9,94,9)"/><stop offset="0.5072" stop-color="rgb(9,93,9)"/><stop offset="0.5141" stop-color="rgb(9,92,9)"/><stop offset="0.5204" stop-color="rgb(8,90,8)"/><stop offset="0.5260" stop-color="rgb(8,89,8)"/><stop offset="0.5306" stop-color="rgb(8,88,8)"/><stop offset="0.5340" stop-color="rgb(8,87,8)"/><stop offset="0.5361" stop-color="rgb(8,85,8)"/><stop offset="0.5368" stop-color="rgb(8,84,8)"/></linearGradient><linearGradient id="d131" gradientUnits="userSpaceOnUse" x1="993.7" y1="0" x2="1307.3" y2="0"><stop offset="0.4877" stop-color="rgb(8,89,8)"/><stop offset="0.4880" stop-color="rgb(8,89,8)"/><stop offset="0.4887" stop-color="rgb(8,90,8)"/><stop offset="0.4898" stop-color="rgb(8,90,8)"/><stop offset="0.4913" stop-color="rgb(8,90,8)"/><stop offset="0.4932" stop-color="rgb(8,90,8)"/><stop offset="0.4953" stop-color="rgb(8,90,8)"/><stop offset="0.4976" stop-color="rgb(8,90,8)"/><stop offset="0.5000" stop-color="rgb(8,90,8)"/><stop offset="0.5024" stop-color="rgb(8,89,8)"/><stop offset="0.5047" stop-color="rgb(8,89,8)"/><stop offset="0.5068" stop-color="rgb(8,89,8)"/><stop offset="0.5087" stop-color="rgb(8,88,8)"/><stop offset="0.5102" stop-color="rgb(8,88,8)"/><stop offset="0.5113" stop-color="rgb(8,87,8)"/><stop offset="0.5120" stop-color="rgb(8,87,8)"/><stop offset="0.5123" stop-color="rgb(8,87,8)"/></linearGradient></defs>
<g><path d="M993.70,643.00 A156.80,119.00 0 0 1 1307.30,643.00 A156.80,95.00 0 0 1 993.70,643.00 Z" fill="url(#d100)"/><path d="M993.89,637.16 A156.80,119.00 0 0 1 1307.11,637.16 A156.61,94.89 0 0 1 993.89,637.16 Z" fill="url(#d101)"/><path d="M994.46,631.34 A156.80,119.00 0 0 1 1306.54,631.34 A156.04,94.54 0 0 1 994.46,631.34 Z" fill="url(#d102)"/><path d="M995.40,625.54 A156.80,119.00 0 0 1 1305.60,625.54 A155.10,93.97 0 0 1 995.40,625.54 Z" fill="url(#d103)"/><path d="M996.71,619.78 A156.80,119.00 0 0 1 1304.29,619.78 A153.79,93.17 0 0 1 996.71,619.78 Z" fill="url(#d104)"/><path d="M998.40,614.09 A156.80,119.00 0 0 1 1302.60,614.09 A152.10,92.15 0 0 1 998.40,614.09 Z" fill="url(#d105)"/><path d="M1000.45,608.46 A156.80,119.00 0 0 1 1300.55,608.46 A150.05,90.91 0 0 1 1000.45,608.46 Z" fill="url(#d106)"/><path d="M1002.87,602.91 A156.80,119.00 0 0 1 1298.13,602.91 A147.63,89.45 0 0 1 1002.87,602.91 Z" fill="url(#d107)"/><path d="M1005.64,597.46 A156.80,119.00 0 0 1 1295.36,597.46 A144.86,87.77 0 0 1 1005.64,597.46 Z" fill="url(#d108)"/><path d="M1008.75,592.12 A156.80,119.00 0 0 1 1292.25,592.12 A141.75,85.88 0 0 1 1008.75,592.12 Z" fill="url(#d109)"/><path d="M1012.21,586.90 A156.80,119.00 0 0 1 1288.79,586.90 A138.29,83.78 0 0 1 1012.21,586.90 Z" fill="url(#d110)"/><path d="M1016.01,581.82 A156.80,119.00 0 0 1 1284.99,581.82 A134.49,81.48 0 0 1 1016.01,581.82 Z" fill="url(#d111)"/><path d="M1020.13,576.89 A156.80,119.00 0 0 1 1280.87,576.89 A130.37,78.99 0 0 1 1020.13,576.89 Z" fill="url(#d112)"/><path d="M1024.56,572.11 A156.80,119.00 0 0 1 1276.44,572.11 A125.94,76.30 0 0 1 1024.56,572.11 Z" fill="url(#d113)"/><path d="M1029.29,567.51 A156.80,119.00 0 0 1 1271.71,567.51 A121.21,73.44 0 0 1 1029.29,567.51 Z" fill="url(#d114)"/><path d="M1034.32,563.08 A156.80,119.00 0 0 1 1266.68,563.08 A116.18,70.39 0 0 1 1034.32,563.08 Z" fill="url(#d115)"/><path d="M1039.63,558.85 A156.80,119.00 0 0 1 1261.37,558.85 A110.87,67.18 0 0 1 1039.63,558.85 Z" fill="url(#d116)"/><path d="M1045.20,554.83 A156.80,119.00 0 0 1 1255.80,554.83 A105.30,63.80 0 0 1 1045.20,554.83 Z" fill="url(#d117)"/><path d="M1051.03,551.01 A156.80,119.00 0 0 1 1249.97,551.01 A99.47,60.27 0 0 1 1051.03,551.01 Z" fill="url(#d118)"/><path d="M1057.09,547.42 A156.80,119.00 0 0 1 1243.91,547.42 A93.41,56.59 0 0 1 1057.09,547.42 Z" fill="url(#d119)"/><path d="M1063.39,544.06 A156.80,119.00 0 0 1 1237.61,544.06 A87.11,52.78 0 0 1 1063.39,544.06 Z" fill="url(#d120)"/><path d="M1069.89,540.93 A156.80,119.00 0 0 1 1231.11,540.93 A80.61,48.84 0 0 1 1069.89,540.93 Z" fill="url(#d121)"/><path d="M1076.58,538.05 A156.80,119.00 0 0 1 1224.42,538.05 A73.92,44.78 0 0 1 1076.58,538.05 Z" fill="url(#d122)"/><path d="M1083.46,535.43 A156.80,119.00 0 0 1 1217.54,535.43 A67.04,40.62 0 0 1 1083.46,535.43 Z" fill="url(#d123)"/><path d="M1090.50,533.06 A156.80,119.00 0 0 1 1210.50,533.06 A60.00,36.35 0 0 1 1090.50,533.06 Z" fill="url(#d124)"/><path d="M1097.68,530.96 A156.80,119.00 0 0 1 1203.32,530.96 A52.82,32.00 0 0 1 1097.68,530.96 Z" fill="url(#d125)"/><path d="M1104.98,529.12 A156.80,119.00 0 0 1 1196.02,529.12 A45.52,27.58 0 0 1 1104.98,529.12 Z" fill="url(#d126)"/><path d="M1112.40,527.57 A156.80,119.00 0 0 1 1188.60,527.57 A38.10,23.08 0 0 1 1112.40,527.57 Z" fill="url(#d127)"/><path d="M1119.91,526.29 A156.80,119.00 0 0 1 1181.09,526.29 A30.59,18.53 0 0 1 1119.91,526.29 Z" fill="url(#d128)"/><path d="M1127.49,525.29 A156.80,119.00 0 0 1 1173.51,525.29 A23.01,13.94 0 0 1 1127.49,525.29 Z" fill="url(#d129)"/><path d="M1135.13,524.57 A156.80,119.00 0 0 1 1165.87,524.57 A15.37,9.31 0 0 1 1135.13,524.57 Z" fill="url(#d130)"/><path d="M1142.81,524.14 A156.80,119.00 0 0 1 1158.19,524.14 A7.69,4.66 0 0 1 1142.81,524.14 Z" fill="url(#d131)"/></g>
<clipPath id="c132"><path d="M993.70,643.00 A156.80,119.00 0 0 1 1307.30,643.00 A156.80,95.00 0 0 1 993.70,643.00 Z"/></clipPath>
<path clip-path="url(#c132)" d="M1146.65,524.04 A3.85,2.33 0 0 0 1154.35,524.04 M1142.81,524.14 A7.69,4.66 0 0 0 1158.19,524.14 M1138.97,524.32 A11.53,6.99 0 0 0 1162.03,524.32 M1135.13,524.57 A15.37,9.31 0 0 0 1165.87,524.57 M1131.31,524.89 A19.19,11.63 0 0 0 1169.69,524.89 M1127.49,525.29 A23.01,13.94 0 0 0 1173.51,525.29 M1123.69,525.75 A26.81,16.24 0 0 0 1177.31,525.75 M1119.91,526.29 A30.59,18.53 0 0 0 1181.09,526.29 M1116.14,526.89 A34.36,20.81 0 0 0 1184.86,526.89 M1112.40,527.57 A38.10,23.08 0 0 0 1188.60,527.57 M1108.68,528.31 A41.82,25.34 0 0 0 1192.32,528.31 M1104.98,529.12 A45.52,27.58 0 0 0 1196.02,529.12 M1101.31,530.01 A49.19,29.80 0 0 0 1199.69,530.01 M1097.68,530.96 A52.82,32.00 0 0 0 1203.32,530.96 M1094.07,531.97 A56.43,34.19 0 0 0 1206.93,531.97 M1090.50,533.06 A60.00,36.35 0 0 0 1210.50,533.06 M1086.96,534.21 A63.54,38.50 0 0 0 1214.04,534.21 M1083.46,535.43 A67.04,40.62 0 0 0 1217.54,535.43 M1080.00,536.71 A70.50,42.71 0 0 0 1221.00,536.71 M1076.58,538.05 A73.92,44.78 0 0 0 1224.42,538.05 M1073.21,539.46 A77.29,46.83 0 0 0 1227.79,539.46 M1069.89,540.93 A80.61,48.84 0 0 0 1231.11,540.93 M1066.61,542.46 A83.89,50.82 0 0 0 1234.39,542.46 M1063.39,544.06 A87.11,52.78 0 0 0 1237.61,544.06 M1060.21,545.71 A90.29,54.70 0 0 0 1240.79,545.71 M1057.09,547.42 A93.41,56.59 0 0 0 1243.91,547.42 M1054.03,549.19 A96.47,58.45 0 0 0 1246.97,549.19 M1051.03,551.01 A99.47,60.27 0 0 0 1249.97,551.01 M1048.08,552.89 A102.42,62.05 0 0 0 1252.92,552.89 M1045.20,554.83 A105.30,63.80 0 0 0 1255.80,554.83 M1042.38,556.81 A108.12,65.51 0 0 0 1258.62,556.81 M1039.63,558.85 A110.87,67.18 0 0 0 1261.37,558.85 M1036.94,560.94 A113.56,68.80 0 0 0 1264.06,560.94 M1034.32,563.08 A116.18,70.39 0 0 0 1266.68,563.08 M1031.77,565.27 A118.73,71.93 0 0 0 1269.23,565.27 M1029.29,567.51 A121.21,73.44 0 0 0 1271.71,567.51 M1026.89,569.79 A123.61,74.89 0 0 0 1274.11,569.79 M1024.56,572.11 A125.94,76.30 0 0 0 1276.44,572.11 M1022.30,574.48 A128.20,77.67 0 0 0 1278.70,574.48 M1020.13,576.89 A130.37,78.99 0 0 0 1280.87,576.89 M1018.03,579.34 A132.47,80.26 0 0 0 1282.97,579.34 M1016.01,581.82 A134.49,81.48 0 0 0 1284.99,581.82 M1014.07,584.35 A136.43,82.66 0 0 0 1286.93,584.35 M1012.21,586.90 A138.29,83.78 0 0 0 1288.79,586.90 M1010.44,589.50 A140.06,84.86 0 0 0 1290.56,589.50 M1008.75,592.12 A141.75,85.88 0 0 0 1292.25,592.12 M1007.15,594.78 A143.35,86.85 0 0 0 1293.85,594.78 M1005.64,597.46 A144.86,87.77 0 0 0 1295.36,597.46 M1004.21,600.17 A146.29,88.63 0 0 0 1296.79,600.17 M1002.87,602.91 A147.63,89.45 0 0 0 1298.13,602.91 M1001.61,605.67 A148.89,90.21 0 0 0 1299.39,605.67 M1000.45,608.46 A150.05,90.91 0 0 0 1300.55,608.46 M999.38,611.26 A151.12,91.56 0 0 0 1301.62,611.26 M998.40,614.09 A152.10,92.15 0 0 0 1302.60,614.09 M997.51,616.93 A152.99,92.69 0 0 0 1303.49,616.93 M996.71,619.78 A153.79,93.17 0 0 0 1304.29,619.78 M996.01,622.66 A154.49,93.60 0 0 0 1304.99,622.66 M995.40,625.54 A155.10,93.97 0 0 0 1305.60,625.54 M994.88,628.43 A155.62,94.29 0 0 0 1306.12,628.43 M994.46,631.34 A156.04,94.54 0 0 0 1306.54,631.34 M994.12,634.25 A156.38,94.74 0 0 0 1306.88,634.25 M993.89,637.16 A156.61,94.89 0 0 0 1307.11,637.16 M993.75,640.08 A156.75,94.97 0 0 0 1307.25,640.08 M993.70,643.00 A156.80,95.00 0 0 0 1307.30,643.00" fill="none" stroke="#000" stroke-opacity="0.35" stroke-width="0.50"/>
<path clip-path="url(#c132)" d="M1150.5,524.0 L1140.4,525.3 L1130.3,527.2 L1120.4,529.5 L1110.5,532.3 L1100.9,535.6 L1091.4,539.4 L1082.2,543.6 L1073.3,548.2 L1064.7,553.2 L1056.5,558.6 L1048.7,564.4 L1041.3,570.5 L1034.4,576.9 L1028.0,583.6 L1022.1,590.6 L1016.8,597.8 L1012.0,605.2 L1007.8,612.7 L1004.3,620.4 L1001.3,628.1 L999.0,636.0 L997.4,643.8 L996.4,651.7 L996.1,659.5 M1150.5,524.0 L1140.9,526.4 L1131.3,529.3 L1121.8,532.6 L1112.4,536.5 L1103.1,540.8 L1094.1,545.5 L1085.3,550.6 L1076.8,556.2 L1068.6,562.1 L1060.8,568.4 L1053.3,575.0 L1046.3,581.8 L1039.7,589.0 L1033.6,596.3 L1028.0,603.9 L1022.9,611.6 L1018.4,619.5 L1014.4,627.5 L1011.0,635.5 L1008.2,643.6 L1006.0,651.7 L1004.4,659.7 L1003.5,667.6 L1003.2,675.5 M1150.5,524.0 L1141.6,527.4 L1132.8,531.2 L1124.0,535.6 L1115.4,540.3 L1106.9,545.6 L1098.5,551.2 L1090.4,557.3 L1082.6,563.7 L1075.1,570.4 L1067.8,577.5 L1061.0,584.8 L1054.5,592.4 L1048.4,600.3 L1042.8,608.2 L1037.6,616.4 L1032.9,624.6 L1028.7,633.0 L1025.0,641.3 L1021.9,649.7 L1019.3,658.1 L1017.3,666.4 L1015.9,674.6 L1015.0,682.6 L1014.7,690.5 M1150.5,524.0 L1142.6,528.2 L1134.8,533.0 L1127.1,538.2 L1119.4,543.9 L1111.9,549.9 L1104.5,556.4 L1097.4,563.3 L1090.4,570.5 L1083.8,578.0 L1077.4,585.8 L1071.3,593.8 L1065.6,602.0 L1060.2,610.4 L1055.2,619.0 L1050.6,627.7 L1046.5,636.4 L1042.8,645.1 L1039.5,653.9 L1036.8,662.6 L1034.5,671.2 L1032.7,679.7 L1031.4,688.0 L1030.6,696.2 L1030.4,704.1 M1150.5,524.0 L1143.9,529.0 L1137.3,534.5 L1130.8,540.5 L1124.4,546.9 L1118.1,553.7 L1111.9,560.9 L1105.9,568.5 L1100.1,576.3 L1094.5,584.5 L1089.1,592.9 L1084.0,601.5 L1079.2,610.3 L1074.7,619.3 L1070.5,628.3 L1066.7,637.4 L1063.2,646.5 L1060.1,655.6 L1057.4,664.7 L1055.1,673.7 L1053.1,682.5 L1051.6,691.2 L1050.6,699.6 L1049.9,707.8 L1049.7,715.8 M1150.5,524.0 L1145.4,529.6 L1140.3,535.8 L1135.2,542.3 L1130.2,549.3 L1125.3,556.8 L1120.5,564.5 L1115.8,572.7 L1111.3,581.1 L1106.9,589.8 L1102.8,598.7 L1098.8,607.8 L1095.1,617.0 L1091.6,626.4 L1088.3,635.8 L1085.3,645.3 L1082.6,654.8 L1080.2,664.2 L1078.1,673.5 L1076.3,682.7 L1074.8,691.7 L1073.6,700.5 L1072.8,709.0 L1072.3,717.3 L1072.1,725.3 M1150.5,524.0 L1147.0,530.1 L1143.5,536.7 L1140.0,543.7 L1136.6,551.2 L1133.3,559.0 L1130.0,567.2 L1126.8,575.8 L1123.7,584.6 L1120.7,593.7 L1117.9,602.9 L1115.1,612.4 L1112.6,622.0 L1110.2,631.7 L1108.0,641.4 L1105.9,651.1 L1104.1,660.8 L1102.4,670.4 L1101.0,679.9 L1099.7,689.3 L1098.7,698.4 L1097.9,707.3 L1097.3,716.0 L1097.0,724.3 L1096.9,732.3 M1150.5,524.0 L1148.7,530.4 L1146.9,537.2 L1145.2,544.5 L1143.5,552.3 L1141.7,560.4 L1140.1,568.9 L1138.5,577.7 L1136.9,586.7 L1135.4,596.0 L1133.9,605.5 L1132.5,615.2 L1131.2,625.0 L1130.0,634.9 L1128.9,644.8 L1127.9,654.7 L1126.9,664.5 L1126.1,674.3 L1125.3,683.9 L1124.7,693.3 L1124.2,702.6 L1123.8,711.5 L1123.5,720.2 L1123.3,728.6 L1123.3,736.6 M1150.5,524.0 L1150.5,530.5 L1150.5,537.4 L1150.5,544.8 L1150.5,552.6 L1150.5,560.9 L1150.5,569.4 L1150.5,578.3 L1150.5,587.4 L1150.5,596.8 L1150.5,606.4 L1150.5,616.2 L1150.5,626.0 L1150.5,636.0 L1150.5,645.9 L1150.5,655.9 L1150.5,665.8 L1150.5,675.6 L1150.5,685.2 L1150.5,694.7 L1150.5,704.0 L1150.5,713.0 L1150.5,721.7 L1150.5,730.0 L1150.5,738.0 M1150.5,524.0 L1152.3,530.4 L1154.1,537.2 L1155.8,544.5 L1157.5,552.3 L1159.3,560.4 L1160.9,568.9 L1162.5,577.7 L1164.1,586.7 L1165.6,596.0 L1167.1,605.5 L1168.5,615.2 L1169.8,625.0 L1171.0,634.9 L1172.1,644.8 L1173.1,654.7 L1174.1,664.5 L1174.9,674.3 L1175.7,683.9 L1176.3,693.3 L1176.8,702.6 L1177.2,711.5 L1177.5,720.2 L1177.7,728.6 L1177.7,736.6 M1150.5,524.0 L1154.0,530.1 L1157.5,536.7 L1161.0,543.7 L1164.4,551.2 L1167.7,559.0 L1171.0,567.2 L1174.2,575.8 L1177.3,584.6 L1180.3,593.7 L1183.1,602.9 L1185.9,612.4 L1188.4,622.0 L1190.8,631.7 L1193.0,641.4 L1195.1,651.1 L1196.9,660.8 L1198.6,670.4 L1200.0,679.9 L1201.3,689.3 L1202.3,698.4 L1203.1,707.3 L1203.7,716.0 L1204.0,724.3 L1204.1,732.3 M1150.5,524.0 L1155.6,529.6 L1160.7,535.8 L1165.8,542.3 L1170.8,549.3 L1175.7,556.8 L1180.5,564.5 L1185.2,572.7 L1189.7,581.1 L1194.1,589.8 L1198.2,598.7 L1202.2,607.8 L1205.9,617.0 L1209.4,626.4 L1212.7,635.8 L1215.7,645.3 L1218.4,654.8 L1220.8,664.2 L1222.9,673.5 L1224.7,682.7 L1226.2,691.7 L1227.4,700.5 L1228.2,709.0 L1228.7,717.3 L1228.9,725.3 M1150.5,524.0 L1157.1,529.0 L1163.7,534.5 L1170.2,540.5 L1176.6,546.9 L1182.9,553.7 L1189.1,560.9 L1195.1,568.5 L1200.9,576.3 L1206.5,584.5 L1211.9,592.9 L1217.0,601.5 L1221.8,610.3 L1226.3,619.3 L1230.5,628.3 L1234.3,637.4 L1237.8,646.5 L1240.9,655.6 L1243.6,664.7 L1245.9,673.7 L1247.9,682.5 L1249.4,691.2 L1250.4,699.6 L1251.1,707.8 L1251.3,715.8 M1150.5,524.0 L1158.4,528.2 L1166.2,533.0 L1173.9,538.2 L1181.6,543.9 L1189.1,549.9 L1196.5,556.4 L1203.6,563.3 L1210.6,570.5 L1217.2,578.0 L1223.6,585.8 L1229.7,593.8 L1235.4,602.0 L1240.8,610.4 L1245.8,619.0 L1250.4,627.7 L1254.5,636.4 L1258.2,645.1 L1261.5,653.9 L1264.2,662.6 L1266.5,671.2 L1268.3,679.7 L1269.6,688.0 L1270.4,696.2 L1270.6,704.1 M1150.5,524.0 L1159.4,527.4 L1168.2,531.2 L1177.0,535.6 L1185.6,540.3 L1194.1,545.6 L1202.5,551.2 L1210.6,557.3 L1218.4,563.7 L1225.9,570.4 L1233.2,577.5 L1240.0,584.8 L1246.5,592.4 L1252.6,600.3 L1258.2,608.2 L1263.4,616.4 L1268.1,624.6 L1272.3,633.0 L1276.0,641.3 L1279.1,649.7 L1281.7,658.1 L1283.7,666.4 L1285.1,674.6 L1286.0,682.6 L1286.3,690.5 M1150.5,524.0 L1160.1,526.4 L1169.7,529.3 L1179.2,532.6 L1188.6,536.5 L1197.9,540.8 L1206.9,545.5 L1215.7,550.6 L1224.2,556.2 L1232.4,562.1 L1240.2,568.4 L1247.7,575.0 L1254.7,581.8 L1261.3,589.0 L1267.4,596.3 L1273.0,603.9 L1278.1,611.6 L1282.6,619.5 L1286.6,627.5 L1290.0,635.5 L1292.8,643.6 L1295.0,651.7 L1296.6,659.7 L1297.5,667.6 L1297.8,675.5 M1150.5,524.0 L1160.6,525.3 L1170.7,527.2 L1180.6,529.5 L1190.5,532.3 L1200.1,535.6 L1209.6,539.4 L1218.8,543.6 L1227.7,548.2 L1236.3,553.2 L1244.5,558.6 L1252.3,564.4 L1259.7,570.5 L1266.6,576.9 L1273.0,583.6 L1278.9,590.6 L1284.2,597.8 L1289.0,605.2 L1293.2,612.7 L1296.7,620.4 L1299.7,628.1 L1302.0,636.0 L1303.6,643.8 L1304.6,651.7 L1304.9,659.5" fill="none" stroke="#000" stroke-opacity="0.50" stroke-width="0.60"/>
<polygon points="412.0,59.5 447.0,59.5 454.0,69.0 447.0,78.5 412.0,78.5" fill="#0000ff"/>
<text x="416.5" y="75.0" class="tg">Min</text>
<polygon points="408.0,106.5 445.5,106.5 454.0,116.0 445.5,125.5 408.0,125.5" fill="#ff0000"/>
<text x="412.5" y="122.0" class="tg">Max</text>
<polygon points="1108.5,59.0 1144.5,59.0 1152.0,68.5 1144.5,78.0 1108.5,78.0" fill="#0000ff"/>
<text x="1113.0" y="74.5" class="tg">Min</text>
<polygon points="1102.5,106.0 1141.5,106.0 1150.0,115.5 1141.5,125.0 1102.5,125.0" fill="#ff0000"/>
<text x="1107.0" y="121.5" class="tg">Max</text>
<polygon points="607.3,578.6 642.9,578.6 650.4,588.2 642.9,597.9 607.3,597.9" fill="#0000ff"/>
<text x="611.8" y="594.4" class="tg">Min</text>
<polygon points="555.0,632.7 593.6,632.7 602.0,642.1 593.6,651.4 555.0,651.4" fill="#ff0000"/>
<text x="559.5" y="647.9" class="tg">Max</text>
<polygon points="1311.0,581.5 1347.0,581.5 1354.0,590.8 1347.0,600.0 1311.0,600.0" fill="#0000ff"/>
<text x="1315.5" y="596.5" class="tg">Min</text>
<polygon points="1258.3,633.4 1297.3,633.4 1306.2,642.5 1297.3,651.7 1258.3,651.7" fill="#ff0000"/>
<text x="1262.8" y="648.2" class="tg">Max</text>
<text x="22.0" y="43.2" class="let">A</text>
<rect x="18.00" y="65.70" width="29.00" height="32.27" fill="rgb(237,28,28)" stroke="#3a3a3a" stroke-width="0.8"/>
<rect x="18.00" y="97.97" width="29.00" height="32.27" fill="rgb(242,176,0)" stroke="#3a3a3a" stroke-width="0.8"/>
<rect x="18.00" y="130.24" width="29.00" height="32.27" fill="rgb(255,255,0)" stroke="#3a3a3a" stroke-width="0.8"/>
<rect x="18.00" y="162.51" width="29.00" height="32.27" fill="rgb(186,255,0)" stroke="#3a3a3a" stroke-width="0.8"/>
<rect x="18.00" y="194.78" width="29.00" height="32.27" fill="rgb(92,255,0)" stroke="#3a3a3a" stroke-width="0.8"/>
<rect x="18.00" y="227.05" width="29.00" height="32.27" fill="rgb(100,255,178)" stroke="#3a3a3a" stroke-width="0.8"/>
<rect x="18.00" y="259.32" width="29.00" height="32.27" fill="rgb(100,255,255)" stroke="#3a3a3a" stroke-width="0.8"/>
<rect x="18.00" y="291.59" width="29.00" height="32.27" fill="rgb(80,170,255)" stroke="#3a3a3a" stroke-width="0.8"/>
<rect x="18.00" y="323.86" width="29.00" height="32.27" fill="rgb(50,15,255)" stroke="#3a3a3a" stroke-width="0.8"/>
<text x="64.0" y="73.0" class="lb">0.003749 Max</text>
<text x="64.0" y="105.2" class="lr">0.0034212</text>
<text x="64.0" y="137.4" class="lr">0.003122</text>
<text x="64.0" y="169.5" class="lr">0.002849</text>
<text x="64.0" y="201.7" class="lr">0.0025998</text>
<text x="64.0" y="233.9" class="lr">0.0023725</text>
<text x="64.0" y="266.1" class="lr">0.002165</text>
<text x="64.0" y="298.3" class="lr">0.0019757</text>
<text x="64.0" y="330.4" class="lr">0.0018029</text>
<text x="64.0" y="362.6" class="lb">0.0016452 Min</text>
<text x="725.0" y="43.2" class="let">B</text>
<rect x="722.20" y="67.50" width="29.30" height="32.58" fill="rgb(237,28,28)" stroke="#3a3a3a" stroke-width="0.8"/>
<rect x="722.20" y="100.08" width="29.30" height="32.58" fill="rgb(242,176,0)" stroke="#3a3a3a" stroke-width="0.8"/>
<rect x="722.20" y="132.66" width="29.30" height="32.58" fill="rgb(255,255,0)" stroke="#3a3a3a" stroke-width="0.8"/>
<rect x="722.20" y="165.24" width="29.30" height="32.58" fill="rgb(186,255,0)" stroke="#3a3a3a" stroke-width="0.8"/>
<rect x="722.20" y="197.82" width="29.30" height="32.58" fill="rgb(92,255,0)" stroke="#3a3a3a" stroke-width="0.8"/>
<rect x="722.20" y="230.40" width="29.30" height="32.58" fill="rgb(100,255,178)" stroke="#3a3a3a" stroke-width="0.8"/>
<rect x="722.20" y="262.98" width="29.30" height="32.58" fill="rgb(100,255,255)" stroke="#3a3a3a" stroke-width="0.8"/>
<rect x="722.20" y="295.56" width="29.30" height="32.58" fill="rgb(80,170,255)" stroke="#3a3a3a" stroke-width="0.8"/>
<rect x="722.20" y="328.14" width="29.30" height="32.58" fill="rgb(50,15,255)" stroke="#3a3a3a" stroke-width="0.8"/>
<text x="770.0" y="75.0" class="lb">307.42 Max</text>
<text x="770.0" y="107.5" class="lr">288.25</text>
<text x="770.0" y="140.0" class="lr">269.08</text>
<text x="770.0" y="172.5" class="lr">249.91</text>
<text x="770.0" y="205.0" class="lr">230.74</text>
<text x="770.0" y="237.5" class="lr">211.57</text>
<text x="770.0" y="270.0" class="lr">192.41</text>
<text x="770.0" y="302.5" class="lr">173.24</text>
<text x="770.0" y="335.0" class="lr">154.07</text>
<text x="770.0" y="367.5" class="lb">134.9 Min</text>
<text x="22.0" y="459.4" class="let">C</text>
<rect x="16.00" y="480.10" width="29.00" height="32.36" fill="rgb(237,28,28)" stroke="#3a3a3a" stroke-width="0.8"/>
<rect x="16.00" y="512.46" width="29.00" height="32.36" fill="rgb(242,176,0)" stroke="#3a3a3a" stroke-width="0.8"/>
<rect x="16.00" y="544.82" width="29.00" height="32.36" fill="rgb(255,255,0)" stroke="#3a3a3a" stroke-width="0.8"/>
<rect x="16.00" y="577.18" width="29.00" height="32.36" fill="rgb(186,255,0)" stroke="#3a3a3a" stroke-width="0.8"/>
<rect x="16.00" y="609.54" width="29.00" height="32.36" fill="rgb(92,255,0)" stroke="#3a3a3a" stroke-width="0.8"/>
<rect x="16.00" y="641.90" width="29.00" height="32.36" fill="rgb(100,255,178)" stroke="#3a3a3a" stroke-width="0.8"/>
<rect x="16.00" y="674.26" width="29.00" height="32.36" fill="rgb(100,255,255)" stroke="#3a3a3a" stroke-width="0.8"/>
<rect x="16.00" y="706.62" width="29.00" height="32.36" fill="rgb(80,170,255)" stroke="#3a3a3a" stroke-width="0.8"/>
<rect x="16.00" y="738.98" width="29.00" height="32.36" fill="rgb(50,15,255)" stroke="#3a3a3a" stroke-width="0.8"/>
<text x="62.0" y="487.9" class="lb">0.0063448 Max</text>
<text x="62.0" y="520.1" class="lr">0.0054585</text>
<text x="62.0" y="552.3" class="lr">0.004696</text>
<text x="62.0" y="584.5" class="lr">0.00404</text>
<text x="62.0" y="616.7" class="lr">0.0034757</text>
<text x="62.0" y="648.9" class="lr">0.0029901</text>
<text x="62.0" y="681.1" class="lr">0.0025724</text>
<text x="62.0" y="713.3" class="lr">0.0022131</text>
<text x="62.0" y="745.5" class="lr">0.001904</text>
<text x="62.0" y="777.7" class="lb">0.001638 Min</text>
<text x="725.0" y="459.0" class="let">D</text>
<rect x="723.30" y="473.00" width="28.90" height="32.60" fill="rgb(237,28,28)" stroke="#3a3a3a" stroke-width="0.8"/>
<rect x="723.30" y="505.60" width="28.90" height="32.60" fill="rgb(242,176,0)" stroke="#3a3a3a" stroke-width="0.8"/>
<rect x="723.30" y="538.20" width="28.90" height="32.60" fill="rgb(255,255,0)" stroke="#3a3a3a" stroke-width="0.8"/>
<rect x="723.30" y="570.80" width="28.90" height="32.60" fill="rgb(186,255,0)" stroke="#3a3a3a" stroke-width="0.8"/>
<rect x="723.30" y="603.40" width="28.90" height="32.60" fill="rgb(92,255,0)" stroke="#3a3a3a" stroke-width="0.8"/>
<rect x="723.30" y="636.00" width="28.90" height="32.60" fill="rgb(100,255,178)" stroke="#3a3a3a" stroke-width="0.8"/>
<rect x="723.30" y="668.60" width="28.90" height="32.60" fill="rgb(100,255,255)" stroke="#3a3a3a" stroke-width="0.8"/>
<rect x="723.30" y="701.20" width="28.90" height="32.60" fill="rgb(80,170,255)" stroke="#3a3a3a" stroke-width="0.8"/>
<rect x="723.30" y="733.80" width="28.90" height="32.60" fill="rgb(50,15,255)" stroke="#3a3a3a" stroke-width="0.8"/>
<text x="770.0" y="480.1" class="lb">520.27 Max</text>
<text x="770.0" y="512.7" class="lr">477.39</text>
<text x="770.0" y="545.3" class="lr">434.5</text>
<text x="770.0" y="577.9" class="lr">391.62</text>
<text x="770.0" y="610.5" class="lr">348.73</text>
<text x="770.0" y="643.1" class="lr">305.84</text>
<text x="770.0" y="675.6" class="lr">262.96</text>
<text x="770.0" y="708.2" class="lr">220.07</text>
<text x="770.0" y="740.8" class="lr">177.19</text>
<text x="770.0" y="773.4" class="lb">134.3 Min</text>
<rect x="4.0" y="3.0" width="1410.0" height="6.7" fill="#000"/>
<rect x="4.0" y="830.8" width="1410.0" height="6.2" fill="#000"/>
<rect x="4.0" y="3.0" width="6.0" height="834.0" fill="#000"/>
<rect x="1408.0" y="3.0" width="6.0" height="834.0" fill="#000"/>
<rect x="706.0" y="3.0" width="6.0" height="834.0" fill="#000"/>
<rect x="4.0" y="417.0" width="1410.0" height="6.0" fill="#000"/>
</svg></body></html>
